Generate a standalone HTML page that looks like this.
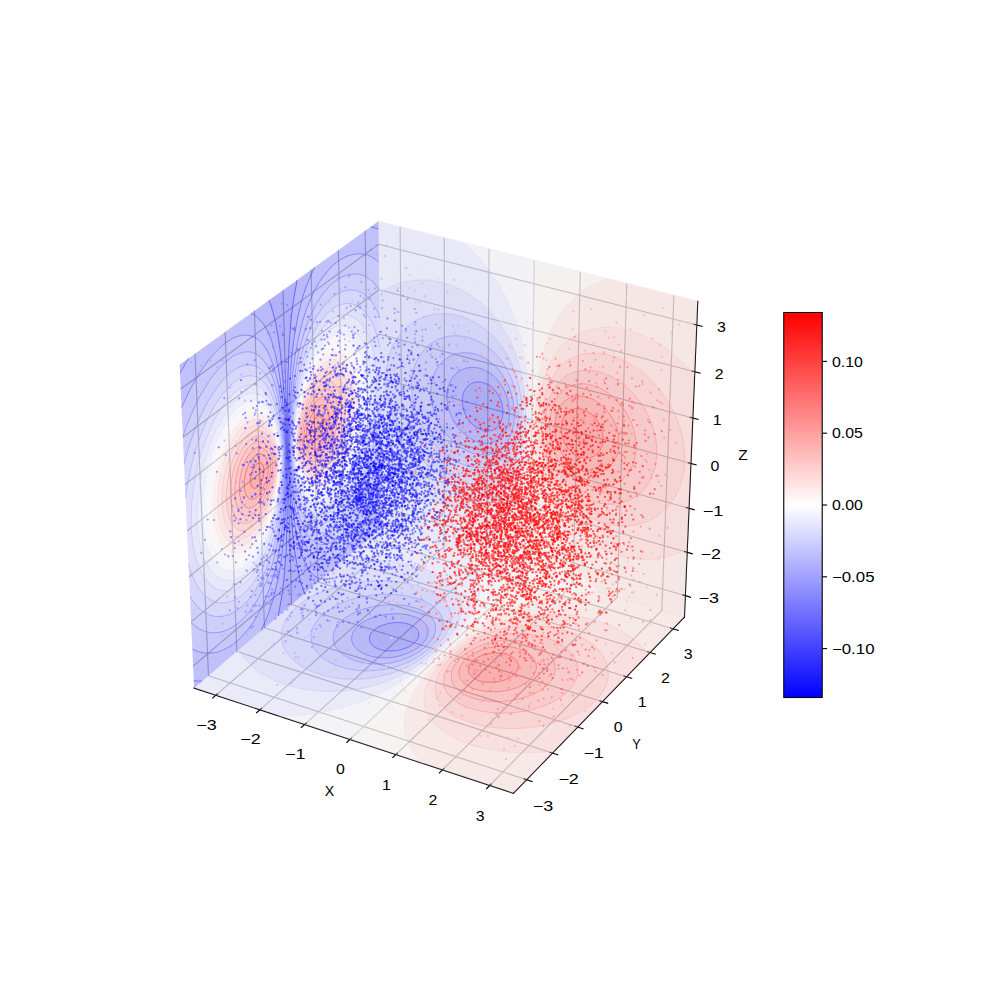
<!DOCTYPE html><html><head><meta charset="utf-8"><style>html,body{margin:0;padding:0;background:#fff}</style></head><body><svg width="1000" height="1000" viewBox="0 0 720 720" style="display:block"><defs><style type="text/css">*{stroke-linejoin:round;stroke-linecap:butt}</style></defs><g><g><path d="M0 720L720 720L720 0L0 0Z" style="fill:#ffffff"/></g><g><path d="M90 586.8L536.4 586.8L536.4 140.4L90 140.4Z" style="fill:#ffffff"/></g><g><g><path d="M139.7 495.4L274.8 379.8L272.4 159.4L129.4 262.6" style="fill:#f2f2f2;opacity:0.5;stroke:#f2f2f2;stroke-linejoin:miter"/></g></g><g><g><path d="M274.8 379.8L492.8 444.3L502.4 216.9L272.4 159.4" style="fill:#e6e6e6;opacity:0.5;stroke:#e6e6e6;stroke-linejoin:miter"/></g></g><g><g><path d="M139.7 495.4L369.7 571.2L492.8 444.3L274.8 379.8" style="fill:#ececec;opacity:0.5;stroke:#ececec;stroke-linejoin:miter"/></g></g><g><g><path d="M155.4 500.6L289.7 384.2L288.1 163.3" style="fill:none;stroke:#b0b0b0;stroke-width:0.8"/><path d="M187.2 511.1L319.9 393.2L319.9 171.3" style="fill:none;stroke:#b0b0b0;stroke-width:0.8"/><path d="M219.3 521.7L350.4 402.2L352.1 179.3" style="fill:none;stroke:#b0b0b0;stroke-width:0.8"/><path d="M251.9 532.4L381.3 411.3L384.7 187.5" style="fill:none;stroke:#b0b0b0;stroke-width:0.8"/><path d="M285 543.3L412.7 420.6L417.8 195.7" style="fill:none;stroke:#b0b0b0;stroke-width:0.8"/><path d="M318.5 554.4L444.4 430L451.3 204.1" style="fill:none;stroke:#b0b0b0;stroke-width:0.8"/><path d="M352.5 565.6L476.5 439.5L485.2 212.6" style="fill:none;stroke:#b0b0b0;stroke-width:0.8"/></g></g><g><g><path d="M140.4 254.7L150.1 486.6L379.2 561.4" style="fill:none;stroke:#b0b0b0;stroke-width:0.8"/><path d="M162.1 239L170.5 469.1L397.8 542.2" style="fill:none;stroke:#b0b0b0;stroke-width:0.8"/><path d="M183.2 223.8L190.4 452L416 523.5" style="fill:none;stroke:#b0b0b0;stroke-width:0.8"/><path d="M203.8 208.9L209.9 435.3L433.8 505.2" style="fill:none;stroke:#b0b0b0;stroke-width:0.8"/><path d="M224 194.3L228.9 419L451.1 487.3" style="fill:none;stroke:#b0b0b0;stroke-width:0.8"/><path d="M243.7 180.1L247.6 403.1L468.1 469.8" style="fill:none;stroke:#b0b0b0;stroke-width:0.8"/><path d="M262.9 166.2L265.8 387.5L484.6 452.7" style="fill:none;stroke:#b0b0b0;stroke-width:0.8"/></g></g><g><g><path d="M493.4 428.9L274.6 364.8L139 479.6" style="fill:none;stroke:#b0b0b0;stroke-width:0.8"/><path d="M494.7 397.6L274.3 334.5L137.6 447.7" style="fill:none;stroke:#b0b0b0;stroke-width:0.8"/><path d="M496.1 365.9L273.9 303.7L136.1 415.3" style="fill:none;stroke:#b0b0b0;stroke-width:0.8"/><path d="M497.5 333.7L273.6 272.4L134.7 382.3" style="fill:none;stroke:#b0b0b0;stroke-width:0.8"/><path d="M498.8 301L273.3 240.7L133.2 348.8" style="fill:none;stroke:#b0b0b0;stroke-width:0.8"/><path d="M500.3 267.7L272.9 208.6L131.7 314.8" style="fill:none;stroke:#b0b0b0;stroke-width:0.8"/><path d="M501.7 234L272.6 175.9L130.1 280.1" style="fill:none;stroke:#b0b0b0;stroke-width:0.8"/></g></g><g><g><path d="M139.7 495.4L369.7 571.2" style="fill:none;stroke:#000000;stroke-width:0.8;stroke-linecap:square"/></g><g><g><path d="M156.6 499.6L153.1 502.6" style="fill:none;stroke:#000000;stroke-width:0.8;stroke-linecap:square"/></g><g><text style="font-size:10px;font-family:'Liberation Sans',sans-serif;text-anchor:middle" x="148.7" y="525.4" textLength="14.74" lengthAdjust="spacingAndGlyphs">−3</text></g></g><g><g><path d="M188.3 510L184.8 513.1" style="fill:none;stroke:#000000;stroke-width:0.8;stroke-linecap:square"/></g><g><text style="font-size:10px;font-family:'Liberation Sans',sans-serif;text-anchor:middle" x="180.4" y="536" textLength="14.74" lengthAdjust="spacingAndGlyphs">−2</text></g></g><g><g><path d="M220.5 520.6L217 523.7" style="fill:none;stroke:#000000;stroke-width:0.8;stroke-linecap:square"/></g><g><text style="font-size:10px;font-family:'Liberation Sans',sans-serif;text-anchor:middle" x="212.6" y="546.7" textLength="14.74" lengthAdjust="spacingAndGlyphs">−1</text></g></g><g><g><path d="M253.1 531.4L249.7 534.5" style="fill:none;stroke:#000000;stroke-width:0.8;stroke-linecap:square"/></g><g><text style="font-size:10px;font-family:'Liberation Sans',sans-serif;text-anchor:middle" x="245.2" y="557.6" textLength="6.36" lengthAdjust="spacingAndGlyphs">0</text></g></g><g><g><path d="M286.1 542.2L282.8 545.4" style="fill:none;stroke:#000000;stroke-width:0.8;stroke-linecap:square"/></g><g><text style="font-size:10px;font-family:'Liberation Sans',sans-serif;text-anchor:middle" x="278.2" y="568.6" textLength="6.36" lengthAdjust="spacingAndGlyphs">1</text></g></g><g><g><path d="M319.6 553.3L316.3 556.5" style="fill:none;stroke:#000000;stroke-width:0.8;stroke-linecap:square"/></g><g><text style="font-size:10px;font-family:'Liberation Sans',sans-serif;text-anchor:middle" x="311.8" y="579.8" textLength="6.36" lengthAdjust="spacingAndGlyphs">2</text></g></g><g><g><path d="M353.6 564.5L350.4 567.8" style="fill:none;stroke:#000000;stroke-width:0.8;stroke-linecap:square"/></g><g><text style="font-size:10px;font-family:'Liberation Sans',sans-serif;text-anchor:middle" x="345.8" y="591.1" textLength="6.36" lengthAdjust="spacingAndGlyphs">3</text></g></g><g><text style="font-size:10px;font-family:'Liberation Sans',sans-serif;text-anchor:middle" x="237.2" y="573.4" textLength="6.85" lengthAdjust="spacingAndGlyphs">X</text></g></g><g><g><path d="M492.8 444.3L369.7 571.2" style="fill:none;stroke:#000000;stroke-width:0.8;stroke-linecap:square"/></g><g><g><path d="M377.3 560.8L383.1 562.7" style="fill:none;stroke:#000000;stroke-width:0.8;stroke-linecap:square"/></g><g><text style="font-size:10px;font-family:'Liberation Sans',sans-serif;text-anchor:middle" x="390.9" y="584.1" textLength="14.74" lengthAdjust="spacingAndGlyphs">−3</text></g></g><g><g><path d="M395.9 541.6L401.6 543.5" style="fill:none;stroke:#000000;stroke-width:0.8;stroke-linecap:square"/></g><g><text style="font-size:10px;font-family:'Liberation Sans',sans-serif;text-anchor:middle" x="409.4" y="564.7" textLength="14.74" lengthAdjust="spacingAndGlyphs">−2</text></g></g><g><g><path d="M414.1 522.9L419.8 524.7" style="fill:none;stroke:#000000;stroke-width:0.8;stroke-linecap:square"/></g><g><text style="font-size:10px;font-family:'Liberation Sans',sans-serif;text-anchor:middle" x="427.4" y="545.8" textLength="14.74" lengthAdjust="spacingAndGlyphs">−1</text></g></g><g><g><path d="M431.9 504.6L437.5 506.3" style="fill:none;stroke:#000000;stroke-width:0.8;stroke-linecap:square"/></g><g><text style="font-size:10px;font-family:'Liberation Sans',sans-serif;text-anchor:middle" x="445.1" y="527.3" textLength="6.36" lengthAdjust="spacingAndGlyphs">0</text></g></g><g><g><path d="M449.3 486.7L454.8 488.4" style="fill:none;stroke:#000000;stroke-width:0.8;stroke-linecap:square"/></g><g><text style="font-size:10px;font-family:'Liberation Sans',sans-serif;text-anchor:middle" x="462.3" y="509.3" textLength="6.36" lengthAdjust="spacingAndGlyphs">1</text></g></g><g><g><path d="M466.2 469.2L471.8 470.9" style="fill:none;stroke:#000000;stroke-width:0.8;stroke-linecap:square"/></g><g><text style="font-size:10px;font-family:'Liberation Sans',sans-serif;text-anchor:middle" x="479.1" y="491.6" textLength="6.36" lengthAdjust="spacingAndGlyphs">2</text></g></g><g><g><path d="M482.8 452.2L488.3 453.8" style="fill:none;stroke:#000000;stroke-width:0.8;stroke-linecap:square"/></g><g><text style="font-size:10px;font-family:'Liberation Sans',sans-serif;text-anchor:middle" x="495.5" y="474.4" textLength="6.36" lengthAdjust="spacingAndGlyphs">3</text></g></g><g><text style="font-size:10px;font-family:'Liberation Sans',sans-serif;text-anchor:middle" x="458.3" y="539.5" textLength="6.11" lengthAdjust="spacingAndGlyphs">Y</text></g></g><g><g><path d="M492.8 444.3L502.4 216.9" style="fill:none;stroke:#000000;stroke-width:0.8;stroke-linecap:square"/></g><g><g><path d="M491.6 428.3L497.1 430" style="fill:none;stroke:#000000;stroke-width:0.8;stroke-linecap:square"/></g><g><text style="font-size:10px;font-family:'Liberation Sans',sans-serif;text-anchor:middle" x="510.3" y="434.1" textLength="14.74" lengthAdjust="spacingAndGlyphs">−3</text></g></g><g><g><path d="M492.9 397.1L498.4 398.7" style="fill:none;stroke:#000000;stroke-width:0.8;stroke-linecap:square"/></g><g><text style="font-size:10px;font-family:'Liberation Sans',sans-serif;text-anchor:middle" x="511.8" y="402.8" textLength="14.74" lengthAdjust="spacingAndGlyphs">−2</text></g></g><g><g><path d="M494.2 365.4L499.8 367" style="fill:none;stroke:#000000;stroke-width:0.8;stroke-linecap:square"/></g><g><text style="font-size:10px;font-family:'Liberation Sans',sans-serif;text-anchor:middle" x="513.3" y="371.2" textLength="14.74" lengthAdjust="spacingAndGlyphs">−1</text></g></g><g><g><path d="M495.6 333.2L501.2 334.7" style="fill:none;stroke:#000000;stroke-width:0.8;stroke-linecap:square"/></g><g><text style="font-size:10px;font-family:'Liberation Sans',sans-serif;text-anchor:middle" x="514.8" y="339" textLength="6.36" lengthAdjust="spacingAndGlyphs">0</text></g></g><g><g><path d="M497 300.5L502.6 302" style="fill:none;stroke:#000000;stroke-width:0.8;stroke-linecap:square"/></g><g><text style="font-size:10px;font-family:'Liberation Sans',sans-serif;text-anchor:middle" x="516.3" y="306.3" textLength="6.36" lengthAdjust="spacingAndGlyphs">1</text></g></g><g><g><path d="M498.3 267.2L504.1 268.7" style="fill:none;stroke:#000000;stroke-width:0.8;stroke-linecap:square"/></g><g><text style="font-size:10px;font-family:'Liberation Sans',sans-serif;text-anchor:middle" x="517.8" y="273.1" textLength="6.36" lengthAdjust="spacingAndGlyphs">2</text></g></g><g><g><path d="M499.8 233.5L505.5 235" style="fill:none;stroke:#000000;stroke-width:0.8;stroke-linecap:square"/></g><g><text style="font-size:10px;font-family:'Liberation Sans',sans-serif;text-anchor:middle" x="519.4" y="239.4" textLength="6.36" lengthAdjust="spacingAndGlyphs">3</text></g></g><g><text style="font-size:10px;font-family:'Liberation Sans',sans-serif;text-anchor:middle" x="535" y="331.4" textLength="6.85" lengthAdjust="spacingAndGlyphs">Z</text></g></g><g><g><path style="fill:none;stroke:#0000ff;stroke-opacity:0.5;stroke-width:0.6"/><path d="M343.3 307.9L341.1 306.3L338.9 304.2L336.8 301.4L335.2 298.8L334.2 296.3L333.2 292.6L332.8 290.3L332.8 287L333.4 283.8L334.2 281.7L335.3 279.8L336.9 278L339 276.4L341.3 275.4L343.5 275L345.7 275L349 275.8L352.4 277.4L355.7 280.2L357.9 283L359.9 286.5L361.3 290.2L362.1 295L362.1 298.3L361.7 300.5L361.2 302.6L359.9 305.2L358.8 306.8L357.7 307.9L355.5 309.4L353.2 310.2L349.9 310.3L346.6 309.6L343.3 307.9Z" style="fill:none;stroke:#1e1eff;stroke-opacity:0.5;stroke-width:0.6"/><path d="M341 317L337.3 314.9L333.4 311.7L330.4 308.5L327.9 305.2L325.7 301.5L323.7 296.7L322.4 291.9L321.8 287.3L321.9 282.9L322.6 278.6L324.2 274.5L325.9 271.6L328.3 268.9L330.2 267.4L331.8 266.5L335.2 265.1L339.1 264.5L341.3 264.5L344.7 265L346.9 265.7L349.1 266.6L351.3 267.8L353.6 269.3L355.8 271.2L358 273.4L361.3 278L363.4 281.8L364.4 284.3L365.6 288L366.1 290.4L366.8 296.3L366.6 301.8L365.4 307.1L364.4 309.7L363.2 311.8L361.7 313.9L359.8 315.7L357.6 317.3L355.4 318.3L353.2 318.9L350.9 319.2L348.7 319.2L346.5 318.9L344.3 318.3L341 317Z" style="fill:none;stroke:#4040ff;stroke-opacity:0.5;stroke-width:0.6"/><path d="M335.5 324.3L332.2 322.5L330.1 321L325.7 317.3L321.4 312.6L317.5 307.2L314.7 302L312.3 295.8L310.8 289.8L310.3 286.4L310.1 283L310.2 279.7L310.6 276.4L311.9 271.2L313.1 268.2L314.1 266.2L316.7 262.4L318.3 260.6L320.3 258.9L322.5 257.3L324.7 256.1L326.9 255.2L329.4 254.5L332 254.1L334.7 253.9L338 254.1L341.4 254.7L344.7 255.8L348.1 257.3L351.4 259.3L353.6 261L357 263.9L359.2 266.4L361.4 269.3L363.6 272.7L365.8 277L367.2 280.5L368.4 284.3L369.5 289.1L370.1 293.8L370.3 297.2L370.2 301.7L369.9 305L369 309.2L368.1 312.3L366.8 315.3L365.2 318.2L363.1 321L360.9 323.2L358.7 324.8L355.3 326.4L353.1 327.1L349.8 327.6L346.5 327.5L343.2 327.1L339.9 326.2L335.5 324.3Z" style="fill:none;stroke:#6060ff;stroke-opacity:0.5;stroke-width:0.6"/><path d="M328.9 332.5L325.7 330.7L322.4 328.5L319.7 326.4L314.5 321.7L309.4 315.7L305 309.2L302.9 305.3L301.2 301.5L298.5 294.1L297 287.1L296.3 280.3L296.4 273.7L296.9 270.5L297.5 267.3L298.4 264.2L299.5 261.1L301 258.2L304.1 253.4L306 251.2L309.4 248L313.7 245.3L316 244.1L320.3 242.7L322.5 242.2L326.9 241.7L330.3 241.8L333.6 242.2L337 242.9L342.5 244.8L347 247.1L351.5 250.1L355.9 254L358.4 256.5L360.8 259.5L362.8 262.3L364.8 265.6L366.7 269L369.3 275.4L371.5 282.8L372.4 287.6L373.2 295.7L373.3 300.3L372.6 308L371.4 314.3L370.4 317.4L368.3 322.4L366 326.2L364.2 328.6L360.8 331.8L358.6 333.3L356.3 334.6L354.1 335.4L351.9 336.1L347.5 336.8L343.1 336.8L337.7 335.8L334.4 334.9L328.9 332.5" style="fill:none;stroke:#8080ff;stroke-opacity:0.5;stroke-width:0.6"/><path d="M330 346.8L324.6 344.9L320.3 343L315.9 340.6L311.6 337.7L307.3 334.4L304.1 331.5L299.9 327.4L296.2 323.1L293.1 318.9L289.6 313.6L286.7 308.4L284.3 303.4L282.3 298.5L280.8 293.7L279.5 288.9L278.4 283.1L277.8 277.5L277.7 271.9L278 266.4L278.6 262.2L279.5 258L281.1 252.8L282.8 248.8L285 244.9L287.6 241.1L290.6 237.6L293.6 234.8L296.9 232.3L300.4 230.2L304.1 228.5L308.1 227.2L312.5 226.3L317 225.8L322.5 226L328.1 226.8L333.7 228.4L339.2 230.7L344.8 233.8L349.3 237L353.8 240.9L358.3 245.7L361.6 250L364.9 255.2L367.6 260.1L369.8 265.3L372 271.6L373.7 278.2L374.9 284.9L375.7 291.9L375.9 299.9L375.6 307L374.7 314.1L373.2 321.1L371.3 326.6L369 331.5L366.3 335.9L362.9 339.8L359.6 342.7L355.2 345.3L350.7 347.1L346.3 348L340.9 348.4L335.4 348L330 346.8Z" style="fill:none;stroke:#a0a0ff;stroke-opacity:0.5;stroke-width:0.6"/><path d="M273 211.2L276.2 209L281.6 206.1L284.9 204.8L288.2 203.7L291.5 202.8L298.1 201.7L301.5 201.5L308 201.6L311.4 202L318.1 203.3L324.8 205.4L328.1 206.7L334.9 210.1L338.2 212.1L344.9 217L348.3 219.9L351.7 223.1L355.2 226.9L359.7 232.7L364.2 239.7L366.4 243.7L368.4 247.8L370.5 252.9L373.1 260.5L374.5 265.4L376.5 275.1L377.3 281L377.9 286.8L378.4 298.3L378 309.4L377.5 314.9L376 324.6L373.9 332.9L372.5 336.9L370 342.8L368.4 345.7L365 350.6L362.8 353.2L360.5 355.5L358.3 357.3L353.9 360.3L349.5 362.4L346.2 363.6L343 364.4L339.7 365L336.4 365.3L330 365.2L326.7 364.8L320.2 363.5L317 362.6L310.6 360.2L303.1 356.6L298.8 354L292.4 349.6L285.3 343.7L281.7 340.3L277.8 336.2L274.3 332" style="fill:none;stroke:#c0c0ff;stroke-opacity:0.5;stroke-width:0.6"/><path d="M333.4 174.6L339.5 180L343.7 184.3L349.6 191.1L353.5 196.2L356.5 200.4L359.8 205.7L363 211.5L366.9 219.5L369.1 224.7L371 229.9L374.2 240.3L375.7 246.1L378 258.3L379.6 271.3L380.1 278.3L380.7 294.4L380.4 311.2L379.9 319.5L378.5 333L377.4 339.4L375.1 349.8L372.2 358.9L370.4 363.4L368.4 367.6L364.6 374.1L362.5 377L359.8 380.3L355.8 384.5L350.9 388.5L348.2 390.3L345 392.2L341.7 393.8L338 395.3L332.7 397" style="fill:none;stroke:#e0e0ff;stroke-opacity:0.5;stroke-width:0.6"/><path d="M384.7 187.5L381.3 411.3" style="fill:none;stroke:#fffefe;stroke-opacity:0.5;stroke-width:0.6"/><path d="M437.1 200.6L430.7 202.9L427.1 204.6L423.3 206.7L419.9 208.9L416.3 211.5L412.7 214.7L409.8 217.6L407.3 220.5L402.9 226.4L400.8 229.7L398.4 234L394.8 242.1L393 247.2L390.2 256.9L389 262.4L387.1 274.5L386.4 281.2L385.4 296.8L385.3 312.6L385.5 321L386.5 335.3L387.4 342.5L388.5 349.2L391 360.9L392.7 366.9L394.7 373L398.1 381.6L400.4 386.6L403 391.8L407.6 399.5L410.9 404.3L417.4 412.6L421 416.6L427.3 422.8L430.9 426" style="fill:none;stroke:#ffdede;stroke-opacity:0.5;stroke-width:0.6"/><path d="M500.1 270.4L493.2 262.7L489.7 259.3L482.7 253.3L475.7 248.3L468.7 244.2L465 242.4L458.1 239.5L454.6 238.4L451 237.4L444 236.1L436.9 235.7L433.3 235.8L429.8 236.1L426.3 236.8L422.7 237.7L419.2 238.9L416.1 240.4L411.9 242.8L409.5 244.5L405.1 248.4L402.7 251.1L400.3 254.1L398.6 256.8L396.8 260L394.9 263.9L392.5 270.2L391.3 274.5L389.4 283.1L388.6 288.6L387.7 299.7L387.7 311L388.5 322.4L389.2 328.2L391.1 337.7L392.3 342.5L393.8 347.4L397.3 356.1L399.4 360.4L403.9 367.9L406.8 372L410.4 376.5L413.7 380.1L417 383.3L423.6 388.7L427 391L433.7 395L437 396.6L443.8 399.3L447.2 400.4L454 401.9L460.9 402.8L464.3 402.9L467.9 402.9L474.7 402.2L478.5 401.5L485.3 399.6L488.9 398.1L494.9 395.1" style="fill:none;stroke:#ffbebe;stroke-opacity:0.5;stroke-width:0.6"/><path d="M435.3 376.9L441 378.2L446.7 378.8L452.4 378.8L458.2 377.9L464.1 376.3L468.9 374.1L473.9 371.1L478 367.7L481.4 364.1L484.9 359.4L487.7 354.5L490.2 348.4L491.7 343L492.7 336.4L493.1 330.8L492.8 323.7L491.8 316.5L490.3 310.3L488.2 303.9L485.4 297.3L481.8 290.5L478.2 284.8L473.6 278.9L468.8 273.7L464.2 269.4L458.5 265L452.7 261.3L446.8 258.4L441 256.3L435.2 254.9L429.3 254.2L423.5 254.4L418.8 255.2L415.3 256.3L411.8 257.8L408.3 259.9L404.8 262.7L402.4 265.1L399.6 268.6L397.2 272.6L395.3 276.5L393.7 280.8L392.2 286.1L391.2 291.6L390.5 297.1L390.1 302.6L390.1 309.4L390.5 315.1L391.1 320.7L392.2 326.4L393.5 331.7L395.1 336.6L396.4 340.2L398.6 345L400.8 349L404.1 354.1L407.4 358.3L410.7 361.9L414 365.1L418.5 368.6L422.9 371.5L426.3 373.3L430.8 375.3L435.3 376.9Z" style="fill:none;stroke:#ff9e9e;stroke-opacity:0.5;stroke-width:0.6"/><path d="M421 358.5L425.5 360.6L430 362L434.5 362.8L439.1 363.1L443.7 362.8L448.4 361.8L452.2 360.5L456.4 358.3L459.8 355.8L462.6 353.2L465.7 349.5L468.1 345.7L469.9 341.6L471.6 336.4L472.5 332L472.9 326.4L472.7 320.6L472.1 315.8L470.7 309.6L469 304.6L466.8 299.3L464.5 295.1L461.2 289.9L457.8 285.5L454.4 281.8L449.8 277.6L446.3 275L441.7 272.1L437.1 269.8L432.5 268.1L427.8 267L423.2 266.6L419.7 266.7L416.2 267.2L412.7 268.2L410.4 269.2L408.1 270.5L405.7 272.2L403.4 274.3L401 277L399 280L397.5 282.7L396.3 285.4L395.1 288.9L394.2 292.4L393.4 296.7L392.7 304.5L392.8 309L393.1 313.6L393.5 317.1L394.4 321.8L396.6 329.4L398 332.9L399.9 336.9L402.1 340.7L404.3 344L408.7 349.3L410.9 351.4L414.2 354.3L417.6 356.6L421 358.5Z" style="fill:none;stroke:#ff7e7e;stroke-opacity:0.5;stroke-width:0.6"/><path d="M418.9 347.9L422.3 349.3L425.7 350.3L429.1 350.8L432.6 351L436 350.7L439.5 349.9L442.6 348.7L445.3 347.3L447.7 345.6L450.4 343L452.7 340.2L454.4 337.3L455.8 334.3L457.1 330.1L457.9 325.7L458.1 322.3L457.9 317.7L457.4 314.1L456.6 310.4L455.4 306.7L453.8 302.8L451.8 298.8L449.3 294.7L447 291.7L444.3 288.7L441.3 285.8L437.9 283L434.5 280.8L431 279.1L426.4 277.4L423 276.6L419.5 276.3L414.9 276.7L412.5 277.3L410.2 278.2L407.9 279.4L405.5 281.1L403.2 283.3L402 284.8L400.9 286.5L399.3 289.2L397.4 294.4L396.6 297.6L396 300.8L395.7 306.4L396.1 313.3L397.2 319.2L399.1 325.4L400.8 329.2L402.3 331.9L405.6 336.8L407.8 339.5L410 341.7L414.5 345.3L418.9 347.9Z" style="fill:none;stroke:#ff5e5e;stroke-opacity:0.5;stroke-width:0.6"/><path d="M416.9 338.2L419.2 339.2L421.4 339.8L424.8 340.4L427.1 340.5L429.4 340.3L431.7 339.8L434.1 339L436.4 337.7L438.4 336.3L440.2 334.5L441.7 332.7L443.4 329.7L444.3 327.7L445.2 324.5L445.6 322.3L445.8 319L445.6 315.5L445.3 313.1L444.4 309.4L443.6 306.9L442.5 304.3L440.9 301.2L439.4 298.9L437.3 296L435.3 293.8L432.5 291.3L429.6 289.1L427.3 287.8L425 286.7L421.6 285.6L419.3 285.2L417 285.1L413.5 285.4L410 286.5L407.7 287.9L406.5 288.8L404.2 291.2L402.1 294.5L400.6 298L399.5 302.9L399.2 307.4L399.5 312L400.4 316.7L402.1 321.7L403.9 325.6L406.8 329.9L410.2 333.6L413.5 336.2L416.9 338.2Z" style="fill:none;stroke:#ff3e3e;stroke-opacity:0.5;stroke-width:0.6"/><path d="M413.7 327.4L417.1 329.1L420.5 329.9L424 329.8L425.7 329.4L427.4 328.7L429.8 327L432 324.3L433.4 321.3L434.1 318.1L434.2 315.8L434.1 313.5L433.4 309.9L431.9 306L429.3 301.9L426.5 298.8L423.6 296.6L420.2 295L416.8 294.2L414.5 294.2L412.2 294.7L409.8 295.8L408.1 297.3L406.5 299.2L405.5 301.1L404.7 303.2L404.1 306.4L404 308.7L404.3 312.2L404.9 314.8L406.1 318.3L407.6 321L409.2 323.3L411.5 325.7L413.7 327.4Z" style="fill:none;stroke:#ff1e1e;stroke-opacity:0.5;stroke-width:0.6"/><path style="fill:none;stroke:#ff0000;stroke-opacity:0.5;stroke-width:0.6"/></g><g><path d="M343.3 307.9L346.6 309.6L348.8 310.2L352.1 310.3L354.3 309.9L356.6 308.8L358.8 306.8L360.3 304.6L361.5 301.5L362.1 298.3L362.1 295L361.6 291.4L360.5 287.8L359 284.7L356.8 281.5L354.6 279.2L352.4 277.4L350.2 276.2L346.8 275.2L343.5 275L341.3 275.4L339 276.4L336.8 278L334.7 280.8L333.5 283.7L332.8 287L332.8 290.3L333.4 293.8L334.2 296.3L335.6 299.5L337.8 302.8L340 305.3L342.6 307.5Z" style="fill:#0e0eff;fill-opacity:0.3"/><path d="M341 317L345.4 318.6L347.6 319.1L349.8 319.2L352.1 319.1L354.3 318.7L357.6 317.3L359.8 315.7L361 314.7L363.2 311.8L364.4 309.7L365.4 307.1L366.4 302.9L366.8 297.4L366.5 292.8L365.9 289.2L365.2 286.8L363.4 281.8L362 279.1L360.2 276.3L356.9 272.2L353.6 269.3L351.3 267.8L349.1 266.6L346.9 265.7L344.7 265L342.4 264.6L340.2 264.4L338 264.6L335.8 265L333.5 265.7L331.8 266.5L330.2 267.4L328.3 268.9L326.6 270.7L325.3 272.6L323.3 276.5L322.2 280.7L321.7 285.1L321.9 288.4L322.2 290.7L322.9 294.3L323.7 296.7L325.9 301.7L329 306.8L332.3 310.6L334.5 312.7L336.7 314.4L341 317ZM342.6 307.5L340 305.3L337.8 302.8L335.6 299.5L334.2 296.3L333.4 293.8L332.8 290.3L332.8 287L333.5 283.7L334.7 280.8L336.8 278L339 276.4L341.3 275.4L343.5 275L346.8 275.2L350.2 276.2L352.4 277.4L354.6 279.2L356.8 281.5L359 284.7L360.5 287.8L361.6 291.4L362.1 295L362.1 298.3L361.5 301.5L360.3 304.6L358.8 306.8L356.6 308.8L354.3 309.9L352.1 310.3L348.8 310.2L346.6 309.6L343.3 307.9Z" style="fill:#3030ff;fill-opacity:0.3"/><path d="M335.5 324.3L338.8 325.8L342.1 326.8L345.4 327.4L347.6 327.6L350.9 327.4L353.1 327.1L355.3 326.4L357.5 325.4L359.8 324L362 322.2L363.9 320.1L365.4 318L366.5 316L367.7 313.3L368.8 310.3L369.5 307.1L370 303.9L370.3 300.6L370.3 296.1L370 292.6L369.3 287.9L368.4 284.3L367.2 280.5L365.8 277L364.4 274.1L362.5 270.9L360.3 267.8L358.1 265.1L353.6 261L351.4 259.3L348.1 257.3L345.8 256.3L342.5 255L339.1 254.3L335.8 253.9L332.5 254L330.2 254.3L327.3 255.1L324.7 256.1L322.5 257.3L320.3 258.9L318.1 260.8L315.9 263.4L314.1 266.2L312.6 269.2L311.5 272.2L310.8 275.4L310.3 278.6L310.1 281.9L310.2 285.2L310.6 288.7L311.3 292.2L312.3 295.8L313.6 299.5L315.3 303.2L317 306.4L319.3 309.9L321.4 312.6L323.9 315.6L326.8 318.3L329.2 320.3L332.2 322.5L335.5 324.3ZM341 317L336.7 314.4L334.5 312.7L332.3 310.6L329 306.8L325.9 301.7L323.7 296.7L322.9 294.3L322.2 290.7L321.9 288.4L321.7 285.1L322.2 280.7L323.3 276.5L325.3 272.6L326.6 270.7L328.3 268.9L330.2 267.4L331.8 266.5L333.5 265.7L335.8 265L338 264.6L340.2 264.4L342.4 264.6L344.7 265L346.9 265.7L349.1 266.6L351.3 267.8L353.6 269.3L356.9 272.2L360.2 276.3L362 279.1L363.4 281.8L365.2 286.8L365.9 289.2L366.5 292.8L366.8 297.4L366.4 302.9L365.4 307.1L364.4 309.7L363.2 311.8L361 314.7L359.8 315.7L357.6 317.3L354.3 318.7L352.1 319.1L349.8 319.2L347.6 319.1L345.4 318.6L341 317Z" style="fill:#5050ff;fill-opacity:0.3"/><path d="M328.9 332.5L332.2 334L336.6 335.5L340.9 336.5L344.2 336.8L347.5 336.8L350.8 336.3L354.1 335.4L357.5 334L360.8 331.8L363 329.8L365.3 327.2L367.2 324.3L368.8 321.4L370.4 317.4L371.4 314.3L372.3 310.1L372.9 305.8L373.3 300.3L373.2 295.7L372.9 291.1L372.2 286.4L371.2 281.6L369.8 276.7L368.1 272.3L365.9 267.6L363.7 263.7L361.5 260.4L358.2 256.3L354.8 252.9L351.5 250.1L348.1 247.8L344.8 245.9L341.4 244.4L337 242.9L332.5 242L329.2 241.7L324.7 241.9L321.4 242.4L318.1 243.4L314.4 244.9L311.5 246.6L308.4 248.9L305.6 251.6L303.4 254.3L301.5 257.2L299.5 261.1L298.1 265.2L297.1 269.4L296.4 273.7L296.2 278.1L296.4 282.6L297 287.1L297.9 291.8L299.3 296.6L301.2 301.5L302.9 305.3L305 309.2L307.6 313.2L310.7 317.3L313.8 320.9L317 324.1L320.3 326.9L324.6 330L328.1 332.1ZM335.5 324.3L332.2 322.5L329.2 320.3L326.8 318.3L323.9 315.6L321.4 312.6L319.3 309.9L317 306.4L315.3 303.2L313.6 299.5L312.3 295.8L311.3 292.2L310.6 288.7L310.2 285.2L310.1 281.9L310.3 278.6L310.8 275.4L311.5 272.2L312.6 269.2L314.1 266.2L315.9 263.4L318.1 260.8L320.3 258.9L322.5 257.3L324.7 256.1L327.3 255.1L330.2 254.3L332.5 254L335.8 253.9L339.1 254.3L342.5 255L345.8 256.3L348.1 257.3L351.4 259.3L353.6 261L358.1 265.1L360.3 267.8L362.5 270.9L364.4 274.1L365.8 277L367.2 280.5L368.4 284.3L369.3 287.9L370 292.6L370.3 296.1L370.3 300.6L370 303.9L369.5 307.1L368.8 310.3L367.7 313.3L366.5 316L365.4 318L363.9 320.1L362 322.2L359.8 324L357.5 325.4L355.3 326.4L353.1 327.1L350.9 327.4L347.6 327.6L345.4 327.4L342.1 326.8L338.8 325.8L335.5 324.3Z" style="fill:#7070ff;fill-opacity:0.3"/><path d="M330 346.8L335.4 348L339.8 348.4L344.2 348.3L348.5 347.6L352.9 346.3L356.3 344.8L359.6 342.7L362.9 339.8L366.3 335.9L368.6 332.4L370.8 327.8L372.4 323.6L373.9 318.4L375 312L375.6 306.5L375.9 299.9L375.7 293L375.1 286.1L374.1 280.1L372.7 274.1L371.2 269.1L369.3 264L367.2 259.3L363.8 253.3L360.5 248.5L357.1 244.4L353.8 240.9L349.3 237L344.8 233.8L340.4 231.3L335.9 229.2L331.4 227.7L325.8 226.4L321.4 225.9L315.9 225.9L311.4 226.4L307 227.5L302.5 229.2L298.2 231.5L293.9 234.6L289.9 238.3L286.9 242L284.4 245.9L281.9 250.8L280.1 255.9L278.8 261.1L278 266.4L277.7 271.9L277.8 277.5L278.4 283.1L279.5 288.9L281.1 294.8L283.3 300.9L286.1 307.1L288.8 312.3L292.1 317.6L296.2 323.1L299.9 327.4L304.5 331.9L309.5 336.1L313.8 339.2L319.2 342.4L323.5 344.5L328.9 346.5ZM328.1 332.1L324.6 330L320.3 326.9L317 324.1L313.8 320.9L310.7 317.3L307.6 313.2L305 309.2L302.9 305.3L301.2 301.5L299.3 296.6L297.9 291.8L297 287.1L296.4 282.6L296.2 278.1L296.4 273.7L297.1 269.4L298.1 265.2L299.5 261.1L301.5 257.2L303.4 254.3L305.6 251.6L308.4 248.9L311.5 246.6L314.4 244.9L318.1 243.4L321.4 242.4L324.7 241.9L329.2 241.7L332.5 242L337 242.9L341.4 244.4L344.8 245.9L348.1 247.8L351.5 250.1L354.8 252.9L358.2 256.3L361.5 260.4L363.7 263.7L365.9 267.6L368.1 272.3L369.8 276.7L371.2 281.6L372.2 286.4L372.9 291.1L373.2 295.7L373.3 300.3L372.9 305.8L372.3 310.1L371.4 314.3L370.4 317.4L368.8 321.4L367.2 324.3L365.3 327.2L363 329.8L360.8 331.8L357.5 334L354.1 335.4L350.8 336.3L347.5 336.8L344.2 336.8L340.9 336.5L336.6 335.5L332.2 334L328.9 332.5Z" style="fill:#9090ff;fill-opacity:0.3"/><path d="M314.9 361.9L321.3 363.8L327.8 365L334.3 365.3L339.7 365L345.2 363.9L350.6 361.9L355 359.6L359.5 356.4L362.8 353.2L366.6 348.5L369.5 343.6L372.2 337.9L374.2 331.9L376 324.6L377.2 317.1L378.1 308.3L378.4 299.4L378.1 290.3L377.3 281L376 272.5L374.2 264.2L371.9 256.7L369.5 250.3L366.2 243.3L362.9 237.4L358.4 230.9L353.9 225.5L348.3 219.9L342.7 215.2L337.1 211.4L331.5 208.3L324.8 205.4L318.1 203.3L314.7 202.5L310.3 201.8L303.6 201.4L297 201.8L290.4 203.1L284.2 205L278.4 207.7L273 211.2L274.3 332L278.5 336.9L283.6 342.1L288.1 346.2L293.3 350.3L298.8 354L304.2 357.2L309.5 359.8L314.2 361.7ZM328.9 346.5L323.5 344.5L319.2 342.4L313.8 339.2L309.5 336.1L304.5 331.9L299.9 327.4L296.2 323.1L292.1 317.6L288.8 312.3L286.1 307.1L283.3 300.9L281.1 294.8L279.5 288.9L278.4 283.1L277.8 277.5L277.7 271.9L278 266.4L278.8 261.1L280.1 255.9L281.9 250.8L284.4 245.9L286.9 242L289.9 238.3L293.9 234.6L298.2 231.5L302.5 229.2L307 227.5L311.4 226.4L315.9 225.9L321.4 225.9L325.8 226.4L331.4 227.7L335.9 229.2L340.4 231.3L344.8 233.8L349.3 237L353.8 240.9L357.1 244.4L360.5 248.5L363.8 253.3L367.2 259.3L369.3 264L371.2 269.1L372.7 274.1L374.1 280.1L375.1 286.1L375.7 293L375.9 299.9L375.6 306.5L375 312L373.9 318.4L372.4 323.6L370.8 327.8L368.6 332.4L366.3 335.9L362.9 339.8L359.6 342.7L356.3 344.8L352.9 346.3L348.5 347.6L344.2 348.3L339.8 348.4L335.4 348L330 346.8Z" style="fill:#b0b0ff;fill-opacity:0.3"/><path d="M275.8 380.1L332.7 397L335.2 396.3L338.5 395.2L342.8 393.3L346.1 391.6L349.3 389.6L354.8 385.4L358.1 382.2L360.3 379.7L364.8 373.8L367 370.1L368.9 366.6L372.2 358.9L374.8 350.8L376.2 345.5L377.4 339.7L379.1 327.7L380.3 313.4L380.7 298.9L380.4 284.1L379.5 270.1L377.8 257.1L375.3 244.6L372.2 233.7L368.7 223.8L364.2 213.9L359.8 205.7L354.1 197.1L350.8 192.5L347.4 188.4L340.6 181.2L333.4 174.6L272.4 159.4L273 211.2L277.9 208L282.7 205.6L288.2 203.7L293.7 202.3L299.2 201.6L304.7 201.5L310.3 201.8L315.8 202.8L321.4 204.2L327 206.2L332.6 208.8L337.1 211.4L342.7 215.2L347.2 218.9L351.7 223.1L356.2 228.1L359.5 232.4L362.9 237.4L366.2 243.3L368.9 249L371 254.1L373.1 260.5L375 267.4L376.3 273.9L377.3 281L378.1 289.1L378.3 296L378.3 303.9L377.8 311.6L376.9 319.2L375.8 325.6L374.2 331.9L371.8 338.8L370.4 341.9L368.4 345.6L366.2 349.1L363.9 352L361.7 354.4L359.5 356.4L357.2 358.1L353.9 360.3L350.6 361.9L347.3 363.2L344.1 364.2L340.8 364.8L334.3 365.3L331 365.3L326.7 364.8L323.5 364.3L319.2 363.3L314.9 361.9L310.6 360.2L303.1 356.6L295.6 351.9L288.1 346.2L283.9 342.4L280.7 339.2L274.3 332L274.8 379.8Z" style="fill:#d0d0ff;fill-opacity:0.3"/><path d="M333.1 397.1L381.3 411.3L384.7 187.5L333.4 174.6L338.3 179L344 184.6L349.6 191.1L354.1 197.1L358.6 203.9L363.1 211.7L366.5 218.6L369.8 226.6L372.6 234.9L374.8 242.4L376.7 251L378.2 259.5L379.2 267.8L380.1 277.2L380.6 287.6L380.7 297.8L380.5 309L379.9 319L379 328.7L377.8 337.3L376.2 345.5L374.2 352.8L371.9 359.8L369.3 365.8L365.9 372L362.5 377L358.1 382.2L353.7 386.3L349.3 389.6L343.9 392.8L338.5 395.2L332.7 397Z" style="fill:#f0f0ff;fill-opacity:0.3"/><path d="M381.9 411.5L430.9 426L425.1 420.7L419.6 415.1L414.1 408.6L409.8 402.7L405.5 396L401.1 388.2L397.9 381.3L394.7 373.1L392.3 365.7L390.1 357.4L388.4 349L387.1 339.9L386.1 330.7L385.5 320.5L385.2 310.3L385.4 299.1L385.8 289L386.6 278.9L387.7 270.1L389.3 261.3L391.2 253.2L393.3 246.1L396 239.2L398.7 233.5L402 227.7L405.6 222.6L410.3 217L415.1 212.5L419.9 208.9L425.9 205.2L431.9 202.4L437.1 200.6L384.7 187.5L381.3 411.3Z" style="fill:#fff0f0;fill-opacity:0.3"/><path d="M429.5 424.8L430.9 426L492.8 444.3L494.9 395.1L490.1 397.6L484.4 399.9L479.4 401.3L473.6 402.4L467.8 402.9L462 402.9L456.3 402.3L449.4 401L443.8 399.3L438.1 397.1L432.5 394.4L427 391L421.4 387L417 383.3L412.6 378.9L408.2 373.8L404.9 369.4L401.6 364.3L398.4 358.3L395.7 352.3L393.4 346.1L391.7 340.1L390.3 334.1L389 327.1L388.1 319L387.7 311L387.6 303.1L388 295.2L388.8 287.5L389.8 280.9L391.3 274.5L393.2 268.2L394.5 265L396.3 260.8L398 257.8L400.3 254.1L402.7 251.1L405.1 248.4L407.4 246.2L411 243.4L413.3 241.9L416.8 240L420.4 238.5L423.9 237.3L427.4 236.5L431 236L434.5 235.7L438.1 235.7L441.6 235.9L446.3 236.5L449.8 237.1L454.6 238.4L459.3 240L462.8 241.4L467.5 243.6L471 245.5L475.7 248.3L479.2 250.7L486.3 256.2L493.3 262.8L500.1 270.4L502.4 216.9L437.1 200.6L433.1 202L429.5 203.5L425.9 205.2L422.3 207.3L416.3 211.5L412.7 214.7L410.3 217L405.6 222.6L403.2 225.9L400.8 229.7L397.2 236.5L393.6 245.4L392 250.4L390.5 255.8L388.2 266.8L386.5 280L385.5 294.6L385.2 310.3L385.8 326.2L387.1 339.9L389.1 352.7L391.5 363L394.7 373.1L396.9 378.7L399 383.7L403.3 392.2L408.7 401.1L412 405.8L415.2 410L421.8 417.4L429 424.4Z" style="fill:#ffcece;fill-opacity:0.3"/><path d="M442.7 398.9L449.4 401L456.3 402.3L463.2 402.9L470.1 402.8L477.1 401.8L482.9 400.3L488.9 398.1L494.9 395.1L500.1 270.4L495.5 265.1L490.9 260.4L486.2 256.2L481.6 252.4L476.7 248.9L471 245.5L465.2 242.4L459.3 240L452.2 237.7L446.3 236.5L440.4 235.8L433.3 235.8L427.4 236.5L421.6 238.1L415.7 240.6L411 243.4L406.2 247.3L402.7 251.1L399.1 255.9L395.6 262.4L393.2 268.2L391 275.5L389.5 282.5L388.4 290.8L387.7 299.7L387.6 308.7L388 317.8L389 327.1L390.5 335.3L392.7 343.7L395.1 350.9L398.4 358.3L402.7 366.1L407.1 372.4L411.5 377.7L417 383.3L422.5 387.9L429.2 392.5L435.9 396.1L442.5 398.9ZM434.9 376.8L429.7 374.9L424 372.2L419.6 369.4L415.1 366L410.7 361.9L407.4 358.3L404.1 354.1L400.8 349L397.6 342.9L395.5 337.8L393.8 332.9L392.3 326.9L391.1 320.7L390.4 314L390.1 308.3L390.2 301.5L390.7 294.8L391.5 289.4L392.9 283.4L394.4 278.7L396.5 273.9L398.9 269.7L401.2 266.5L404.8 262.7L408.3 259.9L411.8 257.8L416.5 255.9L421.2 254.7L425.8 254.2L430.5 254.3L435.2 254.9L441 256.3L446.8 258.4L451.5 260.7L457 264L461.9 267.5L466.5 271.5L471.1 276.1L475.7 281.5L479.2 286.3L482.6 291.9L485.4 297.3L487.7 302.6L489.9 309L491.5 315.3L492.5 321.4L493 327.3L493 333L492.5 338.7L491.4 344.1L489.8 349.4L487.7 354.5L484.9 359.4L482.2 363.2L478.9 366.8L475 370.3L470.2 373.4L465.9 375.5L460.6 377.4L456 378.3L451.3 378.8L445.5 378.8L441 378.2L435.3 376.9Z" style="fill:#ffaeae;fill-opacity:0.3"/><path d="M435.3 376.9L441 378.2L445.5 378.8L451.3 378.8L456 378.3L460.6 377.4L465.9 375.5L470.2 373.4L475 370.3L478.9 366.8L482.2 363.2L484.9 359.4L487.7 354.5L489.8 349.4L491.4 344.1L492.5 338.7L493 333L493 327.3L492.5 321.4L491.5 315.3L489.9 309L487.7 302.6L485.4 297.3L482.6 291.9L479.2 286.3L475.7 281.5L471.1 276.1L466.5 271.5L461.9 267.5L457 264L451.5 260.7L446.8 258.4L441 256.3L435.2 254.9L430.5 254.3L425.8 254.2L421.2 254.7L416.5 255.9L411.8 257.8L408.3 259.9L404.8 262.7L401.2 266.5L398.9 269.7L396.5 273.9L394.4 278.7L392.9 283.4L391.5 289.4L390.7 294.8L390.2 301.5L390.1 308.3L390.4 314L391.1 320.7L392.3 326.9L393.8 332.9L395.5 337.8L397.6 342.9L400.8 349L404.1 354.1L407.4 358.3L410.7 361.9L415.1 366L419.6 369.4L424 372.2L429.7 374.9L434.9 376.8ZM420.3 358.2L416.5 355.9L413.1 353.4L409.8 350.4L406.5 346.8L403.9 343.5L401.3 339.4L399.2 335.5L397.5 331.7L395.7 326.7L394.5 322.2L393.5 317.1L393 312.4L392.7 307.9L392.8 302.2L393.4 296.7L394.2 292.4L395.3 288.1L396.9 284L398.7 280.5L401 277.1L403.4 274.3L405.7 272.2L408.1 270.5L411.6 268.7L415.1 267.5L418.6 266.8L422 266.6L425.5 266.7L429 267.3L432.5 268.1L437.1 269.8L440.6 271.4L445.2 274.2L448.6 276.7L452.1 279.6L455.5 283L458.8 286.7L462 291L464.6 295.2L466.7 299.3L468.5 303.3L470.3 308.4L471.4 312.1L472.3 317L472.8 321.8L472.9 326.4L472.6 330.9L471.9 335.3L470.7 339.5L469.1 343.7L466.9 347.6L465 350.5L462.6 353.2L459.8 355.8L456.4 358.3L453 360.1L448.7 361.7L444.9 362.6L441.4 363L436.8 363L433.4 362.7L428.9 361.7L424.3 360.1L421 358.5Z" style="fill:#ff9090;fill-opacity:0.3"/><path d="M421 358.5L424.3 360.1L428.9 361.7L433.4 362.7L436.8 363L441.4 363L444.9 362.6L448.7 361.7L453 360.1L456.4 358.3L459.8 355.8L462.6 353.2L465 350.5L466.9 347.6L469.1 343.7L470.7 339.5L471.9 335.3L472.6 330.9L472.9 326.4L472.8 321.8L472.3 317L471.4 312.1L470.3 308.4L468.5 303.3L466.7 299.3L464.6 295.2L462 291L458.8 286.7L455.5 283L452.1 279.6L448.6 276.7L445.2 274.2L440.6 271.4L437.1 269.8L432.5 268.1L429 267.3L425.5 266.7L422 266.6L418.6 266.8L415.1 267.5L411.6 268.7L408.1 270.5L405.7 272.2L403.4 274.3L401 277.1L398.7 280.5L396.9 284L395.3 288.1L394.2 292.4L393.4 296.7L392.8 302.2L392.7 307.9L393 312.4L393.5 317.1L394.5 322.2L395.7 326.7L397.5 331.7L399.2 335.5L401.3 339.4L403.9 343.5L406.5 346.8L409.8 350.4L413.1 353.4L416.5 355.9L420.3 358.2ZM418.3 347.5L415.6 346L413.3 344.5L410 341.7L407.8 339.5L405.6 336.8L403.3 333.7L401.5 330.5L400.1 327.6L398.7 324.1L397.5 320.5L396.7 316.8L396 312.1L395.7 308.7L395.7 304.2L396 300.8L396.6 297.6L397.4 294.4L398.4 291.3L399.7 288.5L400.9 286.5L402.4 284.3L404.4 282.1L406.7 280.2L409 278.7L411.4 277.7L413.7 277L416 276.5L419.5 276.3L421.8 276.5L425.3 277.1L428.7 278.1L432.2 279.6L435.6 281.5L437.9 283L440.9 285.4L443.6 287.9L445.9 290.4L448.1 293.1L450.4 296.4L452.6 300.2L454.4 304.1L455.8 307.9L456.9 311.7L457.6 315.3L458 318.9L458.1 322.3L457.9 325.7L457.4 329L456.5 332.2L455.4 335.3L453.9 338.3L452 341.2L450.1 343.4L447.7 345.6L445.3 347.3L443 348.5L440.7 349.5L437.2 350.5L434.2 350.9L431.4 351L428 350.7L424.6 350L421.2 348.9L418.9 347.9Z" style="fill:#ff6e6e;fill-opacity:0.3"/><path d="M418.9 347.9L421.2 348.9L424.6 350L428 350.7L431.4 351L434.2 350.9L437.2 350.5L440.7 349.5L443 348.5L445.3 347.3L447.7 345.6L450.1 343.4L452 341.2L453.9 338.3L455.4 335.3L456.5 332.2L457.4 329L457.9 325.7L458.1 322.3L458 318.9L457.6 315.3L456.9 311.7L455.8 307.9L454.4 304.1L452.6 300.2L450.4 296.4L448.1 293.1L445.9 290.4L443.6 287.9L440.9 285.4L437.9 283L435.6 281.5L432.2 279.6L428.7 278.1L425.3 277.1L421.8 276.5L419.5 276.3L416 276.5L413.7 277L411.4 277.7L409 278.7L406.7 280.2L404.4 282.1L402.4 284.3L400.9 286.5L399.7 288.5L398.4 291.3L397.4 294.4L396.6 297.6L396 300.8L395.7 304.2L395.7 308.7L396 312.1L396.7 316.8L397.5 320.5L398.7 324.1L400.1 327.6L401.5 330.5L403.3 333.7L405.6 336.8L407.8 339.5L410 341.7L413.3 344.5L415.6 346L418.3 347.5ZM416.9 338.2L414.6 337L412.4 335.4L409 332.5L405.6 328.3L403.9 325.6L402.4 322.6L401.4 319.9L400.4 316.7L399.5 312L399.2 306.2L399.4 304L399.9 300.8L400.6 298L401.6 295.5L402.6 293.5L403.9 291.6L406.5 288.8L407.7 287.9L410 286.5L413.5 285.4L415.8 285.1L418.1 285.1L420.4 285.4L422.7 285.9L425 286.7L427.3 287.8L429.6 289.1L431.9 290.8L435.9 294.5L439.4 298.9L442 303.3L444 308.2L444.8 310.7L445.5 314.3L445.8 319L445.6 322.3L445.2 324.5L443.9 328.7L442.9 330.7L441.7 332.7L440.2 334.5L438.4 336.3L436.4 337.7L434.7 338.7L432.9 339.4L430.6 340.1L428.3 340.4L426 340.5L423.7 340.3L421.4 339.8L419.2 339.2L416.9 338.2Z" style="fill:#ff4e4e;fill-opacity:0.3"/><path d="M416.9 338.2L419.2 339.2L421.4 339.8L423.7 340.3L426 340.5L428.3 340.4L430.6 340.1L432.9 339.4L434.7 338.7L436.4 337.7L438.4 336.3L440.2 334.5L441.7 332.7L442.9 330.7L443.9 328.7L445.2 324.5L445.6 322.3L445.8 319L445.5 314.3L444.8 310.7L444 308.2L442 303.3L439.4 298.9L435.9 294.5L431.9 290.8L429.6 289.1L427.3 287.8L425 286.7L422.7 285.9L420.4 285.4L418.1 285.1L415.8 285.1L413.5 285.4L410 286.5L407.7 287.9L406.5 288.8L403.9 291.6L402.6 293.5L401.6 295.5L400.6 298L399.9 300.8L399.4 304L399.2 306.2L399.5 312L400.4 316.7L401.4 319.9L402.4 322.6L403.9 325.6L405.6 328.3L409 332.5L412.4 335.4L414.6 337L416.9 338.2ZM413.2 327L410.4 324.6L408.1 321.9L406.1 318.3L405.2 315.8L404.3 312.2L404 308.7L404.2 305.3L405.1 301.9L406.5 299.2L408.7 296.7L411 295.2L413.3 294.4L415.6 294.2L419.1 294.6L422.5 296L424.8 297.4L427 299.3L429.3 301.9L431.5 305.3L433 308.6L433.7 311.1L434.2 314.7L434.1 318.1L433.4 321.4L432 324.3L429.8 327L427.4 328.7L425.1 329.6L422.8 330L419.4 329.8L416 328.7L413.7 327.4Z" style="fill:#ff2e2e;fill-opacity:0.3"/><path d="M413.7 327.4L416 328.7L419.4 329.8L422.8 330L425.1 329.6L427.4 328.7L429.8 327L432 324.3L433.4 321.4L434.1 318.1L434.2 314.7L433.7 311.1L433 308.6L431.5 305.3L429.3 301.9L427 299.3L424.8 297.4L422.5 296L419.1 294.6L415.6 294.2L413.3 294.4L411 295.2L408.7 296.7L406.5 299.2L405.1 301.9L404.2 305.3L404 308.7L404.3 312.2L405.2 315.8L406.1 318.3L408.1 321.9L410.4 324.6L413.2 327Z" style="fill:#ff0e0e;fill-opacity:0.3"/></g><g><path style="fill:none;stroke:#0000ff;stroke-opacity:0.5;stroke-width:0.6"/><path d="M269.9 466L267.9 464.3L266.4 462.3L266.1 461.3L265.9 459.7L266.4 457.4L267.6 455.3L270.1 452.9L272.7 451.3L275.9 449.9L279.9 448.8L283.5 448.3L287.9 448.2L291.9 448.7L295.2 449.7L298.1 451.1L300.3 453.1L301.3 454.9L301.6 457.1L301.3 458.6L300.7 460.1L299.3 462L298.1 463.2L295.7 464.9L293.7 466.1L290.9 467.2L287.7 468.1L284.9 468.6L280.2 468.8L277.5 468.6L275 468.1L272.8 467.4L269.9 466Z" style="fill:none;stroke:#1e1eff;stroke-opacity:0.5;stroke-width:0.6"/><path d="M261.8 470.6L258.2 468.4L256.6 467.1L255 465.2L254.2 463.9L253.4 461.9L253.1 459.7L253.3 458.1L253.7 456.4L254.6 454.5L255.4 453.2L257.1 451.3L259 449.5L261.4 447.8L266.3 445.4L272.4 443.3L278.9 442.2L285.4 441.8L291.6 442.3L294 442.8L297.4 443.7L300.5 444.9L302.4 445.9L304.1 447L305.5 448.4L306.8 449.9L307.7 451.8L308.2 454.1L308 456.7L307.2 459.2L305.7 461.6L303.4 464.1L300.6 466.5L297.1 468.6L293.5 470.4L288.7 472L284.7 473L281.1 473.5L276.4 473.7L272.2 473.4L268.3 472.8L264.9 471.8L261.8 470.6Z" style="fill:none;stroke:#4040ff;stroke-opacity:0.5;stroke-width:0.6"/><path d="M250.8 473.7L248 472.1L245.6 470.3L243.4 468.2L241.7 465.9L240.7 463.9L240 461.2L239.8 458.7L240.1 456.4L240.8 454.2L242.2 451.4L243.7 449.5L246.1 447L248.2 445.3L251.4 443.1L255.1 441.1L258.3 439.7L261.9 438.5L266.4 437.2L270.4 436.4L275.4 435.7L280.2 435.4L284.6 435.4L288.7 435.7L292.4 436.1L296.1 436.9L300.5 438.2L303.5 439.4L306.3 440.9L308.8 442.7L310.2 444.1L312.1 446.4L313 448.3L313.6 450.5L313.7 451.7L313.5 454.7L312.9 456.6L312 458.7L309.8 462.1L306.3 465.8L302.6 468.7L298.3 471.4L292.3 474.2L287.6 475.8L281.5 477.3L276.2 478L271.5 478.2L265.8 477.9L260.6 477.1L256 475.8L250.8 473.7Z" style="fill:none;stroke:#6060ff;stroke-opacity:0.5;stroke-width:0.6"/><path d="M237.9 477.2L235.1 475.6L232.6 473.9L230.6 472.2L227.4 468.7L226.1 466.7L225.1 464.7L224.5 462.9L223.9 459.1L224 456.2L224.5 453.9L225.3 451.8L226.4 449.7L229.2 445.7L231.1 443.6L235 440.4L237.4 438.8L242.8 435.7L246.7 433.9L252.7 431.7L256.7 430.6L261 429.6L265.9 428.8L270.7 428.2L279.9 427.8L284.1 428L291.9 428.9L295.5 429.5L302.1 431.4L305.2 432.6L308.1 434L310.7 435.6L313.9 438.1L315.3 439.5L317.5 442.8L318.4 444.9L318.9 446.9L319.1 449L319 450.6L318.4 453.6L317.6 455.7L316.6 457.8L315.2 460L313.4 462.4L311.1 464.9L308.5 467.3L305.7 469.7L302.5 471.9L297.1 475.1L290.7 478.1L286.5 479.6L282.2 480.8L278.2 481.7L271 482.7L266.2 483L261.7 483L257.4 482.7L249.8 481.4L242.9 479.4L237.9 477.2" style="fill:none;stroke:#8080ff;stroke-opacity:0.5;stroke-width:0.6"/><path d="M230.1 485.5L223.7 483.1L218.9 480.6L214.5 477.8L210.6 474.6L207.3 470.9L205.1 467.4L203.5 463.6L202.6 459.2L202.7 455.2L203.5 451.4L205.3 447.1L207.8 443.1L211.1 439.3L215 435.7L219.5 432.4L224.7 429.3L230.7 426.5L237.4 423.9L245.1 421.6L252.4 420L259.5 418.9L267.5 418.2L275 418.1L281.9 418.4L288.3 419.1L295.6 420.4L302.2 422.2L308.3 424.5L312.9 426.9L317.1 429.8L320.6 433.2L322.9 436.5L324.2 439.4L324.7 441.6L325 444.1L324.8 446.9L324.4 449.1L323.5 452L322.2 454.7L320.6 457.4L318.8 460L316.1 463.2L313.1 466.3L309.8 469.3L303 474.5L298.6 477.3L294.8 479.4L287.7 482.7L280.4 485.3L272 487.3L263 488.7L255 489.1L246.3 488.7L238.4 487.6L234.8 486.8L230.1 485.5Z" style="fill:none;stroke:#a0a0ff;stroke-opacity:0.5;stroke-width:0.6"/><path d="M246.1 404.4L252.6 403.7L258.7 403.4L270.2 403.3L280.8 404.1L290.6 405.6L299.7 407.7L303.9 409L308 410.5L312 412.3L318.2 415.6L323 419.1L325.2 421.1L327.2 423.3L329 425.7L330.1 427.6L331.7 431.2L332.3 433.6L332.6 436L332.6 438.4L331.9 443.2L331.1 445.6L329.9 448.4L328.5 451.2L325.1 456.4L319.8 462.8L312.9 469.5L305 476L296.7 481.6L289.2 485.9L285 487.9L277 491.2L267.6 494.1L257.8 496.2L252.4 497L246.7 497.6L237 497.9L227.6 497.4L222.2 496.7L217 495.9L212.1 494.8L207.5 493.5L203 492.1L198.8 490.4L194.8 488.6L191 486.6L187.3 484.3L182.5 480.8L180.1 478.6L177.7 476.2L175.9 473.9L174.3 471.7L172.1 467.7" style="fill:none;stroke:#c0c0ff;stroke-opacity:0.5;stroke-width:0.6"/><path d="M332.7 397L337.1 401.2L339 403.4L340.8 406L342.2 408.3L343.5 411L344.6 413.9L345.7 418.6L345.9 423.5L345.6 426.4L344.4 431.9L342 437.9L340.1 441.4L335.9 447.9L333 451.7L325.9 459.9L321.7 464.2L311.3 473.9L300.4 482.8L290.6 489.7L285.3 493L274.9 498.7L269.3 501.4L260 505.3L249.5 508.8L243.7 510.4L237.5 511.8L230.8 513.1L220.9 514.5L214 515.1L207.5 515.4L200.7 515.5" style="fill:none;stroke:#e0e0ff;stroke-opacity:0.5;stroke-width:0.6"/><path d="M381.3 411.3L251.9 532.4" style="fill:none;stroke:#fffefe;stroke-opacity:0.5;stroke-width:0.6"/><path d="M430.9 426L420 426.3L413.4 426.8L407 427.5L400 428.7L393.7 430L388.1 431.3L382.3 433L371.3 437L366.1 439.2L356.5 444.1L347.1 449.8L342.3 453L332.3 460.7L327.2 465.1L316.8 474.8L308.4 483.7L305.1 487.6L299.7 495.1L297.5 498.6L294.3 505L293.1 508.2L292.1 511.5L291.4 514.6L290.8 520L290.8 523.1L291.6 528.6L293.1 533.5L295.3 538.1L297 541L301 546.2L304.3 549.7" style="fill:none;stroke:#ffdede;stroke-opacity:0.5;stroke-width:0.6"/><path d="M466.7 471.2L464.8 468.5L460.5 463.8L455 459.1L448.5 454.8L444.6 452.7L440.6 450.8L436.4 449.1L427.6 446.1L418 443.9L412.9 443.1L407.6 442.5L402.1 442.2L396.3 442.1L390.2 442.3L385.2 442.7L379.9 443.4L374.9 444.3L366.5 446.3L361.5 447.9L356.9 449.6L352.5 451.5L347.7 453.9L339.7 458.5L335.6 461.3L328.2 467L324.2 470.6L320.4 474.3L314.8 480.7L310.5 486.9L307.6 492.5L306.5 495.5L305.4 500.3L305.3 504.8L305.6 507.4L306.9 512L308.9 516L310.3 518.1L313.6 521.9L316 524.1L321.3 528L324.1 529.8L330.3 532.9L334.7 534.7L339.4 536.3L349.2 539L359.9 540.8L371.5 541.9L377.6 542L383.9 542L389 541.7L399.3 540.7" style="fill:none;stroke:#ffbebe;stroke-opacity:0.5;stroke-width:0.6"/><path d="M338.5 520.3L347.1 522.5L356.5 524L365.4 524.6L375.6 524.4L385.6 523.3L394.7 521.5L403.9 518.8L412.1 515.5L419.1 511.8L422.5 509.6L425.6 507.2L430.2 502.8L432.4 500.2L434.3 497.5L435.8 494.7L436.9 491.8L437.5 489.5L438 486.4L438 483.2L437.6 480.7L436.9 478.1L435.9 475.3L433.7 471.5L430.9 468L427.1 464.3L422.6 461L417.1 457.9L412 455.7L405.3 453.4L399.4 452L393 451L386.2 450.4L378.8 450.4L372.4 450.9L365.3 452L359.4 453.3L352.7 455.5L347.3 457.7L341.1 460.9L334.6 465L329.4 469L324.1 473.8L319.7 479L316.6 483.7L314.6 488.1L313.5 492.7L313.3 495.2L313.3 497.1L314.1 500.7L314.9 502.9L315.9 504.8L318.5 508.3L322.3 512L326.8 515.1L331.9 517.7L338.5 520.3Z" style="fill:none;stroke:#ff9e9e;stroke-opacity:0.5;stroke-width:0.6"/><path d="M331.9 507.2L337.2 509.5L344.3 511.6L352.2 512.9L359.4 513.5L367.7 513.3L375.6 512.4L383.6 510.8L390.5 508.7L397.3 505.8L402.9 502.6L407.6 499.1L409.5 497.2L411.7 494.6L413.1 492.6L414.3 490.5L415.2 488.3L415.8 486.1L416.1 483.7L416.1 481.3L415.7 478.8L415.2 477L414 474.2L412 471.2L409.5 468.4L406.3 465.7L402.7 463.3L398.8 461.3L394.5 459.6L390 458.2L385.1 457.2L379.9 456.4L374.3 456.1L369.8 456.2L365 456.6L359.6 457.4L353.7 458.8L349.1 460.3L343.8 462.5L339.4 464.8L335.1 467.5L330.7 471L326.8 474.7L324.1 477.9L321.9 481.3L320.4 484.6L319.5 488.4L319.4 491.4L319.8 493.9L321 497.1L322.7 499.8L325.6 502.9L328.2 504.9L331.9 507.2Z" style="fill:none;stroke:#ff7e7e;stroke-opacity:0.5;stroke-width:0.6"/><path d="M335.6 500.7L339.9 502.5L345.9 504L351.2 504.8L357 505.2L362.8 505L368.6 504.3L375 503L380.3 501.3L384.8 499.4L389.5 496.7L393.4 493.8L396.3 490.6L398.5 487.2L399.3 485L399.7 483.5L399.8 480.3L399.1 476.9L397.8 474.1L396.3 472L394.4 470L392 468L389.2 466.2L386.3 464.8L382 463.1L378.5 462.2L374.7 461.5L370.7 461L366.4 460.8L361.8 461L358.4 461.4L354.2 462.2L350.6 463.1L346.3 464.6L343.1 466L339.2 468L335.9 470.2L332.9 472.5L330.4 475L328.3 477.6L326.6 480.3L325.4 483.2L324.9 486.2L325 488.9L325.6 491.2L326.6 493.2L327.8 494.9L330.1 497.2L332.7 499.1L335.6 500.7Z" style="fill:none;stroke:#ff5e5e;stroke-opacity:0.5;stroke-width:0.6"/><path d="M338.6 494.8L341.8 496.1L345.4 497.1L349.3 497.8L354.3 498.1L359.1 498L363.4 497.4L367.7 496.5L371.7 495.3L375 493.8L378.8 491.7L381.7 489.4L384 486.8L385.5 484L386.1 481.7L386.2 479.3L385.6 476.7L384.7 475L383.5 473.3L382 471.8L379.9 470.1L375.6 467.9L372.3 466.7L369.9 466.1L366.1 465.5L363.3 465.3L357.1 465.5L351.7 466.4L347.8 467.4L345.4 468.3L340.5 470.8L338 472.5L335.8 474.2L334 476.1L332.5 478.1L331.5 479.9L330.7 482.1L330.4 483.7L330.5 485.7L331 487.5L332 489.5L333.3 491.1L334.9 492.6L338.6 494.8Z" style="fill:none;stroke:#ff3e3e;stroke-opacity:0.5;stroke-width:0.6"/><path d="M340.9 488.2L342.8 489.3L345 490.1L347.4 490.8L350.9 491.2L356.1 491.2L359.6 490.7L362.5 489.9L364.9 489L367.9 487.5L369.5 486.3L371.4 484.5L372.7 482.4L373.1 481L373.3 479.4L372.9 477.6L371.9 475.7L369.7 473.6L366.9 471.9L363.6 470.8L359.7 470.2L355.3 470.1L351.8 470.6L348.1 471.5L344.7 472.9L341.3 475.1L339.4 476.9L338.4 478.3L337.6 479.7L337.1 482L337.5 484.3L338.5 486.1L340.9 488.2Z" style="fill:none;stroke:#ff1e1e;stroke-opacity:0.5;stroke-width:0.6"/><path style="fill:none;stroke:#ff0000;stroke-opacity:0.5;stroke-width:0.6"/></g><g><path d="M269.9 466L272.8 467.4L275 468.1L278.8 468.7L281.7 468.8L284.9 468.6L288.7 467.9L290.9 467.2L293.9 466L296.6 464.4L298.7 462.6L300.3 460.7L301.3 458.6L301.6 456.3L301.2 454.6L299.9 452.6L298.1 451.1L296.3 450.1L293 449L289.3 448.4L286.5 448.2L283.4 448.3L279.9 448.8L275.9 449.9L272.7 451.3L270.1 452.9L268.1 454.7L266.7 456.7L266.1 458.1L265.9 460.1L266.4 462.3L267.6 464L269.3 465.6Z" style="fill:#0e0eff;fill-opacity:0.3"/><path d="M261.8 470.6L266 472.2L270.8 473.2L276.4 473.7L281.1 473.5L286.6 472.6L290.9 471.3L296.2 469.1L299.8 467L302.8 464.7L305.7 461.6L306.9 459.6L307.6 458.2L308.2 455.2L308.2 453.6L307.7 451.8L306.2 449.1L304.1 447L300.5 444.9L296.3 443.3L291.6 442.3L286.2 441.8L280.1 442L274.8 442.8L269.8 444.1L265.2 445.8L260.6 448.4L257.1 451.3L255 453.8L253.6 456.6L253.3 458.1L253.1 459.7L253.3 461.4L253.8 463L255.3 465.6L256.6 467.1L258.2 468.4L261.7 470.6ZM269.3 465.6L267.6 464L266.4 462.3L265.9 460.1L266.1 458.1L266.7 456.7L268.1 454.7L270.1 452.9L272.7 451.3L275.9 449.9L279.9 448.8L283.4 448.3L286.5 448.2L289.3 448.4L293 449L296.3 450.1L298.1 451.1L299.9 452.6L301.2 454.6L301.6 456.3L301.3 458.6L300.3 460.7L298.7 462.6L296.6 464.4L293.9 466L290.9 467.2L288.7 467.9L284.9 468.6L281.7 468.8L278.8 468.7L275 468.1L272.8 467.4L269.9 466Z" style="fill:#3030ff;fill-opacity:0.3"/><path d="M250.8 473.7L253.8 475L257.1 476.2L263.1 477.5L270 478.1L276.2 478L283.4 476.9L289.8 475.1L295.3 472.9L300.9 469.8L305.6 466.4L308.1 464L309.8 462.1L311.2 460.1L312.3 458.1L313.2 455.9L313.6 453.7L313.7 451.7L313.4 449.7L313 448.3L312.1 446.4L310.9 444.8L308.8 442.7L307.2 441.5L304.5 439.9L299.4 437.8L296.1 436.9L292.5 436.2L288.7 435.7L284.9 435.4L277.7 435.5L270.4 436.4L263.1 438.1L259.4 439.3L256.1 440.6L250.5 443.6L248.2 445.3L245.4 447.6L243.7 449.5L242.2 451.4L241.1 453.5L240.3 455.7L239.8 458L239.8 459.5L240.1 461.9L240.7 463.9L241.7 465.8L242.8 467.4L244.4 469.2L246.4 470.9L250.7 473.7ZM261.7 470.6L258.2 468.4L256.6 467.1L255.3 465.6L253.8 463L253.3 461.4L253.1 459.7L253.3 458.1L253.6 456.6L255 453.8L257.1 451.3L260.6 448.4L265.2 445.8L269.8 444.1L274.8 442.8L280.1 442L286.2 441.8L291.6 442.3L296.3 443.3L300.5 444.9L304.1 447L306.2 449.1L307.7 451.8L308.2 453.6L308.2 455.2L307.6 458.2L306.9 459.6L305.7 461.6L302.8 464.7L299.8 467L296.2 469.1L290.9 471.3L286.6 472.6L281.1 473.5L276.4 473.7L270.8 473.2L266 472.2L261.8 470.6Z" style="fill:#5050ff;fill-opacity:0.3"/><path d="M237.9 477.2L240.8 478.6L245.1 480.2L252.2 481.9L256.1 482.5L260.2 482.9L264.6 483L269.3 482.9L274.5 482.3L278.2 481.7L282.2 480.8L286.5 479.6L294 476.6L300.8 473L304.1 470.8L307.1 468.5L309.8 466.1L312.8 463L315.2 460L316.9 457.1L318.1 454.6L318.8 452.1L319.1 449.5L318.9 446.9L318.4 444.7L317 441.9L315.3 439.5L313.1 437.4L310.7 435.6L308.1 434L305.2 432.6L301.1 431.1L296.6 429.8L293.1 429.1L288.1 428.3L284.1 428L278.4 427.8L273.9 428L269.1 428.4L264.2 429L255.3 431L251.5 432.1L246.9 433.8L242.8 435.7L239.1 437.7L235.8 439.8L232.8 442.1L230.3 444.5L228.1 447L226.4 449.7L225 452.5L224.1 455.4L223.9 457.8L223.9 460.3L224.5 462.9L225.5 465.7L227 468.2L228.8 470.5L231 472.6L234.2 475L237.2 476.8ZM250.7 473.7L246.4 470.9L244.4 469.2L242.8 467.4L241.7 465.8L240.7 463.9L240.1 461.9L239.8 459.5L239.8 458L240.3 455.7L241.1 453.5L242.2 451.4L243.7 449.5L245.4 447.6L248.2 445.3L250.5 443.6L256.1 440.6L259.4 439.3L263.1 438.1L270.4 436.4L277.7 435.5L284.9 435.4L288.7 435.7L292.5 436.2L296.1 436.9L299.4 437.8L304.5 439.9L307.2 441.5L308.8 442.7L310.9 444.8L312.1 446.4L313 448.3L313.4 449.7L313.7 451.7L313.6 453.7L313.2 455.9L312.3 458.1L311.2 460.1L309.8 462.1L308.1 464L305.6 466.4L300.9 469.8L295.3 472.9L289.8 475.1L283.4 476.9L276.2 478L270 478.1L263.1 477.5L257.1 476.2L253.8 475L250.8 473.7Z" style="fill:#7070ff;fill-opacity:0.3"/><path d="M230.1 485.5L234.8 486.8L239.7 487.8L244.9 488.5L250.5 489L256.5 489L261.3 488.8L266.5 488.3L272 487.3L278.2 485.9L282.7 484.5L287.7 482.7L292.8 480.4L297.1 478.1L302.1 475.1L306.1 472.3L310.5 468.7L314.4 465.1L317.2 462L320.1 458.2L322.2 454.7L323.7 451.3L324.6 448.4L325 445.3L324.7 441.6L323.8 438.4L322.4 435.6L320.6 433.2L317.8 430.4L314.7 428L311.2 425.9L307.4 424.1L302.2 422.2L296.7 420.6L290.8 419.4L284.5 418.6L279.2 418.2L273.5 418.1L266.7 418.3L260.8 418.8L254.3 419.7L247.9 420.9L242.4 422.3L237.4 423.9L231.7 426L226.6 428.4L222 430.9L217.9 433.5L213.6 436.9L210.5 439.9L207.8 443.1L205.7 446.4L204 449.9L203 453.6L202.6 456.8L202.7 460.1L203.5 463.6L204.7 466.7L206.8 470.1L209.3 473.2L212.1 476L215.4 478.4L219.8 481.2L223.7 483.1L229 485.1ZM237.2 476.8L234.2 475L231 472.6L228.8 470.5L227 468.2L225.5 465.7L224.5 462.9L223.9 460.3L223.9 457.8L224.1 455.4L225 452.5L226.4 449.7L228.1 447L230.3 444.5L232.8 442.1L235.8 439.8L239.1 437.7L242.8 435.7L246.9 433.8L251.5 432.1L255.3 431L264.2 429L269.1 428.4L273.9 428L278.4 427.8L284.1 428L288.1 428.3L293.1 429.1L296.6 429.8L301.1 431.1L305.2 432.6L308.1 434L310.7 435.6L313.1 437.4L315.3 439.5L317 441.9L318.4 444.7L318.9 446.9L319.1 449.5L318.8 452.1L318.1 454.6L316.9 457.1L315.2 460L312.8 463L309.8 466.1L307.1 468.5L304.1 470.8L300.8 473L294 476.6L286.5 479.6L282.2 480.8L278.2 481.7L274.5 482.3L269.3 482.9L264.6 483L260.2 482.9L256.1 482.5L252.2 481.9L245.1 480.2L240.8 478.6L237.9 477.2Z" style="fill:#9090ff;fill-opacity:0.3"/><path d="M201.9 491.7L208.6 493.8L214.5 495.3L220.8 496.5L227.6 497.4L234.7 497.8L242.4 497.8L248.9 497.4L256 496.5L263.6 495.1L270 493.4L277 491.2L282.3 489.1L288.3 486.3L294.9 482.7L300.5 479.2L306.5 474.8L312.3 470.1L317.4 465.3L322 460.3L326 455.1L328.9 450.5L331.1 445.6L332.2 441.4L332.6 437L332.2 433.3L330.9 429.2L329 425.6L325.9 421.8L322.3 418.5L317.3 415.1L312.8 412.7L307 410.1L300.7 408L292.9 406.1L285.8 404.8L278.2 403.8L270.2 403.3L262.2 403.3L254.1 403.6L246.1 404.4L172.1 467.7L174 471.2L176.7 475L179.6 478.1L183.3 481.4L187.4 484.4L191.9 487.1L196.7 489.5L201.3 491.4ZM229 485.1L223.7 483.1L219.8 481.2L215.4 478.4L212.1 476L209.3 473.2L206.8 470.1L204.7 466.7L203.5 463.6L202.7 460.1L202.6 456.8L203 453.6L204 449.9L205.7 446.4L207.8 443.1L210.5 439.9L213.6 436.9L217.9 433.5L222 430.9L226.6 428.4L231.7 426L237.4 423.9L242.4 422.3L247.9 420.9L254.3 419.7L260.8 418.8L266.7 418.3L273.5 418.1L279.2 418.2L284.5 418.6L290.8 419.4L296.7 420.6L302.2 422.2L307.4 424.1L311.2 425.9L314.7 428L317.8 430.4L320.6 433.2L322.4 435.6L323.8 438.4L324.7 441.6L325 445.3L324.6 448.4L323.7 451.3L322.2 454.7L320.1 458.2L317.2 462L314.4 465.1L310.5 468.7L306.1 472.3L302.1 475.1L297.1 478.1L292.8 480.4L287.7 482.7L282.7 484.5L278.2 485.9L272 487.3L266.5 488.3L261.3 488.8L256.5 489L250.5 489L244.9 488.5L239.7 487.8L234.8 486.8L230.1 485.5Z" style="fill:#b0b0ff;fill-opacity:0.3"/><path d="M140.8 495.8L200.7 515.5L210.7 515.3L220.9 514.5L230 513.3L239.8 511.3L248.4 509.1L257.8 506.1L267.1 502.4L275.7 498.4L285.3 493L294 487.4L303.4 480.4L312.6 472.7L321.7 464.2L329.8 455.5L335.9 447.9L338.5 444L340.5 440.7L343.4 434.7L344.5 431.5L345.3 428.3L345.8 424.9L345.9 422.1L345.4 417.2L344.9 415L343.9 411.9L342.7 409.1L341.2 406.6L337.7 401.9L335.1 399.1L332.7 397L274.8 379.8L246.1 404.4L252.6 403.7L259.9 403.3L266 403.2L272.9 403.5L279.5 404L285.8 404.8L291.8 405.8L298.6 407.4L303.9 409L309 410.9L313.8 413.1L318.2 415.6L322.3 418.5L325.2 421.1L327.8 424L330 427.3L331.3 430.2L332.2 433.3L332.6 437L332.4 440.6L331.6 444.2L330.3 447.7L328.5 451.2L326 455.1L323.1 459L319.2 463.4L314.9 467.7L310.2 471.9L305 476L300.2 479.4L294.9 482.7L289.2 485.9L281.7 489.3L273.1 492.5L264.6 494.8L256 496.5L247.2 497.5L237.7 497.9L228.9 497.5L220.8 496.5L212.1 494.8L204.1 492.4L196.7 489.5L190.1 486.1L184.1 482L181.5 479.9L178.9 477.4L175 472.8L173.5 470.4L172.1 467.7L139.7 495.4Z" style="fill:#d0d0ff;fill-opacity:0.3"/><path d="M201.1 515.7L251.9 532.4L381.3 411.3L332.7 397L336.4 400.5L339.5 404.1L342.2 408.3L343.9 411.9L345.2 416.1L345.9 420.8L345.8 424.9L345 429.7L343.6 434L341.6 438.7L338.9 443.5L335.4 448.5L331.4 453.6L326.5 459.2L320.4 465.4L314 471.5L307.8 476.9L301.1 482.2L294.8 486.8L288 491.3L282.2 494.9L274.9 498.7L268.7 501.7L261.2 504.8L253 507.7L246.2 509.7L239.8 511.3L231.9 512.9L224.5 514.1L215.7 515L207.5 515.4L200.7 515.5Z" style="fill:#f0f0ff;fill-opacity:0.3"/><path d="M252.5 532.6L304.3 549.7L301 546.2L297.6 541.9L294.7 537.1L292.9 532.9L291.5 528.2L290.9 524.3L290.8 520L291.4 514.6L292.6 509.4L294.3 505L297 499.6L299.7 495.1L303.6 489.6L307.9 484.3L313.1 478.5L318.6 472.9L325.1 466.8L332 461L338.5 455.8L344.7 451.4L351.1 447.2L357.4 443.6L364.1 440.2L370.4 437.4L377.8 434.5L384.5 432.4L392.6 430.2L400 428.7L407 427.5L415.2 426.6L423 426.2L430.9 426L381.3 411.3L251.9 532.4Z" style="fill:#fff0f0;fill-opacity:0.3"/><path d="M303.3 548.6L304.3 549.7L369.7 571.2L399.3 540.7L392.3 541.5L385.6 541.9L379.1 542L371.5 541.9L364.2 541.3L357.2 540.4L350.5 539.2L344.2 537.7L338.2 535.9L332.5 533.8L327.2 531.4L322.2 528.6L317.7 525.5L314.4 522.6L311.4 519.5L308.9 516L306.9 512L305.8 508.6L305.3 504.8L305.3 501.8L305.7 498.5L306.8 494.7L308.2 491.1L310.5 486.9L313.3 482.7L316.9 478.1L321 473.7L325.5 469.4L330.4 465.3L335.6 461.3L340.5 458L346.1 454.7L353.7 451L361.5 447.9L369 445.6L378.5 443.6L387 442.5L394.8 442.1L403.5 442.2L412.9 443.1L421.7 444.7L429.8 446.8L438.5 449.9L445.6 453.2L452.2 457.1L458.1 461.6L462.8 466.1L466.7 471.2L492.8 444.3L430.9 426L430.4 426L420 426.3L410.4 427.1L401.8 428.3L392.6 430.2L383 432.8L374.7 435.7L366.1 439.2L357.4 443.6L347.9 449.2L339.3 455.2L330.6 462.1L321.2 470.5L312.5 479.2L305.7 486.9L300.2 494.4L296 501.5L293.4 507.3L291.6 513.3L291 516.8L290.8 520L291.1 525.6L291.5 528.2L292.5 531.7L294.7 537.1L296.4 540L298.2 542.8L300.3 545.4L303 548.3Z" style="fill:#ffcece;fill-opacity:0.3"/><path d="M334.7 534.7L341.8 537.1L349.2 539L357.2 540.4L365.6 541.5L374.5 542L382.3 542L390.6 541.6L399.3 540.7L466.7 471.2L464.1 467.7L461.2 464.5L458.1 461.6L454.8 458.9L451.1 456.4L446.6 453.7L441.6 451.2L436.4 449.1L429.8 446.8L422.9 444.9L415.5 443.5L409 442.7L400.7 442.1L393.3 442.1L385.4 442.7L378.5 443.6L371 445.1L364.8 446.8L357.8 449.3L352.5 451.5L346.1 454.7L339.7 458.5L334.1 462.4L328.2 467L322.3 472.4L317.5 477.5L313.3 482.7L310.1 487.5L307.6 492.4L306.1 496.7L305.6 499.5L305.3 501.8L305.4 506.1L305.8 508.6L306.5 510.9L308.3 515L310.8 518.7L314.4 522.6L318.5 526.1L323.2 529.2L328.2 531.9L334.6 534.7ZM338.2 520.1L332.9 518.2L328.8 516.2L325 513.9L321.5 511.3L318.5 508.3L316.5 505.8L314.9 502.9L313.8 499.6L313.3 495.7L313.5 492.7L314.3 489L315.5 485.9L317.4 482.4L320.2 478.3L323 475.1L326.7 471.4L330.8 467.8L335.4 464.4L339.6 461.7L344.5 459L350.2 456.5L355.1 454.7L359.4 453.3L365.3 452L370.7 451.1L375.7 450.6L381.8 450.3L387.6 450.5L393 451L398.1 451.8L403 452.8L408.7 454.5L414.1 456.5L418.1 458.4L422.6 461L426.4 463.7L430.2 467.2L432.9 470.4L434.9 473.5L436.6 477.2L437.6 480.7L438 484.8L437.8 488L436.9 491.8L435.4 495.4L433.4 498.9L430.8 502.2L427.7 505.4L424.1 508.4L419.9 511.3L415.2 514L409.9 516.5L405.1 518.4L398.8 520.4L392.6 522L387.4 523L381.5 523.8L374.7 524.4L368.3 524.6L362.2 524.4L356.5 524L349.7 523L344.6 522L338.5 520.3Z" style="fill:#ffaeae;fill-opacity:0.3"/><path d="M338.5 520.3L344.6 522L349.7 523L356.5 524L362.2 524.4L368.3 524.6L374.7 524.4L381.5 523.8L387.4 523L392.6 522L398.8 520.4L405.1 518.4L409.9 516.5L415.2 514L419.9 511.3L424.1 508.4L427.7 505.4L430.8 502.2L433.4 498.9L435.4 495.4L436.9 491.8L437.8 488L438 484.8L437.6 480.7L436.6 477.2L434.9 473.5L432.9 470.4L430.2 467.2L426.4 463.7L422.6 461L418.1 458.4L414.1 456.5L408.7 454.5L403 452.8L398.1 451.8L393 451L387.6 450.5L381.8 450.3L375.7 450.6L370.7 451.1L365.3 452L359.4 453.3L355.1 454.7L350.2 456.5L344.5 459L339.6 461.7L335.4 464.4L330.8 467.8L326.7 471.4L323 475.1L320.2 478.3L317.4 482.4L315.5 485.9L314.3 489L313.5 492.7L313.3 495.7L313.8 499.6L314.9 502.9L316.5 505.8L318.5 508.3L321.5 511.3L325 513.9L328.8 516.2L332.9 518.2L338.2 520.1ZM331.3 506.8L328.2 504.9L325.6 502.9L323.4 500.7L322.1 499L320.5 496.1L319.8 493.9L319.4 491.4L319.5 488.4L320.3 484.9L321.5 482.2L323.2 479.2L325.2 476.6L327.4 474L330.7 471L334.3 468.1L337.6 465.9L341.2 463.8L345.3 461.9L349.1 460.3L353.6 458.8L361.5 457.1L365 456.6L369.8 456.2L374.3 456.1L378.6 456.3L386.4 457.4L390 458.2L394.5 459.6L398.8 461.3L401.7 462.8L405.4 465.1L407.9 467L410.2 469.2L412.3 471.6L414 474.2L415.2 477L415.9 479.6L416.1 482.1L416 484.5L415.4 487.6L414.3 490.5L412.7 493.3L410.7 495.9L408.2 498.4L405.4 500.9L402.1 503.1L399.3 504.8L395.2 506.8L390.5 508.7L386.6 510L382.2 511.2L377.4 512.2L372.3 512.9L367.2 513.3L362.4 513.5L357.9 513.4L353.6 513.1L348.2 512.4L344.3 511.6L339.5 510.3L335 508.6L331.9 507.2Z" style="fill:#ff9090;fill-opacity:0.3"/><path d="M331.9 507.2L335 508.6L339.5 510.3L344.3 511.6L348.2 512.4L353.6 513.1L357.9 513.4L362.4 513.5L367.2 513.3L372.3 512.9L377.4 512.2L382.2 511.2L386.6 510L390.5 508.7L395.2 506.8L399.3 504.8L402.1 503.1L405.4 500.9L408.2 498.4L410.7 495.9L412.7 493.3L414.3 490.5L415.4 487.6L416 484.5L416.1 482.1L415.9 479.6L415.2 477L414 474.2L412.3 471.6L410.2 469.2L407.9 467L405.4 465.1L401.7 462.8L398.8 461.3L394.5 459.6L390 458.2L386.4 457.4L378.6 456.3L374.3 456.1L369.8 456.2L365 456.6L361.5 457.1L353.6 458.8L349.1 460.3L345.3 461.9L341.2 463.8L337.6 465.9L334.3 468.1L330.7 471L327.4 474L325.2 476.6L323.2 479.2L321.5 482.2L320.3 484.9L319.5 488.4L319.4 491.4L319.8 493.9L320.5 496.1L322.1 499L323.4 500.7L325.6 502.9L328.2 504.9L331.3 506.8ZM335 500.4L330.9 497.8L328.5 495.7L327.2 494.1L326.1 492.2L325.3 490.1L324.9 488L324.9 486.2L325.2 484L325.9 481.7L327 479.6L328.8 476.9L330.4 475L332.9 472.5L337.5 469.1L343.2 465.9L346.3 464.6L350 463.3L356.6 461.7L363.4 460.9L370.7 461L377.3 461.9L383.1 463.5L388.3 465.7L392.8 468.6L395.2 470.7L396.6 472.3L397.8 474.1L398.8 476L399.5 478.3L399.8 480.3L399.8 482.7L399.3 485L398.5 487.2L397.3 489.3L395.8 491.3L394 493.2L391.9 495L389.5 496.7L386.8 498.4L383.8 499.9L377.8 502.2L370.3 504L362.8 505L355.5 505.1L348.5 504.5L344.6 503.8L341 502.8L335.6 500.7Z" style="fill:#ff6e6e;fill-opacity:0.3"/><path d="M335.6 500.7L341 502.8L344.6 503.8L348.5 504.5L355.5 505.1L362.8 505L370.3 504L377.8 502.2L383.8 499.9L386.8 498.4L389.5 496.7L391.9 495L394 493.2L395.8 491.3L397.3 489.3L398.5 487.2L399.3 485L399.8 482.7L399.8 480.3L399.5 478.3L398.8 476L397.8 474.1L396.6 472.3L395.2 470.7L392.8 468.6L388.3 465.7L383.1 463.5L377.3 461.9L370.7 461L363.4 460.9L356.6 461.7L350 463.3L346.3 464.6L343.2 465.9L337.5 469.1L332.9 472.5L330.4 475L328.8 476.9L327 479.6L325.9 481.7L325.2 484L324.9 486.2L324.9 488L325.3 490.1L326.1 492.2L327.2 494.1L328.5 495.7L330.9 497.8L335 500.4ZM338.6 494.8L334.9 492.6L332.6 490.3L331 487.5L330.5 485.7L330.4 484L330.6 482.4L331.1 480.9L331.7 479.4L333 477.4L335.2 474.8L338.8 471.9L343.3 469.3L347.8 467.4L353.6 466L358.8 465.3L363.3 465.3L368.7 465.9L373.4 467.1L377.6 468.8L381.2 471.1L383.9 473.8L384.7 475L385.6 476.7L386.1 478.5L386.2 480.2L386.1 481.7L385.8 483.3L384.4 486.1L383.5 487.4L381.7 489.4L378.8 491.7L375 493.8L370.4 495.7L364.6 497.2L359.1 498L353.5 498.1L347.9 497.6L343 496.5L338.6 494.8Z" style="fill:#ff4e4e;fill-opacity:0.3"/><path d="M338.6 494.8L343 496.5L347.9 497.6L353.5 498.1L359.1 498L364.6 497.2L370.4 495.7L375 493.8L378.8 491.7L381.7 489.4L383.5 487.4L384.4 486.1L385.8 483.3L386.1 481.7L386.2 480.2L386.1 478.5L385.6 476.7L384.7 475L383.9 473.8L381.2 471.1L377.6 468.8L373.4 467.1L368.7 465.9L363.3 465.3L358.8 465.3L353.6 466L347.8 467.4L343.3 469.3L338.8 471.9L335.2 474.8L333 477.4L331.7 479.4L331.1 480.9L330.6 482.4L330.4 484L330.5 485.7L331 487.5L332.6 490.3L334.9 492.6L338.6 494.8ZM340.5 488L338.5 486.1L337.5 484.3L337.1 482L337.4 480.4L338.4 478.3L339.9 476.3L342.1 474.5L344.9 472.8L348.1 471.5L351.8 470.6L355.3 470.1L358.3 470.1L361.1 470.3L364.7 471.1L367.9 472.4L369.7 473.6L371.3 475L372.5 476.7L373.2 478.9L373.1 481L372.3 483.1L370.8 485.1L368.7 486.9L366 488.5L362.5 489.9L359.7 490.6L356.1 491.2L352.9 491.3L350 491.2L346.2 490.5L342.8 489.3L340.9 488.2Z" style="fill:#ff2e2e;fill-opacity:0.3"/><path d="M340.9 488.2L342.8 489.3L346.2 490.5L350 491.2L352.9 491.3L356.1 491.2L359.7 490.6L362.5 489.9L366 488.5L368.7 486.9L370.8 485.1L372.3 483.1L373.1 481L373.2 478.9L372.5 476.7L371.3 475L369.7 473.6L367.9 472.4L364.7 471.1L361.1 470.3L358.3 470.1L355.3 470.1L351.8 470.6L348.1 471.5L344.9 472.8L342.1 474.5L339.9 476.3L338.4 478.3L337.4 480.4L337.1 482L337.5 484.3L338.5 486.1L340.5 488Z" style="fill:#ff0e0e;fill-opacity:0.3"/></g><g><path style="fill:none;stroke:#0000ff;stroke-opacity:0.6;stroke-width:0.6"/><path d="M200.3 443.5L202.7 430.4L203.7 422.8L204.7 414.2L206 396.3L206.7 371.9L206.8 357L206.5 323.8L204.7 286.5L203.7 273L202.7 261.8L201.6 251.8L200.5 244.1L198.2 231.3L195.5 221.1L193.7 216.2M213.9 201.7L211.4 215.6L210.3 223.7L209.3 232.8L208 251.8L207.2 276.2L207.1 291.7L207.4 326.5L209.3 364.1L210.2 377L211.1 387.5L212.2 396.7L214.5 410.4L215.7 416L216.9 420.5L219.3 427.3" style="fill:none;stroke:#1818ff;stroke-opacity:0.6;stroke-width:0.6"/><path d="M187.9 454.1L191.6 446.1L193.8 440.2L197.4 428.6L200.5 415.5L202.6 402.5L204.4 386.3L205.6 366L205.9 353.6L206.1 326.4L205 306.3L203.1 284.1L200.9 267.9L198.4 255.4L195.7 245.9L194.1 241.6L192.4 238L191 235.4L189.3 232.9L186 229.2L183.3 227L180.6 225.7M269.7 384.2L272.2 379.5L274.7 374.6M139.5 490L141.8 490.3L145.6 490.4M272.5 165.1L270.5 164.3L267 163.3M135.7 258.1L129.6 268.7M226.5 192.5L222.8 200.6L220.7 205.8L218.7 211.6L217 217.5L214.5 227.8L212 241.7L210.9 249.6L209.9 258.7L208.6 277.5L207.9 301.7L207.9 326.2L209.4 351.4L210.4 362.1L211.4 371.4L212.6 379.5L213.8 386.3L215.1 392.1L216.3 396.6L217.8 401L219.1 404.3L220.7 407.4L222 409.6L223.5 411.6L226.5 414.6L228.9 416.2L231.3 417" style="fill:none;stroke:#3232ff;stroke-opacity:0.6;stroke-width:0.6"/><path d="M138.5 467.3L142.4 469L144.7 469.7L149.2 470.3L151.8 470.2L156 469.6L158.2 468.9L160.4 468.1L164.7 465.9L167.6 464L170.5 461.8L173.3 459.2L178.2 453.8L181 450.1L183.7 446L187.9 438.4L189.8 434.5L193.8 424.5L195.7 418.7L197.5 412.4L200.1 401.2L202.2 388.1L204 371.9L204.7 362.2L205.5 339.1L205.7 327.9L205.5 323.4L203.8 302.2L202.8 292.7L200.5 277.8L199.1 271.7L197.8 266.3L196.3 261.8L193.7 255.3L192.2 252.4L190.7 249.9L189.1 247.8L186.1 244.7L184.5 243.6L181.5 242.1L180 241.7L176.9 241.3L174.7 241.4L172.4 241.8L170.1 242.5L167.9 243.5L163.4 246.2L158.9 249.8L155.9 252.7L152.9 256L149.9 259.6L144 268.1L138 278.3L135.1 284L130.7 293.6M272.7 188.6L270.7 187L266.7 184.6L264.6 183.8L260.6 182.9L258.6 182.7L254.4 183.1L250.4 184.2L248.4 185.1L244.3 187.4L242.2 188.9L238.1 192.6L236.1 194.9L232 200.1L229.8 203.3L227.9 206.7L225.4 211.4L221.6 220.2L219.8 225.2L217.8 231.5L214.9 243.1L212.4 256.9L211.3 264.9L210.3 273.9L209.1 291.4L208.6 302.3L208.2 323.6L209.2 339L211.2 358L212.2 365.1L214.5 376.8L215.8 381.8L217.1 385.9L219.5 391.7L220.9 394.2L222.3 396.4L223.8 398.1L225.2 399.5L227.9 401.4L229.5 402.1L232 402.7L234 402.7L236 402.5L238 402L240 401.2L244 398.9L248.5 395.2L251.1 392.7L253.7 389.8L258.8 383L263.8 375L268.9 365.6L274.5 353.1" style="fill:none;stroke:#4c4cff;stroke-opacity:0.6;stroke-width:0.6"/><path d="M137.6 448.2L141.2 451.3L143.2 452.6L145.3 453.7L149.4 455.1L151.6 455.5L154.1 455.6L158.4 455.2L160.8 454.6L163.2 453.7L167.2 451.7L171.5 448.7L173.6 446.8L177.8 442.5L179.9 439.9L182.6 436.2L186.1 430.5L190.1 422.5L192.1 417.7L194.1 412.3L196.1 406.2L197.8 399.7L200.2 388.6L202.4 374.3L204 356.9L205 336.5L205.1 324.9L203.7 308.5L201.5 292.5L199.2 281.2L196.5 272.1L194.9 268.1L193.3 264.9L191.8 262.2L190.2 260L188.4 258L187 256.6L184.1 254.7L182.3 254L179.6 253.4L178.1 253.3L175.1 253.6L172.8 254.2L170.6 255.1L168.3 256.2L166.1 257.7L161.6 261.3L157.1 265.9L154.2 269.5L151.2 273.5L148.3 278L145.3 282.9L142.3 288.5L139.5 294.4L136.6 300.9L134.2 307.1L131.7 314.3M272.9 208.1L269.6 204L267.9 202.4L264.2 199.8L262.2 198.7L260.1 198L258.1 197.5L255.9 197.3L252 197.5L250 198L245.9 199.6L243.8 200.7L239.7 203.7L237.7 205.6L233.6 210.2L231.5 212.9L227.4 219.5L223.4 227.7L221.4 232.6L219.4 238.3L216.2 249.2L213.8 260.6L211.6 275.3L210 291.8L209.3 301.7L208.7 322L209.3 332L211.2 350L212.4 357.5L213.6 364L216.1 373.3L218.7 380.1L220 382.8L221.4 385.1L222.8 387L224.5 388.7L225.8 389.8L228.4 391.3L230 391.8L232.5 392.1L235.8 391.7L237.8 391L241.8 388.9L245.7 385.9L248.3 383.4L250.9 380.6L253.5 377.3L258.6 369.8L263.7 360.8L268.9 349.4L271.5 342.9L274.3 334.9" style="fill:none;stroke:#6666ff;stroke-opacity:0.6;stroke-width:0.6"/><path d="M136.8 429.3L138.4 432L141.7 436.3L145.4 439.7L147.3 441L150.4 442.5L152.7 443.3L154.9 443.8L157.2 443.9L159.4 443.8L161.8 443.4L166.1 442L168.2 440.9L172.5 438L176.8 434.1L178.9 431.8L183.1 426.3L187.2 419.5L189.2 415.5L191.3 410.7L193.3 405.7L196.7 394.9L199.4 383.6L201.6 370.3L203.4 354L204.6 334.6L204.6 325.2L203.2 311.2L201.1 297.5L199.8 291.4L198.6 286.4L195.9 278.5L194.4 275L192.8 272.1L191.3 269.8L188.2 266.3L186.7 265.1L183.7 263.5L180.4 262.7L177.6 262.8L175.4 263.2L173.2 263.9L170.9 265L166.5 268L162 272.1L159.8 274.5L155.4 280.2L153.2 283.4L150.3 288.2L147.3 293.5L142.8 303.1L140.6 308.5L136.4 320.4L134.5 326.8L132.5 334.1M273.1 226.9L271.6 223.7L268.8 219L267.1 216.6L263.7 213.2L260.3 210.8L258.3 209.9L256.2 209.2L254.2 208.9L252.2 208.8L250.1 209L248.1 209.4L246 210.1L241.9 212.2L239.9 213.6L235.8 217.3L233.8 219.6L229.7 225.2L227.6 228.5L225.2 233L221.6 241.4L219.6 247L217.8 252.8L215.2 263.1L212.9 275.4L211.8 283.4L210.8 292.3L209.5 310.9L209.2 323.9L210.4 336.9L212.5 351.2L214.6 360.9L217.2 369L219.8 374.7L221.2 377L224 380.4L226.8 382.4L228.5 383.1L230.9 383.6L233.6 383.5L235.6 383.1L237.6 382.3L239.6 381.2L243.6 378.4L247.5 374.5L250.1 371.5L252.7 368L255.4 364L260.3 355.1L262.9 349.9L265.4 344L269.8 332.2L271.6 326.2L274.1 317" style="fill:none;stroke:#8080ff;stroke-opacity:0.6;stroke-width:0.6"/><path d="M135.7 405.7L137.9 412.8L139.3 416.4L140.9 419.8L143.8 424.5L145.5 426.6L149.1 430.1L151.1 431.5L154.6 433.2L156.8 433.8L160.6 434.1L162.8 433.9L165 433.4L167.2 432.6L171.5 430.4L173.7 428.8L177.9 425L180 422.6L182.1 420L186.3 413.6L190.3 405.6L192.4 400.8L194.3 395.4L197.3 385.3L199.7 374.2L201.9 359.8L203.5 343.5L204.1 333.8L204.2 327.9L203.5 319.1L202.5 311.7L201.3 304.4L200.1 298.8L197.6 289.5L196.1 285.6L194.6 282.1L193 279.3L191.5 277L189.9 275.1L188.4 273.7L185.4 271.7L182.4 270.7L179.4 270.5L176.4 271L174.2 271.8L172 272.9L169.7 274.4L167.5 276.1L165.3 278.1L160.9 283.1L158.2 286.7L154.3 292.6L150 300.7L147.6 305.7L143.4 316.3L141.1 322.9L139.3 329.3L136.4 341.3L135 348.5L133.6 358.6M273.4 250.1L271.3 241.4L269 234.9L267.4 231.5L264.5 226.8L262.8 224.7L261.1 223.1L259.3 221.5L257.7 220.5L255.7 219.5L252.3 218.6L250.3 218.5L248.2 218.6L246.2 219.1L244.1 219.8L242.1 220.7L240 222L236 225.4L233.9 227.5L229.8 232.8L227.8 236L223.7 243.9L221.7 248.7L219.7 254.1L216.8 264.3L214.3 275.6L212 290.3L210.4 306.8L209.8 316.5L209.7 322.4L210.4 331.1L211.3 338.4L212.5 345.5L213.7 351.4L214.9 356.1L217.4 363.5L218.9 366.7L220.3 369.2L221.8 371.3L223.3 373L226 375.2L227.4 375.8L230.1 376.5L232.8 376.5L235.5 375.8L237.5 374.9L241.5 372.3L245.4 368.6L247.5 366.1L251.9 360.2L254.5 355.9L257 351.4L259.5 346.1L262.1 340.3L264.2 334.8L268.1 322.8L271.2 310.4L272.4 303.9L273.9 294.6" style="fill:none;stroke:#9898ff;stroke-opacity:0.6;stroke-width:0.6"/><path d="M170.5 423.5L174.1 421.3L177 418.9L179.8 416.1L182.6 412.6L185.4 408.6L187.4 405L190.1 399.6L192.1 394.9L194.1 389.5L196.1 383.2L198 375.7L199.3 369.9L200.5 363L201.6 355.4L203.1 340.4L203.7 329.5L203.6 326.1L203 320.7L202 313.3L200.8 307.2L199.5 301.4L197.9 295.9L196.3 291.6L194.7 288.1L193.2 285.4L190.9 282.2L188.6 280L186.4 278.5L184.1 277.6L181.9 277.2L178.9 277.3L175.2 278.5L171.5 280.7L167.8 283.7L164.1 287.6L160.5 292.4L156.8 298.1L154 303.3L151.1 309.5L148.3 316.4L146 323L143.6 330.9L141.7 338.5L140 347.1L138.8 355.4L138.1 362L137.7 369.6L137.6 376.9L138 383.9L138.7 390.6L139.8 396.9L141.3 402.9L143.2 408.4L145.2 412.7L147.6 416.7L150.6 420.2L153.4 422.6L156.4 424.3L159.9 425.3L163.2 425.6L166.9 424.9L170.5 423.5ZM236 369.2L238.7 367.6L241.3 365.5L244 362.9L247.2 359L249.8 355.3L252.4 351.1L255 346.4L257.5 341L260 334.9L261.9 329.6L263.8 323.8L265.7 317.1L267.3 310.3L268.5 303.7L270.3 291.3L271 279.5L271 272.8L270.8 267.4L270.2 261.1L269.4 256.1L268.4 251.2L267.1 246.6L265.5 242.1L263.9 238.8L262 235.6L259.8 232.7L257.9 230.7L255.2 228.8L252.5 227.5L249.7 226.9L247 226.9L243.6 227.7L240.2 229.3L236.8 231.8L233.4 235.1L230.6 238.5L227.9 242.5L225.2 247.4L222.5 253.2L220.5 258.3L218.6 264.3L216.6 271.5L214.7 280L213.4 287.1L212.2 295.5L211.3 303.7L210.3 318.5L210.3 323.1L210.6 327.5L211.7 335.8L213 342.8L214.6 349.6L216.5 355.8L218 359.4L220.2 363.5L222.3 366.3L223.7 367.7L225.1 368.8L227.9 370.1L230.6 370.5L233.4 370.1L236 369.2Z" style="fill:none;stroke:#b2b2ff;stroke-opacity:0.6;stroke-width:0.6"/><path d="M173.9 415L176.8 412.9L179.6 410.2L182.4 406.9L184.5 404L187.3 399.6L189.3 395.7L191.3 391.3L193.3 386.2L196.6 375.7L199.2 364.3L200.4 357.9L201.6 349.5L202.9 335.9L203.1 327.6L202.1 319L201.2 313.9L199.9 307.9L198.8 303.7L197.2 298.9L195.7 295.1L194.1 292L192.6 289.6L191.1 287.7L189.5 286.1L187.3 284.5L185 283.5L182.8 283.1L179.8 283.2L176.9 284.1L173.9 285.6L170.2 288.5L166.6 292.2L163.7 295.9L160.2 301.1L157.2 306.6L154.3 312.6L151.5 319.5L149 326.7L147.2 333L145.4 340.5L144.1 347.6L143.1 354.5L142.4 362.3L142.1 368.6L142.1 375.8L142.6 382.6L143.3 388.1L144.6 394.3L145.9 399.1L147.7 403.6L149.8 407.8L152.4 411.6L155 414.2L157.6 416L160.7 417.4L163.7 417.9L167.4 417.7L171 416.5L173.9 415ZM237.3 362.6L239.2 361.2L241.9 358.8L244.5 355.8L247.1 352.3L249.7 348.2L251.6 344.8L254.1 339.7L256.1 335.3L259.8 325.2L263 313.7L265.3 301.9L266.7 290.8L267.2 280.3L267.1 274.8L266.8 269.4L265.6 260.2L264.5 255.4L263.4 251.7L262.1 248.1L260.5 244.8L258.7 241.8L256.9 239.5L254.9 237.6L252.6 235.9L250.5 235L247.8 234.4L245.1 234.4L241.7 235.3L238.3 237.1L235.5 239.2L232.1 242.7L229.4 246.2L226.7 250.5L224 255.7L221.3 262L219.3 267.6L217.4 274.2L216.1 279.4L214.5 287.2L213.1 295.3L212.1 303.1L211.2 311.9L210.8 318L210.8 322.7L211.2 327L212 333.3L213.3 340L214.9 346.1L216.4 350.8L218.6 355.9L220.1 358.4L222.2 361.2L224.3 363.1L227.1 364.6L229.2 365L231.9 364.9L234.6 364.1L237.3 362.6Z" style="fill:none;stroke:#ccccff;stroke-opacity:0.6;stroke-width:0.6"/><path d="M175.2 408.2L178 406.1L180.1 404.1L182.9 400.8L185 397.9L187.1 394.6L189.1 390.8L191.2 386.5L193.2 381.5L196.5 371.1L199 360.1L201 347.8L202.3 335.2L202.5 330.4L202.4 327L201.5 319.6L200.6 315L199.2 309.6L198.2 305.9L196.6 301.6L195 298.3L193.5 295.6L192 293.5L190.5 291.8L188.9 290.5L186.7 289.2L185.2 288.6L183 288.3L180 288.6L177 289.7L174.1 291.5L171.2 293.9L168.3 297L165.3 300.7L162.5 305.1L159.6 310.3L157.1 315.7L154.7 321.6L152.6 327.7L150.8 333.9L149.3 339.9L147.9 347.1L147 353.9L146.4 360.4L146.1 366.6L146.2 372.6L146.6 379.4L147.4 384.8L148.5 389.9L149.9 394.7L151.3 398.3L153.3 402L155.7 405.4L158 407.8L160.7 409.6L163.4 410.6L166.4 411L169.3 410.7L172.3 409.8L175.2 408.2ZM235.8 358.2L237.8 356.8L240.5 354.4L243.1 351.5L245.1 348.9L247.4 345.3L249.6 341.4L253.4 333.3L256.8 324.3L259.7 313.8L261.8 303.6L263.2 292.4L263.7 283.1L263.4 273.2L262.8 268L262.1 264L261.2 260.2L260.1 256.5L258.8 253L257.5 250.4L255.6 247.4L254.1 245.5L252 243.7L250.1 242.4L247.9 241.5L245.9 241.2L243.1 241.3L240.4 242L237 243.9L234.3 246.1L231.6 248.9L228.8 252.5L226.1 256.8L224.1 260.7L222.1 265.2L220.1 270.5L218.1 276.7L216.4 283.4L214.9 290.1L213.7 297.1L211.9 311.4L211.4 321.1L211.6 325.5L212.4 330.7L213.6 336.6L215 342.3L216.6 346.8L218.5 351.3L220 353.8L222.1 356.5L224.2 358.4L226.3 359.5L228.4 360.1L231.1 360.1L233.1 359.5L235.8 358.2Z" style="fill:none;stroke:#e6e6ff;stroke-opacity:0.6;stroke-width:0.6"/><path d="M174.2 403.2L176.4 402L179.3 399.7L181.4 397.6L183.5 395.2L185.6 392.3L187.6 388.9L189.7 385L191.7 380.5L195 371.3L197.6 361.7L198.9 355.8L200.1 348.8L201.5 337L201.8 329.8L201.3 323.2L200.6 319.1L199.4 314.2L198.3 310.4L196.7 306L195.2 302.7L193.6 300L192.1 297.9L190.6 296.3L189.1 295.1L187.6 294.2L186.1 293.6L183.9 293.2L181.6 293.3L178.7 294.2L176.5 295.3L173.6 297.5L170.6 300.4L167.7 303.9L164.9 308.3L162.7 312L160.6 316.3L158.5 321.3L156.4 326.9L154.8 332L153.2 338.1L152 343.9L151.1 349.5L150.3 356.1L149.9 361.2L149.8 367.3L150.1 373.1L150.5 377.6L151.4 382.9L152.3 386.8L153.5 390.6L155.2 394.6L156.9 397.4L159.1 400.3L161.2 402.1L163.6 403.6L166.1 404.4L169.1 404.6L171.4 404.3L174.2 403.2ZM233.7 354.5L235.7 353.3L237.7 351.8L239.7 349.9L242.3 346.8L246.3 340.9L250.1 333.4L253.5 324.7L256.2 315.9L258.4 306.4L259.8 296.3L260.4 286.8L260.3 277.9L259.3 269.6L258.5 265.7L257.4 262L256.1 258.5L254.9 256L253.5 253.7L252.2 251.9L250.5 250.2L248.7 248.9L246.7 248L244.6 247.5L241.9 247.5L239.2 248.3L236.4 249.7L233.7 251.8L231 254.7L228.9 257.3L226.2 261.5L224.2 265.3L222.2 269.7L220.2 274.9L218.2 281.1L216.9 285.9L214.4 297.8L212.6 310.8L212 319.4L212.1 322.8L212.6 327.1L213.5 332.1L214.7 337.1L216.2 341.9L217.8 345.8L219.5 349L221.3 351.5L222.7 353L224.8 354.5L226.9 355.4L229 355.7L231 355.5L233.7 354.5Z" style="fill:none;stroke:#fffefe;stroke-opacity:0.6;stroke-width:0.6"/><path d="M176.2 396.9L178.4 395.5L180.5 393.7L182.6 391.5L184.7 388.9L186.8 385.8L188.9 382.2L192.3 374.8L194.9 367.3L197.5 357.7L199.6 346.6L200.9 336.3L201.1 329.2L200.6 323.8L199.2 317.4L196.8 310.2L194.5 305.4L193 303.1L191.5 301.3L190 299.9L188.5 298.9L187 298.2L184.7 297.7L182.5 297.7L180.3 298.3L178.1 299.3L175.2 301.4L172.7 303.8L170.1 306.8L168 309.9L165.4 314.2L163 319L161 323.6L159.2 328.7L157.7 333.4L155.2 343.8L154.3 349.3L153.7 354.6L153.4 359.7L153.3 364.6L153.5 370.4L154 374.8L154.7 379L155.7 383L156.9 386.7L158.5 390.2L160 392.5L162.1 395.1L164.4 397L166.3 397.9L168.9 398.6L171.1 398.6L173.3 398.2L176.2 396.9ZM233.6 350L235.6 348.7L237.6 347L239.6 344.9L241.6 342.4L243.5 339.5L245.5 336.2L248.5 329.9L251.6 321.9L254.1 313.2L255.8 305.1L256.9 296.3L257.4 288.1L257.2 280.4L256.3 273.1L254.7 266.4L252.5 261.3L251.1 258.9L249.5 257L248 255.5L246.1 254.3L244.5 253.6L242.7 253.3L240.2 253.4L237.9 254.1L235.2 255.7L233.1 257.3L230.4 260.1L228.4 262.7L226.3 265.9L224.3 269.6L222.3 273.9L220.3 279.1L218.3 285.2L217.1 289.9L215.8 295.5L214.5 302.1L213.1 312.8L212.7 317.7L212.7 321.2L213 324.4L213.6 328.5L214.6 332.8L216.1 337.8L217.6 341.5L219 344.4L220.5 346.6L221.9 348.3L223.3 349.5L225.4 350.8L227.5 351.4L229.6 351.4L231.6 350.9L233.6 350Z" style="fill:none;stroke:#ffe6e6;stroke-opacity:0.6;stroke-width:0.6"/><path d="M177.5 391.3L179.7 389.8L181.8 387.9L185.3 383.7L188.7 378.2L192.1 370.9L194.8 363.5L197.4 353.8L199.1 344.7L200.1 336.9L200.4 330.9L199.9 325.4L198.7 319.4L196.8 313.8L194.6 309.3L193.1 307L191.6 305.2L190.1 303.9L188.6 302.9L187.1 302.3L185.6 302L183.4 302L181.2 302.5L179 303.5L176.8 305L174.2 307.5L171.7 310.3L169.6 313.4L167.5 317L163.9 324.5L162.4 328.6L160.8 333.4L159.6 338L158.3 343.8L157 353.3L156.6 362L156.8 366.6L157.2 371.1L157.9 375.3L158.8 379.2L160.1 382.8L161.4 385.5L162.9 387.8L164.7 389.9L166.4 391.3L168.7 392.5L170.9 393L173.1 392.9L175.3 392.3L177.5 391.3ZM232.9 346.1L236.2 343.6L239.5 340L242.8 335.1L246.2 328.5L249.2 320.5L251.4 313.1L253.1 305L254.1 297.5L254.4 290.4L254.2 282.7L253.4 276.5L252 270.8L250.3 266.4L249 264.2L247.6 262.4L246.2 261L244.8 260.1L243.2 259.3L241.4 258.9L239.4 258.9L237.3 259.5L234.6 260.9L232.5 262.4L230.5 264.5L228.4 267L226.4 270L224.4 273.6L221.1 281.2L219.1 286.9L217.8 291.4L215.2 302.7L213.9 312.2L213.5 319.4L213.6 322.8L214.2 326.9L216 333.8L217.5 337.7L219 340.6L220.4 342.8L221.8 344.5L223.2 345.7L225.3 346.9L226.7 347.3L228.8 347.4L230.8 347L232.9 346.1Z" style="fill:none;stroke:#ffcccc;stroke-opacity:0.6;stroke-width:0.6"/><path d="M178.1 386.2L179.5 385.3L181.6 383.6L185.2 379.7L188.6 374.3L191.3 368.8L194 361.8L196.3 353.9L198.1 345.5L199.3 337.6L199.6 331.6L199.2 327.2L198 321.1L196.3 316.3L194 311.9L191.7 309L190.2 307.7L188.7 306.8L187.2 306.2L185.7 306L184.3 306L182.1 306.5L179.9 307.5L177.7 309.1L175.5 311.1L173.4 313.7L169.8 319.1L167.7 323.3L166.3 326.5L163.5 334.3L161.5 342.5L160.8 346.7L160.1 352L159.8 359.5L160.2 367.5L160.9 371.7L161.6 374.7L162.5 377.5L163.7 380.3L165.1 382.5L166.8 384.6L168.4 386L170 386.8L172.1 387.4L173.7 387.5L175.9 387.1L178.1 386.2ZM231.4 342.7L232.8 342L234.8 340.5L238.1 336.9L241.4 332L244 326.9L246.6 320.5L248.5 314.3L250 307.4L251.2 299.8L251.6 292.7L251.5 286L250.7 279.8L249.5 275L247.7 270.7L245.7 267.6L244.3 266.2L242.9 265.2L241.5 264.6L240.1 264.3L238.1 264.3L236 264.8L234 265.9L231.9 267.4L229.9 269.5L227.9 272L224.5 277.5L221.1 285L218.5 292.8L216.2 302.2L214.7 311.5L214.3 318.8L214.7 324.2L215.3 327.2L216.3 331L217.4 333.8L218.9 336.9L220.3 339.1L221.7 340.8L223.2 342L224.6 342.9L225.9 343.4L228 343.6L229.4 343.4L231.4 342.7Z" style="fill:none;stroke:#ffb2b2;stroke-opacity:0.6;stroke-width:0.6"/><path d="M177.9 381.5L180.8 379.9L182.9 378.1L184.3 376.6L187.8 371.7L190.6 366.6L193.2 360L195.2 353.8L197.1 345.8L198.3 338.4L198.6 333.5L198.4 329L197.7 324.8L196.3 320.1L194.1 315.7L191.8 312.8L189.6 311L188.1 310.3L186.6 309.9L185.1 309.9L183.7 310.1L182.2 310.6L180 311.9L177.8 313.6L176.4 315.1L174.3 317.8L172.8 319.9L170 325.1L167.2 332.1L165 339.8L163.5 348.2L162.9 355.8L163.1 362.8L164.1 369.2L164.9 372.1L165.8 374.5L166.7 376.5L168.2 378.6L169.6 380.1L171.1 381.2L172.8 381.9L174.2 382.1L175.8 382.1L177.9 381.5ZM230.7 339.1L233.4 337.4L235.4 335.5L236.7 333.9L239.3 330.1L241.9 325.2L244 320.1L245.9 314.1L247.2 308.5L248.3 302.1L248.8 296L248.8 290.4L248.3 285.1L247.2 279.9L245.7 275.7L243.7 272.6L241.6 270.7L240.2 269.9L238.8 269.5L237.4 269.5L235.4 269.8L233.4 270.8L231.3 272.3L229.3 274.3L227.9 276L224.6 281.3L222.6 285.4L221.2 288.7L219 295.4L216.8 304L215.5 312L215.2 318.1L215.6 323.5L216.3 326.4L217.1 329.2L219 333.4L220.2 335.5L221.7 337.2L223.1 338.4L224.5 339.2L225.9 339.7L227.2 339.9L228.6 339.7L230.7 339.1Z" style="fill:none;stroke:#ff9898;stroke-opacity:0.6;stroke-width:0.6"/><path d="M178.5 376.5L179.9 375.9L181.4 375L184.2 372.6L187 369L189.8 364.3L192.5 358.2L194.5 352.3L195.8 347.4L197.1 340.5L197.6 335.5L197.5 330.9L196.9 326.7L195.8 323L194.2 319.7L191.9 316.6L189.7 314.8L188.2 314.1L186.7 313.8L185.3 313.8L183.8 314.2L182.3 314.8L180.2 316.2L177.3 319.1L174.4 323.1L171.6 328.5L169.5 333.9L167.8 340L166.5 347L166 353.4L166.1 359.3L166.8 364.6L168.1 369.5L168.9 371.2L170.2 373.3L171.6 374.9L172.5 375.6L174 376.4L175.5 376.8L177 376.8L178.5 376.5ZM229.2 335.7L231.9 334.2L234.6 331.8L237.3 328.2L239.2 324.8L241.3 320L243.1 314.9L244.5 309.6L245.6 303.1L246 298.3L246 292.6L245.5 287.3L244.6 283.4L243.2 279.8L241.2 276.9L240.4 276.1L239 275.2L236.9 274.7L235.5 274.7L234.2 275.1L232.8 275.7L230.7 277.1L228.7 279.1L227.3 280.8L224.7 285.1L222 290.7L219.7 297.1L217.8 304.5L216.6 311.2L216.2 317.3L216.5 321.6L217.4 325.6L219.1 329.9L221.1 332.9L222.3 334.2L223.7 335.2L225.1 335.8L226.5 336.1L227.9 336L229.2 335.7Z" style="fill:none;stroke:#ff7e7e;stroke-opacity:0.6;stroke-width:0.6"/><path d="M182.6 369.6L184.8 367.7L186.9 365.1L189 361.8L191 357.6L193 352.4L194.3 348.1L195.6 342.5L196.3 337.7L196.4 334.1L196.2 330.7L195.6 327.7L194.3 324.1L192.8 321.5L191.3 319.8L189.1 318.3L186.9 317.8L185.4 317.9L183.9 318.3L182.5 319.1L181 320.1L178.2 323.1L175.3 327.5L173.1 332.3L171.2 338L169.9 343.7L169.2 349.7L169 354.5L169.5 360.1L170.8 365L172.5 368.3L173.7 369.7L174.6 370.4L176.1 371.2L177.4 371.4L179.8 371.2L181.2 370.5L182.6 369.6ZM231.2 330.5L233.2 328.7L235.3 326.1L237.2 322.9L239.1 318.7L240.4 315.1L241.6 310.8L242.4 306.8L243.1 301.7L243.2 298.2L243.1 293.7L242.5 289.6L241.8 286.8L240.7 284.2L239.2 281.9L237.7 280.7L235.6 279.9L234.3 280L232.9 280.3L231.5 281L230.2 282L227.4 284.8L224.7 289L222.1 294.6L220.1 300.2L218.5 306.2L217.5 312.8L217.4 317.5L217.9 321.7L219 325.4L220.8 328.7L222.9 331L224.3 331.8L225.7 332.2L227.1 332.3L228.5 332L229.8 331.4L231.2 330.5Z" style="fill:none;stroke:#ff6666;stroke-opacity:0.6;stroke-width:0.6"/><path d="M183.2 364.5L184.7 363.2L186.7 360.9L188.8 357.7L190.2 355L191.6 351.8L193.1 347.2L194.2 342.8L194.8 338.9L195 335.2L194.9 333L194.5 330.8L193.7 328L192.9 326.3L191.3 324L189.8 322.8L187.7 322L185.5 322.1L184.1 322.7L182.6 323.6L180.5 325.7L178.3 328.6L176.2 332.5L174.5 337.2L173.3 341.7L172.5 347.1L172.3 352L172.6 356.4L173.6 360.4L174.9 362.9L176.6 364.9L177.6 365.4L178.6 365.8L179.6 365.8L181.1 365.6L183.2 364.5ZM229.7 327.1L231.7 325.4L233.1 323.8L235.1 320.8L236.4 318.1L237.7 314.8L238.9 310.7L240 304.1L240.3 300.5L240.2 297.2L239.8 294L239.1 291.1L238 288.6L237 287.1L235.5 285.9L233.7 285.4L231.6 285.8L229.6 287.1L228.2 288.3L226.9 289.9L224.8 293.1L222.8 297.1L221.1 301.8L219.6 307.7L219 311.6L218.8 315.2L219.1 319.5L219.9 322.4L221.4 325.2L222.8 326.9L224.9 328.1L227 328.2L228.4 327.8L229.7 327.1Z" style="fill:none;stroke:#ff4c4c;stroke-opacity:0.6;stroke-width:0.6"/><path d="M182.3 359.4L183.8 358.8L185.9 357L187.3 355.2L188.7 353L191 347.7L192 344.6L192.7 341.4L193.1 337.9L193.1 335.5L192.8 333.4L192.3 331.4L191.5 329.7L190.4 328.2L189.3 327.3L187.9 326.8L186.2 326.8L184.2 327.7L182.8 328.8L181.1 330.8L179.3 333.9L178 336.8L177 339.9L176.4 342.8L176 345.9L175.8 349.2L176.1 352.5L176.8 355.5L177.8 357.6L179.4 359.1L180.9 359.6L182.3 359.4ZM227.6 323.4L228.9 322.7L230.3 321.6L231.6 320L233 318L234.3 315.3L235.3 312.4L236.6 306.8L236.9 304.3L237 300.9L236.4 296.7L235.8 294.9L235 293.3L233.8 292.1L232.4 291.5L231 291.6L229 292.6L227 294.7L225.6 296.6L224 299.6L222.6 302.9L221.6 306.2L220.9 310.1L220.6 313.8L220.7 316L221.2 318.7L222 320.6L223.1 322.2L224.6 323.3L226.2 323.6L227.6 323.4Z" style="fill:none;stroke:#ff3232;stroke-opacity:0.6;stroke-width:0.6"/><path d="M183.5 351.6L185 351.1L185.7 350.5L187.1 348.8L188.6 346.1L189.8 342.2L190.2 339L189.7 335.8L188.8 334.1L188.1 333.5L187.3 333.2L185.9 333.4L184.4 334.4L183.7 335.1L182.7 336.7L181.8 338.6L180.8 341.7L180.3 345.6L180.7 348.8L181.3 350.1L182 351.1L182.8 351.5L183.5 351.6ZM226.8 317.3L228.1 316.8L228.8 316.2L230.1 314.5L231.4 312.1L232.3 309.1L232.7 305.3L232.4 302.2L231.7 300.4L231.1 299.8L230.2 299.3L229.1 299.5L228.5 299.8L227.8 300.3L226.4 301.9L225 304.6L224.4 306.2L223.7 309.1L223.4 312.7L223.9 315.1L224.6 316.4L225.3 317L226.1 317.3L226.8 317.3Z" style="fill:none;stroke:#ff1818;stroke-opacity:0.6;stroke-width:0.6"/><path style="fill:none;stroke:#ff0000;stroke-opacity:0.6;stroke-width:0.6"/></g><g><path d="M200.7 443.2L219.3 427.3L216.9 420.5L215.1 413.3L213.2 403.7L211.7 392.6L210.4 379.1L209.3 364.1L208.2 345.5L207.4 324.2L207.1 301.1L207.1 282.2L207.4 265.4L208 250.6L209 236.7L210.3 223.7L211.8 212.9L213.9 201.7L193.7 216.2L196.4 224.1L198.4 232.4L200.2 242L201.9 254L203.2 267.4L204.4 283.1L205.5 302.3L206.5 324.9L206.8 346.7L206.8 366.2L206.5 382.3L205.9 397.5L205 410.6L203.7 422.8L202.3 433L200.3 443.5Z" style="fill:#0c0cff;fill-opacity:0.3"/><path d="M140.4 494.8L145.6 490.4L142.5 490.3L139.5 490L139.7 495.4ZM188.3 453.9L200.3 443.5L201.9 435.6L203.1 428L204.2 418.9L205.1 409.4L205.8 398.7L206.3 386.9L206.8 359.3L206.5 324.9L204.9 289.9L203.9 275.2L202.8 262.9L201.6 251.8L200.2 242L198.6 233.4L196.9 226.1L195.5 221.1L193.7 216.2L180.6 225.7L183.3 227L186.3 229.4L188.6 232L191 235.4L192.8 238.9L194.9 243.7L196.5 248.3L198.1 254.1L199.6 260.5L200.8 266.8L203 283.1L204.7 301.8L206.1 325.3L206 349.6L205.4 370.7L204.1 388.8L202.4 404L200 418L196.8 430.9L194.9 437.2L192.9 442.7L190.3 449.2L187.9 454.1ZM219.7 427L231.3 417L228.2 415.8L225.5 413.8L222.7 410.6L220.5 407.2L218.4 402.5L216.6 397.5L214.9 391.1L213.3 383.5L211.7 373.5L210.4 362.1L209.2 348.2L208.2 331.7L207.8 325L207.8 318.1L208.1 289.7L208.8 273.9L209.9 258.7L211.6 244.3L213.5 232.7L216.1 221L218.7 211.6L222.1 202.2L224.1 197.4L226.5 192.5L213.9 201.7L211.8 212.9L210.3 223.7L209 236.7L208 250.6L207.4 265.4L207.1 282.2L207.1 301.1L207.4 324.2L208.2 345.5L209.3 364.1L210.4 379.1L211.7 392.6L213.2 403.7L215.1 413.3L216.9 420.5L219.3 427.3ZM269.7 384.1L274.8 379.8L274.7 374.6L269.7 384.2ZM130.4 267.3L135.7 258.1L129.4 262.6L129.6 268.7ZM271.8 164.8L272.5 165.1L272.4 159.4L267 163.3L271.5 164.7Z" style="fill:#2626ff;fill-opacity:0.3"/><path d="M144.8 490.4L145.6 490.4L187.9 454.1L190.3 449.2L192.9 442.7L194.9 437.2L196.8 430.9L200 418L201.4 410.2L202.6 402.5L204.1 388.8L205.3 371.9L205.9 353.6L206.1 332.2L206 324.1L205 306.3L203.8 291.8L202.5 278.7L200.8 266.8L199 257.6L196.8 249.3L194.1 241.7L192.5 238.2L191 235.4L187.9 231.1L186.3 229.4L184 227.5L180.6 225.7L135.7 258.1L129.6 268.7L130.7 293.6L133.7 287.1L137.3 279.7L140.3 274.2L144 268.1L147.7 262.6L151.4 257.8L155.1 253.5L158.9 249.8L162.6 246.7L166.4 244.3L170.1 242.5L173.2 241.6L176.9 241.3L180 241.7L183 242.8L185.3 244.2L187.6 246.1L189.1 247.8L191.4 251.1L193 253.8L194.6 257.1L196 260.8L198.4 268.6L200.6 278.9L202.5 290.5L204.1 304.6L205.4 321.2L205.7 330.2L205.2 351.7L204.3 367L203.1 380.6L201.5 393.3L199.5 403.7L197 414.3L193.8 424.7L191.8 429.9L189.1 436L186.4 441.3L183 447.1L179.6 452L176.1 456.3L172.6 459.9L169 462.9L164.7 465.9L161.1 467.8L157.4 469.2L153.7 470L150 470.3L146.2 470L142.4 469L138.5 467.3L139.5 490L144.2 490.4ZM231 416.9L231.3 417L269.7 384.2L274.7 374.6L274.5 353.1L271.4 360.3L267.6 368.1L264.5 373.9L260.7 380.2L256.9 385.7L253 390.5L249.2 394.6L245.9 397.5L242 400.2L238.7 401.7L235.4 402.6L232 402.7L229.3 402L226.5 400.6L223.8 398.1L221.6 395.4L219.5 391.6L217.1 385.9L215 379L213.5 372.1L211.9 363.1L210.7 353.8L209.6 343.3L208.6 330.2L208.2 323.6L208.3 317.7L208.6 303.5L209.1 291.4L210.3 273.9L211.3 264.9L212.4 256.9L214.3 245.9L216.5 236.3L219.1 227.2L221.8 219.7L225.2 211.9L228.6 205.5L232 200.1L236.1 194.9L240.2 190.7L245 187L247 185.8L249.7 184.5L252.5 183.5L254.5 183L257.2 182.7L259.3 182.7L262 183.1L264 183.6L266 184.3L268.6 185.6L270.7 187L272.7 188.6L272.5 165.1L269.1 163.8L267 163.3L226.5 192.5L224.1 197.4L222.1 202.2L220.1 207.6L218.1 213.8L214.8 226.4L212.2 240.3L210.4 253.7L209.2 267.6L208.4 283.6L207.9 302.9L207.9 326.2L209 346L210.5 363.1L212 375.5L213.6 385.4L215.4 393.2L217.6 400.6L219.1 404.2L220.5 407.2L223.4 411.5L224.8 413.1L226.9 414.9L228.2 415.8L230.3 416.7Z" style="fill:#4040ff;fill-opacity:0.3"/><path d="M165.5 465.5L170.5 461.8L174.7 457.8L179.6 452L183.7 446L187.1 440.1L190.5 433.1L193.8 424.7L196.4 416.5L198.6 408.1L200.6 398.5L202 389.8L203.3 379.3L204.2 368.7L205 356.2L205.4 343.1L205.7 329.1L205.4 321.2L204.2 305.7L202.9 293.6L201.4 283.1L199.8 274.7L198.1 267.6L196.2 261.2L193.8 255.4L191.4 251.1L188.4 246.9L185.3 244.2L183.8 243.2L181.5 242.1L180 241.7L177.7 241.3L173.9 241.5L170.1 242.5L165.6 244.7L161.9 247.3L158.1 250.5L154.4 254.3L149.9 259.6L146.2 264.7L142.5 270.5L138.8 276.9L135.1 284L130.7 293.6L131.7 314.3L134.2 307.1L136.6 300.9L139.5 294.3L142.4 288.3L145.3 282.9L148.3 278L151.2 273.5L154.9 268.5L157.9 265L161.6 261.3L165.3 258.2L168.3 256.2L171.3 254.7L174.3 253.7L177.3 253.3L180.3 253.5L183.4 254.4L185.6 255.6L187.9 257.5L190.2 260L192.5 263.5L194.1 266.4L195.7 270L197.2 274.3L198.6 279.2L199.9 284.2L202.3 297.5L204.2 313.9L205 323.7L205.2 328.3L204.7 344.9L203.7 361.8L202.3 375.2L200.2 388.6L197.4 401.5L194.1 412.3L192.1 417.7L190.1 422.5L186.1 430.5L183.4 435.1L180.6 439L177.8 442.5L175 445.5L172.2 448.1L168.6 450.8L165 452.9L162.1 454.1L158.4 455.2L155.4 455.6L152.4 455.6L149.4 455.1L146.3 454.1L143.2 452.6L140.5 450.7L137.6 448.2L138.5 467.3L141.6 468.8L144.7 469.7L148.5 470.3L151.5 470.3L154.5 469.9L158.2 468.9L161.8 467.4L165.5 465.5ZM242.6 399.8L245.9 397.5L249.2 394.6L253 390.5L256.2 386.6L260 381.2L263.2 376.1L266.4 370.5L269.5 364.3L274.5 353.1L274.3 334.9L269.6 347.7L266.8 354.2L264.3 359.5L261.8 364.4L258.6 369.8L256 373.8L252.8 378.2L249.6 382L247 384.7L243.8 387.5L241.1 389.4L238.5 390.8L235.8 391.7L233.1 392.1L230.4 391.9L228.4 391.3L226.3 390.2L224.2 388.5L222.1 386.1L220 382.8L218.5 379.9L217 376.2L215.5 371.6L214.3 366.8L213 361.1L210.9 347.9L209.1 329.8L208.7 324.3L208.7 319.7L209.3 301.7L210.5 285.6L212.1 271.4L214.2 258.7L216.7 247.3L220 236.3L222 230.9L224 226.2L228.1 218.2L230.8 213.9L233.6 210.2L236.3 207L239 204.3L241.8 202.1L245.2 199.9L248.6 198.4L251.3 197.6L254.7 197.2L257.4 197.4L260.1 198L262.8 199L265.5 200.6L268.2 202.7L270.5 205L272.9 208.1L272.7 188.6L272 188.1L269.4 186.1L266 184.3L263.3 183.4L259.9 182.8L256.5 182.8L253.1 183.3L249.7 184.5L246.3 186.1L242.2 188.9L238.1 192.6L234 197.3L230.6 202.1L227.2 207.9L223.8 214.8L221.1 221.4L218.4 229.3L216.2 237.3L214.3 245.9L212.6 255.1L211.3 264.9L210.2 275.2L209.3 286.4L208.7 298.4L208.3 313L208.2 323.6L208.5 329.1L209.7 344.3L211.2 358L212.6 367.8L214.2 375.8L216 382.4L218 388.3L220.2 393L223.1 397.3L225.8 400L228.6 401.7L230 402.2L232 402.7L235.4 402.6L238.7 401.7L242.4 399.9Z" style="fill:#5858ff;fill-opacity:0.3"/><path d="M166.4 452.1L170.7 449.2L175 445.5L179.2 440.8L182.7 436.1L186.1 430.5L189.5 423.9L192.1 417.7L194.8 410.4L197.4 401.5L199.2 393.5L200.9 384.6L202.2 375.6L203.4 364.8L204.2 354.5L204.8 342.5L205.2 330.6L205.1 324.9L204.1 312.8L202.9 302L201.4 292L199.7 283.5L198.1 277.1L196.2 271.5L194.1 266.4L191.8 262.2L189.5 259.1L186.4 256.2L183.4 254.4L180.3 253.5L178.8 253.3L176.6 253.3L172.8 254.2L169.1 255.8L165.3 258.2L161.6 261.3L157.9 265L154.2 269.5L150.5 274.6L146.8 280.4L143.2 286.9L139.5 294.3L135.6 303.5L131.7 314.3L132.5 334.1L134.5 326.8L136.4 320.4L138.8 313.3L141.3 306.7L143.7 301L146.6 294.9L149.6 289.4L153.2 283.4L156.1 279.2L159.1 275.4L162.7 271.3L165.7 268.6L169.4 265.9L172.4 264.3L175.4 263.2L178.4 262.7L181.4 262.9L183.7 263.5L185.9 264.6L188.2 266.3L190.5 268.8L192 270.9L194 274.3L195.9 278.5L197.5 282.9L199.1 288.5L201.6 300.4L202.9 309L204 317.6L204.6 325.2L204.7 329.8L204 346.6L202.6 362.3L200.9 375.4L198.4 388.2L195.2 400.2L191.9 409.4L187.8 418.2L185.8 422L183.1 426.3L180.3 430.1L177.5 433.4L174.7 436.2L171.1 439L168.2 440.9L164.6 442.6L161.7 443.4L158.7 443.9L155.7 443.8L152.3 443.2L149.4 442.1L146.5 440.5L144 438.5L141.4 435.9L139.1 433.1L136.8 429.3L137.6 448.2L140.5 450.7L143.2 452.6L146.3 454.1L149.4 455.1L153.2 455.6L156.2 455.5L159.9 454.8L162.8 453.9L166.4 452.1ZM240.5 389.7L243.8 387.5L247 384.7L250.3 381.3L253.5 377.3L256.7 372.8L259.9 367.7L263 362L266.2 355.6L270.6 345.3L274.3 334.9L274.1 317L270.4 330.2L266 342.5L263.5 348.5L261 353.9L258.4 358.7L255.2 364.2L252.7 368L249.4 372.3L246.8 375.2L243.6 378.4L240.3 380.8L237.6 382.3L235 383.2L232.3 383.6L229.6 383.4L227.5 382.7L225.4 381.5L223.3 379.7L221.2 377L219.8 374.7L218.3 371.8L216.5 367.3L215.1 362.8L213.8 357.6L212.5 351.2L211.3 344.2L210.3 335.8L209.4 327.3L209.2 322.8L209.2 318.1L210 302.3L211.3 287.7L213.1 274.2L215.6 261.1L216.9 255.9L218.9 249L222.2 239.7L224.2 235L226.3 231L228.3 227.3L231 223.2L233.8 219.6L236.5 216.6L239.2 214.2L242.6 211.8L245.4 210.4L248.8 209.2L251.5 208.8L254.2 208.9L256.9 209.4L259.6 210.5L262.3 212.1L264.7 214L267.1 216.6L269.3 219.7L271.2 222.9L273.1 226.9L272.9 208.1L270.9 205.5L268.9 203.4L266.2 201.1L263.5 199.4L260.8 198.2L257.4 197.4L254.7 197.2L251.3 197.6L248.6 198.4L245.2 199.9L241.1 202.6L237.7 205.6L233.6 210.2L230.2 214.9L226.8 220.7L224 226.2L221.4 232.6L218.7 240.4L216.7 247.3L214.8 255.6L213.3 263.3L211.9 272.7L210.8 281.7L210 291.5L209.3 302.9L208.8 315L208.7 323.2L208.9 327.7L210 339.5L211.4 351L212.7 359.1L214.1 365.9L215.8 372.4L217.8 378.1L220 382.8L222.1 386.1L224.2 388.5L227 390.6L229.7 391.7L231.8 392.1L233.1 392.1L236.5 391.5L239.9 390.1Z" style="fill:#7272ff;fill-opacity:0.3"/><path d="M171.1 439L174.7 436.2L178.2 432.6L181.7 428.3L185.1 423.1L188.5 416.9L191.2 411L193.9 404.1L195.8 398L197.8 390.9L199.4 383.6L200.9 375.4L202.1 367.2L203.1 357.7L203.9 347.8L204.5 335.8L204.7 327.5L204.3 320.9L203.1 310.1L201.7 300.6L200.3 293.4L198.6 286.4L196.7 280.6L194.9 276.1L192.8 272.1L190.5 268.8L188.2 266.3L185.2 264.2L182.2 263L179.1 262.7L175.4 263.2L172.4 264.3L168.7 266.4L166.5 268L163.5 270.6L161.3 272.9L158.3 276.3L153.2 283.4L148.1 292.1L143.6 301.3L139.2 312L135.4 323.6L132.5 334.1L133.6 358.6L135.5 345.7L137 338.4L138.4 332.4L142.2 319.6L144.3 313.9L146.8 307.5L149.4 301.9L152.1 296.5L155 291.4L158 287L160.9 283.1L163.8 279.6L166.8 276.8L169.7 274.4L172 272.9L174.2 271.8L177.9 270.7L180.1 270.5L181.6 270.5L183.1 270.8L185.4 271.7L188.4 273.7L190 275.2L191.5 277L193 279.3L194.6 282.1L196.9 287.6L199 294.4L200.7 301.4L202.2 309.6L203.5 319.1L204 324.5L204.2 329.1L203.5 343.5L202.5 354.7L201.3 364.8L200 372.8L198.2 381.5L196.3 389L193.7 397.3L191 404.1L188.3 409.9L184.9 415.9L181.4 420.9L177.9 425L174.4 428.3L170.8 430.8L166.5 432.9L162.8 433.9L159.1 434.1L155.3 433.4L151.4 431.7L148.1 429.2L144.9 425.9L142.3 422.2L139.7 417.2L137.5 411.8L135.7 405.7L136.8 429.3L139.7 433.8L143.3 437.9L146.5 440.5L149.6 442.2L152.7 443.3L156.4 443.9L160.2 443.7L163.9 442.8L167.5 441.3L171 439.1ZM241.6 379.9L243.6 378.4L246.2 375.9L250.7 370.7L255.2 364.2L259.7 356.4L264.1 347L267.9 337.6L271.1 328L274.1 317L273.9 294.6L271.7 307.8L268.8 320L265.3 331.7L261 342.9L256.4 352.6L253.8 357.1L251.2 361.1L248.7 364.7L245.4 368.6L242.8 371.1L240.2 373.3L238.2 374.5L236.2 375.5L232.8 376.5L230.8 376.6L229.4 376.4L227.4 375.8L226 375.1L223.2 372.9L221.8 371.3L220.3 369.2L218.2 365.2L215.9 359.4L214.2 353.3L212.5 345.5L211.2 337.4L210 327.9L209.7 323.5L209.7 318.9L210.7 303L211.7 292.9L212.9 283.7L214.5 274.1L216 267.2L218 259.8L220.4 252.2L223.1 245.4L225.8 239.7L229.1 233.8L232.5 229.1L236 225.4L239.4 222.5L242.8 220.4L244.8 219.5L246.9 218.9L250.3 218.5L253.6 218.9L257.1 220.2L260.1 222.1L263.2 225.2L265.9 228.9L268.2 233.2L270.3 238.4L272 243.9L273.4 250.1L273.1 226.9L271.6 223.7L269.8 220.5L268.3 218.2L266.4 215.8L263.2 212.8L260.3 210.8L257.6 209.6L254.2 208.9L250.8 208.9L247.4 209.6L244 211L240.6 213.1L237.2 216L233.8 219.6L230.3 224.1L227.6 228.5L224.9 233.6L222.2 239.7L220.2 245L218.2 251.2L216.3 258.4L214.6 265.9L213.1 274.2L211.9 282.7L210.8 292.3L210.1 301.1L209.5 312.1L209.2 321.7L209.4 327.3L210.5 337.6L211.6 346.2L213 353.9L214.6 360.8L216.1 366L217.8 370.7L219.8 374.7L221.9 378L224 380.4L226.1 382L228.9 383.2L231.6 383.6L235 383.2L238.3 382L241.1 380.3Z" style="fill:#8c8cff;fill-opacity:0.3"/><path d="M168.6 432L172.2 429.9L175.8 427L179.3 423.4L182.8 419L186.3 413.6L189 408.5L191.7 402.5L193.7 397.3L195.6 391.3L197.6 384.2L199.2 376.9L200.7 368.7L201.9 360.5L203 350L203.8 339.9L204.2 331.4L204.1 325.7L203.6 319.9L202.4 310.7L201 302.7L199.3 295.4L197.7 289.9L196.1 285.6L194.2 281.4L192.2 278.1L190 275.2L187.7 273.1L184.7 271.3L182.4 270.7L179.4 270.5L176.4 271L173.4 272.1L170.5 273.9L167.5 276.1L164.6 278.9L160.9 283.1L157.2 288L154.3 292.6L151.4 297.8L148.5 303.8L145.7 310.2L143.4 316.3L141.1 322.9L139.3 329.3L137.3 336.9L135.8 344.2L134.6 351.3L133.6 358.6L135.7 405.7L137.9 412.8L140.1 418.1L142.8 423L145.9 427.1L149.1 430.1L152.8 432.4L154.6 433.2L156.7 433.8L160.6 434.1L164.3 433.6L168.5 432.1ZM170.4 423.6L166.9 424.9L163.9 425.5L160.2 425.4L157.2 424.6L154.1 423.1L151.2 420.8L148.6 417.9L146.1 414.4L144 410.2L142.2 405.7L140.7 400.9L139.4 394.8L138.5 389.5L137.9 382.8L137.6 375.8L137.7 369.6L138.1 362L138.8 355.4L140 347.1L141.4 340L143.2 332.5L144.9 326.2L147.1 319.6L149.7 312.8L152.5 306.4L155.1 301.3L158.3 295.7L161.2 291.4L164.1 287.6L167.8 283.7L171.5 280.7L174.4 278.9L177.4 277.7L179.6 277.2L182.6 277.2L184.9 277.8L187.1 278.9L189.4 280.6L191.7 283.2L194 286.7L195.5 289.8L197.4 294.5L198.9 299.2L200.4 305.1L201.8 312.3L202.9 319.6L203.6 326.1L203.6 330.7L203.4 337.2L202.6 346.6L201.7 354.7L200.5 363.3L199 371.4L197.4 378.4L195.4 385.4L193.5 391.4L191.5 396.6L188.8 402.4L186.1 407.4L183.3 411.7L180.5 415.3L177 418.9L174.1 421.3L170.5 423.5ZM236.8 375.2L239.5 373.7L242.8 371.1L245.4 368.6L248.7 364.7L251.7 360.5L254.5 356L257 351.4L259.5 346.1L262.1 340.3L264.2 334.8L266.5 328.1L268.5 321.4L270.2 314.5L271.7 307.8L273.9 294.6L273.4 250.1L271.5 242L269.3 235.7L266.9 230.7L263.9 226.1L261.1 223.1L257.8 220.5L254.4 219.1L251 218.5L248.9 218.5L246.9 218.9L243.5 220.1L240 222L236.6 224.7L233.2 228.3L230.5 231.8L227.8 236L225.1 241L222.4 247L220.4 252.2L218.4 258.3L216.5 265.4L214.8 272.8L213.5 279.7L212.3 287.7L211.3 296.7L210.4 306.8L209.9 315.3L209.7 321.2L209.8 325.8L210.8 334.3L212 342.8L213.3 349.5L214.7 355.2L216.3 360.6L218.2 365.2L219.6 368L221.8 371.3L223.9 373.6L226 375.1L228 376.1L230.8 376.6L233.5 376.4L236.4 375.4ZM235.8 369.3L233.4 370.1L230.6 370.5L227.9 370.1L225.8 369.2L223.7 367.7L221.6 365.5L220.2 363.5L218.4 360.1L216.5 355.8L215 351.2L213.6 345.8L212.6 340.9L211.2 332.7L210.5 326.4L210.2 322L210.3 317.3L210.9 308.7L211.6 300.5L212.8 291.1L213.9 284.1L215.3 277L217 270L218.6 264.3L220.5 258.3L222.5 253.2L225.2 247.4L227.9 242.5L230.6 238.5L233.4 235.1L236.1 232.4L238.8 230.2L242.2 228.3L245 227.3L248.4 226.9L251.7 227.3L254.5 228.4L257.2 230.2L259.8 232.7L262 235.6L263.9 238.8L265.8 243L267.4 247.5L268.6 252.2L269.7 258.1L270.4 263.2L270.9 269.6L271 276.2L270.9 283L270.4 290.1L269.7 296.1L268.5 303.7L267.3 310.3L265.7 317.1L263.7 324.2L261.7 330.2L259.4 336.5L256.9 342.4L254.3 347.6L251.8 352.2L248.5 357.2L245.3 361.5L242 364.9L238.7 367.6L236 369.2Z" style="fill:#a6a6ff;fill-opacity:0.3"/><path d="M170.5 423.5L174.1 421.3L177 418.9L180.5 415.3L183.3 411.7L186.1 407.4L188.8 402.4L191.5 396.6L193.5 391.4L195.4 385.4L197.4 378.4L199 371.4L200.5 363.3L201.7 354.7L202.6 346.6L203.4 337.2L203.6 330.7L203.6 326.1L202.9 319.6L201.8 312.3L200.4 305.1L198.9 299.2L197.4 294.5L195.5 289.8L194 286.7L191.7 283.2L189.4 280.6L187.1 278.9L184.9 277.8L182.6 277.2L179.6 277.2L177.4 277.7L174.4 278.9L171.5 280.7L167.8 283.7L164.1 287.6L161.2 291.4L158.3 295.7L155.1 301.3L152.5 306.4L149.7 312.8L147.1 319.6L144.9 326.2L143.2 332.5L141.4 340L140 347.1L138.8 355.4L138.1 362L137.7 369.6L137.6 375.8L137.9 382.8L138.5 389.5L139.4 394.8L140.7 400.9L142.2 405.7L144 410.2L146.1 414.4L148.6 417.9L151.2 420.8L154.1 423.1L157.2 424.6L160.2 425.4L163.9 425.5L166.9 424.9L170.4 423.6ZM173.6 415.2L170.3 416.8L167.4 417.7L164.4 418L161.4 417.6L158.4 416.5L156.1 415L153.7 412.9L151.3 410.1L149.4 407L147.3 402.8L145.6 398.2L144.3 393.3L143.3 388.1L142.6 382.6L142.2 377L142.1 371L142.2 364.9L142.7 358.5L143.4 351.8L144.6 344.8L146 337.7L147.6 331.5L149.5 325.1L151.5 319.5L154.1 313.1L156.4 308L159.3 302.6L162.2 298L165.1 294L168 290.6L171 287.8L173.9 285.6L176.9 284.1L179.1 283.4L182 283L184.3 283.3L186.5 284.1L188.8 285.5L191.1 287.7L193.4 290.8L194.9 293.5L196.7 297.4L198 301.2L199.7 306.9L201 312.9L202.1 319L202.9 325.4L203.1 329.9L202.9 335.9L202.1 344.4L200.2 358.9L199 365.6L197.2 373.3L194 384.3L192 389.6L190 394.3L187.9 398.3L185.2 403L182.4 406.9L179.6 410.2L176.8 412.9L173.9 415ZM236 369.2L238.7 367.6L242 364.9L245.3 361.5L248.5 357.2L251.8 352.2L254.3 347.6L256.9 342.4L259.4 336.5L261.7 330.2L263.7 324.2L265.7 317.1L267.3 310.3L268.5 303.7L269.7 296.1L270.4 290.1L270.9 283L271 276.2L270.9 269.6L270.4 263.2L269.7 258.1L268.6 252.2L267.4 247.5L265.8 243L263.9 238.8L262 235.6L259.8 232.7L257.2 230.2L254.5 228.4L251.7 227.3L248.4 226.9L245 227.3L242.2 228.3L238.8 230.2L236.1 232.4L233.4 235.1L230.6 238.5L227.9 242.5L225.2 247.4L222.5 253.2L220.5 258.3L218.6 264.3L217 270L215.3 277L213.9 284.1L212.8 291.1L211.6 300.5L210.9 308.7L210.3 317.3L210.2 322L210.5 326.4L211.2 332.7L212.6 340.9L213.6 345.8L215 351.2L216.5 355.8L218.4 360.1L220.2 363.5L221.6 365.5L223.7 367.7L225.8 369.2L227.9 370.1L230.6 370.5L233.4 370.1L235.8 369.3ZM236.6 363L233.9 364.4L231.9 364.9L229.2 365L227.1 364.6L225 363.6L222.9 361.9L220.8 359.4L219.4 357.2L217.7 353.9L216 349.6L214.6 345L213.3 340L212.2 334.3L211.3 328.1L210.9 323.8L210.8 319.2L211.8 305.9L212.9 296.6L214 289.9L215.4 282.3L216.7 276.7L218 271.9L220 265.6L222 260.3L224 255.7L226 251.7L228.7 247.2L230.8 244.4L233.5 241.2L236.2 238.6L238.9 236.7L241.7 235.3L244.4 234.5L247.1 234.4L249.9 234.8L252.5 235.9L254.9 237.6L256.9 239.5L259.1 242.4L260.9 245.6L262.5 249L264 253.5L265.2 258.2L266.1 263.2L266.7 268.3L267.1 273.7L267.2 280.3L267 287.2L266.5 293.2L265.7 299.3L264.7 305.7L263.3 312.4L261.9 317.9L260.3 323.7L258 330.4L255.7 336.3L253.6 341L251 346L248.4 350.3L245.8 354.1L243.2 357.3L239.9 360.6L237.3 362.6Z" style="fill:#c0c0ff;fill-opacity:0.3"/><path d="M173.9 415L176.8 412.9L179.6 410.2L182.4 406.9L185.2 403L187.9 398.3L190 394.3L192 389.6L194 384.3L197.2 373.3L199 365.6L200.2 358.9L202.1 344.4L202.9 335.9L203.1 329.9L202.9 325.4L202.1 319L201 312.9L199.7 306.9L198 301.2L196.7 297.4L194.9 293.5L193.4 290.8L191.1 287.7L188.8 285.5L186.5 284.1L184.3 283.3L182 283L179.1 283.4L176.9 284.1L173.9 285.6L171 287.8L168 290.6L165.1 294L162.2 298L159.3 302.6L156.4 308L154.1 313.1L151.5 319.5L149.5 325.1L147.6 331.5L146 337.7L144.6 344.8L143.4 351.8L142.7 358.5L142.2 364.9L142.1 371L142.2 377L142.6 382.6L143.3 388.1L144.3 393.3L145.6 398.2L147.3 402.8L149.4 407L151.3 410.1L153.7 412.9L156.1 415L158.4 416.5L161.4 417.6L164.4 418L167.4 417.7L170.3 416.8L173.6 415.2ZM174.5 408.6L171.5 410.1L168.6 410.9L166 411L163.4 410.6L160.7 409.6L158.3 408L156.3 406.1L154.1 403.3L152.1 400L150.6 396.6L149.3 392.9L148 387.9L147.2 383.8L146.5 378.3L146.2 372.6L146.1 367.9L146.3 361.7L146.7 356.5L147.5 349.8L148.4 344.2L149.6 338.4L151.2 332.4L153.1 326L154.9 321L157.1 315.7L159.6 310.3L162.1 305.8L164.6 301.7L167.2 298.3L169.7 295.3L172.6 292.6L175.6 290.5L178.5 289.1L180.7 288.5L183 288.3L185.2 288.6L187.4 289.5L189.7 291.1L192 293.5L193.5 295.6L195 298.3L196.8 302.1L198.2 305.9L199.8 311.5L200.9 316.5L201.8 321.6L202.3 325.9L202.5 330.4L202.2 336.5L201.6 342.7L199.6 356.8L197.1 368.6L195.8 373.4L193.8 379.6L191.8 384.9L189.8 389.5L187.8 393.4L185.7 396.9L183.6 399.9L180.8 403.3L178 406.1L175.2 408.2ZM237.3 362.6L239.9 360.6L243.2 357.3L245.8 354.1L248.4 350.3L251 346L253.6 341L255.7 336.3L258 330.4L260.3 323.7L261.9 317.9L263.3 312.4L264.7 305.7L265.7 299.3L266.5 293.2L267 287.2L267.2 280.3L267.1 273.7L266.7 268.3L266.1 263.2L265.2 258.2L264 253.5L262.5 249L260.9 245.6L259.1 242.4L256.9 239.5L254.9 237.6L252.5 235.9L249.9 234.8L247.1 234.4L244.4 234.5L241.7 235.3L238.9 236.7L236.2 238.6L233.5 241.2L230.8 244.4L228.7 247.2L226 251.7L224 255.7L222 260.3L220 265.6L218 271.9L216.7 276.7L215.4 282.3L214 289.9L212.9 296.6L211.8 305.9L210.8 319.2L210.9 323.8L211.3 328.1L212.2 334.3L213.3 340L214.6 345L216 349.6L217.7 353.9L219.4 357.2L220.8 359.4L222.9 361.9L225 363.6L227.1 364.6L229.2 365L231.9 364.9L233.9 364.4L236.6 363ZM235.5 358.4L233.1 359.5L231.1 360.1L229.1 360.2L227 359.8L224.9 358.9L222.8 357.3L221.4 355.7L219.7 353.4L217.8 349.8L216.6 346.8L215.3 343.2L214 338.6L212.7 332.7L211.9 327.6L211.5 323.3L211.4 318.7L211.8 312.6L212.4 306.3L214.3 293.4L216.8 281.5L218.1 276.7L220.1 270.5L222.1 265.2L224.1 260.7L226.1 256.8L228.2 253.5L230.2 250.6L232.9 247.4L235.6 244.9L238.4 243L241.1 241.8L243.1 241.3L245.9 241.2L248.1 241.6L250.7 242.7L252.7 244.2L254.8 246.3L256.6 248.9L258.4 252.1L259.8 255.6L261 259.2L262.1 264L262.8 268L263.4 273.2L263.7 278.6L263.7 284.2L263.4 290L262.9 296L261.1 307.5L258.5 318.5L255.1 329L253.2 333.9L250.9 338.9L248.7 343.1L246.4 347L243.7 350.7L241.1 353.8L238.5 356.3L235.8 358.2Z" style="fill:#d8d8ff;fill-opacity:0.3"/><path d="M175.2 408.2L178 406.1L180.8 403.3L183.6 399.9L185.7 396.9L187.8 393.4L189.8 389.5L191.8 384.9L193.8 379.6L195.8 373.4L197.1 368.6L199.6 356.8L201.6 342.7L202.2 336.5L202.5 330.4L202.3 325.9L201.8 321.6L200.9 316.5L199.8 311.5L198.2 305.9L196.8 302.1L195 298.3L193.5 295.6L192 293.5L189.7 291.1L187.4 289.5L185.2 288.6L183 288.3L180.7 288.5L178.5 289.1L175.6 290.5L172.6 292.6L169.7 295.3L167.2 298.3L164.6 301.7L162.1 305.8L159.6 310.3L157.1 315.7L154.9 321L153.1 326L151.2 332.4L149.6 338.4L148.4 344.2L147.5 349.8L146.7 356.5L146.3 361.7L146.1 367.9L146.2 372.6L146.5 378.3L147.2 383.8L148 387.9L149.3 392.9L150.6 396.6L152.1 400L154.1 403.3L156.3 406.1L158.3 408L160.7 409.6L163.4 410.6L166 411L168.6 410.9L171.5 410.1L174.5 408.6ZM173.9 403.4L171.3 404.3L169.1 404.6L166.1 404.4L163.9 403.7L161.6 402.4L159.8 400.9L157.7 398.5L155.9 395.8L154.2 392.4L152.9 388.8L151.8 384.9L151 380.8L150.4 376.5L150 372L149.8 366.1L149.9 361.2L150.9 350.8L151.7 345.3L152.9 339.6L154.4 333.6L155.8 328.9L157.5 323.9L159.6 318.7L162 313.4L164.1 309.5L166.3 306L168.5 303L170.6 300.4L173.6 297.5L176.5 295.3L178.7 294.2L180.9 293.4L183.1 293.1L185.3 293.4L187.6 294.2L189.8 295.6L191.3 297.1L192.9 298.9L194.4 301.3L195.9 304.3L197.5 308.1L199.9 316.1L200.8 320.1L201.6 325.3L201.8 328.6L201.8 333.3L200.7 344.6L199.5 352.5L198.4 358L195.7 369.1L192.4 378.9L190.4 383.6L188.3 387.7L186.3 391.2L184.2 394.2L182.1 396.9L179.3 399.7L176.4 402L174.2 403.2ZM235.8 358.2L238.5 356.3L241.1 353.8L243.7 350.7L246.4 347L248.7 343.1L250.9 338.9L253.2 333.9L255.1 329L258.5 318.5L261.1 307.5L262.9 296L263.4 290L263.7 284.2L263.7 278.6L263.4 273.2L262.8 268L262.1 264L261 259.2L259.8 255.6L258.4 252.1L256.6 248.9L254.8 246.3L252.7 244.2L250.7 242.7L248.1 241.6L245.9 241.2L243.1 241.3L241.1 241.8L238.4 243L235.6 244.9L232.9 247.4L230.2 250.6L228.2 253.5L226.1 256.8L224.1 260.7L222.1 265.2L220.1 270.5L218.1 276.7L216.8 281.5L214.3 293.4L212.4 306.3L211.8 312.6L211.4 318.7L211.5 323.3L211.9 327.6L212.7 332.7L214 338.6L215.3 343.2L216.6 346.8L217.8 349.8L219.7 353.4L221.4 355.7L222.8 357.3L224.9 358.9L227 359.8L229.1 360.2L231.1 360.1L233.1 359.5L235.5 358.4ZM233.1 354.8L231 355.5L229 355.7L226.9 355.4L225.5 354.9L223.4 353.6L222 352.3L220.6 350.6L219.1 348.4L217.7 345.5L216.2 341.9L213.9 334L213.1 330.1L212.3 325L212 320.6L212.1 317L213.2 305.7L214.4 297.8L215.5 292.3L218.2 281.1L221.5 271.4L223.5 266.7L225.6 262.7L227.6 259.3L229.6 256.4L231.7 253.9L233.7 251.8L235.7 250.2L238.5 248.6L241.2 247.6L243.3 247.4L245.3 247.6L247.4 248.2L249.4 249.4L251.5 251.1L253.5 253.6L254.9 256L256.5 259.3L257.7 262.9L258.7 266.7L259.5 270.7L260.3 279L260.5 284.5L260.3 289.1L259.9 295L259.4 300L257.5 310.4L255 320.2L253.3 325.4L251.4 330.4L247.5 338.6L245.2 342.6L243 345.9L240.4 349.2L238.4 351.2L235.7 353.3L233.7 354.5Z" style="fill:#f2f2ff;fill-opacity:0.3"/><path d="M174.2 403.2L176.4 402L179.3 399.7L182.1 396.9L184.2 394.2L186.3 391.2L188.3 387.7L190.4 383.6L192.4 378.9L195.7 369.1L198.4 358L199.5 352.5L200.7 344.6L201.8 333.3L201.8 328.6L201.6 325.3L200.8 320.1L199.9 316.1L197.5 308.1L195.9 304.3L194.4 301.3L192.9 298.9L191.3 297.1L189.8 295.6L187.6 294.2L185.3 293.4L183.1 293.1L180.9 293.4L178.7 294.2L176.5 295.3L173.6 297.5L170.6 300.4L168.5 303L166.3 306L164.1 309.5L162 313.4L159.6 318.7L157.5 323.9L155.8 328.9L154.4 333.6L152.9 339.6L151.7 345.3L150.9 350.8L149.9 361.2L149.8 366.1L150 372L150.4 376.5L151 380.8L151.8 384.9L152.9 388.8L154.2 392.4L155.9 395.8L157.7 398.5L159.8 400.9L161.6 402.4L163.9 403.7L166.1 404.4L169.1 404.6L171.3 404.3L173.9 403.4ZM175.9 397.1L173.3 398.2L171.1 398.6L168.9 398.6L166.7 398.1L164.5 397.1L162.8 395.8L161.1 394L159.5 391.8L158.1 389.3L156.6 385.8L155.7 383L154.7 379L154 374.8L153.5 370.4L153.3 365.8L153.3 360.9L153.6 355.9L154.2 350.7L155.8 340.9L158.1 331.9L159.7 327L161.6 322.2L165.1 314.7L167.2 311L169.4 307.8L171.6 305L173.7 302.7L176.6 300.3L178.8 299L181 298.1L183.3 297.7L185.5 297.8L187 298.2L189.2 299.3L190.7 300.5L192.2 302.1L193.8 304.2L195.3 306.8L196.8 310.2L199.2 317.4L200.2 321.7L200.9 325.9L201.1 329.2L201.1 332.7L200.2 342.7L198.1 354.8L195.6 365.1L192.9 373.1L189.6 380.8L187.5 384.6L185.4 387.9L183.3 390.7L181.2 393L179.1 395L176.2 396.9ZM233.7 354.5L235.7 353.3L238.4 351.2L240.4 349.2L243 345.9L245.2 342.6L247.5 338.6L251.4 330.4L253.3 325.4L255 320.2L257.5 310.4L259.4 300L259.9 295L260.3 289.1L260.5 284.5L260.3 279L259.5 270.7L258.7 266.7L257.7 262.9L256.5 259.3L254.9 256L253.5 253.6L251.5 251.1L249.4 249.4L247.4 248.2L245.3 247.6L243.3 247.4L241.2 247.6L238.5 248.6L235.7 250.2L233.7 251.8L231.7 253.9L229.6 256.4L227.6 259.3L225.6 262.7L223.5 266.7L221.5 271.4L218.2 281.1L215.5 292.3L214.4 297.8L213.2 305.7L212.1 317L212 320.6L212.3 325L213.1 330.1L213.9 334L216.2 341.9L217.7 345.5L219.1 348.4L220.6 350.6L222 352.3L223.4 353.6L225.5 354.9L226.9 355.4L229 355.7L231 355.5L233.1 354.8ZM233.2 350.2L231.6 350.9L229.6 351.4L227.5 351.4L225.4 350.8L223.3 349.5L221.9 348.3L220.5 346.6L219.2 344.7L217.6 341.5L216.5 338.9L215.3 335.5L214.3 331.5L213.4 327.5L212.9 324L212.7 320L212.8 317L213.2 311.5L213.8 306.4L215.8 295.5L218.3 285.2L221.6 275.5L225 268.3L227 264.8L229 261.8L231.1 259.3L233.1 257.3L235.2 255.7L237.2 254.5L239.3 253.7L241.3 253.3L243.4 253.4L245.4 254L247.3 255L248.9 256.3L250.6 258.2L252.1 260.5L253.3 262.9L254.7 266.4L256.3 273.1L256.9 277.2L257.2 281.4L257.3 290.4L256.5 300L255 309.1L252.5 318.9L249.4 327.9L245.9 335.4L244.2 338.4L241.8 342.1L239.6 344.9L237.6 347L235.6 348.7L233.6 350Z" style="fill:#fff2f2;fill-opacity:0.3"/><path d="M176.2 396.9L179.1 395L181.2 393L183.3 390.7L185.4 387.9L187.5 384.6L189.6 380.8L192.9 373.1L195.6 365.1L198.1 354.8L200.2 342.7L201.1 332.7L201.1 329.2L200.9 325.9L200.2 321.7L199.2 317.4L196.8 310.2L195.3 306.8L193.8 304.2L192.2 302.1L190.7 300.5L189.2 299.3L187 298.2L185.5 297.8L183.3 297.7L181 298.1L178.8 299L176.6 300.3L173.7 302.7L171.6 305L169.4 307.8L167.2 311L165.1 314.7L161.6 322.2L159.7 327L158.1 331.9L155.8 340.9L154.2 350.7L153.6 355.9L153.3 360.9L153.3 365.8L153.5 370.4L154 374.8L154.7 379L155.7 383L156.6 385.8L158.1 389.3L159.5 391.8L161.1 394L162.8 395.8L164.5 397.1L166.7 398.1L168.9 398.6L171.1 398.6L173.3 398.2L175.9 397.1ZM177.1 391.5L175.3 392.3L173.1 392.9L170.9 393L168.7 392.5L166.9 391.6L165.3 390.5L164 389.3L162.3 387.1L160.9 384.7L159.8 382L158.8 379.2L157.9 375.3L156.8 367.8L156.6 359.6L157.3 350.6L158.6 342.4L160.8 333.4L163.6 325.2L167.1 317.7L168.9 314.6L171 311.3L174.6 307L176.8 305L179 303.5L181.2 302.5L182.7 302.1L184.9 301.9L186.4 302.1L188.6 302.9L190.1 303.9L191.6 305.2L193.1 307L194.6 309.3L196.2 312.4L198.5 319L199.9 325.4L200.3 328.7L200.4 332.1L199.8 339.7L198 350.9L195.4 361.3L192.8 369.2L189.4 376.9L186 382.7L183.9 385.6L181.8 387.9L179.7 389.8L177.5 391.3ZM233.6 350L235.6 348.7L237.6 347L239.6 344.9L241.8 342.1L244.2 338.4L245.9 335.4L249.4 327.9L252.5 318.9L255 309.1L256.5 300L257.3 290.4L257.2 281.4L256.9 277.2L256.3 273.1L254.7 266.4L253.3 262.9L252.1 260.5L250.6 258.2L248.9 256.3L247.3 255L245.4 254L243.4 253.4L241.3 253.3L239.3 253.7L237.2 254.5L235.2 255.7L233.1 257.3L231.1 259.3L229 261.8L227 264.8L225 268.3L221.6 275.5L218.3 285.2L215.8 295.5L213.8 306.4L213.2 311.5L212.8 317L212.7 320L212.9 324L213.4 327.5L214.3 331.5L215.3 335.5L216.5 338.9L217.6 341.5L219.2 344.7L220.5 346.6L221.9 348.3L223.3 349.5L225.4 350.8L227.5 351.4L229.6 351.4L231.6 350.9L233.2 350.2ZM232.6 346.3L230.8 347L228.8 347.4L226.7 347.3L225.3 346.9L223.9 346.2L222.5 345.1L221.1 343.7L219.7 341.8L218.2 339.2L216.7 335.9L214.9 329.8L214 325.9L213.6 322.8L213.5 317.1L214.3 308.3L216.3 297.5L218.5 288.7L221.7 279.5L225.1 272.4L228.4 267L231.8 263.1L233.9 261.3L235.9 260.1L238 259.2L240 258.9L242 259L243.5 259.4L245 260.2L246.5 261.3L247.8 262.6L249.4 264.8L250.7 267.3L251.7 269.9L252.6 272.6L253.4 276.5L254.3 283.8L254.4 291.6L253.8 299.9L252.3 309L250.2 317.4L247.6 325.1L244.4 332.1L240.8 338.2L238.9 340.8L236.9 343L234.9 344.8L232.9 346.1Z" style="fill:#ffd8d8;fill-opacity:0.3"/><path d="M177.5 391.3L179.7 389.8L181.8 387.9L183.9 385.6L186 382.7L189.4 376.9L192.8 369.2L195.4 361.3L198 350.9L199.8 339.7L200.4 332.1L200.3 328.7L199.9 325.4L198.5 319L196.2 312.4L194.6 309.3L193.1 307L191.6 305.2L190.1 303.9L188.6 302.9L186.4 302.1L184.9 301.9L182.7 302.1L181.2 302.5L179 303.5L176.8 305L174.6 307L171 311.3L168.9 314.6L167.1 317.7L163.6 325.2L160.8 333.4L158.6 342.4L157.3 350.6L156.6 359.6L156.8 367.8L157.9 375.3L158.8 379.2L159.8 382L160.9 384.7L162.3 387.1L164 389.3L165.3 390.5L166.9 391.6L168.7 392.5L170.9 393L173.1 392.9L175.3 392.3L177.1 391.5ZM177.6 386.4L175.9 387.1L174.4 387.4L172.2 387.4L170.7 387.1L169 386.4L167.5 385.3L166.1 383.9L164.6 381.7L162.5 377.5L160.9 371.7L160 365.3L159.8 357L160.4 349.4L161.8 341.1L163.8 333.6L166.3 326.5L169.1 320.4L172.6 314.6L176.2 310.4L178.4 308.5L180.6 307.1L182.8 306.3L184.3 306L185.7 306L187.2 306.2L188.7 306.8L190.2 307.7L191.7 309L193.2 310.8L194.7 313.2L196 315.6L198 321.1L199.2 327.2L199.5 330.4L199.5 333.9L198.8 341.5L197.3 349.9L194.7 359.8L192 367.2L188.6 374.3L185.2 379.7L181.6 383.6L179.5 385.3L178.1 386.2ZM232.9 346.1L234.9 344.8L236.9 343L238.9 340.8L240.8 338.2L244.4 332.1L247.6 325.1L250.2 317.4L252.3 309L253.8 299.9L254.4 291.6L254.3 283.8L253.4 276.5L252.6 272.6L251.7 269.9L250.7 267.3L249.4 264.8L247.8 262.6L246.5 261.3L245 260.2L243.5 259.4L242 259L240 258.9L238 259.2L235.9 260.1L233.9 261.3L231.8 263.1L228.4 267L225.1 272.4L221.7 279.5L218.5 288.7L216.3 297.5L214.3 308.3L213.5 317.1L213.6 322.8L214 325.9L214.9 329.8L216.7 335.9L218.2 339.2L219.7 341.8L221.1 343.7L222.5 345.1L223.9 346.2L225.3 346.9L226.7 347.3L228.8 347.4L230.8 347L232.6 346.3ZM231.4 342.7L229.4 343.4L228 343.6L226.6 343.5L225.3 343.2L223.9 342.5L222.5 341.5L221 340L219.6 338.1L217.3 333.6L216.1 330L215.3 327.2L214.7 324.2L214.4 321L214.4 315.2L215.3 307L217.2 297.7L219.8 288.6L222.5 281.7L225.8 275.1L229.2 270.2L230.6 268.7L232.6 266.9L234.7 265.5L236 264.8L238.1 264.3L239.5 264.2L241 264.4L242.9 265.2L244.3 266.2L245.7 267.7L247 269.5L248.1 271.5L249.8 276L251 281.8L251.6 288.2L251.5 296.2L250.7 303.6L249.2 311.5L247.2 318.7L244.6 325.5L241.4 332L238.1 336.9L234.8 340.5L232.8 342L231.4 342.7Z" style="fill:#ffbebe;fill-opacity:0.3"/><path d="M178.1 386.2L179.5 385.3L181.6 383.6L185.2 379.7L188.6 374.3L192 367.2L194.7 359.8L197.3 349.9L198.8 341.5L199.5 333.9L199.5 330.4L199.2 327.2L198 321.1L196 315.6L194.7 313.2L193.2 310.8L191.7 309L190.2 307.7L188.7 306.8L187.2 306.2L185.7 306L184.3 306L182.8 306.3L180.6 307.1L178.4 308.5L176.2 310.4L172.6 314.6L169.1 320.4L166.3 326.5L163.8 333.6L161.8 341.1L160.4 349.4L159.8 357L160 365.3L160.9 371.7L162.5 377.5L164.6 381.7L166.1 383.9L167.5 385.3L169 386.4L170.7 387.1L172.2 387.4L174.4 387.4L175.9 387.1L177.6 386.4ZM177.9 381.5L175.8 382.1L174.3 382.1L172.8 381.9L171.3 381.3L169.7 380.2L168.3 378.8L166.3 375.6L164.6 371.1L163.3 365L162.9 358.2L163.1 352.1L163.9 345.5L165.3 338.3L167.2 332L170 325.1L172.8 319.9L174.3 317.8L176.4 315.1L177.8 313.6L180 311.9L182.9 310.4L184.4 310L185.9 309.9L187.3 310.1L188.8 310.6L190.3 311.5L191.8 312.8L194.1 315.7L195.5 318.4L196.4 320.5L198 325.8L198.6 331.2L198.5 335.9L197.8 342.4L195.9 351.4L193.9 358.1L191.2 365.1L188.5 370.6L185 375.7L183.6 377.4L181.5 379.4L179.4 380.8L177.9 381.5ZM231.4 342.7L232.8 342L234.8 340.5L238.1 336.9L241.4 332L244.6 325.5L247.2 318.7L249.2 311.5L250.7 303.6L251.5 296.2L251.6 288.2L251 281.8L249.8 276L248.1 271.5L247 269.5L245.7 267.7L244.3 266.2L242.9 265.2L241 264.4L239.5 264.2L238.1 264.3L236 264.8L234.7 265.5L232.6 266.9L230.6 268.7L229.2 270.2L225.8 275.1L222.5 281.7L219.8 288.6L217.2 297.7L215.3 307L214.4 315.2L214.4 321L214.7 324.2L215.3 327.2L216.1 330L217.3 333.6L219.6 338.1L221 340L222.5 341.5L223.9 342.5L225.3 343.2L226.6 343.5L228 343.6L229.4 343.4L231.4 342.7ZM230 339.3L228.6 339.7L227.2 339.9L225.9 339.7L224.5 339.2L223.1 338.4L221.7 337.2L219.5 334.4L217.3 329.7L215.8 324.5L215.2 319.2L215.3 314.5L216.1 308L218 299L219.9 292.4L222.6 285.4L225.2 280.1L228.6 275.1L231.3 272.3L233.4 270.8L234.8 270.1L236.1 269.6L237.5 269.5L238.9 269.5L240.2 269.9L241.6 270.7L243 271.8L244.3 273.4L245.3 274.9L247 279.2L248.1 284.1L248.8 290.4L248.7 297.2L247.9 304.6L246.7 311.3L245.1 317.1L242.6 323.7L240 329L236.7 333.9L234 336.8L232 338.3L230.7 339.1Z" style="fill:#ffa6a6;fill-opacity:0.3"/><path d="M177.9 381.5L179.4 380.8L181.5 379.4L183.6 377.4L185 375.7L188.5 370.6L191.2 365.1L193.9 358.1L195.9 351.4L197.8 342.4L198.5 335.9L198.6 331.2L198 325.8L196.4 320.5L195.5 318.4L194.1 315.7L191.8 312.8L190.3 311.5L188.8 310.6L187.3 310.1L185.9 309.9L184.4 310L182.9 310.4L180 311.9L177.8 313.6L176.4 315.1L174.3 317.8L172.8 319.9L170 325.1L167.2 332L165.3 338.3L163.9 345.5L163.1 352.1L162.9 358.2L163.3 365L164.6 371.1L166.3 375.6L168.3 378.8L169.7 380.2L171.3 381.3L172.8 381.9L174.3 382.1L175.8 382.1L177.9 381.5ZM178.3 376.5L176.5 376.8L175.2 376.7L174 376.4L172.5 375.6L170.4 373.6L168.5 370.3L167.2 366.6L166.3 361.5L165.9 355.8L166.2 349.6L166.9 344.3L168.2 338.3L170.1 332.2L172.3 326.9L175.1 321.9L178 318.3L180.9 315.7L182.3 314.8L183.8 314.2L185.3 313.8L186.7 313.8L188.2 314.1L189.7 314.8L191.9 316.6L194.1 319.5L195.8 323L197.1 327.7L197.6 332L197.5 336.7L196.6 343.2L195.1 349.9L193.1 356.3L190.4 362.9L187.7 367.9L184.9 371.8L183.5 373.3L181.4 375L179.9 375.9L178.5 376.5ZM230.7 339.1L232 338.3L234 336.8L236.7 333.9L240 329L242.6 323.7L245.1 317.1L246.7 311.3L247.9 304.6L248.7 297.2L248.8 290.4L248.1 284.1L247 279.2L245.3 274.9L244.3 273.4L243 271.8L241.6 270.7L240.2 269.9L238.9 269.5L237.5 269.5L236.1 269.6L234.8 270.1L233.4 270.8L231.3 272.3L228.6 275.1L225.2 280.1L222.6 285.4L219.9 292.4L218 299L216.1 308L215.3 314.5L215.2 319.2L215.8 324.5L217.3 329.7L219.5 334.4L221.7 337.2L223.1 338.4L224.5 339.2L225.9 339.7L227.2 339.9L228.6 339.7L230 339.3ZM228.7 335.9L226.5 336.1L225.1 335.8L223.7 335.2L221.6 333.5L219.4 330.5L217.7 326.5L216.5 321.6L216.2 317.3L216.4 312.5L217.4 306L218.8 300.2L220.7 294.2L223.3 287.7L226 282.8L228.7 279.1L230.1 277.7L232.1 276.1L233.5 275.3L234.8 274.8L236.2 274.6L237.6 274.8L239.8 275.7L241.8 277.6L243.6 280.8L244.8 284.4L245.7 289.4L246.1 294.8L245.8 300.6L245 307L243.8 312.4L242 318.4L239.9 323.4L237.3 328.2L234.6 331.8L231.9 334.2L229.2 335.7Z" style="fill:#ff8c8c;fill-opacity:0.3"/><path d="M178.5 376.5L179.9 375.9L181.4 375L183.5 373.3L184.9 371.8L187.7 367.9L190.4 362.9L193.1 356.3L195.1 349.9L196.6 343.2L197.5 336.7L197.6 332L197.1 327.7L195.8 323L194.1 319.5L191.9 316.6L189.7 314.8L188.2 314.1L186.7 313.8L185.3 313.8L183.8 314.2L182.3 314.8L180.9 315.7L178 318.3L175.1 321.9L172.3 326.9L170.1 332.2L168.2 338.3L166.9 344.3L166.2 349.6L165.9 355.8L166.3 361.5L167.2 366.6L168.5 370.3L170.4 373.6L172.5 375.6L174 376.4L175.2 376.7L176.5 376.8L178.3 376.5ZM182.1 370L179.8 371.2L177.4 371.4L175.3 370.8L173.8 369.8L173 369L172 367.5L171.2 365.9L169.9 362.1L169.3 357.9L169 353.4L169.3 348.4L170 343L171 338.7L172.6 333.7L174.6 328.9L176.7 325.1L178.9 322.3L181.7 319.5L183.2 318.6L184.7 318.1L186.9 317.8L189.1 318.3L191.3 319.8L192.8 321.5L193.6 322.7L195 325.8L196 329.7L196.4 334.1L196.1 339L195.2 344.3L193.7 350.2L192.1 355L189.6 360.5L187.6 364.1L185.5 366.9L182.6 369.6ZM229.2 335.7L231.9 334.2L234.6 331.8L237.3 328.2L239.9 323.4L242 318.4L243.8 312.4L245 307L245.8 300.6L246.1 294.8L245.7 289.4L244.8 284.4L243.6 280.8L241.8 277.6L239.8 275.7L237.6 274.8L236.2 274.6L234.8 274.8L233.5 275.3L232.1 276.1L230.1 277.7L228.7 279.1L226 282.8L223.3 287.7L220.7 294.2L218.8 300.2L217.4 306L216.4 312.5L216.2 317.3L216.5 321.6L217.7 326.5L219.4 330.5L221.6 333.5L223.7 335.2L225.1 335.8L226.5 336.1L228.7 335.9ZM230.6 330.9L229.1 331.7L227.8 332.2L225.7 332.2L223.6 331.5L221.5 329.7L220 327.6L218.6 324.2L217.7 320.7L217.4 316.3L217.6 311.5L218.5 306.2L220 300.4L221.7 295.6L224.1 290.2L226.1 286.7L228.1 284L230.8 281.5L232.2 280.6L233.6 280.1L235.6 279.9L236.9 280.3L237.8 280.7L239.8 282.6L241.2 285.2L242.3 288.6L243 292.7L243.2 297L243.1 301.7L242.4 306.8L241.2 312.2L239.8 317L237.8 321.6L235.8 325.2L233.9 327.9L231.2 330.5Z" style="fill:#ff7272;fill-opacity:0.3"/><path d="M182.6 369.6L185.5 366.9L187.6 364.1L189.6 360.5L192.1 355L193.7 350.2L195.2 344.3L196.1 339L196.4 334.1L196 329.7L195 325.8L193.6 322.7L192.8 321.5L191.3 319.8L189.1 318.3L186.9 317.8L184.7 318.1L183.2 318.6L181.7 319.5L178.9 322.3L176.7 325.1L174.6 328.9L172.6 333.7L171 338.7L170 343L169.3 348.4L169 353.4L169.3 357.9L169.9 362.1L171.2 365.9L172 367.5L173 369L173.8 369.8L175.3 370.8L177.4 371.4L179.8 371.2L182.1 370ZM182.9 364.6L181.1 365.6L178.9 365.8L177.6 365.4L176.7 364.9L175.4 363.7L174 361.3L173.1 358.5L172.5 355.4L172.3 350.8L172.6 345.8L173.3 341.7L174.2 338.1L175.6 334.1L177.4 330.1L179 327.5L181.2 324.9L183.3 323.1L185.5 322.1L187.7 322L189.9 322.9L191.4 324.1L193 326.3L194 328.9L194.7 331.9L195 335.2L194.8 338.9L194.2 342.8L192.9 348L191.5 352L189.5 356.4L187.4 359.9L185.3 362.6L183.2 364.5ZM231.2 330.5L233.9 327.9L235.8 325.2L237.8 321.6L239.8 317L241.2 312.2L242.4 306.8L243.1 301.7L243.2 297L243 292.7L242.3 288.6L241.2 285.2L239.8 282.6L237.8 280.7L236.9 280.3L235.6 279.9L233.6 280.1L232.2 280.6L230.8 281.5L228.1 284L226.1 286.7L224.1 290.2L221.7 295.6L220 300.4L218.5 306.2L217.6 311.5L217.4 316.3L217.7 320.7L218.6 324.2L220 327.6L221.5 329.7L223.6 331.5L225.7 332.2L227.8 332.2L229.1 331.7L230.6 330.9ZM229.7 327.1L227.7 328.1L225.6 328.2L223.5 327.4L222.1 326.2L220.7 324L219.4 320.5L218.9 317.5L218.8 314.1L219.1 310.3L220.2 304.9L221.5 300.6L222.8 297.1L224.8 293.1L226.9 289.9L228.9 287.6L230.9 286.1L233 285.4L234.6 285.5L236.3 286.5L237.9 288.2L238.8 290.2L239.6 293L240.1 296.1L240.3 300.5L240 304.1L239.5 308L238.5 312.1L237 316.5L235.3 320.4L233.7 322.9L231.7 325.4L229.7 327.1Z" style="fill:#ff5858;fill-opacity:0.3"/><path d="M183.2 364.5L185.3 362.6L187.4 359.9L189.5 356.4L191.5 352L192.9 348L194.2 342.8L194.8 338.9L195 335.2L194.7 331.9L194 328.9L193 326.3L191.4 324.1L189.9 322.9L187.7 322L185.5 322.1L183.3 323.1L181.2 324.9L179 327.5L177.4 330.1L175.6 334.1L174.2 338.1L173.3 341.7L172.6 345.8L172.3 350.8L172.5 355.4L173.1 358.5L174 361.3L175.4 363.7L176.7 364.9L177.6 365.4L178.9 365.8L181.1 365.6L182.9 364.6ZM182.1 359.5L180.9 359.6L180.1 359.4L178.8 358.6L177.6 357.2L176.8 355.5L176.2 353.2L175.9 350.3L175.9 346.8L176.2 344.2L176.7 341.4L177.5 338.4L178.6 335.4L180 332.6L181.4 330.5L182.8 328.8L184.2 327.7L186.4 326.8L187.9 326.8L189.3 327.3L190.8 328.7L192 330.6L192.6 332.4L193 334.5L193.1 336.7L192.8 340.4L192.3 343.1L191.4 346.6L190.1 350.2L188.7 353L187.3 355.2L185.9 357L183.8 358.8L182.3 359.4ZM229.7 327.1L231.7 325.4L233.7 322.9L235.3 320.4L237 316.5L238.5 312.1L239.5 308L240 304.1L240.3 300.5L240.1 296.1L239.6 293L238.8 290.2L237.9 288.2L236.3 286.5L234.6 285.5L233 285.4L230.9 286.1L228.9 287.6L226.9 289.9L224.8 293.1L222.8 297.1L221.5 300.6L220.2 304.9L219.1 310.3L218.8 314.1L218.9 317.5L219.4 320.5L220.7 324L222.1 326.2L223.5 327.4L225.6 328.2L227.7 328.1L229.7 327.1ZM227.1 323.5L225.5 323.6L224.1 323L223.1 322.2L222 320.6L221.2 318.7L220.7 316L220.6 313.8L220.9 310.1L221.4 307.4L222.3 304L223.6 300.5L224.9 297.7L226.3 295.6L227.6 293.9L229.7 292.2L231 291.6L232.4 291.5L233.8 292.1L235 293.3L235.8 294.9L236.4 296.7L236.9 299.8L237 303.1L236.8 305.6L236.4 308.1L235.6 311.6L234.3 315.3L233.2 317.5L231.6 320L230.3 321.6L228.9 322.7L227.6 323.4Z" style="fill:#ff3e3e;fill-opacity:0.3"/><path d="M182.3 359.4L183.8 358.8L185.9 357L187.3 355.2L188.7 353L190.1 350.2L191.4 346.6L192.3 343.1L192.8 340.4L193.1 336.7L193 334.5L192.6 332.4L192 330.6L190.8 328.7L189.3 327.3L187.9 326.8L186.4 326.8L184.2 327.7L182.8 328.8L181.4 330.5L180 332.6L178.6 335.4L177.5 338.4L176.7 341.4L176.2 344.2L175.9 346.8L175.9 350.3L176.2 353.2L176.8 355.5L177.6 357.2L178.8 358.6L180.1 359.4L180.9 359.6L182.1 359.5ZM183.2 351.6L182.2 351.2L181.5 350.5L180.7 348.8L180.3 345.6L180.8 341.7L181.8 338.6L182.7 336.7L183.7 335.1L185.2 333.8L185.9 333.4L187.1 333.2L188.1 333.5L188.8 334.1L189.7 335.8L190.2 339L189.8 342.2L188.6 346.1L187.1 348.8L185.7 350.5L185 351.1L183.5 351.6ZM227.6 323.4L228.9 322.7L230.3 321.6L231.6 320L233.2 317.5L234.3 315.3L235.6 311.6L236.4 308.1L236.8 305.6L237 303.1L236.9 299.8L236.4 296.7L235.8 294.9L235 293.3L233.8 292.1L232.4 291.5L231 291.6L229.7 292.2L227.6 293.9L226.3 295.6L224.9 297.7L223.6 300.5L222.3 304L221.4 307.4L220.9 310.1L220.6 313.8L220.7 316L221.2 318.7L222 320.6L223.1 322.2L224.1 323L225.5 323.6L227.1 323.5ZM226.3 317.3L225.4 317L224.7 316.4L223.8 314.7L223.4 311.6L223.8 308.4L225 304.6L226.4 301.9L227.8 300.3L228.5 299.8L229.8 299.3L230.5 299.4L231.2 299.9L231.9 300.8L232.4 302.2L232.7 304.2L232.5 307.8L231.5 311.9L230.1 314.5L228.8 316.2L228.1 316.8L226.8 317.3Z" style="fill:#ff2626;fill-opacity:0.3"/><path d="M183.5 351.6L185 351.1L185.7 350.5L187.1 348.8L188.6 346.1L189.8 342.2L190.2 339L189.7 335.8L188.8 334.1L188.1 333.5L187.1 333.2L185.9 333.4L185.2 333.8L183.7 335.1L182.7 336.7L181.8 338.6L180.8 341.7L180.3 345.6L180.7 348.8L181.5 350.5L182.2 351.2L183.2 351.6ZM226.8 317.3L228.1 316.8L228.8 316.2L230.1 314.5L231.5 311.9L232.5 307.8L232.7 304.2L232.4 302.2L231.9 300.8L231.2 299.9L230.5 299.4L229.8 299.3L228.5 299.8L227.8 300.3L226.4 301.9L225 304.6L223.8 308.4L223.4 311.6L223.8 314.7L224.7 316.4L225.4 317L226.3 317.3Z" style="fill:#ff0c0c;fill-opacity:0.3"/></g></g>
  <g><path d="M310.4 399h0M323.2 356.8h0M280.9 380.5h0M358.4 359.4h0M340.8 399.9h0M332.9 411.2h0M319.5 410.4h0M328.8 409.3h0" style="fill:none;stroke:#d4d4ff;stroke-opacity:0.335;stroke-width:1.66;stroke-linecap:round"/><path d="M270.3 359.4h0M333.2 355.5h0M264.6 383h0M266.1 380.7h0M266.1 349h0M289.6 375.3h0M287.1 403.4h0M292.8 329.7h0M285.9 393.4h0M253.7 382.4h0M265.4 370.8h0M260 384h0M269.8 362.6h0M326 378.3h0M305.7 369.3h0M289.8 398.7h0M310.8 397.6h0M260.1 394.2h0M310.9 366.5h0" style="fill:none;stroke:#aaaaff;stroke-opacity:0.335;stroke-width:1.66;stroke-linecap:round"/><path d="M298.6 338.2h0M270.7 328.8h0M282.4 367.5h0M264.3 346.5h0M292.5 319.6h0M236.9 403.1h0M269.7 390.2h0M278.1 353.3h0M257.5 357.7h0M303.2 321.8h0M262.3 353.9h0M297 353h0M273 392h0M274.9 336h0M260.6 367.5h0M303.4 342.8h0M300.4 336.5h0M252.9 371.7h0M272 329.4h0M272.5 384h0M281.6 331.2h0M244.4 379.7h0" style="fill:none;stroke:#8080ff;stroke-opacity:0.335;stroke-width:1.66;stroke-linecap:round"/><path d="M356.2 410.5h0M356.1 320.2h0M340 377.1h0" style="fill:none;stroke:#d4d4ff;stroke-opacity:0.405;stroke-width:1.66;stroke-linecap:round"/><path d="M286.7 245.9h0M209.9 417.1h0M229.4 407.3h0M320.5 301.9h0M302 264.1h0M197.8 441.8h0M321.8 396.2h0M318.1 303.5h0M306.7 407.6h0M304.2 398.5h0M274.4 421.5h0M335.7 388.9h0M282.7 286.6h0M332.7 307.9h0M268.8 296.9h0M307.9 404.5h0M326.9 386.7h0M336.4 334h0M349.1 320.9h0M341.5 322.1h0M286.6 207.5h0M341.2 317.8h0M303.1 429.6h0" style="fill:none;stroke:#aaaaff;stroke-opacity:0.405;stroke-width:1.66;stroke-linecap:round"/><path d="M300 335.5h0M260.1 419.7h0M260.9 294h0M248.3 391.2h0M280.5 265.9h0M331.4 345.6h0M293.7 314.9h0M307.5 303.9h0M297.6 360.3h0M295.1 270.4h0M252.5 279.3h0M268.1 356h0M247.3 396.3h0M303.9 431.5h0M321.6 286.9h0M247.4 278.7h0M280.8 416.5h0M324.4 309.3h0M296.5 320.6h0M301.8 374.2h0M323.2 328.1h0M275.9 390.3h0M263.6 422.1h0M299.6 325.1h0M280 368.3h0M320.6 309.8h0M302.8 331.9h0M239.3 346.5h0M327.1 303.8h0M245 389.6h0M274.3 316.4h0M331 327.4h0M323.5 341.1h0M267.3 257.6h0M322 282.9h0M272.8 400.6h0M305.3 336.5h0M305.8 304.5h0M291.9 381.3h0M231.2 433h0M311.5 373.9h0M315.3 389.3h0M248.6 398.1h0M254.3 412.5h0M308.8 381.2h0M240.3 413h0M305.5 393.9h0M299.1 233.9h0M318.1 383.3h0M262.3 402.6h0M299.2 339h0M240.9 421.9h0M286.5 372.2h0M223.6 417.8h0M223.8 421h0M276.1 257.3h0M303.9 410.8h0M307.8 335.5h0M309.5 251.2h0M245.6 399.7h0M224.4 422.4h0M308.5 396h0M241.4 416.6h0M308.1 316.2h0" style="fill:none;stroke:#8080ff;stroke-opacity:0.405;stroke-width:1.66;stroke-linecap:round"/><path d="M278.5 308.6h0M234.6 383.7h0M237.1 329.3h0M315.2 347.6h0M282 409.5h0M279.5 315.2h0M253.2 400h0M260.9 377.6h0M279.2 353.6h0M225.8 371.9h0M236.1 345.3h0M313.6 326.8h0M254.1 307.4h0M291.2 413.5h0M245.1 318.5h0M248 336.3h0M300.9 398.1h0M324.6 319.5h0M281.1 364.5h0M232.6 405.6h0M277.5 409.6h0M272.5 367.3h0M311 329.4h0M316.2 301.7h0M235.9 336.7h0M325.4 347.1h0M279.6 318.4h0M253.1 366.5h0M327.3 348.7h0M282.2 313h0M245 403.6h0M246.9 329.6h0M272.8 369.9h0M245.7 400.4h0M261.5 333.3h0M271.1 323.5h0M217.9 377h0M233.2 385.5h0M306.5 341.6h0M274.6 375.6h0M278.9 407.8h0M309.4 327.9h0M268.9 297.4h0M287 357.4h0M292.1 386.3h0M278.7 278.2h0M250.7 379.1h0M274.8 383.5h0M282.5 378.5h0M298.6 292.4h0M260.2 286.6h0M284.8 371.9h0M294.3 315.8h0M268.8 403.9h0M253.7 412.9h0M279.4 327.2h0M291.8 345.5h0M287.7 351h0M275.4 313.2h0M264.8 371.3h0M255.3 267.7h0M294.8 321.9h0M229.7 406h0M272.5 260h0M265.5 288.3h0M270.2 313.2h0M258.3 306h0M281 382.3h0M285.5 338h0M283.2 304.9h0M305.6 358h0M277.8 391.1h0M226 417.6h0M290.5 375.7h0M251.4 379.5h0M296.7 320.2h0M304.4 368.8h0M231 376.3h0M276.6 289.2h0M277.9 282h0M254.3 368h0M289.4 336.8h0M259.4 311.6h0M255.1 265.8h0M284 394.5h0M299.3 340.3h0M260.8 345h0M254 338.9h0M282.8 379h0M273.1 301.8h0M219.5 407.5h0M280.3 298.9h0M299.4 270.8h0M223.2 395.5h0M240.9 360.9h0M264 334h0M293.9 305.2h0M296.1 289.2h0M226 398.1h0" style="fill:none;stroke:#5555ff;stroke-opacity:0.405;stroke-width:1.66;stroke-linecap:round"/><path d="M280.7 399.3h0M298.1 391.2h0M237 381.3h0M259.7 339.7h0M301.6 324.8h0M248.2 397.2h0M272.7 374.4h0M263.7 376.7h0M245.6 360.8h0M310.3 310.4h0M252.7 353.8h0M303.7 319.7h0M254.6 361.1h0M281.1 385.6h0M286 411.7h0M259.1 375.9h0M290.2 353.3h0M237 337.6h0M288.6 351.3h0M285.9 323.1h0M296.7 347.9h0M295.9 404.3h0M293.3 397.5h0M261.3 313.3h0M272.9 308.3h0M242.1 362.4h0M263.1 345.9h0M245.7 349.7h0M238.8 307h0M269.1 306.6h0M283.4 362.8h0M252 308.5h0M267.1 286.3h0M273.1 305.5h0M255.8 343.9h0M247.8 320h0M242.1 340.4h0M280.2 333.1h0M270.3 333.4h0M263.1 301.2h0M281.4 342.3h0M273.6 375.8h0M243.5 332.5h0M235.4 364.8h0M252.8 338h0M267.3 328.3h0M264.1 350h0M269.8 302.1h0M269.6 367.8h0M263.1 299.2h0M269.6 336.8h0M290.3 301.3h0M283.5 364.5h0M243.5 370.5h0M275 334.4h0M283.8 343h0M259.1 305.5h0M266.3 311.3h0M257.1 329.4h0M231.5 335.4h0M291.7 358.5h0M251.3 298h0M248 342.3h0" style="fill:none;stroke:#2a2aff;stroke-opacity:0.405;stroke-width:1.66;stroke-linecap:round"/><path d="M306.6 377.8h0M291.7 373.6h0M294 382.4h0M273.2 353.6h0M272 375.7h0M280.7 335h0M294.3 375.3h0M274.8 335.1h0M298.7 328.7h0M290.5 370.1h0M260.1 355.7h0M261.3 333.3h0M305.8 376.8h0M282.1 325.3h0M282.4 376.4h0M297.1 320h0M241.8 344.6h0M271.9 350.5h0M275.5 367h0M271.9 318.7h0M245.7 319.7h0M248 321.7h0M241 326.9h0M230.2 342.9h0M254.3 338.4h0" style="fill:none;stroke:#0000ff;stroke-opacity:0.405;stroke-width:1.66;stroke-linecap:round"/><path d="M424.5 434.2h0" style="fill:none;stroke:#ffaaaa;stroke-opacity:0.405;stroke-width:1.66;stroke-linecap:round"/><path d="M297.1 210.4h0M355.7 312.3h0M360.6 230.9h0M269.3 178.3h0" style="fill:none;stroke:#d4d4ff;stroke-opacity:0.475;stroke-width:1.66;stroke-linecap:round"/><path d="M299.4 217.7h0M222.3 457.6h0M337.1 269.7h0M331 267.8h0M253.6 216.9h0M206.5 446h0M219.9 458.8h0M305.6 436.2h0M186.4 444.5h0M299.7 456h0M337.6 238.4h0M251.6 245.9h0M326.9 405.6h0M315.5 223.1h0M334.7 369.9h0M302 217.7h0M295.1 207.3h0M329.9 234.4h0M339.4 338.4h0M328.7 248.4h0M326.6 201.5h0M298.9 209.4h0M340.4 272.2h0M334.8 244.3h0M304 204.1h0M263.6 199.4h0M295.1 197.9h0M306 213.3h0M277.2 184.3h0M278.3 176.8h0M305.3 228.1h0" style="fill:none;stroke:#aaaaff;stroke-opacity:0.475;stroke-width:1.66;stroke-linecap:round"/><path d="M230.2 450h0M314.1 422.8h0M331.8 380.8h0M342.2 289.8h0M248.4 244.3h0M320.7 417.1h0M328.4 284.8h0M326.4 289.1h0M316.1 249.7h0M310.1 255.4h0M346.7 319.2h0M209.1 398.8h0M247.7 229.2h0M298.2 258.8h0M329.3 264.6h0M251.2 236h0M285.2 254.1h0M317.6 417.5h0M319.8 409.2h0M324.1 368.9h0M304.1 242.4h0M206.8 435.6h0M207.4 446.1h0M240 224.3h0M326.1 351.3h0M330.6 266.7h0M262.1 215h0M275 222h0M275.7 216.4h0M263.3 220.6h0M262.9 228.3h0M191.5 434h0M304 237.6h0M293.9 413.5h0M253.9 434.3h0M332.7 340.4h0M221.5 440.1h0M224.5 466h0M289.3 423.6h0M314.9 248.1h0M337.7 303.6h0M265.3 208.7h0M216.9 441.6h0M318.4 262.1h0M314 233.7h0M290 212.9h0M243 434.4h0M265.9 234.1h0M328.6 299.5h0M282.1 438.5h0M323.3 248.4h0M335.7 295.2h0M275.2 221.7h0M312.8 275.9h0M269.6 424h0M317.1 256.7h0M301.2 406.5h0M298.8 240.6h0M318.3 370.3h0M217.7 440.8h0M298.6 243.8h0M209.5 457.6h0" style="fill:none;stroke:#8080ff;stroke-opacity:0.475;stroke-width:1.66;stroke-linecap:round"/><path d="M252.6 277.2h0M243.2 261.2h0M217.8 395.6h0M284.8 279.6h0M326 285.4h0M233.7 414.1h0M247.6 260.8h0M294.5 434.8h0M321.1 294.5h0M227.9 442.2h0M264.8 439.3h0M243.6 270.6h0M297.7 280.2h0M240 437.5h0M264.2 265.7h0M286.8 249h0M330.4 355.4h0M291 273.3h0M256.2 252.4h0M251.2 448.3h0M198.8 408.1h0M243.9 262.9h0M298.5 427.8h0M296.7 416.6h0M311.1 257.3h0M211.5 401.3h0M329.9 381.2h0M299.8 432.8h0M290.6 264h0M258.3 437.6h0M334.6 365.3h0M296.8 249.7h0M287.5 255.4h0M218.4 413.4h0M283.5 250.5h0M306.5 266.1h0M309.5 353.9h0M291.5 272.4h0M308.5 276.2h0M311.1 381.9h0M306.5 270h0M310.5 342h0M298.9 246.2h0M314.7 316.3h0M286.9 246.9h0M218.6 423.9h0M237.1 419.2h0M280 406.3h0M270.6 424.3h0M297.5 269h0M312.8 324.1h0M255.6 240.1h0M258.8 427.5h0M279.5 256.9h0M302.4 273.7h0M308.1 360h0M251.4 436.8h0M303.8 373.8h0M321.9 305.2h0M192.3 413h0M254.6 241.8h0M318 337.2h0M307.1 270.4h0M239.6 429.6h0M197 426.8h0M275.6 243.5h0M279.4 248.5h0M247.6 240.9h0M216 428h0M277.9 241.1h0M210.9 411.7h0M320 346.2h0M248.9 248.4h0M322 292.8h0M228 424.6h0M244.7 237.8h0M322.3 282.4h0M281.3 408.6h0M323.7 289.4h0M236.1 246.5h0M200.1 412h0M200.6 401.5h0M276.3 412.8h0M300.4 378.7h0M231.4 414.1h0M226.7 435.2h0M269.3 263.3h0M304.3 300.4h0M191.3 429.6h0M281.8 418.7h0M203.7 409.4h0" style="fill:none;stroke:#5555ff;stroke-opacity:0.475;stroke-width:1.66;stroke-linecap:round"/><path d="M229.2 418.2h0M337.4 329h0M315 377.5h0M215.8 354.8h0M322.6 280.5h0M256 416.4h0M228 423.8h0M317 389.4h0M318.1 295.5h0M330.4 297.3h0M213.7 391.8h0M217.4 419.9h0M247.6 270.5h0M264.3 433.8h0M268.7 266.5h0M275.3 427h0M281.7 262.9h0M303.6 402.9h0M300.1 270.9h0M232.9 425.1h0M223.9 414.3h0M246.2 417.8h0M247.7 303.4h0M231.1 340.7h0M223.9 415h0M234.9 419.4h0M229.9 280.5h0M258.9 422.4h0M330.9 302.5h0M277.2 430.3h0M312.1 402.5h0M218.7 369.2h0M247.8 414.5h0M320.6 273.5h0M296.3 266.8h0M234.9 411.1h0M323 372.9h0M288.5 282.5h0M230.9 374.9h0M273 290.3h0M292.6 285.5h0M295 355h0M237.3 416.7h0M244.3 278.6h0M237.2 401.2h0M216.9 398h0M240.6 388h0M316.4 328.4h0M265.8 402.3h0M234.5 287.2h0M298.4 328h0M233.7 391.2h0M258.4 397.3h0M248.9 395.8h0M264.2 255.7h0M247.7 405.3h0M210.9 403.2h0M301.4 297.1h0M263.6 384h0M193.8 392h0M241 268.1h0M233.2 391.1h0M299.5 278.3h0M290.1 331.1h0M301.2 368.5h0M239.6 410.7h0M203.1 393.4h0M276.3 268.6h0M245.4 285.5h0M232.7 400.1h0M273.9 285.7h0M229.9 395.6h0M245.9 285.7h0M278.7 391h0M281.7 295.5h0M233.4 411.1h0M286.2 264.9h0M210.2 377.3h0M261.6 262.2h0M264.7 413h0M311.2 355.8h0M253.2 283.7h0M288.8 362.3h0M273.2 276.7h0M260.6 271.3h0M291.5 373.9h0M284.1 272.9h0M251 284.5h0M305 279.6h0M225.3 359.8h0M213.2 417.9h0M254.6 397.4h0M305.2 370.8h0M309 306.6h0M233.2 277.8h0M262.2 261.3h0M249.7 391.5h0M259.5 266.3h0M258.7 293.3h0M313.9 344h0M309.2 307.4h0M284.3 293.8h0M274.4 292.8h0M312.6 326.8h0M309.2 297.2h0M214.2 394.9h0M289.4 364.2h0M251.1 274.7h0M269.8 400.8h0M286.8 394.5h0M239.4 416.5h0M250.7 280h0M200.9 396.3h0M289.5 378.7h0M249.8 263.1h0M300.6 323.8h0M284.5 293.5h0M261.7 276h0M224.7 379.2h0M233.5 417h0M223.9 372.2h0M249.9 407.8h0M235.3 416.9h0" style="fill:none;stroke:#2a2aff;stroke-opacity:0.475;stroke-width:1.66;stroke-linecap:round"/><path d="M277 359h0M280.3 408.3h0M314.6 372h0M283.8 385.4h0M258.8 347.5h0M308.5 379.5h0M322.7 364.3h0M276.1 346.2h0M251.4 295.2h0M227.9 377.6h0M240.2 329.7h0M318.3 318.2h0M240.1 409.5h0M286.9 317.5h0M282.2 336.4h0M258.1 279.9h0M290 392.2h0M308.3 360.1h0M313.7 373.6h0M297.4 339.9h0M283.8 310.8h0M274.3 424.3h0M265.5 338.9h0M287.3 293.4h0M313.8 345.5h0M308.4 310.3h0M315.6 396.5h0M260.3 410.5h0M242.5 407.2h0M302.4 309.5h0M307.9 343h0M305.9 362.5h0M297.5 323.7h0M257.7 360.6h0M244.8 335.4h0M285.3 360.2h0M314 298.1h0M317.2 367.3h0M330.5 305.6h0M255.7 328.2h0M268.3 400.9h0M277.5 344.7h0M291.7 382h0M264.1 291.7h0M291.2 287.2h0M251.7 379.5h0M300.6 380.1h0M318.9 357.1h0M289.8 381.1h0M278.2 361.8h0M300.8 275.8h0M311.7 318.1h0M283.3 424.5h0M278.4 358.4h0M240.3 335.8h0M255.1 367.4h0M258.1 309.7h0M266.9 375.2h0M230.4 384.4h0M287.9 334h0M307.7 348.2h0M282.9 349.7h0M274.7 384.5h0M296.9 350.5h0M307.3 371.6h0M286.2 295.3h0M278.6 304.6h0M256.3 301.3h0M288.3 346h0M282.5 413.3h0M270.6 343.1h0M293 343.6h0M267.4 374.1h0M271.3 369.2h0M242.6 376.2h0M248.1 405.2h0M321.5 339.3h0M275.6 300.5h0M294.3 371.7h0M277.3 372.2h0M323.8 354.8h0M319.3 339.6h0M212.8 350h0M279.5 278.1h0M314.7 369.1h0M273.9 318.6h0M271.4 418.2h0M278.4 321h0M225.5 349h0M320.6 362.5h0M303.9 384h0M264.3 348.1h0M285.9 358.2h0M277 361.9h0M296.4 333.6h0M283.7 341.4h0M249.9 317.7h0M294.1 337.2h0M324.5 330.7h0M286.7 351h0M307.6 357.1h0M295.8 390h0M245.8 361.2h0M261.6 405.9h0M278.6 330h0M313.4 316.2h0M280.7 391.4h0M260.1 358.7h0M272 317.8h0M249.6 288.5h0M276.2 351.8h0M291 370.2h0M241.3 336.9h0M281.1 351.8h0M310.4 336.2h0M246.5 395.4h0M287.9 393.7h0M243 326h0M264.7 341.4h0M296.3 324.5h0M276.9 335.8h0M257.2 298.1h0M257.1 381.2h0M267.3 331.2h0M272.9 365.8h0M243.7 357.6h0M235.8 323.1h0M281.7 320.8h0M256.4 304.4h0M314.8 283.5h0M275.9 310.1h0M280.8 362.5h0M267 331.1h0M251.4 362.6h0M333.9 325.4h0M304.9 324.9h0M254.2 361.9h0M305.7 337.5h0M290.3 340.3h0M291.8 355.5h0M250.5 389h0M262.3 375.3h0M274.1 368.8h0M278.3 354h0M254.3 323.5h0M282.5 288.6h0M324.3 355.5h0M306.1 325.6h0M299.3 298.5h0M270.2 273.2h0M218.6 325.9h0M249.8 287.7h0M299.3 365.8h0M285.8 343.8h0M288.8 336.2h0M260.7 331.3h0M250.6 364.5h0M227.2 347.6h0M259.1 390.2h0M246.9 373.6h0M323.5 353.8h0M273 344.9h0M295.5 349.4h0M268.5 362.6h0M239.6 374.2h0M318.7 335.5h0M251.8 314h0M306.6 395.1h0M278.5 408.4h0M297.7 308.5h0M287.2 349.3h0M285.9 308.7h0M272.8 360.5h0M289.9 403.5h0M306.6 357h0M300.9 286h0M298.5 334.4h0M274.9 326.5h0M285.3 334.6h0M271.6 354.7h0M298.7 372.8h0M321.6 321.9h0M255.1 341.6h0M322 335h0M245.8 373.3h0M250.8 367.4h0M296.4 343.8h0M289.6 305.1h0M271.7 312.7h0M278.9 266.7h0M297.6 372.4h0M275 366.1h0M276.5 304h0M296.4 370.9h0M253.1 384.5h0M238.6 345.3h0M281.2 369.5h0M316.8 330.9h0M269.1 399h0M275.6 307.2h0M294.8 316.7h0M299.7 378.6h0M236.9 382.3h0M264 400h0M261.1 406.1h0M280.1 416.5h0M287.3 307.8h0M218.4 366.6h0M271.7 295.9h0M263.7 309.9h0M299 382.7h0M302.1 375.7h0M296.4 313.9h0M242.5 387.4h0M268.5 313.4h0M320.2 329.9h0M302.1 360.6h0M215.9 401.4h0M295.6 274h0M218.5 328.2h0M306.1 401.4h0M275.5 295h0M256.3 331.5h0M237 357.4h0M315.6 295.9h0M272.5 376.1h0M231.5 342.7h0M243.1 331.6h0M264.3 309.7h0M233.6 397.4h0M302.8 325.6h0M276 353.6h0M262.8 372.8h0M308.6 300.9h0M307.9 348.4h0M287.4 396.6h0M270.3 366.8h0M239.4 322h0M249 378h0M303.3 372h0M291.9 347h0M290.6 343.7h0M249.6 332.6h0M305.3 281.1h0M259.4 355.8h0M226.5 339.7h0M318.2 384h0M279.9 344.7h0M262.9 343.6h0M289 377.2h0M260 398.3h0M253.2 341.8h0M282.3 394.9h0M312.1 331.1h0M252 332.1h0M299.3 287.4h0M305.7 392.8h0M249 365h0M263.5 330.1h0M272.6 336.6h0M250.5 310.3h0M286.1 360.8h0M287.6 365.4h0M319.5 311h0M230.5 317.6h0M246.2 347.8h0M296.5 360h0M256.7 359.9h0M209.9 365.1h0M259 368.8h0M255.9 395.2h0M259.2 405.6h0M297.9 300.6h0M299.7 410h0M292.9 348.6h0M287.2 370.2h0M256.2 351h0M286.5 355.5h0M245.7 355.3h0M231.9 366.7h0M318.9 374.7h0M291 361.6h0M265.8 393.1h0M292.6 294.8h0M287.7 400.2h0M225.4 356.6h0M274.4 315.5h0M297 375.2h0M272.4 392.5h0M262.8 352.6h0M223.6 396.2h0M221.4 344h0M212 321.3h0M309.8 398.1h0M252.8 387.6h0M287.5 350.3h0M271.5 351.8h0M301.7 302.5h0M264 334.9h0M267.7 385.5h0M322.3 347.4h0M261.5 305.7h0M250.8 376.6h0M294.3 338.9h0M304.3 329.6h0M258 309.1h0M273.4 384.8h0M292.4 375.1h0M280.4 368.4h0M208.6 344.4h0M316.5 371.1h0M283.5 382.1h0M270.6 348.8h0M272.1 344.3h0M292.6 375.2h0M247.7 326h0M280.2 312.6h0M306.4 316.3h0M218.8 317.7h0M236.5 329.2h0M247.7 403.4h0M290.5 361.9h0M282.6 371.8h0M306.7 347.3h0M277.8 421.4h0M264.1 343.5h0M235.5 339.7h0M275 340.6h0M247.5 394.1h0M281.7 306.2h0M284.7 414.2h0M289.5 415.6h0M270.9 379.6h0M280.8 382.1h0M295.4 314.5h0M308.8 312.4h0M287.7 393h0M271.7 358.2h0M268.8 364.5h0M282.1 355.2h0M256.3 352.3h0M269.4 347.4h0M294.7 337.3h0M269.9 373.2h0M294.3 335.4h0M298 315.2h0M276.4 335.8h0M267.7 326.9h0M223.6 310.8h0M264.9 347.6h0M271.6 315.4h0M279.3 301.7h0M262.5 291.5h0M244.2 388.5h0M310.7 325.5h0M282.8 382.9h0M281.8 362.6h0M262.6 327.6h0M276.3 410.8h0M262.1 368.7h0M295.3 307.7h0M295.8 315.5h0M270.9 338.4h0M256.4 335.3h0M264 376.8h0M280.5 291.1h0M269.2 306h0M289.2 402h0M270.9 333.8h0M278 308.3h0M301.3 345.9h0M280.9 323.2h0M328.8 321.8h0M278.3 401.7h0M266 321.2h0M315.9 354.1h0M255.6 332.6h0M258.4 349.3h0M278.1 371.3h0M276.4 294.9h0M237.9 353.8h0M298.6 372.8h0M323.6 331.8h0M253.6 336.2h0M286.6 400.1h0M327 342.2h0M275.5 380.7h0M282.5 385.8h0M273.9 390.5h0M302.1 358.6h0M314.6 326.7h0M259.3 351.1h0M245.6 419h0M300 357.8h0M224 364.6h0M280.7 299.4h0M267.2 305h0M260.8 336.6h0M290 340.7h0M269.8 306.6h0M300 358.8h0M259.5 335.4h0M236.4 389.9h0M291.7 374.7h0M214.4 336.6h0M305 404.5h0M304.2 359.9h0M298.1 380.5h0M236.9 385.4h0M297.1 278.9h0M273.8 351.7h0M309.8 317.6h0M225.9 295.4h0M285.8 368.9h0M274.8 342.2h0M279.2 346h0M241.3 379.4h0M307.4 360.5h0M261.4 285.7h0M279.4 320.6h0M235.3 389.1h0M261.1 351.9h0M275.2 387.8h0M322.4 329.5h0M291.5 388.1h0M289.2 346.1h0M222.4 352.3h0M272.5 345.9h0M248.5 317h0M300.4 355.6h0M263.5 376.2h0M281.2 344.7h0M268.6 340.8h0M286.1 378.2h0M255.3 384.3h0M263.9 377.7h0M250.7 293h0M306.6 393.9h0M255.3 347.9h0M276.9 404.1h0M262.1 323.2h0M291.6 388h0M297.8 299.8h0M280.4 368.9h0M270.9 428.7h0M297.2 370.4h0M231.9 325.9h0M300.7 324h0M280.1 409.7h0M292.5 335.7h0M255.9 357.9h0M272.1 356.4h0M279.2 385.4h0M288.7 336.5h0M297.3 351.5h0M317 344.9h0M277.2 301.6h0M271.2 319.8h0M266.4 303.9h0M274.1 343.6h0M250.3 389.1h0M313.2 295.3h0M266.2 380.9h0M292.9 329h0M219.6 322h0M235.8 351h0M249.5 401.1h0M246 378.4h0M240.1 305.8h0M228.8 355.5h0M243.5 357.7h0M267.7 376.3h0M296.1 308.7h0M265.9 289.3h0M216.3 349.9h0M269.6 336h0M251.5 310.3h0M278 344.4h0M284.6 382.5h0M229.6 309h0M234.7 387.8h0M240.3 368.9h0M300 325.7h0M238.2 371.4h0M273.4 333.2h0M264.5 365h0M272.5 356.4h0M276.8 363.3h0M297.1 331.5h0M239 343.6h0M284.9 326.9h0M276.7 337.3h0M290.4 378.9h0M297.5 356.7h0M246.6 355.4h0M289.1 334.4h0M276.4 282.3h0M286.2 349.2h0M298.7 335.2h0M261.4 321.1h0M262.4 272.1h0M286 314.3h0M211.5 367.1h0M241.4 315.8h0M251.4 304.6h0M271 324.9h0M264.9 349.2h0M280 321h0M283.1 320h0M306.5 312.2h0M241.8 323h0M239.7 308.4h0M236.8 395h0M265.8 340.8h0M274.4 326.6h0M246.6 339.6h0M239.7 340.8h0M273.2 335.3h0M292.3 351.4h0M260.1 349.4h0M258.4 338.8h0M224.7 320.3h0M261.4 365.2h0M244.7 321.1h0M273.4 330.9h0M288.2 331.5h0M245.6 341.4h0M286.2 355h0M254.9 395.8h0M219.8 371.3h0M263 330.5h0M259 358.4h0M284.9 338.7h0M276.5 315.2h0M254.5 276h0M256.9 363.2h0M230.2 347.7h0M239.8 312.2h0M277.1 337.4h0M227.9 391.2h0M249.3 342.5h0M291.2 334.6h0M260.2 362.5h0M244.3 341.5h0M254.3 345h0M213.8 338.6h0M267.6 340.4h0M245.9 387.4h0M253.2 379.9h0M263.8 335.7h0M257.7 377.4h0M303.9 323.5h0M251.2 323h0M264.5 370.3h0M253.1 350.1h0M214.4 354.2h0M228.2 374.6h0M266.6 305.4h0M238.1 319.4h0M289.5 363.7h0M227.7 310.5h0M279.8 335.7h0M245.2 377.9h0M247.7 309.6h0M301.7 330.1h0M224.8 349.8h0M265.2 328.2h0M276.2 351.3h0M265.9 324.5h0M254 283h0M283.1 327.5h0M281.7 331.5h0M216.3 353.5h0M240.5 346.5h0M263.5 372.8h0M287.3 330.5h0M233.6 350.4h0M279.1 296.8h0M238.2 339.1h0M230.1 322.9h0M302.5 343.6h0M219.8 303h0M293 340.8h0M228 329.1h0M267.1 329.5h0M256.8 341.8h0M216.2 329.5h0M274.7 370.9h0M265.8 320.7h0M253 293.9h0M254.8 309.4h0M252.2 312.9h0M235.8 288.1h0M246.9 354.2h0M282.9 325.1h0M282.9 353.9h0M263.4 328.3h0M257.3 294.7h0M227.7 376.5h0M248.4 318.6h0M264.7 353.8h0M230.5 307.5h0M219.3 382.9h0M268.5 275.3h0M223.5 303.1h0M211.6 366.2h0M271.1 362.8h0M278.8 326.8h0M211.4 374h0M269.8 311.4h0M264.4 311.3h0M233.2 374h0M231.1 332h0M297.9 302.6h0M274 319.8h0M304.1 312.8h0M251.9 363.4h0M282.9 303.9h0M245.9 370.9h0M230.7 331.7h0M284.8 378.6h0M241.7 355.3h0M265.7 342.6h0M250.4 361.3h0M246.3 332.3h0M254.9 353.5h0M269.8 288.4h0M261.6 382.7h0M224.5 385.7h0M289.6 371.1h0M274.2 385.8h0M262.4 365.7h0M227.6 342.5h0M264.4 328.6h0M278.4 316.4h0M257.6 361.7h0M243.8 367.3h0M271.2 341.5h0M273.3 373h0M253.3 317.2h0M261.6 361.7h0M268.2 326.3h0M266.8 338.6h0M251.8 372.7h0M229.8 322h0M223.3 348.3h0M233.4 302h0M270.9 306.4h0M224.4 319.2h0M272.3 355.2h0M226.2 394.6h0M274.7 378.8h0M233.8 311.7h0M281.6 309.9h0M237.3 365.4h0M257.1 337.5h0M257.6 377.1h0M243.4 300.9h0M272.6 353.3h0M238.1 356.2h0M240.1 334.6h0M281.2 363.7h0M262.1 330.8h0M252.8 309.6h0M256.2 374.9h0M274.9 362.9h0M249.9 335.5h0M241.4 393.7h0M229.3 313.9h0M282 310.3h0M257.5 306.5h0M271.7 364h0M272.4 355.6h0M231 354.2h0M230.2 365.8h0M226.8 346.1h0M266.5 316.4h0M242.3 298.8h0M229.3 397.7h0M263.1 320.2h0M263.9 349.7h0M206.4 351.4h0M281.5 340.2h0M290.6 321.4h0M274.9 291.4h0M303.6 338.8h0M239 329.6h0M244.9 322h0M231.7 348.8h0M307 341.9h0M267.5 355.5h0M231.5 362.8h0M223.8 279.5h0M281.1 306.2h0" style="fill:none;stroke:#0000ff;stroke-opacity:0.475;stroke-width:1.66;stroke-linecap:round"/><path d="M452.1 447.7h0M449.4 443.6h0M408.4 303.1h0M353.4 426.3h0M484.3 403.3h0M369.7 403h0M455.8 426.2h0M350 412.7h0M398.5 304.9h0M354.7 418.7h0M374.2 426.6h0M370.1 434.5h0M346 437.8h0" style="fill:none;stroke:#ffd4d4;stroke-opacity:0.475;stroke-width:1.66;stroke-linecap:round"/><path d="M447.7 372.7h0M468.8 398.4h0M367.3 397h0M395.5 462.9h0M465.8 423h0M413.3 471.4h0M395.6 442.5h0M393.8 426h0M401.2 467.1h0M422.1 391h0M419.1 376.5h0M451.1 433.4h0M449.6 424.4h0M435 376.5h0M438 369h0M387 332.7h0M452.7 343h0M451.9 404.3h0M456.3 426.5h0M380.4 440.4h0M424.1 362h0M442.6 406.4h0M421.8 428.4h0M420.1 333.9h0M468.9 450.4h0M454 393.9h0M424.4 428h0M397.7 443.8h0M396.9 327.7h0M474.8 401h0M371.9 457.5h0M473.9 403h0M426.7 353.8h0M409.7 305.5h0M397.3 415.1h0M387.3 401.7h0M447.5 369.9h0M387.1 381.2h0M455.3 408h0M415.5 406.6h0M458.2 411.4h0M366.8 417.2h0" style="fill:none;stroke:#ffaaaa;stroke-opacity:0.475;stroke-width:1.66;stroke-linecap:round"/><path d="M360.1 392.6h0M389.6 367.5h0M389 460.8h0M395 333.2h0M383.6 458.9h0M403.8 384.3h0M398.3 399.7h0M418.9 393.6h0M395.9 332.5h0M423.9 399h0M402.6 418.4h0M403.2 355.3h0M462.9 447.8h0M389.3 411.1h0M430.7 353.4h0M418.1 365.4h0M456.1 417.3h0M437 348.2h0M455.1 426.7h0M419 383.7h0M431.6 410.5h0M434.1 381.2h0M474.6 385.7h0M437.4 423.6h0M441.2 420.8h0M434.1 354.5h0M468.2 446.4h0M388.5 363.9h0M461.2 402h0M449.6 392.4h0M436 351.3h0M393.4 388.6h0M450.2 439.4h0M414.5 358.8h0M437.6 366.9h0M454.4 414.4h0M439.1 423.8h0M420.9 377h0M422 439h0" style="fill:none;stroke:#ff8080;stroke-opacity:0.475;stroke-width:1.66;stroke-linecap:round"/><path d="M382.6 364.6h0M388.4 398.6h0M371.8 352.9h0M406 360.4h0M399.4 409.6h0M373.7 410.3h0M386.7 414.6h0M398 373.5h0M430.3 386.4h0M411 407.2h0" style="fill:none;stroke:#ff5555;stroke-opacity:0.475;stroke-width:1.66;stroke-linecap:round"/><path d="M370.5 393.5h0M401 374.8h0M397.3 373h0M373.3 381.1h0M378.3 391.4h0M397.6 379.6h0M411 384.7h0M383 376.3h0" style="fill:none;stroke:#ff2a2a;stroke-opacity:0.475;stroke-width:1.66;stroke-linecap:round"/><path d="M385.6 382.5h0" style="fill:none;stroke:#ff0000;stroke-opacity:0.475;stroke-width:1.66;stroke-linecap:round"/><path d="M300.3 193.9h0M332.6 351.9h0M315.5 201h0M291.7 192.7h0M337.6 230.3h0M344 203.9h0M334 233.1h0" style="fill:none;stroke:#d4d4ff;stroke-opacity:0.545;stroke-width:1.66;stroke-linecap:round"/><path d="M250.2 467.9h0M204.1 470.5h0M322 210h0M342.7 282.2h0M326.2 234.9h0M266.5 211.5h0M170.1 420.6h0M245 208.2h0M274.7 200.8h0M177.6 433.9h0M237.4 217.5h0M274.9 212h0M263.1 473.9h0M321.7 414h0M337.1 254.6h0M282.5 457.3h0M212.6 470h0M312.9 222.8h0M325.9 372.3h0M296.7 422.8h0M319.5 395.2h0M278.6 445.9h0M300.8 414h0M316.4 389.9h0M286.2 434h0M212.6 473.3h0M289.5 427.3h0M273.2 462.7h0M271.8 184.1h0M155.3 452.4h0M211.5 489.4h0M262.8 462.2h0M292.6 192.9h0" style="fill:none;stroke:#aaaaff;stroke-opacity:0.545;stroke-width:1.66;stroke-linecap:round"/><path d="M316.6 236h0M334.1 259.6h0M230.9 451.1h0M282.9 445.7h0M180.2 394.2h0M336.5 260.6h0M306.5 237.3h0M315.9 404.9h0M301.6 433.3h0M182.6 405.2h0M194.4 435h0M223.8 250.5h0M337.1 275.1h0M195.1 431.6h0M227.7 452.8h0M187.5 405h0M198.3 445.5h0M213.8 452.1h0M176.9 440.4h0M286.2 209.3h0M186.8 436.1h0M314.9 247.3h0M326.5 265.6h0M180.6 451.8h0M251.3 198.8h0M307.6 252.9h0M242.9 451.1h0M325.9 277.3h0M203.1 441.2h0M258 217.9h0M259.3 221.1h0M237.2 447.1h0M310.6 248.9h0M171.1 437.9h0M297.4 408.7h0M266.2 442.2h0M257.7 440.7h0M240.8 211.7h0M208.9 443.7h0M319.7 357.8h0M178.2 436h0M248.7 206.8h0M269.4 222.3h0M260.3 202.9h0M172 433.3h0M249.6 221.7h0M284.5 222.6h0M230.8 219.3h0M217.9 444.8h0M293.4 215.4h0M243.4 447.8h0M318.8 361.8h0M298.6 222.4h0M205.6 461.7h0M270.2 207.7h0M293.7 418.6h0M314.9 262.8h0M257.6 220.1h0M251.5 198.7h0M284.1 225.5h0M299.6 225.1h0M292.3 238.3h0" style="fill:none;stroke:#8080ff;stroke-opacity:0.545;stroke-width:1.66;stroke-linecap:round"/><path d="M187.3 406.3h0M270.6 444h0M197.9 413.7h0M325 265h0M282.9 444.7h0M227.6 249.3h0M299.4 427.5h0M242.7 242h0M269.9 444.2h0M285.3 238.9h0M254.1 241h0M318.5 254.9h0M235.6 446.7h0M229.1 253.8h0M328.6 368.5h0M189.8 416.6h0M216.5 438.5h0M190 401.3h0M304.1 245.2h0M277.7 443.9h0M292.3 236.8h0M260.3 451.7h0M219.2 435.9h0M205.3 274.4h0M311.9 390.4h0M201.5 427.8h0M227.6 440.6h0M244.3 245.5h0M335.8 289.4h0M247 447.8h0M188.2 402.6h0M278.9 229.3h0M223.4 264.7h0M194.1 395.9h0M257.4 447.9h0M273.5 442.7h0M333.8 294.4h0M299.8 238.5h0M207 422.3h0M259 421.7h0M184.9 411.9h0M319.3 278.7h0M177.6 410.9h0M181.3 425.6h0M319.4 274.9h0M255.2 235.5h0M310.9 382.1h0M311.2 290.9h0M169.7 404.9h0M302.9 266.9h0M235.4 241.1h0M229.9 436h0M318.1 353.9h0M319.8 312.9h0M256.1 223.4h0M195.5 428.4h0M224.6 247.6h0M233.2 241.3h0M233.2 441.6h0M194.9 420h0M218.2 443.3h0M297.6 259.1h0M257.1 425.4h0M193.5 429.4h0M230.4 231.7h0M279.6 417.7h0M301.2 255.6h0M195.4 427h0M167.6 400.4h0M173.2 419.2h0M296.5 390.5h0M309.9 271.9h0M279.7 408.8h0M269.7 246.1h0M208.4 427.8h0M243.6 227.5h0M293.3 387.7h0M253.7 419.4h0M243 431.4h0M197.7 414.9h0M274.8 422.8h0M246.5 432.9h0M188.2 420.3h0M321.4 353.6h0" style="fill:none;stroke:#5555ff;stroke-opacity:0.545;stroke-width:1.66;stroke-linecap:round"/><path d="M224.9 258.2h0M228.5 427.4h0M236.2 439.8h0M210.2 418.7h0M211.6 281.2h0M328 279h0M257.8 442.4h0M262.8 247.2h0M231 266.7h0M281.1 244.4h0M314.8 260.8h0M225.9 263.7h0M333.4 304.4h0M196.2 380.7h0M201.9 399.6h0M187.9 355.7h0M199.9 388h0M316 271.6h0M259.2 441.2h0M256.7 438.9h0M248.4 251.5h0M337.4 335.5h0M246.6 440h0M228.5 436.2h0M196.8 396.3h0M224.1 269.9h0M331.8 297.7h0M270.4 249.1h0M324.6 277.5h0M244.4 440.5h0M219.4 427.3h0M326.4 281.6h0M291.1 431.2h0M330.7 304.5h0M223 426.3h0M206.7 417.5h0M235.3 267.5h0M195.3 393h0M269.9 400.2h0M317.2 316.1h0M295 279.6h0M310.4 298.7h0M182.1 400.7h0M254.5 248.6h0M309.8 342.5h0M296.6 378.4h0M198.9 410.4h0M179.8 368.5h0M278.7 398.8h0M198.1 385.8h0M221 266.6h0M186.9 406h0M269.3 406.1h0M272.8 266.7h0M269.7 414.8h0M256.7 258.2h0M308.8 308.9h0M204.1 279.8h0M281.3 398.2h0M256.7 419.1h0M230.7 258.9h0M199.6 415.7h0M226.9 419.8h0M257 260.1h0M216.4 257.8h0M192.3 403.4h0M242 255.8h0M196 409.8h0M206.3 260.5h0M296.1 271.9h0M232.3 265.8h0M222.8 408.6h0M295.9 390.4h0M260.4 414.6h0M302.2 281.6h0M201.3 387.7h0M193.3 409.9h0M197.2 382.7h0M226.1 409.9h0M283.3 257.8h0M292.8 385.1h0M259.4 264.2h0M264.9 250.3h0M279.8 400.6h0M294.4 277.2h0M261.8 406.8h0M272.2 404.5h0M208.7 399.3h0M189.5 384.2h0M279.8 257.5h0M257.2 262.2h0M262.8 254h0M255.1 415.6h0M247.6 420.5h0M263.6 253.3h0M253.5 263.4h0M241 418.7h0M259 417.4h0M248.8 256.9h0M255.7 419.8h0M302.7 383h0M303.2 372.7h0M263.1 260.7h0M311.5 312.4h0M286.5 271.3h0M304.7 299.9h0" style="fill:none;stroke:#2a2aff;stroke-opacity:0.545;stroke-width:1.66;stroke-linecap:round"/><path d="M284.5 308.3h0M304.8 324.2h0M220.5 332.8h0M280.1 374.6h0M210.5 303.2h0M258.6 291.2h0M297.9 360.5h0M266.3 394.3h0M240.1 278.7h0M307.6 270.6h0M287 341.6h0M211.4 327.8h0M267.8 363.1h0M283.4 408.5h0M300.5 369.6h0M287.8 284.2h0M277.8 390.1h0M238.2 355.8h0M247.7 375.3h0M254.4 359.9h0M327.8 343.3h0M263.7 408.8h0M265.5 378.1h0M296.9 413.2h0M270.1 347.1h0M253.7 394.1h0M303.2 340.5h0M257.4 372.2h0M274.8 418.3h0M216.4 316.7h0M252.2 369.3h0M230.5 355.8h0M253.7 283.1h0M279.9 330.1h0M254.5 377.2h0M267.7 384.5h0M290.4 357.7h0M209 331.9h0M249.3 365.3h0M272.1 398.6h0M301.5 388.1h0M256.1 384.8h0M295.9 303.7h0M275.3 344h0M274.6 379.9h0M284.2 392.6h0M270.5 361.2h0M263.1 347.4h0M258.9 355.3h0M316.2 352.5h0M261.9 317.3h0M302.9 292.7h0M278.4 353.8h0M226.4 310.8h0M288.7 344.8h0M272.3 393.4h0M287.5 327.2h0M301.9 331.1h0M243.7 353.7h0M294.1 318.4h0M271.2 340.9h0M301 387h0M283.9 292.9h0M281.9 343.9h0M241.9 357.3h0M265.9 355.8h0M244.4 342.8h0M204.1 367.4h0M247.8 366.9h0M244.9 413.5h0M300 392.5h0M224.9 392.4h0M233.8 373.4h0M243.6 347.7h0M265.6 367.4h0M320.2 350.6h0M245.6 302.5h0M245 347.3h0M251.2 372.9h0M240.8 326h0M301 279.3h0M246.3 287.1h0M244.6 269.4h0M256.3 312h0M226 400.3h0M326.3 313h0M286.7 338.8h0M258.4 296h0M268.7 367.7h0M242.9 382.8h0M278.4 321.5h0M212.9 372.8h0M232.9 325.4h0M241.6 431.1h0M260.7 332.2h0M241.6 269.6h0M258.7 365.8h0M283.8 357.1h0M260.3 316.1h0M300.4 370.3h0M239.1 292.7h0M323.3 347h0M292.3 390.8h0M313.7 357.2h0M296.2 355.6h0M313 315.5h0M260.9 375.6h0M233.1 322.1h0M292.9 332.2h0M272.6 336h0M256.1 359.1h0M269.9 369.1h0M282.7 377.1h0M271.7 398.2h0M280.9 391h0M289.6 384.3h0M271.5 396.5h0M274.7 292.2h0M290.7 325.5h0M290.5 282h0M245.3 388.6h0M291.3 351.8h0M319.2 279.6h0M300.6 322.2h0M267.8 327h0M270.4 394.5h0M275.3 393.2h0M316.5 324.8h0M212.2 344.8h0M271.6 385.8h0M273.1 302.9h0M235.1 274h0M259.4 398.4h0M245.9 326.6h0M308.2 369.9h0M309.4 388.4h0M234 281.2h0M296.9 320.3h0M316.9 335.8h0M253.8 346.2h0M241.4 303.1h0M230.9 324h0M241.7 285.5h0M256.1 361.4h0M254.1 352.9h0M257.8 299.3h0M298.1 368.8h0M290.6 299.3h0M274.5 353.1h0M215.6 304h0M262.6 388.7h0M260.8 393.9h0M274.6 335.7h0M235.1 334.2h0M272.4 269.6h0M243.6 367.2h0M241.4 378.3h0M289.6 299.5h0M232.5 308.4h0M271.2 357.5h0M255.1 301.2h0M286 382.2h0M203.8 305h0M259.7 363.6h0M259.4 318.9h0M285.4 328.9h0M299.5 364.1h0M239.3 316.4h0M245.8 332.9h0M290.9 356.8h0M226 339.8h0M301.7 277.4h0M297.4 303.6h0M296.1 255.1h0M256.1 348h0M232.9 340.6h0M302.6 366.4h0M238.9 352.6h0M293.8 344.7h0M299.8 301.3h0M289.2 263.5h0M310.5 304.6h0M291.6 364.4h0M317.6 343.3h0M224.7 344.1h0M290.2 298.7h0M306.2 320.3h0M295 311.5h0M277.4 408h0M246.9 323.5h0M297.2 348.9h0M309.9 297h0M226 304.3h0M275.3 300.2h0M279.8 310.6h0M260.4 359h0M264.7 346.3h0M288.1 324.2h0M269.9 374.6h0M307.3 392.8h0M269.5 378.2h0M251.3 273.4h0M259.5 314.1h0M308.1 338.1h0M274.4 328.9h0M292.8 326.6h0M271.2 352.8h0M272.6 306.8h0M274.3 293.1h0M259.7 320.2h0M310.8 320.4h0M253.7 379.2h0M252.8 339.4h0M256.1 349.3h0M228.6 347.4h0M299.7 360.4h0M234 334.2h0M259.5 419.6h0M269.1 361.6h0M226.9 312h0M311.9 289.1h0M261.1 309.5h0M304.2 319.8h0M235.8 273.3h0M312.6 368h0M245.5 358.7h0M302.9 368.5h0M240.4 384.8h0M286.2 360.6h0M267.9 313.7h0M259.9 292.2h0M253.4 275.5h0M291.9 358.8h0M219.2 347.9h0M269.9 285.1h0M269.1 333.4h0M263.2 410.6h0M295.1 329h0M270.8 337.6h0M312.8 351.8h0M247.6 329.2h0M294.9 387.2h0M253.3 352.4h0M294.3 391.5h0M284.2 325.6h0M270 409.8h0M233.9 365.5h0M275.9 329.2h0M287.8 336.8h0M285.1 347.8h0M293.7 314.5h0M310.7 337.8h0M291.3 371.4h0M230.5 328.5h0M243.7 332.4h0M226.5 379.4h0M298.3 307.3h0M285.6 330.8h0M256.7 314.2h0M238.1 284.6h0M255 335.3h0M311.1 372.2h0M257.3 383.5h0M265.8 356.9h0M298.2 345.2h0M284.1 339.6h0M299.5 349.9h0M279.8 348.9h0M295.8 376.2h0M263.3 358.3h0M276.6 332.7h0M277.1 410.7h0M302.3 305.3h0M273.7 287.4h0M242.5 349.2h0M229 399.7h0M296.9 381.8h0M288.5 313h0M304.7 344.4h0M238.2 373.5h0M286.8 375.3h0M287.4 362.1h0M284.6 341.4h0M246.2 353.5h0M247.6 312.9h0M285.2 320.3h0M216.7 326.1h0M234.4 292.2h0M292.6 274.4h0M290.8 319.8h0M274.2 284.8h0M286.9 358.5h0M302.8 294.7h0M293.1 387.1h0M252.7 290h0M307.6 392.7h0M234.2 422.8h0M291.1 309.6h0M250.8 383.9h0M316.3 326.7h0M304.3 318.8h0M239.9 271.5h0M301.8 326.4h0M275.9 299.5h0M232.8 312.4h0M274.5 301.8h0M302.6 349.7h0M214 373h0M278.6 396h0M287.5 308.8h0M274.3 357.6h0M257.1 314.7h0M303.4 341.2h0M310.7 276h0M253.9 383.2h0M275.5 346h0M298.5 345.3h0M287.7 347.9h0M280.2 363.6h0M281.6 371.1h0M276.9 337.5h0M308.4 312.1h0M316.7 369.1h0M266.6 357.6h0M310.8 319.1h0M315.1 314.9h0M257.3 382.8h0M280.5 350.5h0M299.1 366.7h0M237.8 377.5h0M224.6 303.9h0M275 311.9h0M257.8 337h0M288.7 350.9h0M249.9 313.9h0M280 341.4h0M251.6 420.6h0M299.7 415h0M272.9 415.2h0M255.3 393h0M280.7 305.8h0M244 311.1h0M270.3 317.1h0M278.3 283.9h0M300.4 356.4h0M216.8 399.7h0M282.9 319h0M230.3 298.3h0M260.1 348.1h0M308.2 308.5h0M253 308.3h0M266 375h0M259.3 347.8h0M257.4 313.5h0M284.8 337.9h0M296.7 336.4h0M254.9 271.3h0M248.2 381.1h0M268.2 340.8h0M250 371.5h0M289.5 356.6h0M261.3 368.4h0M261.1 282.5h0M302.1 328.4h0M292.8 299.3h0M284.4 408.4h0M243.9 399.7h0M269 340.6h0M237.1 308h0M289.3 369.8h0M273.1 314.8h0M259 393h0M275.1 346.9h0M234.7 381.3h0M277.6 362.2h0M267.2 325.7h0M328.7 298.3h0M309.3 367.5h0M305.7 365.5h0M271 266.4h0M296 352.1h0M253.1 374.6h0M287.6 378.9h0M270.3 304.4h0M266.5 306.8h0M282.3 308.7h0M278.1 401h0M286.1 326.4h0M281.8 364.5h0M267.6 397h0M295.8 329.4h0M298.3 367h0M274.5 336.2h0M319.5 387.8h0M287.8 345h0M261.4 365.1h0M278.9 346.6h0M310.8 342.5h0M258.9 319.1h0M270.5 376.5h0M309.5 320.2h0M243.4 363.8h0M265.7 340.4h0M328.1 313.6h0M266.8 285.1h0M261.5 352.7h0M248.7 331.7h0M254.8 402.5h0M291.1 358.5h0M267.1 370h0M295 353.3h0M261.1 354h0M284.4 350.9h0M324.9 321.2h0M280.1 331.9h0M256.2 316.9h0M284.9 374.4h0M280.5 338.6h0M241.3 267h0M297.1 298.6h0M320.8 347.9h0M248 353.7h0M207.9 301.8h0M278.3 311.1h0M272.6 294.4h0M212.3 317.6h0M308 354.5h0M266 409h0M275.5 335.7h0M274.1 342.1h0M290.1 374.4h0M262.5 280.2h0M302.7 318.2h0M283.7 399.6h0M289.6 345.8h0M291.7 344.2h0M249.1 385.9h0M248.1 310.3h0M280.4 327.8h0M285.8 327.2h0M294.1 404.6h0M230 358.5h0M258.4 328.7h0M302.8 396.1h0M234.3 387.1h0M232.6 360.3h0M257.2 316.9h0M257.6 366h0M236.7 356.1h0M259.2 357.5h0M286.4 402.2h0M226.9 325h0M292.8 354h0M224.8 309.7h0M241.3 357.6h0M258.9 394.1h0M316.5 355.6h0M317.6 318.9h0M297.9 294.6h0M280.6 301.3h0M264.1 294.8h0M280.1 377h0M291.7 387.4h0M301.1 303h0M315.4 303.7h0M283.1 284.1h0M236.2 351.9h0M310.7 335.1h0M303.6 351.3h0M328.5 332.6h0M293.7 374h0M234.7 313.9h0M284.3 321.5h0M222.5 309.7h0M306.5 301h0M249.6 324.7h0M262.1 330h0M275.3 350h0M294.1 334.7h0M326.8 292h0M314.7 332h0M233.9 371.4h0M265.1 420.9h0M234.2 295.1h0M289.4 410.3h0M276.3 391.9h0M262.5 336.2h0M259.3 285h0M271.5 357.6h0M231.8 283.9h0M201.1 325.9h0M253.2 377.7h0M284 360.1h0M282.2 332.2h0M261.9 381.1h0M224.6 292.3h0M220.1 396.3h0M241.2 318.3h0M254.3 344.7h0M296.4 319.8h0M201.2 351.5h0M217.8 345h0M240 289.4h0M306 325.4h0M275.3 371.6h0M261.6 357.7h0M264.8 270.8h0M286.5 374.7h0M279.1 386.6h0M267.5 327.4h0M305.1 330.9h0M291 360.9h0M298.3 312.9h0M275.9 370h0M240.8 375.9h0M244 289.7h0M244 349.4h0M300.7 297.9h0M241.8 302.7h0M273.8 319.8h0M240.7 339.4h0M261.1 403.2h0M298.5 294.7h0M257.4 390.1h0M265.1 286.7h0M245.5 361.5h0M259.7 386h0M276.7 327.5h0M274.6 324.8h0M314.7 306.3h0M260.5 401.8h0M262.8 366.6h0M247.2 427.7h0M261.5 315.3h0M238.6 338.6h0M303.4 341.3h0M311.3 349.3h0M262 298h0M306.5 360.8h0M284.1 401.5h0M285.2 361.4h0M282.9 344.3h0M258.1 279.7h0M262.6 343.1h0M252.1 420.8h0M256.4 361.2h0M209.8 393.4h0M328.2 331.3h0M287.6 331.4h0M284.3 310.4h0M272.8 322.9h0M299 389.1h0M239.7 373.7h0M256.5 296.8h0M303.7 380.5h0M261.3 303.3h0M256.9 385.4h0M238 290.2h0M230 296h0M275.1 268.6h0M322 307.8h0M229 340h0M309.2 375.7h0M292.3 377h0M311.3 342.3h0M282.3 367.7h0M238.5 293.4h0M308 297.3h0M295.1 287.8h0M257.3 370.9h0M219.9 378.5h0M287.9 310.7h0M266.2 291.1h0M256.6 391.7h0M262.7 351.6h0M262.8 393.8h0M277.6 363.3h0M265.8 385.5h0M289.2 358.9h0M299 357.8h0M274.4 348.5h0M232 377.5h0M246.7 371.2h0M286.4 360.8h0M246.1 313.8h0M314.2 301.7h0M281.2 323.9h0M297.7 365.9h0M286.3 343.2h0M314.2 368.9h0M274 322.9h0M291.1 324h0M297.4 333.9h0M279.4 340.2h0M272.3 259.1h0M277.4 362.1h0M241.2 357.2h0M230.7 397.6h0M251.3 373h0M278.9 382.9h0M256.3 314.8h0M310.7 327.9h0M210.5 304.1h0M268.9 342.6h0M261.7 384.4h0M208.4 329h0M274 377.4h0M207 382.5h0M250.1 342.2h0M262.2 334.4h0M303.3 292.4h0M256.7 359.8h0M288.6 320.1h0M285 302.8h0M298.5 345.7h0M283.2 305.2h0M239.4 391.8h0M296.8 398.8h0M212.1 338.7h0M311.4 355.8h0M280 320h0M304.9 324.6h0M290.7 353.5h0M252.3 321.8h0M257 400.6h0M285.9 365.1h0M283.7 263.3h0M285.7 297.8h0M304.8 344.3h0M244 346.9h0M242.5 322.9h0M273.4 421.2h0M208.8 396.1h0M281.3 387.4h0M299.4 305h0M298.1 343h0M271.2 349.3h0M257.8 363.2h0M269.5 274.8h0M300.4 296.8h0M273.8 316.7h0M240.5 381.7h0M267.1 326.1h0M290.8 371.3h0M279.2 284.4h0M274.2 338.6h0M300.1 398.3h0M279.6 312.9h0M244 305.6h0M294.4 344.7h0M228.4 401.7h0M264.1 431h0M291.1 352.1h0M278.2 393.7h0M284.2 334.2h0M294.4 388.9h0M234.2 366.1h0M305.6 309.8h0M303.4 356.2h0M264.7 359.6h0M283.8 381.2h0M300 348h0M237.5 301.9h0M256 425.5h0M260.7 270.3h0M234.1 347.3h0M317.9 309.8h0M224.2 284h0M283 275.5h0M280.7 392.5h0M278.8 344.1h0M264 336.9h0M245.8 313.7h0M307.1 387.3h0M226.3 362.6h0M224.5 295.3h0M292.5 301.9h0M306.2 353.4h0M313.6 293.3h0M237.5 278.8h0M196.1 323.5h0M267.7 393.9h0M260.7 317.9h0M271.4 264.9h0M320.7 371.6h0M211.7 359.2h0M308.3 340.4h0M296.3 317.9h0M289.8 345.7h0M298.7 343.4h0M254.9 290.1h0M203 374.2h0M292.2 301h0M222 390.7h0M257 296.3h0M309.2 340.7h0M258.2 429.8h0M270 409.6h0M296.2 407.1h0M265.5 353.4h0M285.5 366.6h0M285.9 379.6h0M234.7 341.8h0M289.7 320.9h0M259.5 386.5h0M284 303.3h0M271.7 330.9h0M280.2 345h0M285.5 341.1h0M308.4 341.5h0M305.5 328.1h0M313.1 306h0M262.8 355.8h0M241.7 335h0M223.4 352.8h0M246.4 292h0M246.8 348.5h0M265.3 310.4h0M281.3 369.2h0M245.5 355.2h0M297.3 371.3h0M315.9 354.6h0M271.6 360.6h0M263 310.5h0M208.1 324.4h0M278.8 386.7h0M263.5 342.7h0M296.2 339.2h0M307.6 323h0M295.4 336.4h0M326.1 308.3h0M208.5 305.9h0M270.1 325.8h0M320 281.5h0M288.1 401.3h0M262.5 290.9h0M258.1 323.5h0M211.8 393.4h0M276.9 315.3h0M253.8 357.1h0M276.4 260.7h0M249 322.6h0M255.8 397.7h0M270.8 320.6h0M289.2 351.1h0M253 382.6h0M293.5 412.3h0M260.4 297.8h0M296.2 399.8h0M248.4 320.5h0M307.3 364.1h0M281.5 379h0M258 385.2h0M237 405.5h0M254.1 344.8h0M214.1 388h0M265.2 403.7h0M213.2 361.2h0M316.7 312.4h0M283 349.8h0M315.9 332.8h0M270.1 376.4h0M295.4 388h0M268.9 332.4h0M249.8 377.9h0M231.2 378.4h0M260.8 363.3h0M220.6 372.6h0M258.3 326h0M303.9 330.1h0M282.7 337.2h0M251.4 356h0M275 383.4h0M276 357.8h0M211.2 378.9h0M251 296.5h0M259.7 342.5h0M246.4 360.3h0M216.7 352.7h0M321.2 340.3h0M244 322.4h0M310 362.1h0M265.2 340.1h0M214.9 386.7h0M278.7 342.8h0M294.6 305.8h0M221.2 308.6h0M290.2 341.4h0M228.3 283.8h0M282.4 354.5h0M281.2 401.5h0M215.1 411.6h0M243.4 329.2h0M264 352.8h0M227.2 346.9h0M229.5 328.6h0M274 299.7h0M288.7 384.2h0M301.2 332.4h0M247.6 363.7h0M279.8 345.8h0M240.6 307.3h0M260.1 381.9h0M306.3 357.3h0M281.2 347.8h0M266.7 390.7h0M223.5 371.5h0M294.8 356.1h0M265.7 354.9h0M243.3 294.9h0M252.3 323.6h0M252 331.5h0M309 283.2h0M261.9 313h0M251.2 302.9h0M264.4 381.5h0M299.5 313.9h0M227.8 285.8h0M288.7 378.4h0M289.3 364.5h0M302.8 362.2h0M247.7 389h0M278.5 309.5h0M302.2 333.2h0M300.7 325h0M297.2 384.1h0M255.3 409.4h0M275.6 339.8h0M280.3 365.8h0M283.9 269.7h0M252.2 283.7h0M303 332.3h0M309.1 320h0M259.5 377.1h0M263 385.3h0M280.2 336.6h0M256.9 366.3h0M306.6 319.4h0M208.1 295.1h0M257.5 297.8h0M299.2 335h0M218.7 357.8h0M252.7 350.9h0M274.8 333.7h0M322.7 346.6h0M260.3 352.1h0M263.5 323h0M293.1 347.1h0M251.8 362.1h0M238.5 293.3h0M299 394.1h0M265.2 355.2h0M226.8 395h0M256 341.5h0M256.4 285.2h0M260.2 394.6h0M286.6 363.8h0M271.8 372h0M277.8 329.2h0M289.6 328.6h0M256 303.8h0M204.1 384.9h0M245.5 301.8h0M285.8 317.5h0M250 353.6h0M327.9 350.4h0M276.2 355.3h0M281.9 382.3h0M302.6 321.7h0M246.1 385.2h0M279.9 284.7h0M289.8 309.7h0M296.5 307.1h0M275.1 408.5h0M304.6 304.1h0M277.7 373.9h0M295.6 316.3h0M300 317.6h0M267.1 359.6h0M327.5 325.8h0M265.1 299.8h0M273.3 377.7h0M280.7 342.4h0M308.1 353.8h0M265.6 345.5h0M249.1 280.5h0M261.4 397.2h0M212.9 286.2h0M274.3 301.7h0M273.9 335.6h0M247.5 353.1h0M295.8 340h0M215.2 336.3h0M278 330.7h0M273.7 315.6h0M282.2 304.1h0M267.7 326h0M260.3 401.2h0M288.9 328.1h0M275.8 324.6h0M220.6 322.1h0M268.3 385.4h0M268.8 281.7h0M283.5 360.2h0M268 344.4h0M289.6 292h0M291.4 352.7h0M280.8 341.5h0M251.5 293.1h0M321.2 340.8h0M270.7 305.9h0M270.1 352.4h0M281.5 427.1h0M313.2 370.8h0M295.5 325.1h0M284.1 328.2h0M276.5 308.7h0M276.3 335.5h0M303.6 312.6h0M281.8 346.5h0M252.1 314.6h0M288.3 354.4h0M285.8 313.6h0M286.5 276.5h0M228.9 353.7h0M235.5 323.1h0M294 373h0M318.2 332.4h0M246.4 345.3h0M278.8 306.9h0M299 374h0M294.1 308.8h0M287.1 339.3h0M308.1 360.2h0M296.1 327h0M285.6 312.7h0M312.4 360.9h0M285.3 410.1h0M237.2 314.6h0M288.8 359.4h0M237.9 370.9h0M281.3 369.6h0M246 345.5h0M210.5 350.8h0M233.2 315.1h0M215.7 323.4h0M253.5 282.5h0M257.8 344.6h0M306.2 375.1h0M284.3 293.5h0M278.7 353h0M321.4 347.9h0M258.5 377.6h0M279.9 301.2h0M280 315.8h0M283.2 340.9h0M251.4 305.7h0M255.2 354.9h0M257.5 389.5h0M297 355.6h0M278.2 326.5h0M249.7 371h0M283.5 310.6h0M307.1 279.8h0M247.8 373.5h0M278.6 392.9h0M263.7 366.8h0M203 389.1h0M250.3 387.4h0M261.3 387.4h0M274.8 347h0M288.5 343.3h0M302.8 343.1h0M276.3 314.1h0M262.2 287.5h0M255.4 385.9h0M286.4 309.6h0M259.6 340.9h0M268.1 361.4h0M225.2 384.9h0M247.2 313.5h0M274.8 356.6h0M250.1 317.3h0M204.4 362.3h0M297.7 355.6h0M270.1 336.2h0M269.9 365.1h0M243.1 333.6h0M268.9 356.1h0M293.8 319.2h0M298.1 375.9h0M279.1 376.3h0M217.5 352.7h0M276.4 355.7h0M244.2 305.3h0M303.4 348.5h0M238.8 330.8h0M237.4 403.2h0M287.5 371.4h0M310.6 322.8h0M246.5 329.3h0M271.8 361.7h0M241.5 405h0M295.6 336.8h0M262.1 408.5h0M291.1 343h0M269.9 339.5h0M258.5 363.3h0M202.4 366.4h0M275.2 319.6h0M326.7 331.1h0M296.8 393.9h0M258.6 295.7h0M268 403.1h0M268.1 325.9h0M241.6 348h0M305.5 365h0M223.5 316.8h0M327.6 317.8h0M295.7 360.8h0M288.7 377.4h0M290.1 407.6h0M242.3 269.7h0M248.6 295.5h0M281.3 289.6h0M259.8 329.8h0M268.5 356.9h0M218.2 339.6h0M321.5 293.9h0M223.1 375.9h0M300.2 279.4h0M257.5 406.8h0M235 374.4h0M267.4 393.7h0M264.7 325.5h0M223 327.3h0M266 323.3h0M268.7 382.2h0M254.2 337.4h0M284.1 331.6h0M289.5 261.4h0M289.8 334.3h0M242.1 321h0M234.1 275.5h0M293.9 380.6h0M279 363.7h0M248.3 374.4h0M266.5 365.4h0M274.3 396.8h0M287.4 346.9h0M311.9 338.9h0M265.7 319.1h0M235.3 354.1h0M242.8 314.6h0M317.3 340.3h0M277.6 344h0M227.4 387.7h0M269 335.7h0M298.1 312.1h0M291.9 331.9h0M314.5 338.1h0M295.5 384.7h0M275.2 331.4h0M237.3 355.5h0M248.6 325.8h0M302.8 308.8h0M296.5 343.5h0M260.9 412.4h0M267.7 352.7h0M204.8 401h0M266.9 340.1h0M279 344.3h0M232.4 303.1h0M284.1 313.9h0M208.9 346.7h0M277 359.7h0M267.2 317.5h0M264.9 336h0M287.5 332.8h0M285.5 394.8h0M285.9 353.9h0M294.6 366h0M322 294.9h0M327.3 335.1h0M309.3 351.7h0M232.1 405.4h0M247.5 376h0M229.5 383.5h0M257.4 300.4h0M273.9 298.9h0M281.7 297.6h0M258.9 387.6h0M290.6 292.7h0M272.5 342.8h0M305.3 355.3h0M273 332.7h0M293.9 317.7h0M277.8 320.5h0M239.5 323.7h0M287.2 377.3h0M283.9 286.2h0M284.7 361.7h0M271.1 357.4h0M276.6 301.2h0M292.3 308.6h0M282.7 317.5h0M296.2 254.1h0M268.4 324.3h0M262.9 389.6h0M253.8 404.7h0M300.1 312.3h0M284.6 348.3h0M248 279.6h0M214.3 377.3h0M283.4 352h0M258.3 340.6h0M295.9 343.1h0M233.4 316.7h0M257.9 366.3h0M304.3 393.7h0M279.9 313.6h0M266.1 279h0M251.6 345.6h0M303.1 310.6h0M251.8 415.1h0M240.3 380h0M266.8 333.9h0M254 355h0M265.7 315.3h0M248.1 380.9h0M286.7 324.8h0M215.3 304.9h0M247.4 415.1h0M230.1 387.6h0M227.8 359.5h0M260.3 423.5h0M292.9 317h0M298.6 272.6h0M226.1 401.6h0M255.8 335.5h0M253.9 346.7h0M301.4 368.8h0M262.8 300.6h0M268.7 366.1h0M295 320.6h0M236.3 344.5h0M295 274.3h0M217.8 323.1h0M248 394.8h0M267.6 281.8h0M268.6 366.4h0M279.1 325h0M276.1 367.8h0M263.1 383.8h0M235.2 341h0M312 360.1h0M286 374.3h0M310.2 363.4h0M249.2 373.6h0M249.9 400.5h0M262.7 299.8h0M289.2 399.8h0M290.2 322.5h0M273.5 362.4h0M295.3 334.1h0M237.3 274.1h0M258.6 355h0M278.1 324.8h0M267.1 355.9h0M227.5 397.3h0M274.5 254.2h0M248.9 326.4h0M287.7 329.7h0M226.7 358.8h0M288.6 401.8h0M316.8 280h0M300.8 303.8h0M275.7 345.1h0M306.6 341.4h0M304.8 336.4h0M248.7 328.6h0M302 323.2h0M318.9 357.4h0M319.6 316.9h0M244.6 379.7h0M230.9 341.6h0M222.5 352.9h0M296.5 351.2h0M307.8 340.3h0M278.4 335.7h0M237.6 401.5h0M293.6 314.5h0M245.4 339.7h0M310.4 355.2h0M310.5 285.8h0M299.6 357.7h0M287.7 344.8h0M299.1 367.3h0M254.9 401.1h0M295.3 293.3h0M259.1 309.4h0M265.2 335.6h0M290 347.2h0M277.9 398.9h0M264.8 416.9h0M293.3 281.3h0M271.8 374.4h0M287.2 335.1h0M272.5 340.1h0M279.7 388.1h0M265.1 363.5h0M292.7 339.7h0M270.3 387.3h0M300.2 343.9h0M263.8 319.9h0M265.3 362.9h0M260.5 362.9h0M247.1 387h0M306.3 349h0M299.1 361.9h0M269.2 313.4h0M245.6 364.7h0M288.3 297.9h0M248.7 325.4h0M317.1 359.7h0M314.9 347.6h0M255.4 336.1h0M290.7 278.4h0M291.2 354.3h0M304.5 340.1h0M318.4 368.1h0M234.6 328h0M293.1 327.8h0M214.8 303.9h0M270.2 374.3h0M224 337h0M250 349.5h0M231.1 298.7h0M274.9 304.4h0M296.6 327.6h0M295.5 333.2h0M269.7 381.8h0M312.7 308.6h0M267.1 368.5h0M319.1 361.8h0M267.8 397h0M291.1 323.9h0M272 360.7h0M285.2 425.7h0M278.3 331.2h0M321.6 331.1h0M279.8 348.3h0M286.4 314.5h0M278.1 322.6h0M301.6 363.1h0M256.9 301.7h0M227.4 337.4h0M248.8 421.1h0M228 381.3h0M211.8 390.2h0M235 308.4h0M242.9 294.1h0M265.5 257.4h0M241.6 361.7h0M293.5 319.8h0M315.2 368.7h0M289.5 352.4h0M254.7 394.8h0M276 362.5h0M290.3 310.1h0M285.4 337.9h0M269.3 316.2h0M276.9 320.9h0M214.8 337.9h0M293.6 360.2h0M314.7 378.3h0M250.1 319.5h0M291.4 347.9h0M302.1 355.5h0M295.6 341.2h0M254.5 293.6h0M259.6 349.7h0M221.7 379.5h0M299.9 301.8h0M322.4 345.6h0M275.7 299.1h0M253.3 418.5h0M249.7 275.8h0M253.5 361.2h0M291.3 417.6h0M250.1 302.7h0M285.8 399.6h0M261 412.6h0M300.8 277.7h0M263.7 394.1h0M207.6 330.2h0M260.5 365h0M224.7 370.7h0M234.3 336.2h0M206.8 311.3h0M262.7 314.3h0M257.6 355.9h0M292 381h0M272.8 338.6h0M250 380.8h0M299.8 325.9h0M298.7 319.2h0M306 300h0M297.2 374.1h0M260.4 315.8h0M260.6 384.8h0M296.3 340.6h0M301 374h0M279.8 318.1h0M268.7 342.3h0M269.3 332.3h0M244.1 331.2h0M258.9 274.2h0M300.3 324.3h0M213.3 307h0M224.7 372.7h0M224.5 376.7h0M306.9 315.8h0M264.2 368.5h0M251.9 343.4h0M328.1 355.6h0M312 360.7h0M287.8 397.6h0M270.6 303.4h0M298.6 302.6h0M289.1 337.3h0M250.5 358.1h0M256.9 317.3h0M270.4 339h0M273.4 326.7h0M260.9 294.2h0M265.9 268.2h0M266.3 350.2h0M229.1 370.3h0M212.4 329.8h0M328.5 319.7h0M254.3 364h0M310.4 326.5h0M244 286h0M271.1 336.3h0M245.3 266.4h0M230.1 376.9h0M264.5 300.9h0M200.9 381.3h0M219.3 353.4h0M260.8 325.7h0M240.3 348.9h0M270.9 274.3h0M271.2 289.8h0M211.3 369.1h0M299.4 334.2h0M258.6 291.5h0M256.3 361h0M266.4 329.8h0M215.6 314.7h0M230.1 319.3h0M241.4 355.5h0M210.9 304.8h0M264.6 310h0M241 374h0M208 296.3h0M224.4 283.8h0M258.3 268.2h0M258.7 330.5h0M244.8 361.4h0M281.1 322.8h0M301.9 337.9h0M287.6 282.9h0M274.9 323.5h0M219.9 327.2h0M274.2 288.3h0M238.9 300.3h0M235.3 373.7h0M212.9 308.7h0M214.4 290.4h0M213.5 331.5h0M250.4 349.2h0M273.9 320.7h0M279.9 359h0M223.8 329.8h0M277.4 310.1h0M256.5 304.1h0M227 375.8h0M271.9 314.1h0M209.4 365.6h0M275.2 370.1h0M238.4 321.2h0M231 310.6h0M284.9 278.1h0M206.1 329.6h0M211.3 324.9h0M244.1 402.5h0M297.2 369.2h0M268.1 367.5h0M283.8 326.4h0M248.1 357.3h0M205.1 360h0M249.6 384h0M256.9 334.3h0M217.9 294.3h0M268.6 327.5h0M299.1 289.8h0M239.9 340h0M281.6 380.3h0M195.5 343.1h0M289.2 321.5h0M208.4 364.5h0M240.1 318.3h0M293.1 295.9h0M279.6 313.3h0M286 309.7h0M206.5 310.4h0M282.3 345h0M293.8 302.2h0M212.2 312.2h0M217.9 347.3h0M203.8 376.4h0M228.4 298.8h0M203.9 359.4h0M290.7 371.6h0M236 312.3h0M207.2 355.7h0M244.5 368.2h0M280.8 331h0M229.2 362.3h0M202.6 386.9h0M223.2 399.7h0M236.5 405.6h0M263.8 370.7h0M282.2 326.4h0M266.5 376.5h0M263.3 313h0M217.6 396.1h0M230.7 343h0M290.3 385h0M291.8 323h0M234.3 286.4h0M216.7 312.7h0M236.2 345.2h0M231.5 375.7h0M220 346.8h0M229.2 324.3h0M249.7 307.7h0M245.2 341.7h0M272.7 348.5h0M249.2 376.9h0M207.9 357.7h0M218.8 324.4h0M271.1 300.1h0M277 341.9h0M277.2 289.5h0M251.3 386h0M231.5 390.3h0M270.6 367.4h0M284.5 320.6h0M252.2 299.9h0M252.4 310.7h0M271.4 391.5h0M293.6 324.8h0M220.9 300.5h0M288.9 346.1h0M282 382.7h0M197 326.7h0M218.1 391.8h0M270.8 369.5h0M219.8 402h0M240.1 372.2h0M267 355.3h0M295 304.5h0M301 349.1h0M243.3 326.6h0M294.7 334.3h0M226.2 278h0M277.1 286.9h0M266.1 377.5h0M234.4 268.5h0M210.7 312.7h0M262.1 315.7h0M233.5 270.9h0M261.2 332.7h0M240.8 343.1h0M242.8 327.5h0M212.9 354.5h0M273.2 335.8h0M298.7 330.5h0M233 363.9h0M232.4 299.5h0M215.9 290.2h0M287.8 318.4h0M262.3 320h0M241 304.4h0M260 378h0M240 326.8h0M221.8 332h0M293.1 318.9h0M270.4 346.6h0M241.7 298.3h0M208.7 325.8h0M251.4 295.3h0M238.4 308.2h0M241.2 357.2h0M239.7 311.4h0M283.9 388.2h0M286.3 321.9h0M269 354.3h0M288.2 350.8h0M249.2 321.1h0M254.4 332.2h0M291.9 309.2h0M261.2 298.4h0M205.8 356.4h0M207.9 302.4h0M285.2 363.2h0M229.7 340.5h0M226.2 282.3h0M252.1 365.8h0M251.3 365.2h0M271.8 307.9h0M259.5 280.5h0M238 382.9h0M224.6 276.4h0M191.3 370.1h0M290.1 357.4h0M294.9 317.1h0M306.7 316.6h0M293.5 363.7h0M218.1 291.4h0M256.7 375h0M202.9 286h0M236.6 379.7h0M221.9 345h0M260 350.4h0M287.1 324.2h0M227.2 326.6h0M204.9 380h0M221.9 360.4h0M252.5 372.4h0M247.1 372.2h0M215.7 386.4h0M239.5 365h0M214.4 282.9h0M304.8 300.8h0M200.4 338.9h0M230.7 368.5h0M268.3 374.1h0M277.9 344.8h0M250.3 275.3h0M233.6 361.6h0M259.8 350.9h0M247.1 314.7h0M252.8 357h0M219.9 365.8h0M228.8 332.3h0M237.2 366.4h0M227.2 292.3h0M253.9 316.2h0M261.1 280.6h0M276.7 345.7h0M252.3 268h0M248.5 350h0M199.8 313.9h0M264.1 331.1h0M250.1 378.5h0M235.2 391.8h0M260.8 349.4h0M287.1 335.9h0M236 397.2h0M270.8 300.3h0M206.5 302.1h0M250.4 305.7h0M257.6 359.3h0M308.3 341.3h0M275.1 357.8h0M243.5 386.4h0M267.1 348.4h0M202.5 333.7h0M293.1 348.7h0M220.8 382.1h0M257.7 379.5h0M221.2 322.3h0M235.3 341.6h0M224.8 398.2h0M229.8 346.1h0M210.8 322.1h0M275.9 384.9h0M232.3 316.4h0M272.1 319.4h0M263.8 340.9h0M283.5 328.8h0M208.3 320.2h0M270.8 349.9h0M275 344.8h0M305.4 350.7h0M231.4 362h0M277.6 271.8h0M286.5 337.6h0M224.4 338h0M255.2 338.3h0M235.8 331.5h0M285.4 328.3h0M240.5 370.6h0M265.2 349.2h0M264.4 363.9h0M226.9 327.7h0M229.6 295.4h0M242.8 316.3h0M257.9 314.7h0M216.5 395.3h0M250.7 358h0M268.9 352.3h0M297.8 295h0M260.1 279.8h0M278.4 281.8h0M229.5 296.7h0M236 365.2h0M274.3 321.2h0M281.5 369.7h0M280.3 290.7h0M263.3 356.4h0M209.3 392.6h0M281 325.2h0M306.1 316.3h0M258 275.3h0M256.2 357h0M241.4 297.7h0M226.2 363h0M224.4 398.5h0M270.7 329.7h0M298.3 306.9h0M241.2 296.2h0M253.3 392.6h0M281.6 274.8h0M292.3 378.8h0M281.6 309.5h0M222.7 388.7h0M247.8 391.5h0M246.5 335.6h0M263.3 295.2h0M231.5 401.3h0M247.1 269.9h0M292.3 380.7h0M261.4 375h0M283 306.2h0M249.8 323.8h0M268.2 274h0M285.6 341.6h0M284.2 381.9h0M208.1 329.5h0M274.1 348h0M291.2 285.5h0M248.3 359.5h0M260 397.9h0M283.3 378.8h0M276.8 289.8h0M255.8 385.9h0M242.6 295.1h0M270.7 279.6h0M281.4 393h0M273.5 274.2h0M292.6 312.8h0M289 284.5h0M216.3 363.1h0M295 300.4h0M284.2 313.7h0M270 273h0M203.2 321.4h0M274.4 271.1h0M241.4 348h0M228.1 349.8h0M244.8 290h0M224.6 347.2h0M298.3 290.2h0M227.7 274.5h0M256.6 389.1h0M219.3 375.3h0M262.8 310.8h0M253.3 309.2h0M253.9 395.5h0M206 337.7h0M262.9 328.8h0M271.8 375.2h0M236.7 318.8h0M247.9 401.1h0M256.9 361.7h0M216.2 364.7h0M229.2 354.2h0M234.4 348.5h0M266.1 361.8h0M238.6 337.4h0M279.8 325.6h0M252.9 386.9h0M234.6 329.7h0M265.5 352.1h0M258.3 353.1h0M253.1 292.8h0M268.1 364.6h0M242.2 340.4h0M254.7 386.6h0M205.4 378.1h0M265.9 304.8h0M285.8 347.7h0M229.3 297.9h0M225.9 295.4h0M205.1 365.8h0M241.4 305.6h0M298.4 326.7h0M272.7 336.8h0M204.9 359.4h0M217.6 390.7h0M282.9 378.3h0M278.8 322.1h0M186.7 361.8h0M257.9 345.7h0M261.9 369.5h0M257.9 367.5h0M214.7 375.3h0M248.2 297.8h0M256.3 314.6h0M241.4 329.9h0M300.7 332.3h0M233.7 308.4h0" style="fill:none;stroke:#0000ff;stroke-opacity:0.545;stroke-width:1.66;stroke-linecap:round"/><path d="M320.9 416.6h0M334.1 475.7h0" style="fill:none;stroke:#ffd4d4;stroke-opacity:0.545;stroke-width:1.66;stroke-linecap:round"/><path d="M436 464h0M452.9 430.1h0M454.3 445.4h0M454.5 298.2h0M468.5 341.5h0M460 356.2h0M450.1 463.7h0M338.9 377.8h0M426.9 267.2h0M421.3 266.6h0M362 357.4h0M362.1 337.6h0M357.6 333.9h0M345.8 393.4h0M464.5 463.9h0M373.3 310.5h0M433.3 287.7h0M401.5 279h0M431.8 264.4h0M368.2 342.7h0" style="fill:none;stroke:#ffaaaa;stroke-opacity:0.545;stroke-width:1.66;stroke-linecap:round"/><path d="M461.4 379.2h0M345.2 328.2h0M443.9 369.3h0M348.8 476.4h0M433.2 418.8h0M414.3 325.8h0M452.2 401.8h0M390.1 467.5h0M374 308.9h0M467.4 338.3h0M463.4 413.2h0M426.5 426.5h0M382.2 479.8h0M420.2 297.3h0M336 470.9h0M442.6 391.4h0M440.4 410.1h0M359.2 307.5h0M437.4 449.2h0M356.5 476.7h0M425.2 305.2h0M468.3 355.8h0M437 453.8h0M393 307h0M420 302.7h0M436.5 448.8h0M395.9 277.1h0M394.3 474.9h0M401.8 459h0M330.9 371.2h0M440.9 470.4h0M421.2 477.9h0M400.9 300.7h0M457.7 321.3h0M418.3 319.4h0M392.8 492.8h0M391.2 325.7h0M374.9 471.6h0M445.8 300.6h0M390.8 463.5h0M442.5 476.9h0M436.5 315.5h0M455.5 473.9h0M356.3 459.5h0M475 289.5h0M361 449.4h0M478.7 341.7h0M366.3 387.2h0M377.8 428.9h0M428 474h0M366.3 463.9h0M419 464.3h0M391.1 292.3h0M455 312.4h0M391.3 456h0M394.6 478h0M460.7 419h0M402.2 455.5h0M486.6 318.8h0M414.5 449.1h0M388.5 470.5h0M472.8 428.1h0M389.5 476.4h0M425.5 314.4h0M399.6 464h0M370.9 460h0M349.4 437.4h0M381.7 343.5h0M416.8 453.2h0M441.1 429.3h0M418.5 276.3h0M475.9 349.8h0M394.2 312.7h0M394.1 474.5h0M480.5 379.9h0M468.3 439.2h0M356.4 413.8h0M482.5 309.7h0M478.2 315.1h0M355 428.9h0M354.5 446.2h0M385.2 312.7h0M464.6 331.2h0M417.1 471.3h0M354.3 473.2h0M443.4 288h0M391.9 297.6h0M375.4 408.5h0" style="fill:none;stroke:#ff8080;stroke-opacity:0.545;stroke-width:1.66;stroke-linecap:round"/><path d="M441.4 329.7h0M441.8 388h0M407.5 433h0M344.3 456.4h0M445.6 407.3h0M450.3 409.4h0M353.4 405.6h0M385 307.3h0M452.2 354.4h0M434.7 309.8h0M348.8 399.6h0M348.6 460.3h0M426.5 352.7h0M378.1 475.5h0M432 355.8h0M423 346.3h0M443.7 419.1h0M341.5 459.4h0M436.5 399.2h0M345.9 332.5h0M336.5 452.4h0M431.3 431.1h0M421.7 348.9h0M396.7 321h0M385.6 304.6h0M438.1 360.2h0M383 294.6h0M346.6 338.8h0M412.1 428h0M375.1 441.3h0M417.3 314.1h0M408.9 372.9h0M392.8 344.6h0M369.2 448.8h0M467.8 380.6h0M389.1 410.8h0M409.1 431.6h0M364.8 340.4h0M404.7 438.8h0M450.6 312.7h0M445 339.7h0M393.2 320.5h0M406.2 385.4h0M424.2 455.8h0M429.4 395h0M393.2 393.1h0M380.6 437.1h0M412.5 339.5h0M437.4 410.9h0M377.5 430h0M362.6 409.8h0M400.3 342.5h0M385.5 430.9h0M436.7 402.5h0M394.1 408.9h0M365.4 423h0M460.2 406.1h0M447.5 424h0M356.5 452.5h0M378.7 422.7h0M403.8 384.8h0M364.7 430.2h0M358.2 402.6h0M363.6 428.3h0M452.9 390.4h0M413.4 340.7h0M384.8 331.6h0M456.4 326.3h0M439.2 408.7h0M422.3 366.8h0M372.6 385.2h0M369.1 361.4h0M428.1 447.7h0M425.1 376.1h0M443.7 386h0M426.7 337.9h0M413.2 300.8h0M407 371.4h0M365.4 455.7h0M425.9 316.7h0M443.5 425.7h0M447.5 331.7h0M445.9 450.1h0M425.6 338.5h0M371.3 346.5h0M445.7 359h0M421.7 424.7h0M403.8 389h0M462.6 397.4h0M395.8 348.6h0M450.1 329.4h0M412.6 445.1h0M453.7 421.7h0M421.3 354.3h0M359.2 439.3h0M404.3 469.1h0M457.9 354.8h0M422.9 448.8h0M456.2 382.7h0M391.5 382h0M378.9 394.7h0M449.8 348.3h0M380 328.8h0M397.2 451.3h0M438.7 354.4h0M392.1 467.8h0M409.2 352.9h0" style="fill:none;stroke:#ff5555;stroke-opacity:0.545;stroke-width:1.66;stroke-linecap:round"/><path d="M444.5 402.1h0M386.2 458.3h0M431 327.3h0M431.3 370.5h0M386.9 458.6h0M357 457.5h0M424.9 311.4h0M423.6 359.2h0M395.7 335.5h0M393.4 328.6h0M357.8 457h0M431.4 361.1h0M436.5 405.9h0M417.7 389h0M415.1 344.3h0M423.1 352.8h0M445.4 378.1h0M406.2 449.5h0M432.2 400.1h0M422 428h0M398.8 451.8h0M434 327.7h0M380.6 433.9h0M402.3 428.8h0M354 447.7h0M371.8 318.9h0M423.5 308.4h0M444.6 364.7h0M337.9 394.9h0M399.1 421.5h0M421.4 384.3h0M417 352.2h0M416 420.5h0M378.8 332.7h0M367.2 413.3h0M391.3 444.9h0M461.5 396.9h0M368.2 405h0M407.5 390.2h0M441.7 393.6h0M355.7 395.4h0M440.3 404.9h0M384.6 393.8h0M412.2 363.8h0M400.9 383.5h0M427.7 339.7h0M409.5 364.4h0M440.5 376.1h0M368.4 406.8h0M427.8 387.5h0M395.8 358.6h0M376.3 362.3h0M424.6 415.9h0M444.8 392.4h0M429.7 413.1h0M405.1 361.3h0M434.3 350.4h0M377.8 363h0M435.6 370.7h0M436.8 365.5h0M437.6 386.3h0M427 343.8h0M440.3 426.9h0M424.1 421.6h0M388.8 384.4h0M398.1 433.2h0M374.9 400.5h0M379.3 381.4h0M367.4 388.3h0M451 367.7h0M396.3 440.8h0M397.2 428.7h0M444.1 407.8h0M352.4 407.5h0M406.2 345.3h0M395.1 446.4h0M439.4 405.8h0M427.8 393h0M419 375.9h0M405.5 439.8h0M385.1 361.7h0M418.8 388.2h0M384 371h0M401.2 388.8h0M351.2 380.8h0M411.9 340.1h0M369.3 424.8h0M422.3 377.7h0M423.8 373.2h0M440.2 383.7h0M374.1 400.5h0" style="fill:none;stroke:#ff2a2a;stroke-opacity:0.545;stroke-width:1.66;stroke-linecap:round"/><path d="M424.7 360.7h0M370.1 357.6h0M363.9 365.9h0M375.5 380.7h0M402.4 359.8h0M406.6 356.3h0M411.4 421.1h0M372.4 382.8h0M395.9 431.1h0M422.4 384.7h0M408.7 335.8h0M392.7 422.6h0M374.2 382.4h0M418.9 375.4h0M364.1 375.4h0M362.8 388.2h0M406 339.2h0M380.5 374.9h0M397.1 340.7h0M428.9 342.1h0M390 386.1h0M334.2 394.9h0M390.5 418.3h0M360.5 358h0M372 403.9h0M366.9 329.3h0M359.6 362.6h0M400.4 373.8h0M353.9 435h0M376.7 392.6h0M384.9 356.6h0M387.1 395.7h0M421 381.6h0M382.8 433.1h0M404.7 411.7h0M375.6 435h0M345 348.4h0M385.5 317h0M393 414.6h0M417.2 354.4h0M392.7 306h0M333.2 417h0M382.1 425.5h0M410.8 358.1h0M396.7 371.3h0M415.6 381.4h0M372.3 449.4h0M349.1 374.5h0M435.5 381.2h0M367.4 392.4h0M357.4 408h0M384.4 343.8h0M357.6 332.6h0M372.8 419.8h0M401.3 379.1h0M393.4 357.6h0M372.5 394.7h0M389.4 389h0M407.1 413.4h0M344.2 424.5h0M386.2 376.9h0M414.2 409.1h0M391.3 392.3h0M384.5 350.8h0M375.1 368.5h0M413.1 395.3h0M400.3 322.2h0M365 362h0M405.2 374.7h0M376 365.3h0M397.1 387h0M365.7 367.4h0M394.7 377.6h0M407.3 385.5h0M369.3 345.8h0M369 387.1h0M389.8 403.6h0M343.2 385.2h0M383.1 405.5h0M360 411.8h0M377.5 408.3h0M404.5 333.9h0M389.3 392.3h0M387.4 371h0M370 373.2h0M371.9 415.4h0M391.2 409h0M349.7 386.6h0M397 340.3h0M351 401.5h0M375.2 383.4h0M342.8 433.4h0M375.1 428.9h0M357.7 387.4h0M391.9 410.3h0M378 421.4h0M385.3 352.7h0M387.4 410.4h0M384.1 337.1h0M355.4 439.4h0M370.3 358.7h0M381.4 407.7h0M369.6 351.6h0M395 386.5h0M429.7 340.1h0M389.4 397.9h0M386.1 406.6h0M374.1 386.5h0M413.9 372.2h0M401.8 364.2h0M344.4 371.6h0M354.9 446.8h0M368.1 381.3h0M355.4 402.2h0M374.9 424.7h0M364.6 362.6h0M375.1 326.7h0M386.1 347.6h0M422.7 329.1h0M380.5 401.1h0M378.3 428.4h0M395.4 344.1h0M387 380.1h0M384.2 355.8h0M358.7 346.6h0M391.8 365h0M387.2 405.7h0M357.6 405.8h0M399 430.3h0M399.2 379.9h0M386.9 368.3h0M390.8 358.1h0M350.1 424.7h0M361 359.7h0M358.8 403h0M339.3 394.5h0M421.5 341.5h0M360.2 364.9h0M396.7 410.6h0M382.9 357.2h0M377 344.2h0M419.1 365.5h0M363.1 354h0M378.9 363.2h0M406.7 411.5h0M358 370.3h0M386.7 389.4h0M409.4 356.6h0M374 339.6h0M383.2 361h0M393.1 400.6h0M384.1 358.1h0M368.7 433.8h0M377.4 389.3h0M346.5 434.1h0M374.1 369.3h0M353.9 421.3h0M413.4 407.5h0M353.9 367.2h0M365.5 319.8h0M361 361.3h0M370.6 380h0M362.5 421.3h0M363.2 435.8h0M416.1 327.5h0M402.3 378.3h0M361.1 365.8h0M423.9 343.9h0M405.9 388.4h0M335.4 415.9h0M381.5 452.1h0M368.3 376.9h0M402.5 442.4h0M354.9 444.8h0M360.1 402.5h0M363.5 372.7h0M358.2 378.3h0M425.5 380.9h0M422.1 390.8h0M383 347h0M380.4 423.7h0M406.8 399.7h0M349.2 357.9h0M363.8 405.8h0M352.3 413.6h0M365.9 394h0M392.4 346h0M404.9 384.3h0M386.4 378.4h0M383 403.5h0M355 396.7h0M381.8 307.7h0M413.1 413.2h0M420.5 403.1h0M411.4 406.6h0M381.2 369.2h0M350.5 406.8h0M411.1 367.8h0M365.2 377h0M423.3 341.3h0M385.8 349.2h0M391.9 382h0M409.5 354h0M393.9 427.1h0M374.3 422.1h0M387.1 371.2h0M416.4 365.9h0M415.2 334.9h0M363.1 398.7h0M400.8 398.2h0M392.9 416.6h0M383.3 327.1h0M347.4 379.7h0M347.4 406.2h0M368.4 417.9h0M409.2 394.3h0M358.4 442.5h0M381.6 385.6h0M411.6 371.3h0M348.6 387.8h0M350.2 413.9h0M354.9 372.6h0M372.3 341.6h0M340.9 432.8h0M375.4 401.5h0M412.2 378.5h0M370 400.3h0M381.2 380.4h0M418.8 377.7h0M351.3 430.9h0M345.4 378.7h0M404.4 424.1h0M424.4 369.5h0M420.9 405.7h0M368.8 332.8h0M366.7 351.7h0M404.8 374.3h0M384.2 391.3h0M377.2 407.3h0M350.3 363.2h0M410.2 400.9h0M378.2 422.7h0M392.6 367.4h0M364.5 441.8h0M398 341.8h0M379.6 373.2h0M427.5 389.5h0M400.1 363.4h0M339.1 408.5h0M365 438.7h0M370.8 362.3h0M422 319h0M412.6 370.4h0M426 375.9h0M403.4 363.1h0M393.7 401.9h0M386.6 377h0M412.2 366.7h0M379.6 407.8h0M405.5 369.1h0M388.4 397h0M411 364.8h0M374.1 359.1h0M392.9 361h0M394.2 411.9h0M384.7 379.9h0M380.5 393.9h0M417.5 369.3h0M395 408h0M370.8 398.3h0M377.6 401.9h0M408.7 415.5h0M409.9 383h0M423.1 373.5h0M399 388.9h0M382.9 383.8h0M373.7 361h0M388.8 385h0M405.2 405.1h0M422 363.9h0M400.8 387.5h0M378.5 408.4h0M418.6 397.1h0" style="fill:none;stroke:#ff0000;stroke-opacity:0.545;stroke-width:1.66;stroke-linecap:round"/><path d="M288.6 423.7h0M353.4 241.5h0M263.2 477.7h0M279.4 438.3h0M325.2 290.9h0" style="fill:none;stroke:#d4d4ff;stroke-opacity:0.615;stroke-width:1.66;stroke-linecap:round"/><path d="M327.3 240h0M197.3 463.5h0M163.6 429.4h0M301.1 420.5h0M220 461.4h0M207.6 219.7h0M177.6 456.1h0M280.4 433.2h0M317.5 275.6h0M160.4 448.9h0M210.1 491.7h0M241.8 475.5h0M199.7 493.1h0M226.4 463.7h0M160.1 457.6h0M284.7 413.7h0M298.9 405.8h0M308.9 352.1h0M298.6 232.4h0M323.6 319.2h0M167.2 469.8h0M265.3 418.5h0M318.6 250.5h0M214.5 473.3h0" style="fill:none;stroke:#aaaaff;stroke-opacity:0.615;stroke-width:1.66;stroke-linecap:round"/><path d="M321.8 284.2h0M311.7 345.5h0M242.7 449.9h0M266.1 215.2h0M171.9 389.6h0M187.2 268.8h0M185.9 414.6h0M335.3 311.6h0M225.9 458.7h0M169.1 430h0M202.8 218.5h0M270.3 228.1h0M287 249.8h0M296 252.9h0M286.8 224.7h0M214.1 455.8h0M272.8 228h0M206.8 219.5h0M201.7 235h0M209.9 441h0M261.9 226.7h0M182.1 451.2h0M248.8 437.6h0M206.9 438.9h0M181.1 440.2h0M156.4 405h0M299.1 231.7h0M184 428.5h0M259.5 213h0M168.4 420.7h0M280.7 403.7h0M184.1 436.1h0M184.1 444.1h0M182.3 436h0M250.4 430.4h0M196 424.4h0M207.3 454.6h0M316.3 279.7h0M278.7 416.4h0M233.2 443.2h0" style="fill:none;stroke:#8080ff;stroke-opacity:0.615;stroke-width:1.66;stroke-linecap:round"/><path d="M303.3 398.2h0M202.5 260.5h0M231.5 244.5h0M264.9 439.5h0M181.7 387h0M289.6 234.6h0M173.3 353.5h0M221.9 431h0M187.5 303.1h0M185 292.4h0M300.5 248.6h0M217.8 438.8h0M300.5 408.4h0M258.5 436.1h0M174.2 361.7h0M284.4 230.9h0M293.4 419h0M193.8 405.1h0M227.9 437.2h0M233.9 248.8h0M186.9 381.6h0M243.4 437.4h0M214.4 251.6h0M278.6 236.4h0M257.8 238h0M196 277.4h0M178 332.8h0M181.5 391.8h0M194.2 265.1h0M262.6 410.2h0M305.4 371.8h0M299.3 353h0M263.8 247.8h0M236.3 231.1h0M193.3 419.5h0M302.3 328.7h0M220.2 236.9h0M237.7 259.1h0M182.7 410h0M265 417.8h0M311.2 333.5h0M237.3 238.8h0M210.6 236.7h0M224.7 423.4h0M280.1 243.8h0M291.6 391.4h0M288.5 259h0M280.1 396.1h0M188.2 416h0M231.7 416.6h0M220.6 253.3h0M281.5 271.9h0M174 365.5h0M287 273.3h0M191.9 400h0M221.1 423.3h0M211.6 236.6h0M287.6 264.6h0M224 230.3h0M192.9 414.3h0M293.5 256h0M290.3 330.8h0M221.8 228.1h0M253.7 409h0M176.5 297.3h0M257.2 402h0M253.2 238.6h0M293.4 379.3h0M248.6 421.8h0M300.5 275.5h0M171.7 376.9h0M177.3 402.9h0M286.7 391.2h0M260.6 412.2h0M208.4 434.9h0M169.1 391h0M276.2 260.2h0M241.3 420.6h0M212.5 422.4h0M245 414.8h0M196.9 409.9h0M272.4 268.8h0M299.5 287.5h0M227.2 405.8h0M185.6 410.4h0M199 409.4h0M241.7 232.5h0M304.5 367.1h0M290.5 280h0M187.6 421.9h0M203.7 241.4h0M273.5 407.7h0M221.5 244.8h0M280.7 246.9h0M207.8 425.2h0M169 394.7h0M253 415.9h0M254.6 249.1h0M212.3 237.8h0M164.4 400.5h0M165.8 382.6h0M235.7 242.7h0M268.9 394.7h0M184.4 389.5h0M182.3 293.8h0M196.7 266.1h0M223.3 236.3h0M217.2 410.7h0" style="fill:none;stroke:#5555ff;stroke-opacity:0.615;stroke-width:1.66;stroke-linecap:round"/><path d="M183.8 370.8h0M208.9 272.6h0M187.4 359.7h0M231.4 421.9h0M183.6 344.6h0M258.6 429.8h0M272.8 422.1h0M212.2 278.9h0M212.4 270.8h0M223.6 417.1h0M193 318h0M243.4 248.9h0M186.5 373.3h0M285.5 245.4h0M245.8 428.2h0M291.3 248.1h0M202.7 282h0M198.5 396.3h0M234.1 433.2h0M222.2 430.2h0M273.9 238.9h0M225.5 432.6h0M214.8 408.2h0M205.4 288h0M216.1 267.1h0M208.4 284h0M300.9 255.7h0M194.7 296.9h0M309.9 251.6h0M294.7 261.4h0M230.9 432.4h0M184.2 339.8h0M194.8 291.5h0M219.8 265.9h0M196.2 301.7h0M188.2 361.5h0M217.6 267.1h0M283 385.7h0M237.6 272.7h0M249.7 262.8h0M208.8 403.9h0M251.8 399.8h0M296.2 299.3h0M193.2 299.9h0M233.6 417.9h0M297.8 329.4h0M276.3 369.6h0M209.4 388.5h0M255.1 255.2h0M199.2 291h0M192.7 379.4h0M287.3 274.6h0M209.2 410.7h0M280.3 275.7h0M219 262.7h0M188.7 312.3h0M202.9 406.8h0M279.3 259.1h0M257.8 285.9h0M186.3 289.8h0M180.5 332.2h0M226.6 270.1h0M198.1 405.4h0M186.8 304.6h0M239.4 251.7h0M229.8 406.7h0M181.4 357.6h0M185.3 304.7h0M176.6 308.3h0M207 290.7h0M225.4 265.6h0M204.7 375.5h0M186.9 321.8h0M229 266.7h0M174.5 370.2h0M207.5 377.1h0M185.3 394.4h0M263.5 389h0M258.7 249.3h0M223.2 273h0M193.2 291.1h0M258.9 249.2h0M223.4 272h0M201.6 278.4h0M205.8 289.7h0M183.5 386.9h0M216 407.6h0M201.1 405h0M284.7 274h0M307.7 316.1h0M188.1 345.8h0M278.6 367.8h0M175.5 334.9h0M186.2 329.2h0M285.4 274.2h0M258.3 285.7h0M285 289.5h0M254.8 406h0M197.1 299.3h0M276.7 276.8h0M188.8 289.4h0M169.3 358.9h0M267.5 277.3h0M296.4 320.5h0M206.8 399.9h0M236.4 403.2h0M237.8 268.1h0M179.4 371.2h0M198.2 385.9h0M200.4 404.3h0M228 405.8h0M210.3 400.6h0M194.4 304.1h0M256.5 276.5h0M208.6 392.6h0M191.2 283.1h0M184 367.3h0M195.5 306.1h0M215.1 401.6h0M238.8 410.6h0M186.4 370.9h0M221.6 274.2h0M194.2 303.1h0M221.6 409.5h0M274.2 279.3h0M293 346.2h0M182.1 372.9h0M297.6 300.9h0M234.8 276.9h0M173.1 373.8h0M260.7 270.4h0M220.7 271.7h0M175.7 358.2h0M273 267.9h0M196.8 299.9h0M244.5 253.5h0M187.3 322.5h0M204.9 374.1h0M215.6 418.7h0" style="fill:none;stroke:#2a2aff;stroke-opacity:0.615;stroke-width:1.66;stroke-linecap:round"/><path d="M229.4 370.9h0M274.2 328.7h0M295.2 318.4h0M296.8 342.2h0M271.8 324.2h0M278.8 376.9h0M261.7 260.4h0M220.5 297.7h0M282.7 356.6h0M232 367.5h0M236.4 313.9h0M198 321.8h0M274.7 315.6h0M262.3 388h0M284.9 270.8h0M321.3 346h0M229.9 320.1h0M223.3 310.3h0M259.8 367.5h0M247.5 343.9h0M226.9 336.3h0M291.8 364.2h0M272.9 326.9h0M282.7 346.1h0M272.3 328.2h0M250.4 290.1h0M288.6 352.9h0M244.8 409.2h0M287.5 390.7h0M282.8 361.6h0M234.9 371.3h0M237.2 347.7h0M222.5 318.4h0M267.1 361.6h0M260.6 337.2h0M272.2 422h0M302.1 381.5h0M255.7 298.5h0M273.6 311.6h0M286.1 383.4h0M251.6 306h0M278.6 314.3h0M280.4 330.8h0M305.3 346.7h0M270.8 257.8h0M265.6 386.3h0M258 341.3h0M287.3 307.3h0M291.7 329.7h0M215 347.4h0M241.1 401.8h0M318.8 322.2h0M255.5 335.3h0M264.2 291h0M308.8 306.5h0M234.4 310.3h0M259.3 349.8h0M262.1 334.8h0M278.1 346h0M239.8 286.1h0M197.5 312.7h0M303.8 336.8h0M200.8 352.9h0M281.4 302.8h0M255.9 328.8h0M316.1 313.1h0M271.2 372.6h0M286.2 301.4h0M279.4 293h0M242.2 359.8h0M281.5 317.1h0M276.6 377.6h0M266.5 389.8h0M256 333.9h0M278 373.2h0M309.3 329h0M241.7 333.3h0M292 330.7h0M276.1 320.1h0M289.3 347.8h0M219.3 320.9h0M224.7 346.1h0M261.2 362h0M231.2 386.9h0M257 352h0M263.3 327.1h0M268.6 316.7h0M284.2 383.1h0M250.7 386.1h0M227.3 309h0M296.1 296.5h0M231 387.8h0M242.1 390.7h0M263.8 289.4h0M238.5 379h0M206 378.7h0M270.9 319h0M278.5 421.5h0M219.8 367.6h0M290.7 321.5h0M282.8 350h0M261.6 270.4h0M248.1 304.1h0M248.6 335.1h0M256.8 354.3h0M285.7 330.5h0M234.1 321.1h0M265.6 362h0M258.6 332.4h0M196.7 373.1h0M258.5 338.4h0M268.9 387.9h0M297.6 315.3h0M218.9 381.9h0M262 344.2h0M235.9 289.7h0M265.9 336h0M295.3 349.4h0M261.6 370h0M261.8 316.9h0M286.2 329.4h0M240.5 335.2h0M300.4 312.9h0M287.4 338.3h0M271.4 340.3h0M241.3 304.3h0M278.3 316.3h0M312.6 343.4h0M282.4 327.1h0M212 347h0M265 330.5h0M255 364.9h0M267.8 329.8h0M294.5 352.9h0M245.2 287.3h0M285.5 379.4h0M216.2 290.8h0M244.8 351h0M239.8 349.7h0M282.7 292.8h0M263.2 332.7h0M275.1 394.2h0M243.5 370.4h0M304.7 312.5h0M276.7 351h0M274.1 377.5h0M310.7 287.8h0M299.8 330.7h0M283.2 343.1h0M307.2 313.9h0M279.4 371.2h0M264 313.6h0M280.8 298.3h0M303 296h0M282.5 352.9h0M284.2 349.4h0M275.8 307.1h0M283.6 392.9h0M261.5 308.6h0M277.4 305.6h0M309.1 369.8h0M259.1 332.5h0M219.7 396.2h0M233.7 278.4h0M233.6 402.6h0M250 351.2h0M299.4 356.2h0M312.5 316h0M244.4 331.2h0M221.6 299.7h0M262.4 325.9h0M303.6 289.9h0M277.1 293h0M251.5 330.3h0M296 357.7h0M255.1 341.2h0M273.2 347.3h0M287.3 395h0M310.9 350.3h0M294.9 317.3h0M274.9 410.3h0M281.5 358.8h0M262.2 388.1h0M263.1 370.2h0M287.7 334.9h0M268.3 327.4h0M234.8 340.2h0M269.2 334.4h0M239.1 320.4h0M249.2 283h0M229.5 398h0M302 332.9h0M223.8 369.1h0M283.1 343.9h0M277.5 365.9h0M281.1 298.8h0M297.8 331.3h0M300.7 360.7h0M290.5 294.8h0M247.6 397.2h0M265.1 392.2h0M297.3 335.5h0M279.1 334.7h0M271.9 290.9h0M234.5 374.6h0M310.3 273.6h0M287.7 380.1h0M302.6 336.9h0M277.8 270.1h0M269.9 349.7h0M259.1 301.5h0M284.7 346.2h0M272.2 353.8h0M265 303.2h0M238.4 308.7h0M273 384.8h0M309.9 338.9h0M275 351.9h0M255.3 361.5h0M217.4 397.7h0M246.4 385.2h0M239.1 387.4h0M282.6 340.4h0M273.5 287.4h0M256.2 283h0M245.1 373h0M314 311.5h0M239.6 335.7h0M233.9 343.6h0M284.1 295.9h0M289.3 373.8h0M288.4 378.4h0M260.4 325.5h0M278.2 320.8h0M230 387.8h0M255 334.1h0M301.5 362.7h0M242.4 342.9h0M239.9 301.3h0M275 336.3h0M204.9 381.3h0M213 382.7h0M265.3 298.7h0M232 339.1h0M269.7 368.5h0M319.9 330.7h0M242 334.4h0M250.2 301.4h0M274.8 318h0M264.4 367.7h0M291 337.8h0M289.4 312.6h0M252 347.4h0M293.7 306.6h0M255.3 322h0M254.6 328.1h0M253.6 363.6h0M248.4 312.3h0M230.2 389.1h0M281.4 271.9h0M305.3 320.7h0M255.5 318.3h0M290.7 341.3h0M257.5 250.9h0M273 381.2h0M303.4 342.9h0M308.4 302.5h0M224.4 334.2h0M269.3 271.7h0M265.8 294.8h0M274.2 335h0M274.5 257.1h0M268.8 333.1h0M280 367.3h0M256.5 362.9h0M289.1 347.5h0M261.3 318.8h0M250.2 414h0M312 332.5h0M281.2 309.7h0M249 325.1h0M246.1 269.2h0M295.1 348.7h0M245.2 342h0M291.9 268.5h0M272.9 364.1h0M270.5 376.5h0M244.6 390.6h0M263 281.1h0M271.4 319.6h0M264.8 330.8h0M300.9 327.3h0M273.2 369.6h0M248.4 354.5h0M306 337.3h0M249.2 418.3h0M269.6 406.4h0M281.8 354.9h0M261.2 314.3h0M286.3 314.4h0M292.7 309h0M264.2 274.7h0M299.2 333h0M292.5 325.8h0M236.9 345.7h0M286.7 316.9h0M219.2 366.6h0M191.8 344.3h0M258.9 339.2h0M284.5 341.5h0M213.2 362.3h0M256.1 344.5h0M220 314.3h0M244.7 403.7h0M226.5 408.2h0M287.5 304.2h0M287.7 258.8h0M307.9 340.5h0M259.7 307.4h0M301.6 331.4h0M276.8 302.3h0M239.4 325.2h0M278.6 320.7h0M252.9 310.3h0M208.7 383h0M261.1 375.9h0M223 333.3h0M274.1 410.4h0M248.8 265.5h0M283 319.6h0M252.9 378.2h0M250.9 378.4h0M303 280.5h0M280.7 337.9h0M253.4 378.5h0M278 339.3h0M298.9 397.3h0M288 333.7h0M243.2 373.3h0M301.1 347.9h0M300.1 349h0M259.5 304.8h0M271.9 341.6h0M287.2 318.4h0M253.9 344.4h0M231.4 327.7h0M217.1 280.8h0M272.4 349.1h0M279.5 381.7h0M269.9 338.4h0M231.6 388.3h0M302.3 388.9h0M261.7 346.8h0M240.6 341.6h0M200.5 373.2h0M282.5 314.4h0M238.2 359.7h0M259.1 400.2h0M299.4 310.9h0M277.1 365.3h0M257.1 381.8h0M290.9 382h0M275.7 365.6h0M269.9 352.2h0M308.9 347.7h0M266.4 324.3h0M232 362.9h0M273.2 370.5h0M295.4 345.1h0M278.6 329.1h0M258.5 350.5h0M205.7 295.7h0M313.1 332.8h0M240 365.1h0M315.1 294.6h0M260.3 354.5h0M255.7 379.9h0M290.9 316.7h0M282.1 294.2h0M279.4 351.4h0M285.8 373.9h0M271.2 351h0M293.3 258.4h0M264.4 350.6h0M281.7 336.7h0M286.6 386.9h0M293.2 359.6h0M288.8 415.2h0M256.4 358.9h0M278.7 351.6h0M269 364.8h0M245.7 314.3h0M282.2 278.8h0M308.1 379.7h0M252.1 344.5h0M275 341.5h0M274.6 302.4h0M298.2 352.9h0M270 335.9h0M277.9 343.4h0M317.3 314.4h0M266.5 336.4h0M238.3 352.6h0M247.9 337.5h0M265.4 402.3h0M255.4 299.6h0M226.8 365.4h0M251.8 306.8h0M233.8 400.3h0M296 323.1h0M251.6 296.2h0M260.4 314.6h0M257.3 321.5h0M227.9 344.1h0M285.2 275.5h0M280.7 340.6h0M240.2 371.6h0M224.5 381.4h0M288.5 351.1h0M276.2 343.4h0M294.7 303.5h0M276.4 354.1h0M291.4 325.1h0M280 319h0M249 374.5h0M276 362.4h0M279.8 359.7h0M289.5 382.4h0M298 346h0M275.4 291.8h0M241.6 297.8h0M244.3 379.5h0M245.9 415.2h0M221.9 400.8h0M226.8 272.1h0M277.8 378.2h0M295.7 376h0M258.3 390.3h0M253 385.4h0M296.7 357.8h0M280 360.2h0M234.8 343.6h0M211.4 354.2h0M217.8 337.1h0M285.4 317.6h0M269 339.6h0M271.1 404.5h0M267.2 312.5h0M233.8 334.5h0M276.7 306.2h0M219.3 382.4h0M270.5 312.2h0M286.8 334h0M271.4 344.1h0M284.2 337.5h0M257.5 284h0M306.3 301.4h0M287.5 385.7h0M222.3 390.6h0M222.7 411.6h0M282.5 369.8h0M269.3 334h0M280.9 306.2h0M289.1 339.8h0M278.5 306h0M251.4 377.2h0M244.4 339.7h0M316.8 342.6h0M270.8 337.8h0M202.7 376.6h0M224.7 347.2h0M235.3 320.7h0M279.3 344.6h0M264 293.9h0M253.4 309.7h0M220.8 293.9h0M275.4 375.6h0M251 347.2h0M224.1 344.7h0M255 341.9h0M262.9 424h0M283.7 310h0M264.9 328.1h0M203 349.3h0M266.2 336.1h0M285.5 403.2h0M256.1 382.2h0M311.5 311.4h0M253.3 303.1h0M273.4 264.9h0M257.6 319.7h0M257.8 295.4h0M275.2 356.8h0M301.4 334.9h0M287.5 319.5h0M266.6 362.6h0M250.3 381.6h0M277.8 384.1h0M221.5 371.9h0M200.3 359.4h0M247.1 265.3h0M259.9 360.1h0M235.2 403.8h0M254.8 264.7h0M279.6 340h0M269.6 294.6h0M280.7 347.2h0M266.5 380.8h0M258.3 287.7h0M253.6 334.5h0M268.4 358.5h0M297.1 340.5h0M285.6 316.7h0M236 346.7h0M261.9 357.7h0M269.8 289.9h0M269.9 299.7h0M247.4 280.5h0M258.7 356.5h0M281.1 363.1h0M280.6 356.7h0M240.5 325.2h0M304.9 327.4h0M285.1 364.1h0M215.5 336.9h0M284.1 358.2h0M229.4 335.1h0M273 334.5h0M272.2 419.3h0M298.7 313.2h0M252 339.9h0M215.4 391h0M223.9 381.2h0M314.3 277.3h0M308.4 303.5h0M254.6 361h0M264 334.5h0M240.3 375.7h0M229.5 381.8h0M243.4 354.2h0M246.3 361.7h0M242.3 400.6h0M258.1 352.8h0M207 354.8h0M222.6 306h0M272.3 346.9h0M258.6 360.1h0M289.5 311.5h0M250.1 359h0M307.5 326.1h0M243 379.9h0M263 374.4h0M256.5 340.6h0M200.2 313.8h0M265 340.4h0M213.4 384h0M287.3 272.6h0M293.6 365.5h0M263.4 404.5h0M298.3 320.8h0M253.1 366h0M230.7 408.6h0M297.9 308.1h0M246.3 353.6h0M197.7 370.9h0M217 389.4h0M291.5 313.2h0M247.1 339.7h0M299.9 357h0M257.6 323.7h0M242.1 270.5h0M240.3 391.1h0M287.7 334.9h0M317.5 335.5h0M275 376.6h0M259.6 324.3h0M260.9 310.2h0M244.3 339.1h0M282.6 338.1h0M309.5 291.4h0M292.6 359h0M243.5 339h0M312.4 373.1h0M230.4 345.9h0M293.8 314.9h0M304.9 316.4h0M285.3 418.9h0M264.2 384.2h0M269.5 398.1h0M301.1 311h0M308.8 349.9h0M260.7 356.3h0M266.9 337.6h0M231.1 395.8h0M223.6 364.9h0M286.7 355.8h0M259.7 302.5h0M308.9 326.4h0M230.3 333h0M293.4 337.2h0M254.5 381.4h0M251.9 405.5h0M308.6 332.2h0M308.5 356.1h0M262.5 333.3h0M269 351.7h0M286.6 325.2h0M296.8 319.1h0M241.7 395.3h0M284.1 331.1h0M291.7 308.2h0M280.5 298.1h0M254.4 393.1h0M223.9 393.6h0M272.7 336.4h0M284.6 366.3h0M228.7 357.6h0M279.7 369.3h0M251.6 359.2h0M270.8 383.1h0M289.2 315h0M272.9 276.7h0M292.7 308.9h0M282.1 323.8h0M245.2 352.8h0M295.4 354.7h0M260.6 298.7h0M272.6 298.3h0M237.9 351.9h0M305.3 328.3h0M276.2 368.1h0M258.9 333.3h0M254.9 377.6h0M243.1 401.9h0M300.4 316h0M289.7 342.9h0M280.7 308.6h0M260.1 341.2h0M254.5 369.3h0M276.2 310.9h0M260.4 329.7h0M260.4 354.8h0M294.3 395h0M235.2 394.6h0M260.6 357.9h0M263.8 301.8h0M280.6 303h0M228.7 410.2h0M268.7 315.4h0M287.2 333.9h0M292.2 340.2h0M293.6 325.7h0M269.3 351.3h0M285.9 315.8h0M245.5 301.1h0M267.2 421.2h0M237.7 321.1h0M255.6 343.7h0M309.7 352.1h0M300.9 362.7h0M269.6 334.5h0M301.7 340.5h0M251.2 292.6h0M276.9 314.9h0M292.2 338.8h0M208.3 337.4h0M237.5 325.5h0M258.9 317.7h0M299 335.1h0M271.9 337.9h0M291.3 360.9h0M206.1 343.8h0M286.8 375.4h0M227.1 325.8h0M249.9 326.4h0M252 423.2h0M227.1 316.2h0M261.5 301.2h0M284.9 299h0M211.4 394.9h0M286.4 343.3h0M321.9 324.6h0M265.7 265.9h0M235.2 342.9h0M218.9 330.4h0M213.3 338.4h0M246.9 342.2h0M292.5 366.6h0M270.9 317.5h0M251.6 308.8h0M228.4 331.1h0M283.6 329.1h0M272.8 421.9h0M251.7 341.4h0M290.6 359.8h0M260 270.1h0M202.7 385.9h0M296.2 323.6h0M305.8 320.2h0M257.8 340.3h0M301.3 391.6h0M289.7 379.4h0M242.9 371.5h0M223.9 375.1h0M259.7 344.8h0M286.2 281h0M290.2 320.5h0M300.8 314.7h0M286.3 329.6h0M267.9 394.4h0M274.6 423.8h0M226.2 382.1h0M272.9 328h0M292.8 366.9h0M252.6 281.5h0M235.9 329.6h0M251.8 291.6h0M255.7 386.5h0M296.7 297.4h0M263 320h0M271.4 340.5h0M257.3 379.5h0M216.3 381.2h0M288.1 330.4h0M264.4 278.3h0M267.1 393h0M261.4 411.1h0M303.1 384.7h0M240.4 346.6h0M303.4 328.2h0M235.2 304.8h0M209.3 372h0M277.3 352.9h0M276.5 328.3h0M272.6 299.4h0M301.1 309.9h0M281.3 325.5h0M269.4 309.8h0M238.2 394.9h0M251.9 370h0M245 393.4h0M256.5 328.3h0M248 326.8h0M258.3 359.6h0M308.2 291.5h0M294.3 252.3h0M206 291.8h0M220.2 272.3h0M260.7 354.7h0M253.7 301.3h0M225.4 347.5h0M258.2 322.4h0M276 331.7h0M215.3 336h0M288.1 309.1h0M273.5 331.7h0M249.1 267.3h0M285.5 379.8h0M292.5 332.2h0M269.7 293.9h0M266.8 287.5h0M263.7 402.3h0M269 382.7h0M246.5 336h0M215.7 323.8h0M294.8 286.3h0M225.3 317.9h0M279.6 345.2h0M200.3 388h0M247.3 282.4h0M298.2 267.3h0M267.1 407.6h0M284.7 355.2h0M241.7 369.7h0M230.6 305.1h0M282.4 385.3h0M287.4 349h0M254.7 275.2h0M266.4 349.6h0M262.8 348.1h0M248.7 313.8h0M277 394.5h0M235.8 378.6h0M264 319.6h0M220.8 361.9h0M277.3 324.9h0M314.3 339.3h0M312.6 339.6h0M281.4 287.2h0M278.7 299.2h0M253.8 369.5h0M256.6 359h0M271 324h0M260.8 323.8h0M277.9 401.4h0M286.9 345.6h0M261.2 360.6h0M277.9 360.5h0M303.7 354.1h0M277.6 287.7h0M296.6 334.4h0M254 271.6h0M271.8 329.6h0M234.5 334.9h0M292.3 374.8h0M284.5 298.3h0M286.4 342.9h0M266.3 329.1h0M254 271.8h0M211.4 390.9h0M262.5 290.2h0M266.5 302h0M286 281.2h0M274.2 323h0M259.6 406h0M260.1 355.1h0M266.8 299.7h0M243.4 317.6h0M238.5 343.2h0M295 316.7h0M244.9 348.3h0M246 343.9h0M221.4 339.5h0M232.6 409.3h0M198.1 327h0M278.2 369.3h0M258 334.7h0M246.2 316.9h0M300.7 337.6h0M238.3 371.5h0M294 344.2h0M248 331.9h0M203.4 293.5h0M284.8 352.5h0M231.8 354.5h0M298.9 322.9h0M243.5 355.3h0M207.7 302.4h0M248.2 346.2h0M200.7 330.4h0M237.1 342.6h0M240.6 319.4h0M209.6 356.9h0M233.9 373.7h0M200.7 323.8h0M270.1 268h0M281.1 323.5h0M294.4 373h0M318.9 337.2h0M232.5 335.6h0M281.1 269.9h0M241.9 393.2h0M301.5 341.4h0M257.3 343.6h0M285 389.9h0M257.7 305.9h0M242.3 299.7h0M270.4 308.5h0M279.1 367.8h0M262.6 308.6h0M231.8 408.2h0M232.1 306.7h0M248.2 389.6h0M291.3 364.6h0M257.2 296.9h0M279.3 343.6h0M279.4 310.8h0M259.6 302.1h0M250.6 296.4h0M263.2 288.6h0M276.2 347.3h0M286.6 338.9h0M255.3 322.1h0M302.9 292.9h0M230.7 321.5h0M291.3 312.3h0M290.9 312h0M244.1 361.5h0M236.2 413.9h0M285.3 352.3h0M278.5 356.3h0M213.2 407.2h0M223.7 326.3h0M243.1 335.2h0M282.5 330.3h0M216.9 349.4h0M245.1 381.4h0M252.8 292.9h0M202.1 304h0M219.3 363.1h0M251.7 300.4h0M284.6 294.8h0M254.7 289.7h0M259.8 365.2h0M270.7 358.3h0M282.8 364h0M298.8 357.1h0M286.8 315.9h0M282.8 330.3h0M261.3 348.5h0M317.8 290.7h0M235.4 312.7h0M243.5 381.8h0M217.9 329h0M284.9 291.8h0M301.8 263.3h0M284.3 336.8h0M237.6 309.1h0M279.4 349.8h0M258 423.9h0M297.3 369.9h0M241.7 421.8h0M238.7 393.3h0M262.6 317.9h0M299.9 344.9h0M287.7 319.6h0M261.9 376.6h0M292.5 355.2h0M300.4 311h0M272.8 322.3h0M255.1 358.9h0M301.9 348h0M283.9 355h0M272.1 348.8h0M297.3 348.3h0M306.7 312.6h0M265.7 309.4h0M285.8 269.5h0M291.2 393h0M292.4 324.4h0M316.7 307.6h0M287.7 314.2h0M276 330.2h0M234.3 332.1h0M281.1 368.2h0M240.9 316.9h0M305.8 337.6h0M239.5 344.3h0M215 365.3h0M288.7 335h0M262 330.3h0M251.4 347.4h0M278.5 361.8h0M310.2 305.1h0M254.1 389.5h0M297.5 330.1h0M243.5 367h0M311.8 271.7h0M269.4 378.5h0M265.6 329.5h0M284.4 381.2h0M222.5 353.2h0M296.5 291.7h0M242 344.2h0M298.9 284.7h0M260.9 319h0M273.1 385.2h0M259.9 301.6h0M293.5 381.4h0M246.4 317.8h0M273.5 310.8h0M312.4 297.9h0M259.3 359.2h0M305.5 349.3h0M268.6 317.9h0M202 338.5h0M279.1 299h0M283.3 375.1h0M297.1 368h0M242.3 360.5h0M292.9 307.8h0M303.5 360.7h0M280.7 342.3h0M200.8 301.2h0M227.4 327h0M278.7 353.1h0M246.3 353.7h0M243.2 408.1h0M274.8 318.2h0M264 369.4h0M273.6 306.9h0M237.6 342.1h0M243.1 369.3h0M259.5 392.8h0M277.5 290.9h0M273.1 272h0M250.3 406.3h0M315.5 318.1h0M246 341.9h0M278 311.6h0M263.2 306.7h0M284.5 309.2h0M305.9 321.6h0M302 267h0M229.1 383h0M273.1 346.5h0M316.6 341.8h0M253.3 304.8h0M233.7 351.9h0M259.9 347.3h0M275.5 397.7h0M294 302.5h0M316 329.4h0M257.8 300.4h0M255.2 324.1h0M223.6 267.9h0M272 344.4h0M262.1 286.8h0M239.7 264.6h0M272.3 314.9h0M255.3 350.8h0M268.7 355.2h0M231.8 395.2h0M242.9 340h0M242.2 394.2h0M268.5 313.8h0M244.6 311.5h0M269.2 349.6h0M253.9 301.8h0M231 368.7h0M274.4 408.6h0M305.6 304.5h0M280.3 339h0M284.9 375.8h0M299.2 364.3h0M292.1 338.1h0M268.7 291.4h0M284.9 348h0M291.9 350h0M263 358.2h0M211.4 368h0M248.4 370.5h0M265.2 345.6h0M281.4 368.1h0M270.8 356.1h0M279 392.2h0M274.4 334.4h0M268 359.7h0M270 287.8h0M296.6 324.2h0M268.3 263.1h0M230.5 328.5h0M259.3 297.9h0M305.3 316.9h0M280.6 266.2h0M234.8 315.7h0M270.7 334.2h0M264.5 383.4h0M236.4 331.9h0M284.1 337.5h0M314.3 329h0M272.2 303.9h0M238.9 316.2h0M250 403.8h0M242.6 395.3h0M278.3 380.4h0M238.6 319.9h0M293 352.9h0M237.6 378.3h0M235.7 426.2h0M269.7 337.1h0M289.5 347.2h0M263.3 343.2h0M251.2 354h0M283.9 341.1h0M268.4 335.6h0M246.6 341.1h0M281.2 364.3h0M248.7 381.1h0M311.2 299.3h0M267.3 351.3h0M226.3 381.5h0M274.8 319.2h0M219.1 386.7h0M259.7 399.4h0M251.1 344.5h0M270.8 361.7h0M255.2 281.1h0M245.7 368.1h0M274.3 300.3h0M274.3 405.9h0M268.4 357.4h0M279.1 276.6h0M284.8 361.9h0M270.6 392.9h0M263.6 368h0M214.9 357.2h0M294.6 285.1h0M202.6 347.2h0M259.3 352.6h0M278.4 370.9h0M286.9 381.7h0M240 399.5h0M268.8 323.5h0M249.2 355.1h0M257.7 345.2h0M297.1 356.5h0M249.8 361.9h0M257.9 343.5h0M258.4 346.2h0M264.7 401.3h0M240.4 303.7h0M243.8 426.8h0M256.7 316.3h0M258.7 353.8h0M249.8 344.5h0M264.8 287.2h0M230 349.6h0M300.7 360.9h0M284.4 356.3h0M273.2 318.2h0M281.9 354.3h0M276.8 347.6h0M243.2 399.6h0M292.2 326.5h0M281 324.4h0M231.7 306.8h0M206.4 341.7h0M250.5 328.1h0M247.5 309.1h0M320.3 291.7h0M254.4 293.7h0M285.5 311.7h0M281.7 274h0M296 376.9h0M246.9 306.3h0M286 291.6h0M256.6 308.7h0M262.2 344.6h0M257.4 297.5h0M289.6 354.3h0M270.4 356.7h0M221 396.5h0M270.4 386.9h0M288.2 396.2h0M231.5 405.5h0M293.7 322.7h0M215.2 359.4h0M243.6 366.3h0M263.8 266.6h0M298.2 311.9h0M257.5 360.2h0M288.3 361.9h0M275 312.8h0M272.7 313.7h0M221 421.8h0M268.2 382.9h0M271.8 402.9h0M232.7 308h0M243.4 324.9h0M231.6 372.1h0M233.9 346.3h0M288.9 299.3h0M246.9 322.2h0M245 386.9h0M237.3 322.6h0M244.5 289.2h0M291 283.5h0M324.2 333.9h0M235.1 382.5h0M226 318.1h0M262.7 384h0M281.2 282.3h0M199 335h0M247.7 302.2h0M250.8 379.3h0M282 361.2h0M248.3 367h0M221 390h0M245 363.1h0M284.9 347.9h0M183.9 355.6h0M246.8 341h0M185.4 349.8h0M223.6 378.3h0M280.9 353.5h0M259.3 361.4h0M271.3 363.9h0M211.7 325.8h0M270.5 353.1h0M230.6 394.4h0M279.3 329.4h0M202.1 377h0M266.3 337.3h0M295.5 327.6h0M248.3 367.5h0M229.9 292.9h0M233.3 293.6h0M256.9 321.7h0M243.1 365.1h0M189.4 317.8h0M278.3 371.6h0M282.3 328.3h0M262 396.9h0M255.8 325.4h0M209.5 341.1h0M207.3 380h0M207.4 351.9h0M266 318.2h0M276.7 350.9h0M276.4 285h0M219.6 392h0M261.9 367.7h0M263.3 361.9h0M225.3 353.7h0M243.2 347h0M272.3 372.2h0M252.8 268.9h0M217.1 393.9h0M246.7 329.6h0M271.3 292.9h0M275.7 334.3h0M268.9 297.9h0M224.8 348h0M250.9 391.3h0M192.3 355.3h0M266.4 359.6h0M251.8 359.1h0M269.5 381.8h0M240.1 346.8h0M249.4 356.9h0M276.9 336.2h0M227.9 338.7h0M200 361h0M263.7 324.7h0M282.5 337.7h0M236.1 277.1h0M194.2 330h0M284.7 285.3h0M243.6 363h0M235.2 394.3h0M236.1 388.7h0M216.2 366.7h0M253.9 350.6h0M244.7 345.1h0M270.9 314.6h0M277 311.7h0M232.2 313.5h0M270.2 375.8h0M284 356h0M260.1 379.3h0M238.1 337.2h0M301.6 332.5h0M212.7 282.5h0M240.2 338.4h0M257.4 373.2h0M266.2 344h0M258.9 328h0M249.9 313.9h0M251.5 296.2h0M261.1 382.6h0M195.3 360.5h0M276.8 365h0M236.8 286.2h0M259.3 329.5h0M222.6 347.5h0M238.2 387h0M210.7 309.2h0M266 358.5h0M276.7 356.6h0M253.5 388.5h0M253.9 334.5h0M264.5 337.1h0M211.7 306.2h0M267.9 314.9h0M216.9 344.4h0M297.8 336.2h0M232 313.7h0M214.5 317.1h0M262.7 357.9h0M236.9 355.1h0M240.8 353h0M206 311.1h0M249.4 291.3h0M214.7 345.9h0M287.9 347.2h0M257.5 358h0M241.4 339.9h0M205.7 301.7h0M212 370.7h0M196.2 350.9h0M223.9 313.8h0M254.3 301.8h0M261.8 286.2h0M219 360.2h0M237.9 323h0M258.7 322.9h0M237.9 336.9h0M257.1 364.3h0M242.6 297.4h0M240.2 341.5h0M264.2 325.7h0M240.5 285.4h0M246.9 338.6h0M263.1 315.6h0M249.6 313.9h0M234.2 318.6h0M267.3 355.6h0M266.7 334.3h0M248.2 334.2h0M250.2 326.1h0M219.8 334.8h0M246.6 318.3h0M260.6 345.4h0M248.2 337.8h0M216.4 379.4h0M255.9 385.5h0M215.4 322.4h0M241.7 302.5h0M224.7 357h0M210.1 311.3h0M275.2 371.7h0M244.9 395.6h0M238.2 284.1h0M236.2 355.1h0M207.8 349.2h0M298.2 369.9h0M243.7 369.2h0M225.3 278.9h0M272.5 326h0M299.5 354.5h0M192.3 333.3h0M254.4 337.6h0M279.1 334.2h0M252 294.9h0M294.6 361.5h0M193.5 346.2h0M218.6 335.5h0M246.3 293.9h0M202.2 323.1h0M269.8 340.7h0M184 332.1h0M215.3 377.4h0M270 299.2h0M252.7 290.9h0M239.8 314.4h0M246.1 301.2h0M278.7 352.4h0M253.7 287.2h0M279.9 300.6h0M254.5 314.6h0M243 308.8h0M250 324.3h0M192.1 347.4h0M260.2 358.1h0M250.3 312.1h0M268.1 296.1h0M274 371.4h0M245.8 356.6h0M204.6 309.6h0M250.2 357h0M272.9 308.3h0M268.4 356.9h0M270.3 363.6h0M276.2 378.9h0M244.7 295.1h0M275.1 337.3h0M282.8 334.6h0M236.2 372.1h0M249.6 334.9h0M284.5 377.2h0M230.5 314.2h0M271.3 295h0M262.4 364.3h0M194.9 363.3h0M239.8 365.6h0M254.6 340.2h0M263.4 362.6h0M276.7 330h0M273.3 322.7h0M188 351.2h0M239.2 387.8h0M230.9 388.2h0M258.7 380.1h0M246 362.3h0M230 342.4h0M233 275.4h0M277.2 345.5h0M250.2 339.7h0M191.7 321.6h0M211.6 347h0M242.8 404.9h0M250.8 311.2h0M300.4 305.6h0M249.1 325.5h0M269.6 365.8h0M243.8 291.6h0M193.4 314h0M224.2 307.7h0M257.2 358.9h0M230.7 314.2h0M254.1 340.7h0M263.8 328.2h0M256.2 307h0M253.9 327.7h0M234.3 292.3h0M278.9 378.6h0M243.9 317.1h0M187 337.9h0M252.9 340.3h0M232.7 331.4h0M252.2 333.6h0M258 357.7h0M279 318.4h0M229.6 352.7h0M238.5 365.8h0M261.2 341.6h0M251 326.4h0M226.8 365.1h0M224.7 322.9h0M251.3 285.1h0M200.9 321.9h0" style="fill:none;stroke:#0000ff;stroke-opacity:0.615;stroke-width:1.66;stroke-linecap:round"/><path d="M493.3 296.2h0M327 320h0M451.1 214.1h0M449.3 216.9h0M325.6 333.1h0M311.1 496.9h0M313.8 447.6h0" style="fill:none;stroke:#ffd4d4;stroke-opacity:0.615;stroke-width:1.66;stroke-linecap:round"/><path d="M427.2 247.4h0M404.6 507.8h0M394 247h0M353.9 517.2h0M377.3 509.7h0M302.1 433h0M308.9 452.4h0M421.5 512h0M356 513.9h0M382.1 506.5h0M434.1 254.8h0M375.7 258.2h0M325.4 512.7h0M368.7 249.9h0M312.7 466.7h0M442.1 242.8h0M420.9 252.4h0M336.7 477.9h0M328.6 490.8h0M315 423.3h0M435.9 238.6h0M476.2 266.5h0M477.3 221.8h0M409.8 251h0M374.7 274.2h0M463.7 227.1h0M321.4 433h0M393.5 259.4h0M317 421.8h0M324 483.1h0M323.7 447h0" style="fill:none;stroke:#ffaaaa;stroke-opacity:0.615;stroke-width:1.66;stroke-linecap:round"/><path d="M330.4 314h0M424.2 268h0M439.5 285.1h0M465.8 332.5h0M312.4 458.5h0M434.4 264.1h0M408.1 481.3h0M474.2 346.7h0M429.4 276h0M336.4 490.1h0M346.7 482.9h0M381.5 492.1h0M444.9 276h0M375.9 272.4h0M317 478.6h0M383.6 266.9h0M366.3 486.6h0M353 497.5h0M388.8 257h0M472.5 342.8h0M462 343.9h0M313.8 469.1h0M465.7 326.8h0M449.4 303h0M468.9 344.2h0M391.3 258.2h0M395.6 486.7h0M334.1 474.7h0M391.4 502.8h0M477.9 302.6h0M412.7 489.5h0M415.4 482.2h0M397.3 502.1h0M325.7 444h0M394.3 265.8h0M381.4 271.9h0M462.8 276.5h0M408.7 489.5h0M390.5 491.3h0M381.5 498.9h0M384.8 284.7h0M412.4 500.9h0M386.2 489.9h0M361.9 301.3h0M316.8 445.9h0M476.7 290.5h0M460.3 278h0M428.7 483.4h0M336.2 479.4h0M468.4 282.7h0M406.9 276.1h0M434.7 274.1h0M351.5 464.1h0M346 460.9h0M361.9 315h0M351.5 299.4h0M428.7 259.1h0M433.9 486h0M369.4 311.5h0M335 467.1h0M447.1 252.6h0M354.1 304h0M444.5 268.5h0M338.3 318.1h0M358.5 478.3h0M427.9 480.7h0M400.1 258.3h0M398.7 516h0M473.2 288.2h0M388.4 493h0M417.1 486.3h0" style="fill:none;stroke:#ff8080;stroke-opacity:0.615;stroke-width:1.66;stroke-linecap:round"/><path d="M458.6 357.2h0M329.1 448.3h0M435.9 453.7h0M371.6 271.4h0M432.2 442.7h0M315.3 460.3h0M453.3 420.7h0M413.1 277.9h0M446.2 312.2h0M455.7 396.4h0M357.2 480.5h0M343.6 475.6h0M445.7 425.8h0M450.6 411.8h0M455.9 409.3h0M341.8 476.1h0M322.7 460.6h0M394 481.6h0M387.1 286.6h0M397.3 473.7h0M457 366.5h0M451.4 325.4h0M436.9 441.3h0M445.7 425h0M447.7 311.2h0M433.2 300.6h0M452.5 333.5h0M329.6 474.4h0M337.3 475.1h0M390.5 481.1h0M457.1 335.9h0M436.6 441.1h0M352.6 484.1h0M406.7 298.8h0M453.1 292.2h0M455.3 294h0M400.1 297.3h0M330 441.7h0M412.3 288.3h0M470.3 355.6h0M374.3 469.8h0M418.1 302.5h0M339.2 403.9h0M327.8 360.4h0M435.3 296.7h0M447 291.1h0M416 469.2h0M445.3 296h0M374.3 472.9h0M388.5 302.4h0M362.8 455.2h0M429.6 298.2h0M451.3 311.9h0M370.9 331.3h0M452.5 306.4h0M472 334.1h0M399.2 287.3h0M361.8 309.1h0M383.8 298.7h0M458.8 306.1h0M429.5 461h0M412.8 464.7h0M371.8 300.4h0M361 472.1h0M437.3 302.7h0M455.1 289.3h0M364.6 476.9h0M414.6 461.1h0M430.7 285.8h0M363.1 462.4h0M359.3 467.9h0M423.7 472.4h0M419.9 477.9h0M332.7 421.4h0M464.5 309.8h0M456 302.5h0M407.2 468.5h0M391.9 478.4h0M365.2 332.6h0M356.9 459.9h0M403.4 473h0M464.5 317.3h0M380.7 471.6h0M440.1 306.4h0M388.3 291.6h0M448.2 327.8h0M470.4 293.4h0M365.1 466h0M411 488.6h0M342.1 439.8h0M373.1 457.9h0M396.9 485.4h0M417.6 459.3h0M405.2 481.3h0M473.6 342.4h0M402.2 479h0M378.1 459.1h0M356.2 466.1h0M391.4 475.5h0M384.4 305.8h0M415.1 284.1h0M454.9 293.1h0" style="fill:none;stroke:#ff5555;stroke-opacity:0.615;stroke-width:1.66;stroke-linecap:round"/><path d="M442.2 411.2h0M445.4 415.6h0M411 295.1h0M388.6 471.4h0M452.2 393.3h0M378.3 470.6h0M371.8 283.5h0M330.5 322.1h0M443.5 367h0M361.1 464.1h0M446.1 391.4h0M431 441.3h0M443.5 402.1h0M368.2 470.7h0M443.7 309.8h0M379.6 289.5h0M449.7 408.6h0M393.2 291.4h0M370.5 278.5h0M447.5 397.3h0M355.8 469.4h0M314.3 433.9h0M445.7 417.1h0M308.5 419.5h0M454.2 387.6h0M446.1 326h0M329.2 456.3h0M393.6 448.4h0M441.3 425.9h0M429.4 416.8h0M420.2 304.3h0M471.4 352.2h0M376.8 444.9h0M347.4 424.5h0M392.4 439.4h0M452.4 319.4h0M461.9 370.9h0M353.5 453.6h0M431.1 429.4h0M455.3 393.6h0M455.6 411.1h0M468 355.4h0M356.6 344h0M405.1 456.2h0M415.7 311.3h0M400.8 456.5h0M406.5 448.2h0M448.9 383.6h0M463.1 343.8h0M456.1 402.2h0M363.7 346.7h0M401.1 305.9h0M412 456.3h0M449.8 408.8h0M442.6 428.5h0M443.2 411.7h0M351.8 430h0M389.4 451.6h0M449.5 333.5h0M388.2 430h0M375.7 329h0M368.6 447.9h0M449.4 311.8h0M440.3 433.4h0M460.6 339.7h0M454 357.4h0M413.7 446.3h0M359.4 442.4h0M453.8 364.4h0M377.2 444.3h0M415.1 310.4h0M422.8 319.4h0M366.6 422.4h0M463 372.5h0M422 449.6h0M406.4 296.5h0M417.3 318.5h0M394.2 307.2h0M454.9 370.7h0M355.1 352.1h0M454.5 338.3h0M441.8 313.7h0M374.5 440.1h0M456.6 350.6h0M366.8 313.6h0M456.3 401.4h0M440.6 413.5h0M345.7 436.1h0M392 301.3h0M440.1 431.8h0M385.4 465.4h0M460.5 347.6h0M352.2 335h0M404.4 430.9h0M370.4 315.3h0M390.1 460.7h0M368.8 310.5h0M403.6 311.1h0M380.2 450.8h0M444 424h0M443 321.4h0M360.2 455.1h0M420.4 296.8h0M371.5 444.5h0M434.5 327.4h0M347.5 422.5h0M433.4 441.2h0M366.2 453.3h0M418.8 312.8h0" style="fill:none;stroke:#ff2a2a;stroke-opacity:0.615;stroke-width:1.66;stroke-linecap:round"/><path d="M408.1 354.3h0M373.7 415.5h0M366.3 351.8h0M371.2 358.2h0M361.2 336.4h0M401.6 370.3h0M358.3 326.1h0M375.5 294.3h0M373 416.2h0M376.9 371.3h0M344.6 357.1h0M365.3 393.9h0M345.2 380.1h0M376.7 294.5h0M375.5 376.1h0M337.9 370.6h0M417.2 343.1h0M347.8 434.2h0M374.8 437.3h0M390.9 389.3h0M357.3 360.1h0M395 428.9h0M406.6 341.5h0M337.3 412.3h0M346.8 379.7h0M387.8 311.8h0M384 410h0M358.8 406.8h0M406 401.7h0M348.6 405h0M382 280.7h0M385.3 429.7h0M375.7 382.3h0M373.1 359h0M372.6 344h0M416.7 365.3h0M390 372.2h0M350.1 375h0M360.8 366.5h0M392.4 410.1h0M338.5 386.5h0M384.9 333.8h0M398.7 413.3h0M340.7 451.2h0M346.9 314.8h0M347.1 366.4h0M379.2 374.3h0M364.8 405h0M398.3 377.4h0M366.4 374.6h0M344.1 441.1h0M391.2 406h0M395 458.1h0M407.5 349.5h0M384.7 373.1h0M403 424.1h0M402.8 375.6h0M405 338.8h0M330.1 435.4h0M354.7 298.9h0M401.6 363.5h0M349.9 328.6h0M405.2 362.2h0M365.5 427.8h0M403.2 408.4h0M365.1 416.6h0M369.4 344.4h0M396.7 372.4h0M375.5 347.4h0M417.2 395.3h0M365.3 418.3h0M401.4 354.2h0M379.5 379.3h0M382.7 428.9h0M390.2 345h0M396.1 375.4h0M333.8 400.1h0M441.5 376.4h0M390.4 313.9h0M387.3 382.6h0M385.4 311.3h0M362.7 412.1h0M374.2 350.8h0M360 308.3h0M320.8 399.4h0M442.9 346.1h0M365 370.8h0M320 427.3h0M401.4 398.6h0M350.5 391.4h0M416.2 311.3h0M363 364.1h0M364.8 382.6h0M368.7 429.5h0M366.3 344.8h0M351.1 322.1h0M371.5 383.6h0M338.1 356.5h0M354.1 388.1h0M349.3 349.7h0M392.7 398.9h0M376.8 457.2h0M333.3 412.2h0M332.7 420h0M364.7 428.4h0M409.8 310.8h0M399 440.9h0M382.8 383.6h0M374.6 305.6h0M417 366.7h0M345.6 378.9h0M347.3 357.3h0M356.6 387.8h0M415.2 442.2h0M354.9 406.3h0M385.3 398.9h0M379.9 382.5h0M347.3 377.1h0M396 301.3h0M389.2 401.7h0M346.3 386.4h0M340.1 355.4h0M364.5 391.1h0M344.9 409.8h0M338.8 391.8h0M346.5 395.1h0M357 379h0M371.3 344.9h0M401.8 346.2h0M341.1 432.7h0M378.5 419.6h0M346.1 404.6h0M367.5 360.9h0M340 378.3h0M343.9 363.2h0M366.7 330.8h0M352 441.4h0M357.7 411.3h0M347.3 413.7h0M355.7 364.1h0M407.8 304.9h0M345.4 360.1h0M393.8 429.4h0M339.4 394.8h0M364.7 351.2h0M353.9 344.8h0M359.7 325h0M316 398.8h0M323.4 394.5h0M323.3 359.3h0M416.7 357.3h0M399.6 295.2h0M410.8 320.1h0M361.3 366.2h0M353 383.4h0M379.7 368.9h0M360 381.5h0M429.2 352.4h0M391.9 380.9h0M349.6 310.6h0M335.3 441.8h0M363.9 383.2h0M341.6 328.6h0M411.6 316.7h0M369 408h0M420 336h0M357.2 439.1h0M367.7 330.7h0M406.6 382.6h0M411.2 351.6h0M379.6 411.9h0M355.6 377.4h0M362.8 380.1h0M432.1 335.4h0M409.5 338h0M361.2 346.3h0M363 375.8h0M355.1 345.4h0M373.6 439.8h0M385.8 430.3h0M403.7 366.5h0M353.6 370.3h0M352.1 376.4h0M340.1 353.6h0M360.4 378.4h0M367.4 367.4h0M342.8 403.6h0M395.6 400.6h0M341 428h0M338.9 422.1h0M388.5 445.9h0M390.4 319h0M414.6 363h0M330 393.6h0M354.7 367.6h0M401 331.9h0M371.7 421.1h0M367.3 423.2h0M346.2 359.8h0M415.8 356.7h0M386.3 389.3h0M383.2 398.9h0M369.5 360h0M383.5 464.8h0M356.9 446.5h0M416.3 363.4h0M388.6 373.8h0M381.1 443.9h0M392.4 394.1h0M363.4 378.7h0M373.4 343.9h0M364 394.7h0M335.1 379.8h0M355.5 401.9h0M439.5 382.9h0M322.3 416.6h0M395.6 329.1h0M358.2 398.6h0M394.3 333.7h0M381.7 400.5h0M338.5 342.8h0M425.6 400h0M368.6 371.5h0M383.6 397.3h0M402.3 382.3h0M351 331.6h0M432.8 331.8h0M359.2 391.3h0M368.6 346.2h0M335.8 386.7h0M334.7 416.2h0M392.8 363.8h0M330.5 331.5h0M366.2 394.3h0M406 314.2h0M396 312.4h0M374.8 311.6h0M373 363.4h0M365 396.1h0M337.4 342.7h0M339.2 387.4h0M352.6 409.2h0M381.1 350h0M402.5 383.5h0M359.6 369h0M340.2 441.4h0M359 364.4h0M344.4 358.7h0M360 344.1h0M364.2 408.9h0M390.6 439.1h0M381.8 350h0M340.8 373.7h0M346.6 395.4h0M357.7 369.8h0M404.9 356.2h0M379.3 371.8h0M354.8 360.2h0M399.3 326.4h0M395.1 391.7h0M385 354.6h0M360.7 430.3h0M332 357.9h0M419 348.6h0M416.5 330.4h0M341.5 394.6h0M387 342.3h0M329.7 392.2h0M330.6 412.6h0M373.3 367.5h0M370.6 374.1h0M382.8 464.1h0M428.7 386h0M360.7 350.5h0M364 384.5h0M380.4 358.9h0M367.6 340.5h0M377.4 396.8h0M415.8 337.8h0M377 363.5h0M370.6 357.3h0M354.9 439.1h0M374.4 447.6h0M360.9 340.6h0M372.8 316.1h0M337.7 440.5h0M365.8 390.3h0M408.2 359.5h0M436.1 419.9h0M439.4 374.1h0M399.3 457.5h0M379.8 375.4h0M410.3 309.9h0M389.5 335.7h0M385.4 377.1h0M402.2 386.8h0M419.1 356.7h0M400.4 425.5h0M366 385.9h0M377 324.9h0M376.7 421.7h0M373.5 426.6h0M399.5 424.3h0M361.7 368.2h0M390.7 317.2h0M372.9 378.4h0M353.5 369.6h0M394.8 338.7h0M391.7 365h0M388.8 349.7h0M419.2 359.7h0M370.7 320.3h0M394.8 347h0M385.9 411.9h0M343.9 371.4h0M401.1 360.8h0M349.1 383.2h0M392.9 375.4h0M390.2 349.4h0M360.7 354.8h0M380.5 402.7h0M400.2 309.3h0M399.4 408.8h0M356.5 459.9h0M361 345.1h0M355.9 378h0M356.8 334.3h0M349.6 373.8h0M420.3 327.2h0M356.6 397.4h0M343.5 387.3h0M411.7 305.5h0M364.5 386.5h0M374.7 420.3h0M395.8 363.3h0M345.9 343.5h0M365.8 388.6h0M322.3 363.7h0M387.7 340.8h0M392.4 360.3h0M368.1 332h0M393.7 426.9h0M359.6 346.7h0M351.2 386.7h0M338.4 372.8h0M415.1 417h0M337.2 367.7h0M357.5 344.2h0M372.1 393.4h0M391.8 390.1h0M343.5 381h0M371.9 421.7h0M380.6 401h0M359.9 339.2h0M425.4 376.1h0M380.6 390.8h0M359.2 353.7h0M345 348.4h0M392.1 441.7h0M383 359.4h0M379.9 411.4h0M374.2 352.2h0M336.1 385.4h0M395.8 302.1h0M360.4 412.3h0M407.3 329.9h0M321.1 388.2h0M434.9 345.8h0M343.4 414.6h0M385.9 340.5h0M423.7 381.8h0M357.7 413.5h0M373.3 361.2h0M417.1 416.8h0M409.9 296.8h0M418.5 327.5h0M342.5 372.3h0M342.3 411.7h0M359.8 303.6h0M398.6 408.9h0M345 352.1h0M380.8 384.4h0M319.2 353.4h0M360.9 375.2h0M365.5 387.7h0M376.2 399.7h0M376 362.5h0M373.7 372.1h0M369.4 396.1h0M398 390.8h0M326.8 381.2h0M410 398.1h0M319.2 430.1h0M385.6 296.6h0M374.6 345.7h0M343.7 407.5h0M377.3 348.2h0M371.2 420h0M361.4 350.3h0M441.4 331.3h0M397.8 384.7h0M363.5 327.7h0M370.7 357.3h0M328.2 361h0M409.4 411.3h0M321.4 389.3h0M392 376.6h0M390.5 378.5h0M364 391.3h0M373.6 354h0M334.6 374.9h0M358.6 399.8h0M351.6 418.8h0M336.9 330.9h0M386.5 431.9h0M343.6 381.1h0M363.1 449.4h0M396.3 408.2h0M341.9 410.7h0M347.1 356.7h0M404 367.2h0M412.3 381.6h0M355.8 374.8h0M370.8 350.9h0M368.1 361.1h0M370.5 355.6h0M378 375.3h0M369.3 353.2h0M365.9 378.7h0M363 409.9h0M350 355.4h0M364.2 307.3h0M374.1 300.5h0M338.7 386h0M397.9 335.5h0M419.5 400.4h0M331.6 377.6h0M367.2 365.4h0M384.2 321.7h0M378.8 352.6h0M392.3 394.3h0M412.2 370.1h0M407 442.8h0M344.6 388.3h0M339.8 378.2h0M357.5 337.3h0M366.8 353.5h0M410.2 391.4h0M354.2 366.5h0M398 310.9h0M382.3 360.5h0M391.8 354h0M384.5 430.3h0M342.2 397.4h0M376.6 386.1h0M387.6 396.5h0M388.4 395.2h0M374 421.5h0M382.7 373.1h0M319 391.8h0M370.8 392h0M394.2 378.6h0M372.5 445.7h0M354.9 385.2h0M402.4 380.9h0M381.7 388.3h0M372 355.2h0M410.4 356.9h0M379.1 388.5h0M341.7 392.4h0M398 370.7h0M375 402.3h0M355.4 330.7h0M328.2 374.9h0M380.4 389.7h0M423.3 392.2h0M372.3 366.3h0M439.5 359.4h0M385.7 326.3h0M378 345.4h0M361 361.9h0M360.7 428.7h0M406.3 336.5h0M340.1 349.8h0M429.5 390.7h0M430.8 372.1h0M360.7 386.5h0M413.8 366h0M352 401.3h0M365.2 346.2h0M405 395.6h0M352.1 367.4h0M361.8 310.8h0M355.3 424.5h0M375.3 414.7h0M354.5 448.9h0M382.1 402.1h0M354.7 353.6h0M438.6 348.9h0M414.5 369.3h0M392.8 427.2h0M361.8 369.1h0M337.6 380.6h0M369.1 436.2h0M376.1 454.1h0M371.1 359h0M331.9 410.5h0M393.6 444.6h0M411.9 337.7h0M372.1 352.4h0M350 397.9h0M377.7 386.5h0M419.5 403.4h0M437.1 315.3h0M373.7 442.8h0M363.9 351.9h0M403.2 386.3h0M393.7 447.7h0M367.7 378h0M401.4 387.7h0M423.8 426.6h0M390.8 326.7h0M382.7 383h0M379.3 339.9h0M369.3 345.1h0M337.2 431.7h0M389.2 398.1h0M375.5 405h0M382.3 431.8h0M369 382h0M367.4 336.3h0M364.4 381.6h0M375 394.2h0M425.4 342.6h0M420.9 349.7h0M380.8 441.7h0M380.2 358.4h0M368.8 439.9h0M363.6 391.5h0M343.4 364.1h0M345.7 396.4h0M380.4 327.8h0M366.4 337.8h0M352.9 363.3h0M379.7 451.8h0M381.7 389.6h0M394.1 391.4h0M407.2 405.7h0M367 390.6h0M338.8 392.1h0M362.1 344h0M404 387.1h0M348.8 402.4h0M337.7 381.3h0M360.1 363.8h0M364.3 383.1h0M363.1 410.3h0M368.1 334.5h0M357.7 387.5h0M382.3 361.5h0M380 416.2h0M394.1 324.3h0M359.3 370.2h0M388.5 286.2h0M400.6 349.1h0M374.7 399.7h0M358.1 413.4h0M379.1 290.1h0M402.2 339.8h0M376.2 406.7h0M389.4 437.8h0M344.8 397.1h0M360.8 366.3h0M376.5 412.9h0M401.3 380.1h0M357.6 380.3h0M399.7 323.5h0M374.3 376.2h0M400.9 371.2h0M393.2 360.5h0M331.8 397.8h0M389 366.9h0M394.4 380.9h0M396.8 408.2h0M429 418.5h0M374.4 351h0M369.2 343h0M408.4 311.9h0M368.4 371.6h0M389 339.4h0M338.7 371.6h0M405.7 345.7h0M342.8 402.2h0M382.6 371.8h0M390.2 333.2h0M373.3 312.7h0M375.4 417h0M389.6 307.9h0M387.9 377.6h0M360.2 412.8h0M371.3 448.7h0M431.6 380.4h0M398.2 322.7h0M357.7 386.2h0M401.6 320.4h0M390.4 334.8h0M346.3 386.8h0M335.7 348.4h0M381.9 369.7h0M358.2 428.3h0M402.5 439.8h0M397.2 330.8h0M400.7 402.6h0M355.7 377.2h0M328.5 367h0M352.5 362h0M381.4 373.5h0M385.1 360.3h0M439.5 334.9h0M425.5 378.6h0M377.3 366.6h0M381.5 360.3h0M357.1 363.8h0M375 367.8h0M377.6 382.6h0M341.7 447.9h0M374.4 311.9h0M355.3 432.1h0M404.6 360.8h0M391.9 372.6h0M347.1 356h0M362.8 340.1h0M398.6 337.4h0M380.5 349.5h0M421.5 398.5h0M358.8 350.1h0M357.7 391.7h0M365.7 358.8h0M381.1 359.5h0M353 380.6h0M353.5 439.6h0M376 372.3h0M392.2 393h0M358.1 355.9h0M427 382.5h0M367.3 389.6h0M365.6 368.9h0M387.2 394.8h0M396.4 406.9h0M404.8 370.9h0M379 406.3h0M391.2 379.2h0M367.7 343.3h0M344.5 414.8h0M389.8 452.9h0M350.7 356.2h0M367.5 377.3h0M316.1 387.1h0M371.2 366.6h0M430.5 342.4h0M422.1 375.8h0M371.5 370.9h0M363.4 332.4h0M342.8 382.2h0M354.4 359.5h0M402.8 315.7h0M350.9 366.6h0M367.5 393.5h0M384.3 398.8h0M417.8 367.2h0M399 368.8h0M356.4 339.2h0M429 411.5h0M366.5 442.6h0M379.4 427.6h0M439.7 354.3h0M364.5 372.6h0M354.7 372.9h0M397 396.2h0M348.5 371.7h0M369.2 374.5h0M350.2 354.2h0M417.8 357.7h0M371.8 323.1h0M375 365.3h0M354.5 361.6h0M353.9 348.2h0M339.6 360h0M340.1 352.7h0M369.2 352.7h0M342.7 352.8h0M355.9 435.5h0M350 398h0M412.6 359.7h0M360 374.3h0M409.1 374.6h0M401.3 318.9h0M360.9 400.8h0M384.5 398.2h0M338.2 360.4h0M382.3 401.4h0M354.9 448.5h0M376.7 343.7h0M346 320.6h0M356 350.3h0M364.5 428.9h0M401.7 323.7h0M390.1 374.6h0M325.1 347.2h0M357.3 431.8h0M339.8 368.4h0M350.8 361.8h0M343.5 383.7h0M349.4 354.3h0M403.5 451.9h0M370.3 364.3h0M412.9 345.2h0M349 375.8h0M339.6 401.3h0M371.1 385.5h0M434.1 386.9h0M367.1 363.9h0M361.9 368.7h0M394.4 313.6h0M372.5 405h0M369.1 429.3h0M400.7 402.8h0M378.5 380.5h0M403.9 371.9h0M372.6 388.2h0M354.5 402.1h0M317.4 428.7h0M358.8 412.8h0M405 353.4h0M372.8 419.6h0M388.8 333.4h0M370.6 453.7h0M376.8 336.8h0M416.7 346.1h0M340.4 379h0M433 414.7h0M397.2 343.7h0M408.2 389.1h0M357.3 367.6h0M412.7 402.7h0M378.4 375.8h0M356.4 392.8h0M346.5 366.1h0M327.7 359.4h0M388.6 340h0M348.6 435.6h0M419.6 371.9h0M371 356.2h0M389.9 349h0M360.2 388h0M421.2 406.1h0M396 436h0M387.6 359.5h0M378.2 368.8h0M387 393.1h0M369.2 375.8h0M385.7 448.5h0M348.4 345.3h0M361.4 429.7h0M385.6 395.5h0M364.6 327.9h0M405.6 447.3h0M370.7 352.5h0M342.9 399.1h0M380.2 366h0M381.6 361.2h0M340.8 391.8h0M359.6 339.2h0M377.2 407.9h0M417.1 433h0M359.5 379.8h0M341.1 376.5h0M348.5 394.2h0M377.9 435.9h0M364.7 362.9h0M397.9 377.8h0M348.5 436.1h0M374.9 414.2h0M350.2 379.2h0M377.9 422.2h0M438.2 379.8h0M402.5 363.4h0M441.7 348.8h0M374 352h0M358.9 382.7h0M352.2 335.3h0M376.2 409.4h0M375 380.6h0M407.2 336h0M358.6 432.2h0M405.1 398.5h0M375.3 360.9h0M340.4 377.7h0M402.9 352.7h0M414.2 311.3h0M355.1 436.5h0M384.5 378.3h0M360.2 400.4h0M364.7 384h0M356.6 370.7h0M354.1 400.9h0M402.4 292.5h0M363.2 415.8h0M380.7 338.8h0M341 360.7h0M411.1 411.2h0M394.6 376.1h0M374.8 321.5h0M391.3 419.7h0M364.3 415.5h0M377.1 397.5h0M350.6 365.8h0M354.3 396.7h0M426.1 316.6h0M412.7 410.3h0M329.2 347.2h0M409.7 400.6h0M341.4 375.2h0M397.1 335.7h0M354.8 399.4h0M407.5 303.3h0M372.7 326.1h0M380.7 336.6h0M358.4 334.5h0M361.6 361.9h0M382.1 285.7h0M396.1 423.1h0M331.1 420.7h0M372.5 359h0M353.8 414.5h0M339.4 386.3h0M383.8 358.1h0M386.8 357.4h0M332.1 393h0M437.4 345.3h0M345.1 317.5h0M331.8 416.4h0M383.7 359.4h0M439.6 382.4h0M378.7 358.6h0M391.9 391.1h0M407.9 332.6h0M341.9 435.5h0M402.8 373.9h0M390 355.6h0M371.4 326.4h0M370.4 333.8h0M357.1 351.1h0M424.3 365.6h0M379.1 287.1h0M405.9 324.8h0M360.3 307.1h0M357.3 357.2h0M362.1 345.8h0M410.6 333.6h0M351.7 388.8h0M356 408.6h0M346.9 364.6h0M367.4 362.5h0M397.6 344.5h0M390.8 340.9h0M413.6 371.9h0M348.7 387.3h0M361.6 349h0M359 325h0M433.9 390h0M362 341.6h0M329.8 381h0M425.2 418.3h0M344.7 403.6h0M349.6 341.8h0M357.2 352.9h0M412.4 296.8h0M350.4 378.1h0M388.3 375.6h0M361.3 368h0M359.2 349h0M377.9 332.9h0M348.9 368.1h0M414.8 367.9h0M384.7 373.1h0M378.6 382.5h0M370.9 380.6h0M418.4 323.2h0M407.7 331h0M367.1 393.4h0M336.7 378.2h0M326.8 400h0M398.6 390.1h0M345.5 370.5h0M390.9 314.1h0M414.3 353.7h0M340.3 399.2h0M375.6 341.5h0M382.5 366.6h0M363.9 354.6h0M368.4 347.3h0M360 312.9h0M434.1 412.9h0M371.9 382.2h0M389.8 352h0M375.3 344h0M372.1 311.1h0M373.8 411h0M340.1 431.4h0M345.9 397.6h0M395.1 384.7h0M380.5 310.4h0M375.5 303.9h0M373.5 386.6h0M379.2 430h0M376.6 366.4h0M414.5 309h0M358 321.7h0M394.9 401.3h0M363.4 353.3h0M376.6 363.8h0M375.4 365.3h0M372.3 397h0M397 401.8h0M372.8 305.6h0M359.9 390.1h0M373 336.1h0M377.6 374.1h0M416.5 350h0M351.4 385.8h0M401.2 452h0M380.4 333.6h0M353.1 344.3h0M399.8 389.8h0M347 349.2h0M396.6 408.2h0M389.9 379.6h0M367.1 417.3h0M356.2 361.3h0M377.4 340.8h0M431 398.7h0M365.5 313.7h0M382.6 340.2h0M402.2 305.3h0M425.3 321.4h0M362.6 393.4h0M383.6 358.1h0M385 347.2h0M354.6 358.3h0M412.1 393.9h0M432.2 353.9h0M352.8 392.6h0M390.9 370.6h0M399.8 336.2h0M409.8 333.4h0M385.2 346.6h0M406.2 394.4h0M331.3 396.1h0M406.7 449.1h0M349.2 409.6h0M394.9 329.9h0M419.1 312h0M332.3 379.6h0M403.9 371.7h0M411.2 394.8h0M359.9 376.8h0M338.7 358.9h0M355.7 373.1h0M388.2 392.7h0M358.1 354.5h0M391.7 382.9h0M357.8 383.2h0M387.7 334.2h0M358.3 381.9h0M439.1 394.7h0M372.9 362.7h0M383.3 337.1h0M362.2 363.2h0M395.6 415.5h0M355.2 344.4h0M352.3 389.9h0M350.1 374.8h0M381.4 389.5h0M346.7 346.1h0M349.9 334.7h0M384.3 375.2h0M374.4 406.7h0M353.4 337.5h0M368.3 349.6h0M386.5 332.2h0M388.9 416.3h0M341.3 358.4h0M394.3 412.8h0M369.3 406.4h0M356.1 375h0M433.3 366.3h0M359.5 378.7h0M360.9 371.2h0M392.2 400h0M406.4 383.4h0M372.2 385.5h0M326.4 372.4h0M370.5 360.4h0M380.1 385.6h0M390.6 410.3h0M410.1 326.9h0M395.6 404.6h0M367.9 334.8h0M380 373.2h0M366.3 401.1h0M365.5 351.2h0M370.4 338.8h0M399.6 382.7h0M336.6 395.8h0M373.6 382.6h0M332.3 439h0M355.5 416.7h0M368 349.4h0M391.2 415.1h0M360.4 408h0M421.1 382.5h0M398.9 338.1h0M435.4 377.8h0M382.4 351h0M409.8 351.2h0M363.9 395h0M343.3 407.8h0M378.8 351.1h0M346.5 400.7h0M354.1 371.9h0M349.8 407.6h0M355.4 364.2h0M404.9 393.5h0M373.5 340.6h0M400 333.6h0M428.5 367.2h0M370.6 369.6h0M338.2 357.9h0M370.1 411.2h0M357.7 337.3h0M382.1 428.4h0M362.4 375.3h0M364.9 344.2h0M363.3 425.3h0M399.1 384.2h0M427.4 362.8h0M424.4 357.7h0M389.6 340.1h0M394.5 305.4h0M378.1 354.6h0M376.8 404.1h0M394.9 361.6h0M406.2 385h0M373.9 364.1h0M396.1 352.6h0M336.9 359.3h0M366.1 392.7h0M345.2 365.7h0M359.2 368h0M400.5 349.2h0M360.6 325.7h0M378.2 329.1h0M369.4 401.6h0M375.5 462.5h0M364 394h0M330 357.5h0M371.7 390.1h0M351.9 353.5h0M371.2 388.7h0M364.7 366.1h0M339.1 342.6h0M351.6 387.8h0M384.1 395h0M403 385.1h0M356.1 384.9h0M362.9 349.5h0M360.8 316.2h0M380.6 393.1h0M412.9 302.8h0M341.9 438.1h0M362.6 423h0M374.6 291.7h0M379.2 356h0M355.8 372h0M366.8 364.8h0M343.9 402.5h0M391.5 398.9h0M327.3 380.4h0M379.8 456.9h0M395.1 374.9h0M370.4 314.3h0M383.3 356.6h0M403.4 383.5h0M350.5 367.2h0M422 371.7h0M400.6 415.5h0M378.6 401.1h0M357.6 413h0M376.8 421.2h0M396.4 314.6h0M362.4 353.3h0M384.8 375.7h0M374.4 325.6h0M391.7 356.5h0M377.1 406.4h0M404 331.4h0M368.8 368.4h0M391.3 442.4h0M382.9 330h0M387 383.8h0M333.7 347.3h0M379 326h0M380.8 377.2h0M397.6 416.5h0M340.2 384.5h0M384.6 371h0M360.9 385.4h0M352.4 400.2h0M323.6 386.3h0M381.6 370.7h0M442.6 354.2h0M378 350.6h0M351.4 399.7h0M358.1 435.7h0M378.6 322.4h0M361.5 412.3h0M388.4 418.3h0M376.2 428.3h0M368.8 371.8h0M401.9 349.6h0M373.2 401.8h0M387.7 334.1h0M390.4 379.7h0M386.9 350.2h0M337.4 352.6h0M369.6 406.2h0M337.1 367.4h0M373.6 396h0M337.3 351h0M388 420.1h0M381.8 386.4h0M347.5 347.8h0M430.5 413.6h0M342.3 397.2h0M358.2 372.8h0M357.5 379.5h0M368.6 392.1h0M397.2 394.8h0M338.6 441h0M341 385.9h0M407.9 353.3h0M333 450.7h0M379.9 342.2h0M381.5 353.6h0M360.6 459.5h0M374.9 307.4h0M413.6 427.2h0M366.3 423.1h0M384.4 374h0M366.2 340.5h0M358.9 289.7h0M345.3 341.8h0M388.3 404.5h0M342.5 362.9h0M377.4 371.1h0M398.4 373.8h0M367 416.9h0M369 405.7h0M404.4 394.3h0M380.8 321.6h0M422.8 380.5h0M441.7 387.5h0M346.2 343.9h0M411.4 351.1h0M417.9 370.8h0M415.3 331.4h0M377.6 334.8h0M368.9 425.6h0M390.8 365.4h0M392.9 361.2h0M451.4 395.7h0M378.8 397.8h0M376.2 414.6h0M422.1 386.2h0M372.1 409.1h0M410.2 432.1h0M385.4 354h0M333.4 360.9h0M431 351.9h0M390.1 434.5h0M397.1 324.5h0M391.4 338.4h0M412.3 389.7h0M379.4 356h0M427.8 342.5h0M435.6 357.8h0M417 333h0M436 397.1h0M415.9 391.1h0M423.5 355.7h0M387.3 369.4h0M385.3 360.1h0M371 349h0M439.7 384.3h0M378.7 416.2h0M401.4 370.8h0M358.3 365.9h0M400.9 366h0M442.8 345.4h0M431.6 371.5h0M355.1 386.4h0M367.3 338.1h0M364.6 407.7h0M429.4 395.9h0M415.7 366h0M387.7 437.1h0M352.4 402.3h0M411.7 336.2h0M379.2 413.1h0M403.4 370.9h0M386.6 351h0M375.6 438.2h0M376.3 411.6h0M376.9 365h0M380.8 446.7h0M420.7 325.9h0M351.3 356h0M374.4 380.7h0M379 388.2h0M431.1 398.3h0M338.4 369h0M383.1 390.2h0M350.3 390.3h0M419.7 327.4h0M398 376h0M448.6 382.6h0M395.3 407h0M368.2 387h0M338.6 374.7h0M439.4 410.3h0M416.3 363.9h0M373.4 368.8h0M403.2 413.4h0M356.7 428.4h0M375.9 370.5h0M410.9 339h0M423.7 323.6h0M382.4 363.7h0M401.3 318.2h0M360.4 372h0M354.4 360.3h0M349.2 352.4h0M423.3 386.6h0M385.4 357.6h0M371.1 361.5h0M408.5 342h0M400.9 381.1h0M434.5 349.6h0M402 420.4h0M434 385.7h0M364.8 413.3h0M424.6 385.5h0M406.3 404.7h0M390.3 388.6h0M405.9 407.7h0M378.8 366h0M379.6 337.6h0M397.9 352h0M423.8 413.1h0M424.8 363.9h0M376.5 373.4h0M391.4 370.8h0M398.7 388.4h0M417.8 343.6h0M435.4 417.8h0M351.6 364.5h0M339.1 410.2h0M400.6 364.7h0M389.1 383.8h0M418.5 361.1h0M442.1 393.2h0M448 376h0M369.8 334.2h0M350.9 362.6h0M383.5 386.5h0M402.3 397.4h0M338.9 369.1h0M361 382.5h0M347.1 418h0M361.6 424.3h0M391.1 347.3h0M387 403.3h0M408.3 420.4h0M382.7 346.4h0M393.1 374.6h0M421 348.6h0M376.9 388.7h0M407.3 396.2h0M395.3 340h0M426.5 406.5h0M443.5 394.2h0M401 384.5h0M406 378.2h0M354.2 341.4h0M368.3 425.5h0M411.7 342.6h0M401.1 387.5h0M363.7 357.7h0M384.4 391.7h0M401.2 401.1h0M378.3 373.7h0M385.7 365.9h0M409 394.7h0M419 428.8h0M435.3 405.5h0M345.3 355.2h0M436.8 399h0M381.8 379.5h0M369.9 386.6h0M382 325.1h0M424.7 385.9h0M349.8 374.3h0M422.8 385.2h0M344 382.9h0M363.4 362.5h0M369.8 378.7h0M382.2 401.4h0M423.1 363.9h0M374.7 348.7h0M373.9 353.2h0M430.5 401.3h0M354.6 367.9h0M357.7 368.5h0M418.1 432h0M378.9 399h0M376.3 425.5h0M405.3 391.1h0M375.9 417.8h0M378.9 387h0M417.5 414.7h0M387.4 422.1h0M367.8 428.5h0M408.7 365.1h0M406.1 333.2h0M418.2 366.7h0M433.6 401.5h0M437 383h0M384.2 372h0M360.4 336.3h0M379.5 427.9h0M399.6 379.9h0M355.3 400.5h0M365.3 434.1h0M392.7 345.8h0M366.7 376.7h0M352 420.3h0M370.1 398.3h0M364.9 400.7h0M424.7 415.4h0M341.2 384.9h0M349.8 349.3h0M396.8 404.8h0M343.5 389.7h0M354.2 399.4h0M409.9 433.9h0M384.9 376.6h0M337.3 392.7h0M408.2 315.7h0M422.7 346.8h0M413.8 356.6h0M386.1 397.3h0M392.9 366.5h0M422.6 405h0M419.6 365.6h0M407.8 388.9h0M399.7 371.1h0M401.7 360.6h0M355.8 386.2h0M415.2 416.2h0M386.2 358.9h0M393.3 400.2h0M369.1 377.2h0M374.5 369.7h0M396.9 332.7h0M417.9 354.6h0M411.1 411.6h0M392.7 352.9h0M372.7 339.1h0M404.6 339.7h0M395.4 403.4h0M341.4 419.6h0M404.9 406.6h0M399.8 310.9h0M370.8 379.6h0M372.1 415.7h0M369 401.3h0M351.3 376.1h0M354.6 385.1h0M395.5 364.5h0M367.4 381.7h0M391.9 365.3h0M423.4 381.4h0M409.1 385.2h0M440.1 384h0M438.1 415.1h0M383.4 381.5h0M371.3 445.7h0M367.1 351.9h0M356.7 360.1h0M444.9 392.9h0M393.3 414.9h0M439.1 369.7h0M446.2 362.5h0M404.3 350.9h0M380.8 336.4h0M393.2 398.1h0M417.9 377.3h0M355.5 376h0M349.9 390.1h0M415 340.5h0M355.8 351.7h0M416 326.9h0M402.6 427.8h0M406.4 379h0M361.2 417.2h0M426.3 317.5h0M371.8 340.1h0M424.3 366.9h0M356.3 371.9h0M374.7 364.5h0M423.8 360.5h0M377.4 344.3h0M432.7 326.5h0M406.8 392.3h0M386.6 353.8h0M437.1 379.6h0M364 410h0M366.3 366.9h0M393.2 376.6h0M445.3 376.5h0M395 336.4h0M414.7 345.8h0M366.2 397.1h0M371.4 390.7h0M360.9 346.6h0M375 385.4h0M417 407.3h0M401.7 384.2h0M355.9 373.3h0M347.1 372h0M447.1 355.3h0M405.3 346.3h0M371.4 416.4h0M357.3 405.6h0M413.6 372.1h0M375.4 353.2h0M377.9 342.4h0M456 374.1h0M380.4 348.8h0M396.9 347.2h0M449.8 364.4h0M338.8 402.4h0M341.7 367.1h0M381.7 424.8h0M443.5 395.9h0M402.9 412.5h0M386.5 360.4h0M384.3 331.4h0M428.9 340.8h0M379.1 402.1h0M385.9 387h0M426.8 325.7h0M450.3 379.2h0M401.2 369.9h0M341.2 366.3h0M419 376.5h0M389 412.4h0M373.2 374h0M354.4 343.2h0M343.1 402.7h0M425.1 370.2h0M422.9 339h0M370.8 392.4h0M358 392.9h0M448.9 391.1h0M359.4 379.8h0M368.2 393.2h0M374.1 374.1h0M437.1 336.7h0M382 410.4h0M420.3 370.3h0M377.7 418.4h0M368.2 363.3h0M380.5 397.2h0M385.5 366.9h0M393.4 358.9h0M365 404.9h0M371.3 396.8h0M389.2 352.3h0M406.2 417.5h0M390.7 387.3h0M374.4 401.1h0M396.4 381.1h0M350.5 342.8h0M394 413.3h0M357.5 394.3h0M360.3 398.3h0M361.3 381.6h0M392.8 386.6h0M400.7 415.3h0M372.5 386.6h0M349.8 396.4h0M392.5 415.9h0M406.3 385.5h0M350.8 399.4h0M341.2 353.1h0M344.8 346.1h0" style="fill:none;stroke:#ff0000;stroke-opacity:0.615;stroke-width:1.66;stroke-linecap:round"/><path d="M162.1 427h0M145.6 380.8h0" style="fill:none;stroke:#d4d4ff;stroke-opacity:0.685;stroke-width:1.66;stroke-linecap:round"/><path d="M188.4 406.7h0M222.3 415.6h0M177.2 280.4h0M161.7 317.3h0M165.5 279.1h0M170.8 386.6h0M230.6 443.4h0M209.5 454.3h0M283.7 222.2h0M262.6 393.2h0M222.8 445.9h0M267.1 376.5h0M302.6 316.2h0M262 239.1h0M290.1 245.5h0M303.8 298.3h0M213.6 453.9h0M224.3 453.9h0" style="fill:none;stroke:#aaaaff;stroke-opacity:0.685;stroke-width:1.66;stroke-linecap:round"/><path d="M223.6 404.9h0M306.8 261.1h0M305.6 270.6h0M221.2 256.7h0M169.7 373.2h0M174.7 346.8h0M167.3 364.3h0M190.1 392h0M179.3 399.7h0M178.2 304.1h0M188.2 348.5h0M169.6 321.1h0M199.6 414h0M236 407.7h0M214.5 428.7h0M293.1 243.2h0M196.7 267.6h0M278.3 357.9h0M298.3 293.1h0M177.4 374.4h0M226.5 245.8h0M253.1 419.7h0M183.8 297.7h0M227.5 443h0M184.8 315.8h0M189.6 407.6h0M235.1 231.7h0M209.9 254.1h0M252.5 220.2h0M181 336.6h0M296.9 293.3h0M236.9 247.6h0M313.7 258.4h0M248.6 234.4h0M175 298.4h0M201.7 261.9h0M149.6 374.1h0M204.2 426.6h0M144.8 398h0M268 353.7h0M251.5 417.9h0M203.6 239.6h0M197.3 239.4h0M202.3 423.7h0M196.6 249.9h0M294.9 259.5h0M165.5 439.5h0M243.6 239h0M173.9 282.2h0M259.2 221.7h0M277.2 276.4h0M193.2 239.9h0M195.5 234.3h0M185.8 417.7h0M219.5 396.6h0M269.5 403.6h0M184.5 407h0M274.3 238.8h0M174.3 392.5h0M204.8 417.8h0M154.1 374.5h0M234.8 384.6h0M288.2 316.6h0M269.4 243.1h0M147.5 388.7h0M209 227.2h0M184.2 276.6h0M242.6 405h0M195.9 414.9h0M286 307.2h0M180.8 288.7h0M191.9 414.3h0M228.2 232h0M162 399.3h0M231.8 238.1h0M237.9 232.3h0M223.8 406.6h0M219.8 410.5h0M245.2 239.7h0M205.6 275.6h0M265.8 347.2h0M159.8 395.3h0M180.6 429.9h0M260.7 371.7h0M274.7 285.8h0M212.4 235.9h0" style="fill:none;stroke:#8080ff;stroke-opacity:0.685;stroke-width:1.66;stroke-linecap:round"/><path d="M267 376.8h0M207.9 411.1h0M198.2 397.1h0M186.4 330.6h0M229.5 410.4h0M181.3 340.4h0M237.4 262.3h0M237.5 431.4h0M231.7 251.5h0M196.2 378h0M248.4 421.7h0M190.3 363.5h0M235.7 385.9h0M194.9 330.4h0M207.3 309.8h0M191.6 284h0M185.2 327.3h0M232.6 251.1h0M195.6 375.4h0M208.2 389h0M242.3 415.6h0M254.4 243.2h0M186.7 375.2h0M190.3 391.4h0M232.8 298.6h0M248.4 278.2h0M275.5 328.2h0M228.4 375.2h0M190.1 328h0M253 261.5h0M219.5 403.5h0M208.9 300.2h0M230.6 274.6h0M248.9 293.1h0M168.6 371.2h0M216.6 260.8h0M254.9 297.3h0M211 297.4h0M212.1 411h0M157.5 322.1h0M230.6 395.4h0M176 383h0M229.9 341.9h0M239.5 398.8h0M224.5 319.1h0M242.7 325.1h0M171.6 368h0M191.8 288.6h0M233.2 359.5h0M166.3 386.8h0M209.4 308.1h0M182.1 322.7h0M176.5 397.1h0M192.2 379.3h0M200.3 389.6h0M283.9 313.3h0M185.8 397.9h0M170.4 326.4h0M196.9 360.1h0M234.5 316.9h0M211.2 373.1h0M231.1 264.3h0M246.7 262.1h0M192.8 359.7h0M255.9 350.6h0M211.5 316.8h0M194.8 303h0M241.9 265h0M233.3 369.3h0M259.3 293.3h0M253.4 319.2h0M217.5 277h0M176.9 300.8h0M222.4 367.2h0M271.7 338.1h0M174.8 334.7h0M201.8 393h0M207.9 390.5h0M173.5 273.7h0M182.6 334.6h0M260.3 336.5h0M191.6 381.6h0M220.6 406.2h0M194.5 379.6h0M206.4 301.4h0M169 375h0M189.8 362.4h0M177.3 319.8h0M200.6 400.2h0M289.9 310.8h0M180.1 341.8h0M171.7 367h0M233.2 356.5h0M216.8 308.4h0M272.4 280.8h0M251.1 289.2h0M195.6 263.8h0M223.6 374.7h0M227.4 271.1h0M246.6 402.3h0M201.3 355.1h0" style="fill:none;stroke:#5555ff;stroke-opacity:0.685;stroke-width:1.66;stroke-linecap:round"/><path d="M219.4 285.6h0M213.8 386.6h0M303.9 298.5h0M238.1 361.7h0M208.1 301.7h0M201 382.1h0M193.5 327.7h0M263 257.1h0M227.6 274.1h0M239 255.7h0M265.8 256.8h0M244.5 264.2h0M275 399.1h0M202.3 308.7h0M275.2 381.9h0M219.7 322.8h0M213.9 342.2h0M199.1 373.9h0M280.3 399.2h0M195.2 322.9h0M211.9 316.8h0M225.9 304h0M235.3 405.3h0M219.8 386.3h0M278.9 394h0M214.8 330h0M207.3 373h0M219.4 390.1h0M293.6 299.1h0M269.6 258.6h0M307.6 303.5h0M227 388.4h0M224.5 380.4h0M205.5 305.8h0M200.7 354h0M262.1 310.5h0M221.8 376h0M214.1 322.4h0M204.6 373.8h0M248.1 307.4h0M244.5 296.4h0M264.5 282.5h0M261.1 355.9h0M194 354.2h0M205.7 379.5h0M184.3 317h0M188.3 297.4h0M263.2 364.4h0M257.7 309.4h0M217.7 333.4h0M247.7 329h0M204.1 342.7h0M224.1 356.5h0M269 354.6h0M221.5 380.8h0M240.2 283.8h0M232 356.7h0M236.3 318.9h0M221.8 283.4h0M203.5 307.6h0M268.2 291.3h0M189.5 339.9h0M211.4 314.3h0M207 350.6h0M200.4 373.7h0M211.9 284.9h0M208.9 347.4h0M215.6 301.6h0M201.5 301h0M258.5 303.7h0M212.1 316.6h0M226 317.7h0M201.8 368.7h0M182.5 336.5h0M209.1 336.7h0M261.9 287.9h0M211.3 324.7h0M246.1 354.3h0M271 348.7h0M237.5 329.4h0M229.6 381.7h0M237.4 304.8h0M225.6 281.6h0M193.7 306.7h0M234.3 322.8h0M236.3 297.5h0M240.3 363.8h0M238.2 374.3h0M201.3 328h0" style="fill:none;stroke:#2a2aff;stroke-opacity:0.685;stroke-width:1.66;stroke-linecap:round"/><path d="M293.1 308.3h0M263.4 360.3h0M256 370.6h0M271.1 337.9h0M255.9 271.7h0M265.8 385.8h0M267.9 302.9h0M270.2 279.1h0M244.9 334.5h0M254.3 329.8h0M225.9 363.5h0M282.4 349.1h0M259.2 337.2h0M256.7 357.3h0M265 374.4h0M280.9 293.4h0M225.8 401.1h0M278.8 378.5h0M275.2 317.4h0M232.1 304.6h0M296.5 300.3h0M195.9 340.4h0M264.6 385.4h0M222.5 339.1h0M229.7 355.4h0M221.5 317.5h0M273.3 377.9h0M235.3 339.8h0M225.5 383.3h0M256 405.2h0M265.2 367.5h0M219.2 282.4h0M265.7 299.3h0M267.5 333.6h0M215.6 330.1h0M258.1 307.2h0M239.1 328.8h0M243.4 297.8h0M253.1 315.3h0M235.4 343.8h0M211.5 322.8h0M223.8 372.6h0M233.9 309.5h0M241.9 407h0M255.5 353.8h0M281 288.5h0M227.1 377.9h0M241.7 300.6h0M297.3 325.5h0M252.6 291.7h0M227.3 367.4h0M290.7 340.2h0M276.7 327.4h0M229.8 280.8h0M293.4 285.6h0M247.2 310.9h0M228.1 359.2h0M210.4 366.5h0M259.3 360.3h0M273.7 311.7h0M275.1 305h0M249 381.3h0M228.5 344.7h0M301.7 297.7h0M266.7 338.9h0M259.2 307h0M254.1 333h0M256 327.8h0M298.7 330.2h0M266.3 305.3h0M233.8 365.1h0M249 290.5h0M276.4 372.7h0M232.5 352.1h0M258.7 299h0M219.4 350.6h0M252.6 363.7h0M222.8 350.7h0M256.2 352.5h0M288.7 313.6h0M286.2 326h0M225 360.4h0M252.9 317.7h0M257.8 318h0M261 326.1h0M282.3 303h0M276 364.4h0M236.3 284h0M221.2 317.6h0M251 343.3h0M235.3 384.4h0M231.9 334.2h0M221 352.8h0M245.2 346.7h0M282.7 346.7h0M285.2 370.5h0M251.8 298.6h0M283.5 347.1h0M239.1 300.1h0M288.4 332h0M205.9 364.9h0M238.3 396.4h0M226.7 313.6h0M282.3 361.2h0M221 358.8h0M258.5 360.8h0M241.9 351.9h0M275.7 383.1h0M296.3 340.6h0M248.7 290.5h0M223 311.7h0M258.8 358.6h0M274.5 337h0M240.6 333.9h0M253 330.5h0M262.9 336.5h0M256.2 354.8h0M273 322.6h0M248.3 314.9h0M240.6 347.4h0M282.3 340.5h0M281.5 318.6h0M261.3 318.4h0M242.7 320.3h0M244.1 327.2h0M273.8 358.2h0M277.6 377.4h0M231.6 334.5h0M272.6 322.5h0M251.7 316.7h0M284.5 340.9h0M227.9 351.4h0M278.5 270.2h0M266.7 350.7h0M245.5 342.5h0M254.8 303.2h0M268.9 361.7h0M241.1 294.2h0M250.8 323.4h0M255.3 328.5h0M245.2 320.6h0M272.2 348.8h0M260.5 306.4h0M220.3 333.5h0M244.7 286.9h0M261.6 359.7h0M268.9 314.3h0M261.6 317.5h0M242.4 347.7h0M266.3 368.8h0M234.7 277.9h0M247.2 280.6h0M263.8 349.4h0M249.5 375h0M252.5 305.8h0M287.3 318.4h0M242.8 286.4h0M290.4 337.7h0M228.5 387.8h0M256.3 307.4h0M228.5 363.1h0M246.6 379h0M264 370.5h0M215.7 392.6h0M274.9 360.9h0M279.3 337.7h0M226 314.4h0M233.2 321.4h0M292 287.2h0M270 345.1h0M268.3 313h0M243.1 333.1h0M249.3 342.1h0M280.3 358.4h0M250.8 359.7h0M269.1 307.9h0M236.1 352.8h0M264.6 331.8h0M249.4 383.2h0M250.6 352.1h0M258.2 332.2h0M269.4 335.2h0M252 305.2h0M264.9 341h0M265.9 380.1h0M244.6 375.7h0M240.7 293.1h0M276 291.1h0M274.8 335.2h0M260 339.6h0M241.8 360h0M218.2 377h0M279.5 319.7h0M276.8 273.2h0M256.6 333.5h0M261.1 344.9h0M258.2 334.8h0M279.4 341.6h0M215.7 359.9h0M243.3 369.1h0M241.1 336.7h0M246 321.3h0M231.9 356.6h0M246.2 348.6h0M247.9 330.3h0M252.5 321.1h0M247.3 329.3h0M296.9 364h0M228.3 342.9h0M257.8 347.7h0M238.6 358.6h0M235.2 305.8h0M282.6 275.2h0M248.7 334.4h0M221.2 390.5h0M279.4 300.1h0M243.2 269h0M231.3 354.9h0M235.4 327.3h0M247.1 359.9h0M257.3 330.2h0M266.9 369.6h0M246.5 326.4h0M242.4 378.3h0M229 304.3h0M280.9 296.4h0M254.9 387.8h0M269.5 307.3h0M275.6 326.5h0M247.7 308.7h0M241 281.3h0M269.9 315h0M287.5 355.7h0M248 331.4h0M254.1 274h0M266.6 308.5h0M289.8 291.4h0M260.1 299h0M256.6 318.1h0M268.8 311.4h0M254.4 338.5h0M280.4 313.4h0M244.3 343.1h0M268.8 349.2h0M254.9 337.2h0M258 281.8h0M222.4 370h0M277.9 358.6h0M233.5 349.4h0M263.5 273.1h0M266.3 348.5h0M301.7 329.7h0M260.5 341.6h0M243.8 342.6h0M212.1 341.8h0M227 293.3h0M246.8 367.8h0M231 322.1h0M241.8 339.4h0M235.2 368.1h0M241.9 362.2h0M256.7 308.7h0M234.6 341.7h0M234.7 326.9h0M245.8 297.2h0M257.8 352.2h0M213.5 338.7h0M218.7 343.6h0M244 308h0M247.1 374.3h0M257.3 309.1h0M228.2 328.4h0" style="fill:none;stroke:#0000ff;stroke-opacity:0.685;stroke-width:1.66;stroke-linecap:round"/><path d="M492.8 232h0M304.6 356.7h0M331.3 259.2h0M288.4 490h0M265.9 506.6h0M379 232h0M291.7 497.7h0" style="fill:none;stroke:#ffd4d4;stroke-opacity:0.685;stroke-width:1.66;stroke-linecap:round"/><path d="M293.5 418.3h0M449.6 259.4h0M441.6 259.8h0M347 504.9h0M316.6 508h0M398.3 510.3h0M371.7 243.9h0M412.2 237.1h0M377.8 248.5h0M383.9 232.8h0M306.6 477.9h0M296.6 392.1h0M399.5 518.8h0M347.3 255.2h0M330.8 502.7h0M293.7 457.9h0M445.4 248.2h0M320.3 493.4h0M303.7 477.5h0M300.2 454.6h0M483.7 239.5h0M361.8 274.8h0M412.8 224.2h0M307.1 388.7h0M469.7 243.7h0M425.8 222.5h0M443.8 232.4h0M438.4 243.3h0M312.4 474.5h0M488.8 233.6h0M335.2 509.7h0M476.6 257.1h0M372.8 532.1h0M308.6 518.3h0M325.7 491.7h0M396 244h0M345.8 529.8h0M310.9 419.9h0M308.4 444.2h0M302.3 453.3h0M454.1 237.2h0M298.4 414.1h0M367 249h0M351.4 530.1h0M475.4 248.2h0" style="fill:none;stroke:#ffaaaa;stroke-opacity:0.685;stroke-width:1.66;stroke-linecap:round"/><path d="M404.8 489.5h0M411.6 471.8h0M371.6 500h0M392.7 494h0M355.7 491h0M424.4 468.2h0M316.1 474.2h0M345 486.4h0M364.9 258.1h0M466.6 302.4h0M342 484.6h0M465.2 317.5h0M359.8 486.6h0M394.6 496.1h0M378.4 492.6h0M427.8 467.3h0M429.5 269.7h0M474.4 280.3h0M358.4 510.4h0M435.1 253.7h0M410.2 260.7h0M380.8 508.7h0M364.7 507.6h0M367.6 514.1h0M307.3 425.8h0M421.5 265.8h0M366.2 495.2h0M312.3 426h0M421.3 266.3h0M427.3 254.2h0M410.4 522.2h0M419.7 260h0M403.1 262.5h0M324.5 470.6h0M391.2 522.6h0M360.7 284.8h0M457.8 278.3h0M384 499h0M317 339.1h0M313 419.3h0M324.5 468.9h0M357.4 513.9h0M324.2 464h0M388.4 519h0M319.9 453.4h0M445 273.3h0M359.2 516.4h0M321 336.3h0M462.4 274.6h0M455 272.5h0M370.3 267.7h0M349.4 503h0M403.8 504h0M334.6 497.3h0M360.1 488.7h0M404.8 499h0M446.4 264.2h0" style="fill:none;stroke:#ff8080;stroke-opacity:0.685;stroke-width:1.66;stroke-linecap:round"/><path d="M456.7 322.1h0M340.1 478.6h0M371.8 486.7h0M424.1 274.4h0M461.9 328.4h0M317.3 324.8h0M377.3 473.8h0M349.4 482h0M398.4 471.4h0M426.4 466h0M415.1 273.9h0M342.4 281.1h0M366.9 478.9h0M452.8 317.2h0M402.4 263.5h0M329.2 305.4h0M421.7 467.7h0M386.6 256.9h0M410.7 263h0M395.5 264.2h0M441.4 293.7h0M365 292h0M323.4 420.4h0M382.2 473.7h0M435.5 276h0M326.6 419.9h0M316.9 369.4h0M324.9 441.9h0M419.2 484.2h0M381.5 494.7h0M402 473.3h0M399.3 282.8h0M321.6 436.5h0M430.3 291.3h0M348.1 476.8h0M476.5 310.4h0M436.4 272.5h0M340.9 461.2h0M359.3 479.1h0M324.1 357.3h0M388.4 488.4h0M397.3 275.3h0M431.3 291.2h0M409.3 484h0M444.2 288.1h0M467.7 304.1h0M422.6 286h0M448.5 291.8h0M464.3 312.9h0M335 467.6h0M411.1 475.1h0M383.6 475.8h0M415.9 286.8h0M466.9 314.9h0M336.1 457.2h0M423.1 479.5h0M398 488.3h0M411.7 285.1h0M444.9 276.8h0M435.2 292.6h0M391.4 481.6h0M448.1 289.9h0M402.1 279.4h0M409.1 284.6h0M328.8 337.8h0M422.5 279.1h0M393.9 483.1h0M368.4 286.4h0M322.5 418.8h0M404.3 496.1h0M345.8 479.4h0M320.4 411.5h0M368.8 294.1h0M379.7 277.6h0M319.3 406.1h0M379 475.6h0M391.6 485h0M471.4 312.6h0M342.3 459.3h0" style="fill:none;stroke:#ff5555;stroke-opacity:0.685;stroke-width:1.66;stroke-linecap:round"/><path d="M435.6 303.6h0M318.5 452.8h0M318.6 344h0M315.4 349.1h0M410.7 281.5h0M342.8 293.5h0M449.8 364.8h0M363.4 273.9h0M335.7 300.6h0M333 304.9h0M321 450.9h0M316.6 344.7h0M358.6 465.1h0M303.2 379.4h0M309 441h0M439.2 427.6h0M358.8 278.7h0M367.9 475.8h0M442.8 318.8h0M402.2 459.2h0M438.5 425.9h0M423.8 433.7h0M432.7 441h0M431.3 440.4h0M352.5 281.4h0M441.5 318h0M316.1 328.5h0M339.1 463.5h0M433.9 299.8h0M377 467.6h0M316.5 446.9h0M320.2 326.4h0M429.4 300h0M404.9 449.7h0M457.7 333.4h0M438.6 311.6h0M378 302.8h0M445.2 322.4h0M385.1 454.4h0M412.8 448.6h0M320.6 398.9h0M436.2 440.9h0M412.2 464.2h0M372.7 306.4h0M360.6 449.1h0M402.3 462.3h0M401.3 462h0M401.8 454.2h0M334.9 342.9h0M337.4 342.4h0M410.8 450.3h0M462.8 335.7h0M369.9 456.5h0M442.1 316.3h0M353.5 322.5h0M452.2 342.2h0M442.6 313.9h0M439.3 431.3h0M450.3 319.3h0M415.8 304.9h0M341.8 434.5h0M432 439.7h0M328.7 389.9h0M348.9 455.7h0M330.8 413.2h0M458.4 319h0M398 293.6h0M378.3 458.1h0M350.7 443.8h0M385.6 297.9h0M348.8 442.4h0M341.2 442.2h0M453.3 338.8h0M449.3 306.8h0M348.6 323.9h0M340.9 436.1h0M321.2 383.5h0M376.2 459.3h0M414.2 464.1h0M455.8 332.9h0M327.2 398.2h0M434 305.6h0M449.2 305.8h0M416.6 450.4h0M326.5 400.2h0M354.9 463.3h0M400.4 292h0M364.4 456.5h0M359.6 446.3h0M333.3 433.3h0M432 309.7h0M413.7 464.3h0M456.7 320.6h0M380.6 464.1h0" style="fill:none;stroke:#ff2a2a;stroke-opacity:0.685;stroke-width:1.66;stroke-linecap:round"/><path d="M334.9 368.9h0M375.1 319.5h0M368.1 345.7h0M352.1 403.4h0M404.1 296.3h0M396.3 361.7h0M317.6 381.6h0M373.6 355.7h0M323.5 354.1h0M339.6 388.2h0M375.6 369.1h0M378.7 311.1h0M357.9 376.4h0M391.1 373.8h0M403.8 369h0M409.3 361h0M416 402.7h0M344.8 332.3h0M437.9 383h0M384.5 389h0M338.8 351.9h0M342 386.2h0M366.5 387h0M433 341.4h0M378.1 410.5h0M343.8 409.7h0M368.2 343.1h0M392 412.6h0M362.4 375h0M341.9 367.2h0M351.1 367.6h0M322 447.5h0M363.7 428.2h0M379 288.1h0M411.9 397.3h0M373.3 365.8h0M346.9 409.8h0M366.7 326.3h0M413.7 420.8h0M338.8 417.7h0M362.9 439.7h0M345.2 391.2h0M375.2 371.2h0M337.3 376.3h0M354.9 379h0M360.3 338.6h0M366.3 365.9h0M325.4 406.4h0M382.2 405.3h0M343.3 433.4h0M392.6 407.4h0M342 386.5h0M352.1 356h0M386.9 357.8h0M395.4 357.8h0M347.4 350.9h0M340.5 417.8h0M346.9 404.5h0M365.9 438.5h0M341.8 340.5h0M414.7 414.3h0M363.6 331.9h0M384.1 345.9h0M379.2 426h0M391.6 420.8h0M340.1 368.6h0M378.6 412.8h0M359.8 424.8h0M357.2 320.4h0M347 378.9h0M391.9 323.7h0M380.7 452.2h0M393.5 356.2h0M376.2 401.5h0M376.6 389.1h0M411 374.1h0M362.4 322.1h0M387.8 389.2h0M342 351.7h0M380.7 377.5h0M423.7 393.6h0M386.3 391.6h0M341.5 352h0M350.1 379.6h0M364.8 321.6h0M392.3 383.8h0M363.7 411.2h0M344 323.1h0M368.7 432.1h0M415.2 345.7h0M404.1 329.8h0M359.2 398.3h0M359.4 357.5h0M400.8 443.8h0M403.4 321.6h0M341.5 361.9h0M362 327.4h0M365.4 334.7h0M328.5 365.4h0M365.1 358.5h0M376.6 403.2h0M344 384.5h0M341.9 374.5h0M348.4 383.1h0M328.2 351.7h0M373.9 405.4h0M365.2 361.9h0M361.5 411.5h0M358.1 291.9h0M379 372.2h0M322 333.1h0M376.3 380.6h0M333.8 384.7h0M418 376.4h0M340.7 427.8h0M327 337.1h0M384.6 322.5h0M356.8 374.9h0M393.7 380h0M421.9 381.3h0M346.3 363.7h0M326.2 383.7h0M330.6 396.1h0M416.7 361h0M372.7 402.2h0M424.2 315.2h0M373 346h0M385.2 343.4h0M364.1 319.3h0M380.1 409h0M343.9 388.8h0M370.3 359.2h0M418 416.7h0M405.8 329.2h0M372.2 431.2h0M393 370h0M394.2 350.9h0M383.2 385.1h0M321.5 375.7h0M410.7 374.1h0M369.3 356.6h0M364.9 355.4h0M350.8 363.3h0M410.9 359.7h0M320.7 405.5h0M336 367.3h0M351.5 378.9h0M411.7 364.3h0M353.5 337.4h0M389.3 292.6h0M410.8 373.7h0M367.4 434.6h0M396.4 383.1h0M308.1 380.6h0M380.1 344.7h0M432.9 352.4h0M363.5 340.8h0M364.7 329.9h0M360.9 393.3h0M358.5 410.6h0M347.2 346.5h0M428.3 343h0M405.9 333.8h0M369.4 337.1h0M388.1 399.7h0M353.6 339.6h0M358.7 382.7h0M389.6 339.2h0M380.9 315.5h0M330.6 354.2h0M433.6 335.7h0M343.7 360.4h0M416.8 362.4h0M353.1 352.5h0M346.8 395.8h0M329.4 390.3h0M358.9 396.4h0M338.5 310.8h0M339 404h0M355.4 352h0M347.7 448.9h0M346.3 370h0M407.9 354.3h0M429.1 318.1h0M329.4 364h0M364.5 401h0M393.9 368.6h0M357.1 319.7h0M379.9 355h0M394.9 380.1h0M390 335.2h0M358.7 362.3h0M357 359.8h0M341.9 323h0M398.2 370.4h0M398 356.8h0M383.3 303.8h0M367.1 350.2h0M330.8 353.2h0M360.6 404.2h0M361.7 309.8h0M333.5 440.4h0M412.5 410.8h0M361.9 343h0M404.7 436.9h0M396.2 419h0M341.5 422.8h0M440.1 391h0M342.2 375.2h0M358 333.9h0M360.4 337.9h0M378.6 351.2h0M352.7 379.8h0M327.1 349.7h0M383.5 367.7h0M342.1 357.4h0M395.4 342.2h0M349.6 373.7h0M397.4 446h0M323.4 396.8h0M413.3 341.2h0M339 394.3h0M412.6 341.1h0M334.4 356.2h0M315.1 361.9h0M399.1 349.1h0M348.2 304.6h0M414.4 371h0M425 375.2h0M385.3 319.3h0M337.7 389.2h0M379.2 370.9h0M390.5 379h0M367 391.4h0M375 360.7h0M421 331.1h0M402.9 396.1h0M359.7 342.1h0M330.5 385.5h0M393.4 306.8h0M382.4 355.1h0M337.3 370.4h0M401.1 374.7h0M360.3 386.9h0M350.5 378h0M348 356.3h0M409 368.7h0M339.1 397.3h0M349.3 379h0M373.8 363.9h0M395.8 279h0M372.9 312.3h0M413.8 410h0M339 357.1h0M360.7 377.4h0M413 336.4h0M401 357.2h0M432 387.2h0M339.9 409.5h0M356.4 338.3h0M384.2 323.3h0M356 326.4h0M354.1 351.2h0M399.1 330.7h0M342.2 407h0M374.5 384.4h0M376.1 344.2h0M379.8 427.8h0M355.1 378h0M336.7 413.3h0M407 354.1h0M358.8 414.7h0M363 416h0M320.8 386.7h0M355.2 354.7h0M381.8 356.2h0M387.5 338.2h0M411.3 331h0M408.3 304.7h0M400.5 316.6h0M393 302.8h0M328.7 375.4h0M352.2 306.8h0M425.5 409h0M341.3 365h0M342.1 371.3h0M334.7 374.3h0M368.4 386.9h0M371.7 293.6h0M356.5 418.4h0M348.9 413.2h0M371.8 401h0M357.6 367.8h0M376.9 409.1h0M375.7 389.9h0M326 419.8h0M413.7 393.5h0M384.7 389.6h0M356.7 394.8h0M351 357.6h0M373.9 405.6h0M418.9 361h0M402.3 418.8h0M391.4 319.1h0M356.4 426.1h0M325.2 375.2h0M355.5 350.8h0M391.2 336.6h0M351.6 368.9h0M321.3 375h0M344.3 424.1h0M369.6 371.2h0M334.1 353.7h0M349.3 350.3h0M381.3 399.2h0M362.6 375.8h0M378.1 399.1h0M370.5 373.1h0M388 372.1h0M444.6 391.8h0M372.3 372.3h0M359.6 304.6h0M375.7 376.9h0M340.8 362h0M333.8 390.2h0M337.1 399.4h0M358.4 342.7h0M363.6 345.7h0M316.8 380.1h0M363.3 355.4h0M370.7 430.3h0M345.4 397.9h0M336.8 384h0M372.4 357.9h0M322 382.8h0M437 326.2h0M390.9 403.4h0M393.4 420.5h0M376.1 330.9h0M387.1 369.3h0M413.9 431h0M329.6 389h0M363.4 454.6h0M387.9 301.8h0M320 362.2h0M367.4 386.3h0M347.5 329.1h0M352.1 349.4h0M408.6 365.8h0M373.8 333.4h0M372.3 347.9h0M352.6 418.1h0M340.9 350.4h0M377.8 398h0M311.6 372.2h0M373.8 390.9h0M375.6 357.3h0M361.7 401h0M367.6 418h0M384.7 430.3h0M363.9 376.8h0M359.1 356.7h0M377.1 384h0M336.5 396.9h0M404 403.7h0M351.5 391.3h0M356.7 371.3h0M354.1 412.8h0M413.8 384.5h0M397.8 397.8h0M363.1 399.9h0M322.4 349.4h0M369.5 398.5h0M401.4 283.2h0M390.5 342.9h0M339.4 380.4h0M338.2 407.5h0M418.2 433.8h0M349.4 309.2h0M371.6 327.5h0M384 350.6h0M334.7 355.5h0M425.8 366.3h0M330.9 414.1h0M409.4 352.8h0M342.5 380.2h0M416.5 399.1h0M388.8 379.5h0M416.3 381.6h0M382.1 342.8h0M408.4 364.7h0M376.2 406.5h0M365.9 368h0M359.1 373.1h0M324.8 416.3h0M356.9 363.8h0M389.2 373.4h0M335.7 387.4h0M420.3 318.6h0M412.6 403h0M371.4 350.2h0M390.7 353.7h0M354.5 416.3h0M331.8 345.5h0M321.8 359h0M328.7 388h0M356.3 460.7h0M375.2 439.8h0M418.2 327h0M326.6 406.2h0M355.4 392.9h0M370.6 339.9h0M381.9 372.6h0M446 355.2h0M368.5 364h0M365.9 386.3h0M331.9 440.3h0M363.4 393h0M405 425.3h0M397.9 382.5h0M342.8 352.1h0M321 347.5h0M343.2 336.4h0M422.1 338.6h0M321.9 395.8h0M439.5 358h0M447.1 352.4h0M407.4 415h0M344.7 343.9h0M343.3 389.5h0M342.2 345.4h0M340.5 340.9h0M353.4 390.4h0M368.6 346.6h0M390.4 283.1h0M364.3 374.5h0M337.3 406.1h0M380.1 398.4h0M334.4 391.7h0M336 355.4h0M377.5 397.8h0M372.3 337.4h0M348.4 338.1h0M356.8 408.5h0M356.3 338.9h0M391.5 428.4h0M364.7 397.7h0M378.3 334.7h0M397.3 370h0M359.1 372.5h0M352.8 352.6h0M397.8 354.8h0M430.4 366.2h0M352.4 331.2h0M349.6 374.6h0M379.3 328.3h0M357.3 329.1h0M361.8 372.8h0M329.3 456.9h0M387.2 379.9h0M370.4 379.8h0M318.5 418h0M423.3 357.1h0M350.1 333.1h0M380 321.4h0M354.9 333.4h0M330.3 387.1h0M355.6 394.1h0M369.5 372.6h0M372.8 345.2h0M387.4 376h0M308.9 400.9h0M370.9 462.3h0M305.3 405.4h0M314.1 423h0M422.5 372.5h0M331.5 374.7h0M395.3 338.4h0M433.5 368.4h0M377.4 344.1h0M436.1 336.6h0M314.3 394.2h0M327.4 367.4h0M389.7 291.6h0M437.3 354.7h0M371.4 332.9h0M382.4 364.7h0M386.3 391h0M372.7 345.3h0M398.6 394.9h0M343.5 383.3h0M363.5 350.9h0M409.6 335h0M338 386.5h0M374.5 321.7h0M330.5 388.2h0M403.3 405.5h0M365.6 395.7h0M409.1 375.9h0M367.3 377.4h0M347.7 391.3h0M406.9 334h0M396.9 335.7h0M336.5 386.4h0M331.5 354.9h0M393.8 434.3h0M419.2 383h0M345.7 365.8h0M380 347.1h0M324.7 379.4h0M356.5 333h0M396.6 356h0M358.8 394.2h0M363.9 391h0M335.5 341h0M391.8 364.5h0M334.5 380h0M383.3 393.8h0M408.9 385.2h0M366 344.5h0M385.8 444.2h0M328 368.7h0M384.2 393.8h0M388.2 401.3h0M403.5 294.3h0M364 369.5h0M369.1 411h0M375.8 350.9h0M342.2 364.9h0M393.2 345.8h0M371.8 339h0M336.3 378.9h0M383.6 454h0M414.4 324.6h0M333.9 380.7h0M364.1 347.9h0M408 283.3h0M369.8 337h0M331.3 366h0M357.6 395.2h0M392.8 321.4h0M387.7 374.6h0M403 382.5h0M324.6 374.5h0M339.7 334.4h0M368.6 356.5h0M348.9 403.4h0M371.1 328.8h0M369.7 358.3h0M376.7 401.4h0M371.1 383.1h0M346.3 405.8h0M348.4 360h0M408 397.4h0M339.3 426.2h0M407 372h0M411.5 361.4h0M426.7 320.6h0M319 377.3h0M353.1 315.6h0M378 378.5h0M347.3 356.7h0M377.7 440.9h0M432.8 307.3h0M381.2 429.9h0M373.4 354.5h0M419.5 401.7h0M359.5 344.1h0M337.3 365.2h0M346 392h0M333.7 338.6h0M349.9 388.6h0M380.6 399h0M380.3 369.2h0M385.9 300.5h0M417.7 420.2h0M390.8 453.2h0M328.7 351.9h0M347.8 340.6h0M378.8 394.2h0M362 339.8h0M346.9 358h0M359.3 427.3h0M384.5 314h0M414.7 428.3h0M407.1 352.8h0M316.2 372.6h0M376.7 311h0M345.2 352.3h0M350.7 398.5h0M347.8 366.6h0M389.6 308.9h0M356.2 384.8h0M332 353h0M402.6 372h0M343.5 353.1h0M339.8 348.9h0M352.1 415.4h0M410.7 332.9h0M388.7 326h0M371 316.3h0M357.1 351.1h0M432.4 338.2h0M351.8 418.6h0M383.6 339.6h0M342.4 302.2h0M332.8 361.8h0M362.2 407h0M362 328.1h0M364.6 374.6h0M405 347.2h0M350.5 326.3h0M386.3 334.9h0M352.7 405h0M324.7 368.1h0M360.4 336h0M371.7 354.6h0M378.3 370h0M360.1 365.9h0M318.5 421.3h0M342.2 359.8h0M374.4 308.3h0M331.5 386.9h0M377.4 357.5h0M343.9 353.3h0M341.7 385.4h0M342.3 429h0M337 364.7h0M357 375.9h0M353.6 366.2h0M357.3 328.4h0M353.9 378.1h0M382.2 337.7h0M350.2 402.1h0M346.8 399.6h0M344.8 369.7h0M414.4 317.6h0M354.8 328.8h0M356.7 340.8h0M382.7 337.5h0M367 345.8h0M381.6 333.9h0M375.7 352.7h0M388.2 403.6h0M365 369.7h0M409.3 330.1h0M385.1 381.1h0M381.9 401.9h0M321.2 360h0M338.3 398.8h0M382.8 349.5h0M339.4 420.7h0M333.4 336.9h0M350.7 384.3h0M357.9 370.5h0M339.9 369.6h0M383.7 364.5h0M338.3 424.3h0M366.6 414.7h0M406.5 395.4h0M344.1 358.4h0M323 371.8h0M345.9 383.2h0M344 327h0M370.6 374.6h0M363.8 372.7h0M379 461h0M314 396.7h0M316.5 412.7h0M369.2 344.2h0M338.7 380.5h0M342.9 400.5h0M315.1 415.8h0M382.6 362h0M398.2 318.1h0M388.1 276.6h0M374.4 392.1h0M407.4 359.5h0M345.8 305.8h0M354.5 416.3h0M348.2 425.5h0M373.4 343.2h0M379.7 393.9h0M322.8 345.2h0M378.7 314.4h0M355.2 426.6h0M359.2 391.4h0M386.4 376.5h0M345.5 397.8h0M355.2 330.3h0M373.1 358.4h0M355.9 389.2h0M381.5 372.5h0M336.4 377.9h0M335.7 354.7h0M345 440.6h0M361.5 426.1h0M334.7 355h0M375.2 385.4h0M400.1 412.3h0M386.7 369.2h0M406.7 334h0M356.8 362.9h0M311.7 393.7h0M410.4 355.7h0M360.1 377.6h0M344 374.2h0M361.1 319.3h0M360.5 349.3h0M319.9 332.2h0M347.4 319.9h0M328.6 392.4h0M336.5 367.7h0M413.7 367.8h0M361.4 403.2h0M384 308.6h0M352.7 354.7h0M398 280.8h0M333 354.4h0M372.5 332.1h0M411.2 324.1h0M396 349.7h0M381.4 353.6h0M409.4 343h0M344.6 418.3h0M394.9 401.3h0M362.7 466h0M357.3 356h0M436.5 379.1h0M380.6 361.3h0M360.7 393.9h0M394 365h0M335.4 380.1h0M386.7 375.2h0M394.3 431.8h0M391.4 407.7h0M331 351.1h0M353.2 384.6h0M386 372.6h0M378.2 377h0M395.8 339.5h0M365 381.5h0M331.7 373.2h0M418.9 421.7h0M404.7 364.9h0M376.4 373.2h0M373.4 368.4h0M352.7 369.8h0M350.7 339.4h0M390.4 418.4h0M382.2 346.2h0M403.1 379.6h0M364 365.5h0M349.1 364.6h0M383.7 374.2h0M321.7 366h0M352.7 390.3h0M430.5 381.3h0M340.9 317.9h0M392.3 420.5h0M414.9 383.6h0M340.2 378.1h0M320.3 396.7h0M382.4 393.5h0M396.5 379.9h0M419.5 337.1h0M408 319.9h0M342.1 355.8h0M333.9 372.7h0M368.3 419.8h0M372.5 360.3h0M375.3 325.6h0M332.9 352.6h0M357.7 328.1h0M370.6 434h0M389.1 349h0M431.1 332h0M375.3 372.8h0M444.2 346.8h0M320.6 377.3h0M382 375.6h0M333.6 388.7h0M366 378.3h0M392.6 295h0M360.6 377.4h0M338.4 351.2h0M367.6 331.7h0M403 433.2h0M416.6 306.8h0M332 407.2h0M419.9 370.2h0M369 330.9h0M350.9 370.2h0M352.5 390.6h0M378.3 374.8h0M402.3 440.1h0M337.3 435.8h0M343.6 351.3h0M360.4 413.1h0M375.6 346.9h0M400.9 414.7h0M397.1 373.2h0M410.5 423.9h0M358.4 300.5h0M404.3 354.3h0M349.7 362.7h0M378 318.4h0M327.3 351.8h0M333.3 365.8h0M379.6 446.9h0M412.3 371.2h0M365.2 383.3h0M386.4 386.7h0M351.1 309.2h0M350.7 293.4h0M377.1 393.3h0M313.9 377.5h0M382.1 354.7h0M389.2 390.3h0M379.8 417.1h0M363.3 381.3h0M401.6 365.1h0M328.1 356.2h0M405.7 353.6h0M329.9 347.1h0M348.3 407h0M388.2 372.6h0M365.5 377.6h0M344.9 354.2h0M367.3 362.3h0M364.6 314h0M394.4 439h0M321 401.1h0M346.5 380.1h0M327.5 370.7h0M406.4 376.4h0M332.6 376.2h0M340.7 364.2h0M359.7 337.4h0M346 294.3h0M362.9 377.4h0M340.9 334.7h0M372.9 380.5h0M378.6 313.1h0M339.1 381.1h0M418.2 344.7h0M349.1 398.7h0M343.6 416.5h0M374.1 358h0M392.9 365.3h0M358.8 407.3h0M346.2 394.1h0M367.1 407.4h0M389 416.3h0M334.3 342.6h0M376.5 366.3h0M415.3 419.4h0M333.8 351h0M326.2 435.3h0M312.6 378.5h0M347.3 352.6h0M343.1 333.4h0M385.4 314h0M346.9 392.2h0M372.8 387.5h0M361.1 355.7h0M382.9 344.9h0M317.2 412.7h0M379 382.9h0M365.9 351.7h0M348.8 345.4h0M407.8 296.6h0M381 317h0M349 348.3h0M391 410.2h0M401.1 341.9h0M356.2 380.3h0M323.8 360.2h0M365.1 363.9h0M383 381h0M345.2 344.4h0M309 369.9h0M325.3 343.5h0M332.5 352.8h0M344.6 400.2h0M355.2 427.9h0M373.8 368.8h0M393.6 371.5h0M340.3 371.1h0M376.2 378.5h0M372 411.8h0M442 324.7h0M376.2 365.8h0M386.9 302h0M372.1 455.3h0M410.3 371.5h0M390.5 284h0M430.5 399.6h0M331.7 318.8h0M391.7 380.3h0M339.2 382.7h0M351.6 407.8h0M412.5 350.4h0M353.8 411.6h0M377.3 428.4h0M364.1 404.2h0M410.7 402.8h0M405.2 407h0M371 405.2h0M393.7 301.1h0M366.2 324.3h0M343.7 345.3h0M363.9 324.5h0M393.1 413.2h0M382.6 350.9h0M362.2 350.4h0M396.7 331.7h0M365.5 339.9h0M362.9 356.6h0M410.6 437.9h0M377.4 442h0M345 377.4h0M344.1 339.6h0M357.3 445.3h0M338.3 386.3h0M349.8 362.5h0M333.3 348.7h0M385.1 359.9h0M380.1 423.6h0M407.9 363.3h0M399.1 405.7h0M354.7 330.6h0M402.2 383.9h0M382.8 327.3h0M386.6 311.7h0M331.6 389.8h0M414.2 374.5h0M394.9 390.5h0M345.3 351h0M340.7 421.5h0M344 386.1h0M335.6 382.8h0M367.9 400.1h0M371.6 429.1h0M347.1 398.4h0M385.3 365.5h0M344.4 416.5h0M391.3 316.2h0M330.5 411.4h0M334.6 375.5h0M363.7 345.1h0M358.8 392.9h0M422.7 400.9h0M338.2 357.2h0M359 329.7h0M350.1 395.9h0M376.1 412.6h0M369.2 415.7h0M321.4 337.6h0M381.7 370.3h0M411.3 337.4h0M384.3 351.6h0M343.2 346.9h0M317.1 414.7h0M369.7 370.8h0M437.1 415.1h0M330.5 403.8h0M401.5 368.9h0M375.1 316.5h0M331.9 363.8h0M401.3 358.2h0M318.8 400.6h0M356.6 373.1h0M387.5 337.1h0M449.8 365.1h0M383.1 423.8h0M393.5 416.3h0M349.6 388.7h0M341.4 364h0M434.9 364.4h0M362.5 430.4h0M376.9 318h0M360.5 354.7h0M354.7 323.6h0M342.1 447.8h0M362.2 368.6h0M360.5 377.7h0M324 415.1h0M407.6 298.3h0M330.5 390.9h0M378.1 313.3h0M369.7 390.6h0M339.3 385.7h0M357.2 351.3h0M378.1 355.7h0M379.5 399.4h0M370.1 439.3h0M425.8 370h0M388.1 297.5h0M418.8 368.6h0M348.5 344.7h0M385.9 375.5h0M394.9 322.8h0M393.2 316.2h0M357.1 377.8h0M380.6 402.9h0M370.6 295.3h0M407.4 341.4h0M378.1 308.8h0M378.6 450h0M341.9 338.3h0M332.9 353.9h0M354.2 355h0M397.9 431.9h0M315.8 399.8h0M338.5 299.7h0M369.6 403.9h0M329.7 391.7h0M397 361.1h0M414.3 398.8h0M329.5 358.1h0M388 290.1h0M352.5 411.1h0M359.6 390.3h0M317 384.4h0M330.1 395.7h0M403.8 315.6h0M406.6 418.4h0M427.4 310h0M409.1 330.7h0M387.1 337.7h0M383.5 336.8h0M358.5 390.2h0M421.9 432h0M365.1 377.9h0M353.3 383.4h0M344.6 344.8h0M340.4 373.2h0M363.3 380.5h0M392.2 381.3h0M353.4 288.5h0M379.5 367.9h0M358.6 347.5h0M369.7 341.4h0M331.7 365.5h0M352.4 393.8h0M380.6 310h0M366.7 451.2h0M338.8 375.3h0M329.7 387.5h0M362.3 309.1h0M360.6 408.1h0M335.2 375.4h0M377.4 355.7h0M391.2 291.9h0M388.4 374.2h0M325 450h0M340.5 349.9h0M358.3 362.8h0M381.5 340.2h0M375.1 355.8h0M372 372h0M406.2 393.4h0M442.4 361.4h0M330 335.6h0M365.8 322.7h0M351.3 339.8h0M394.5 368.3h0M386.4 306.9h0M327.7 341.7h0M442 331.5h0M363.6 398h0M327.3 357.7h0M373.5 383.3h0M362.5 395.9h0M352 358.2h0M347 387.4h0M363.4 393.3h0M418.3 381.7h0M337.2 371.6h0M367.3 362.6h0M368.2 340.5h0M383.9 420.3h0M390.7 344.5h0M342.6 382.8h0M353.7 418.7h0M349.3 393.7h0M352.9 443.5h0M352.7 350.6h0M402.6 356.3h0M349.8 322.2h0M400.7 373.1h0M352.5 367.6h0M371.3 374h0M364.4 459.7h0M346 308.2h0M341.8 349.7h0M338.3 385.3h0M315.5 428.3h0M384.4 356.9h0M347.8 347.1h0M422.2 388.6h0M364.8 403.9h0M361.5 365.4h0M401.5 388.3h0M433.4 409.5h0M317 382.6h0M367.6 319.1h0M344.3 389h0M403.2 348.8h0M329.9 360.3h0M368.2 376.6h0M366.2 356.2h0M357.9 386.3h0M369.4 349h0M409.3 413.1h0M339.2 388.2h0M376.6 385.8h0M408.6 387.5h0M335 425.7h0M390.2 279.6h0M355.1 282.9h0M352.5 376.1h0M334.6 430.5h0M373.5 342.1h0M321.4 406.7h0M400.9 347.9h0M369 417.7h0M349.6 397.5h0M380.9 360.1h0M355.9 313.1h0M441.2 338.3h0M425 390.9h0M418.3 413.5h0M398.5 362.5h0M389 433.2h0M382.9 365h0M352.6 335.5h0M361.9 375.7h0M387.6 376.5h0M319.4 358.4h0M353.4 348.6h0M401.5 397.2h0M393.2 290.7h0M339.3 450.6h0M343.8 365.7h0M325.7 407.5h0M383.3 347.7h0M329.6 324.4h0M398.2 375.1h0M402.9 398.5h0M392.1 366.3h0M361.2 389.6h0M370.1 445.8h0M357.7 407.5h0M443.5 370.6h0M405.3 384.1h0M369.9 319.4h0M352.8 385.1h0M434 339.1h0M325.3 364h0M366.9 369.6h0M346.7 323.7h0M316.8 374.8h0M347.7 407.3h0M391.4 345.2h0M371.5 344.5h0M347.1 368.5h0M342.5 322h0M401.3 375.8h0M426.7 324.4h0M379.9 435.1h0M340.2 412.5h0M366.2 379.6h0M333.4 359.8h0M382.9 446.2h0M422 314.1h0M377.9 371h0M324 370.3h0M364.7 344h0M358.6 344.4h0M334.7 379.8h0M331.7 399h0M356.5 397.9h0M373.2 415.7h0M337.4 317.5h0M386.1 312h0M373 405.4h0M430.5 412.6h0M409.2 402.1h0M370 376.5h0M393.3 437.1h0M430.2 382.5h0M397.1 377.3h0M378.6 326.3h0M367.7 446.2h0M391 307.9h0M333.5 382.3h0M424.7 374.9h0M391.1 406.8h0M409.6 407.5h0M340.2 375.8h0M415.5 368.3h0M434.2 413.8h0M373 411.5h0M383.7 320.5h0M390.2 340.4h0M347.4 347.7h0M343.8 360.7h0M369.8 448.8h0M398.8 433h0M353.6 369.1h0M363.5 367.6h0M400.7 404.1h0M409.2 382.8h0M404.3 360.1h0M365.7 351.6h0M406.9 434.1h0M391 421.7h0M375.8 371.1h0M376 330.7h0M419.8 380h0M360.5 432.1h0M375 442.7h0M386.8 417h0M357.6 402.8h0M383.8 392.9h0M395.3 415.3h0M394.6 446.3h0M388.1 358.6h0M365.7 392.3h0M404.5 354h0M369.5 337.6h0M374.9 411.5h0M419.5 360.9h0M383.7 325.2h0M379.5 352.3h0M356.1 398.4h0M407.9 423.9h0M400.3 378.5h0M393.1 405.9h0M407.4 386.3h0M416.9 401.5h0M439.9 356.1h0M408.2 343.3h0M363.7 424.5h0M395.1 378.3h0M361.2 415.1h0M369.2 389.3h0M361 368.2h0M375.6 353.8h0M390.9 355.1h0M376.4 368.9h0M379.1 317.7h0M371.5 343.6h0M371.7 394.7h0M421.8 310.5h0M354.6 438.4h0M371.6 371.9h0M353.7 332h0M379.8 431.2h0M425.6 385.8h0M389.7 404.5h0M387.4 339.9h0M359.1 390.7h0M389.1 400.5h0M409.2 373.4h0M374.2 358.6h0M389.7 386.7h0M432 328.2h0M441.6 339.7h0M331.4 390.2h0M384.9 422.6h0M369.8 339.4h0M335.7 411.4h0M441.4 382.2h0M364.2 401.1h0M383 425.2h0M365.1 424.3h0M382.3 344.7h0M397.6 342.6h0M338.3 357.7h0M370.2 396.7h0M415.1 324.8h0M424.8 401h0M446.4 343.7h0M399.9 335.6h0M416.8 339.4h0M400.8 394.6h0M343.4 413.4h0M360.3 368.5h0M415.8 356.1h0M411.2 421.5h0M399.4 365.4h0M385.3 405.8h0M414.4 352.1h0M438.8 409.1h0M399.2 418.2h0M355.7 328.2h0M400.7 368.5h0M382.4 350.1h0M397.3 331.7h0M417.9 385.8h0M440.2 398.6h0M441.8 374.1h0M417.5 345.6h0M339.5 369.9h0M374.3 416.5h0M412.1 407.3h0M420.3 322h0M350.7 385.4h0M432.1 392h0M400.4 334.1h0M387.9 409.7h0M411.7 416.1h0M388.6 419.5h0M328.7 383.1h0M348.3 347.8h0M381.9 306.9h0M353.7 334.9h0M384.7 426.7h0M356.6 406h0M378 362h0M424.9 331.4h0M359.4 363.9h0M408.4 333.9h0M397.1 388.7h0M410.3 400.7h0M365.6 402.7h0M396.6 345.1h0M360.2 433.1h0M347.2 384.3h0M367.1 395.6h0M434.7 341.2h0M416.7 430.6h0M411.5 337.4h0M414.9 361.2h0M397.1 347.3h0M381.9 451.7h0M442.8 326h0M354.5 410.3h0M388.6 384.8h0M397.3 433h0M438.6 336h0M357.3 352.5h0M381.3 408.7h0M381 390.3h0M404.6 391.1h0M447.9 372.7h0M329.4 394h0M398.1 361h0M380.6 351.4h0M443.1 354.7h0M359.4 393h0M363.7 356.6h0M357.9 337.3h0M369.6 323.2h0M380.3 382.2h0M359.6 360.2h0M381.1 421.8h0M402.3 339h0M351.6 414h0M412.8 311.9h0M401 355.3h0M415 402.3h0M353.1 355.3h0M427.9 351h0M384.7 402.2h0M355 380.2h0M441.2 367.7h0M382.7 339.6h0M393.2 312.6h0M397 371.9h0M387.2 353.5h0M394.3 433.5h0M392.5 377.2h0M394.3 356.2h0M376.6 444.5h0M432.8 370.5h0M421.5 371.5h0M352.9 392.2h0M371.5 342.1h0M387.4 443.6h0M369.4 417.5h0M400.9 380.1h0M371 362.5h0M347.9 329.2h0M426.1 363.5h0M395 365.4h0M342.2 418h0M395.7 384.1h0M381.8 342.5h0M391.2 358.5h0M402 392.5h0M373.6 423.8h0M408.7 371.8h0M368.4 355.7h0M408.5 382.8h0M427.6 390.9h0M446.7 346.2h0M394.9 373.9h0M429.4 395.2h0M369.3 334.6h0M339.2 406.8h0M433.9 318h0M353.3 368h0M397 357.3h0M371.7 396.4h0M374.6 439.9h0M407.9 412.7h0M456.6 351.9h0M423.2 389.2h0M402.8 419.3h0M422.8 347.1h0M338 374.4h0M399.2 359.7h0M410.9 395.9h0M382 333.5h0M353.1 333.4h0M386.8 419.8h0M445.6 352.1h0M373.9 424.1h0M398.6 385.6h0M343.5 367h0M384.9 417.9h0M447.6 361h0M405.7 434.9h0M388.1 440.7h0M363.2 360h0M402.9 372.3h0M334.9 392.1h0M420.9 319.8h0M400.7 346.3h0M361.4 382.6h0M399.5 369.9h0M358.2 414.9h0M377 418.4h0M393.2 390.1h0M359.8 377.8h0M399.6 373h0M416.7 363.9h0M378.9 431.5h0M444.3 411.9h0M377.9 395.1h0M373 365.4h0M370.3 327h0M360.5 372.4h0M372.9 337h0M354.7 359.6h0M398.9 387.4h0M409.2 396.5h0M365.3 420.8h0M349.5 369.3h0M393.6 374.9h0M368.4 402.4h0M329.8 399.4h0M390.4 404.5h0M396.4 394h0M361.1 328.9h0M438.3 428.9h0M413.2 400.7h0M387.3 388.7h0M415.9 431.7h0M347.3 342.8h0M367.2 391.6h0M428.3 366.3h0M356.9 439h0M379.5 355.8h0M360 411.3h0M371.2 380.1h0M382.2 320.6h0M381.1 424.6h0M421.8 357.8h0M350.8 338.1h0M376.7 383h0M403.1 323.4h0M384.7 344.9h0M384.5 378.2h0M381 362.6h0M375.6 368.1h0M450.2 370.9h0M414.5 353.8h0M407.5 369.6h0M379.9 325.2h0M405.2 305.8h0M412.9 362.1h0M401.7 384h0M337.1 389.2h0M378.2 405.2h0M417.6 332.7h0M435.9 348.8h0M365.5 378h0M372.2 323.7h0M371.9 382.9h0M400.6 310.1h0M410.9 339.4h0M362.6 367.1h0M353.3 370.5h0M400.5 352.2h0M362 359.6h0M363.5 321.2h0M397.7 408.1h0M360.3 367.3h0M355.3 409.8h0M380.4 453.1h0M370.3 409.6h0M387.6 348.6h0M440.6 340.6h0M419 338.1h0M358.3 350h0M387.9 346.4h0M402.5 375.2h0M350 401h0M395.8 325.4h0M367.5 433.5h0M439.9 358.4h0M412.2 394h0M344.9 404.6h0M386.9 401.8h0M377.1 364.4h0M427.8 384.5h0M429.2 404.6h0M359.1 418.3h0M386 391.7h0M388.6 370.6h0M382.9 404.4h0M407.7 395.8h0M407 339.8h0M430.9 322h0M333.1 364.8h0M430.9 432.8h0M436.1 392.9h0M392.1 371.1h0M422 315.3h0M369.4 388.6h0M392.9 334.9h0M365.1 326.4h0M388.1 398.7h0M376.1 426.4h0M442.7 403.2h0M402.4 386.5h0M424.7 422.5h0M365.5 397.7h0M413.2 417.1h0M407.7 402.8h0M401 401.7h0M390.3 399.2h0M345.2 352.2h0M395 422.6h0M403.3 370h0M447.7 373.6h0" style="fill:none;stroke:#ff0000;stroke-opacity:0.685;stroke-width:1.66;stroke-linecap:round"/><path d="M268.3 325.9h0M287.3 265.8h0M274.4 316.5h0" style="fill:none;stroke:#d4d4ff;stroke-opacity:0.755;stroke-width:1.66;stroke-linecap:round"/><path d="M203 340.5h0M206.3 377.7h0M170 347.2h0M209.4 267.9h0M263 267.5h0M200.8 353.3h0M173.8 269.8h0M176.3 363.7h0M213.8 291.7h0M185.7 283.9h0M221.2 306h0M255.4 254.4h0M160 259.3h0M221.9 299.4h0M252.8 324.4h0M226.9 270.7h0M269.4 321.9h0M253.9 270.5h0M272.7 279.7h0M156.3 264.3h0M183.7 259.3h0M213.2 406.8h0M176.3 288.4h0M241 263.1h0M199.7 311.6h0M219.8 405.6h0" style="fill:none;stroke:#aaaaff;stroke-opacity:0.755;stroke-width:1.66;stroke-linecap:round"/><path d="M190.3 352.1h0M201.6 295.3h0M219.3 366h0M208.5 339.1h0M193.8 305.3h0M191.8 334.5h0M208.6 323.8h0M239.6 325.5h0M195.7 326.2h0M264 264.4h0M239.3 314.1h0M249.7 306.7h0M274 320.9h0M215 261.6h0M172.1 286.8h0M233.7 244.4h0M198.6 333.4h0M239.6 285h0M233.9 287.8h0M210.8 289.1h0M189.5 289.3h0M246.1 345h0M178.1 262.3h0M232.8 255.2h0M240.6 255.8h0M156.2 339.7h0M224.9 276.4h0M182.6 330.8h0M161.5 286.6h0M208.1 350.5h0M223.3 261.6h0M140.2 326h0M183.6 356.4h0M215.1 292.8h0M223.2 380.2h0M252.2 288.6h0M204.9 267.8h0M183.4 259.3h0M244.4 332.3h0M181.5 316.5h0M248.4 277.1h0M184.2 295.5h0M162.6 327.6h0" style="fill:none;stroke:#8080ff;stroke-opacity:0.755;stroke-width:1.66;stroke-linecap:round"/><path d="M238.3 317.2h0M264.8 366.9h0M214.2 369.6h0M243.2 339.9h0M264.3 351.8h0M223.2 332.4h0M279.5 320.2h0M228.3 347.1h0M258.4 288.9h0M218.5 320.2h0M220.2 360h0M258.3 331.8h0M237.3 386.2h0M273.8 291.9h0M276.8 292.4h0M238.2 306.7h0M233.8 297h0M221.1 305.1h0" style="fill:none;stroke:#5555ff;stroke-opacity:0.755;stroke-width:1.66;stroke-linecap:round"/><path d="M225.9 337.2h0M219.6 358.6h0M234.9 313.6h0M242 351.9h0M215.5 342.9h0M241.3 349h0" style="fill:none;stroke:#2a2aff;stroke-opacity:0.755;stroke-width:1.66;stroke-linecap:round"/><path d="M244.5 326.2h0M247.5 319h0" style="fill:none;stroke:#0000ff;stroke-opacity:0.755;stroke-width:1.66;stroke-linecap:round"/><path d="M289.4 493.6h0M296.7 483h0M382.7 526.9h0M277.9 480.3h0M282 459.4h0M288.3 487.8h0M305.9 319.2h0" style="fill:none;stroke:#ffd4d4;stroke-opacity:0.755;stroke-width:1.66;stroke-linecap:round"/><path d="M318.1 292.8h0M282.1 422.7h0M331.9 499.3h0M287.6 407.2h0M372.5 505.7h0M294.2 362.3h0M311.8 476.9h0M333.7 500.4h0M364.5 546.4h0M374.2 257.5h0M370.8 537.1h0M362.9 539.4h0M317.1 498.8h0M297.8 467.1h0M302.5 449.2h0M366.2 531.3h0M371.5 524.1h0M315.3 478.9h0M354.8 528.3h0M314.6 502.6h0M317.6 311.6h0M332.5 515.5h0" style="fill:none;stroke:#ffaaaa;stroke-opacity:0.755;stroke-width:1.66;stroke-linecap:round"/><path d="M402 481.6h0M300.1 426.6h0M456.8 290.3h0M404.9 462h0M387.9 484.4h0M424.6 281.4h0M390.4 254.7h0M341.5 482.9h0M367.1 489.7h0M324.5 473.3h0M385.2 467.6h0M322.8 289.5h0M387.2 477.6h0M370.5 462.7h0M413.7 242.7h0M368.1 484.1h0M308.6 386.4h0M346.1 294.1h0M338.1 305.3h0M353.4 278.2h0M341.1 485.4h0M342.6 309.1h0M320.1 471.8h0M376.2 503.2h0M425.1 264.5h0M380.3 261.1h0M327.7 476h0M369 278h0M317.3 464.5h0M387.6 504.5h0M451.8 264.4h0M343.9 482.8h0M442.3 257.3h0M322.1 483.6h0M326.4 325.7h0M390.5 490.8h0M340.1 496.3h0M391 496.5h0M340.5 472.1h0" style="fill:none;stroke:#ff8080;stroke-opacity:0.755;stroke-width:1.66;stroke-linecap:round"/><path d="M444.3 318.5h0M366.9 474h0M396.1 275.3h0M308.2 331.1h0M440.1 295.7h0M319 452.3h0M439.7 323.6h0M345.3 279.3h0M449.9 325.4h0M416.1 298.4h0M431.4 313.5h0M378.7 468.6h0M380.3 444.5h0M408.8 449.3h0M300.7 398.5h0M404.1 429.7h0M363.8 276.9h0M416.5 444.7h0M317.2 428.3h0M420 283.6h0M422.1 294.4h0M320.3 344.3h0M359.3 483h0M314.5 419.8h0M336.7 450.8h0M367.3 474.2h0M350.1 471h0M351.2 459.1h0M355.2 449.9h0M324.4 450.9h0M341 454.2h0M334.8 446.6h0M437.3 279.8h0M326.4 341.7h0M359.7 293.1h0M352.8 301.6h0M453.4 287h0M356.6 308.8h0M401.7 462.8h0M388.7 280.9h0M328.5 417.8h0M449 299.8h0M394.6 277.1h0M326 353.2h0M334.4 446.1h0M357.6 463.3h0M402.4 279.7h0M328 451.6h0M339.4 330.9h0M354.8 469.5h0M425.3 284.3h0M388.9 478.4h0M337.6 429.7h0M383.1 465h0M407.7 294h0M359.4 302.6h0M389.2 462.8h0M440.9 296h0M330.8 435.3h0M332.9 350.8h0M331.8 438.1h0M319.9 411.2h0M351.6 474.7h0M371 296.9h0M322 407.4h0M359.2 304h0M407.7 278.4h0M384.9 461.3h0M322.5 421.2h0M349 466.3h0M316.6 432.8h0M361 486.8h0M362.9 465.4h0M403.6 472.6h0M444.7 304.9h0M334.7 341.7h0M344.6 303.8h0M426.6 306.1h0M325.3 431.3h0M435.2 294.3h0" style="fill:none;stroke:#ff5555;stroke-opacity:0.755;stroke-width:1.66;stroke-linecap:round"/><path d="M414.8 422.7h0M348 290.8h0M310.9 372.6h0M324.2 451.2h0M410.2 444.8h0M416.1 304.4h0M430.6 343.4h0M369.9 441.7h0M330 432.6h0M314.4 427.7h0M433 334.4h0M379 286.4h0M321.6 320.8h0M343.6 286.3h0M328.3 426.8h0M381.7 272.3h0M354.3 461h0M423.2 315.3h0M412.6 416.9h0M433.8 307.6h0M423.4 380h0M372.7 446.9h0M435.6 318.2h0M396.6 295.1h0M315.5 353h0M436.3 349.3h0M394.7 456h0M430 306.6h0M431 328.2h0M344.7 419.3h0M437.6 317h0M371.6 452.2h0M414.6 446.5h0M360.4 439h0M371.4 311.4h0M327.5 413h0M413.3 308.1h0M399.9 305.2h0M407.1 312h0M415.7 440.5h0M356.2 340.6h0M393 314.3h0M390.1 458h0M366.9 447h0M404.7 460.8h0M332.9 401.3h0M332.6 364.8h0M384.4 314.1h0M405.7 451.8h0M392.6 299.9h0M376.1 307.4h0M401.5 297.5h0M403.2 300h0M358.6 333.6h0M448.5 316.6h0M367.5 305.2h0M336.2 360.1h0M365.9 436.5h0M397.7 438.7h0M451.5 334.9h0M341.6 430.7h0M333.6 357.1h0M346.9 398.1h0M375 314.2h0M389.9 298.2h0M363.9 322.5h0M403.7 442.6h0M428.2 304.7h0M449.7 337.6h0M351.6 452.1h0M441.6 321.4h0M379.4 442.4h0M381.3 453.2h0M344.9 334.4h0M418.2 306.3h0M421.1 299.3h0M339.9 429h0M394.8 458.3h0M438 334.6h0M439.5 325.1h0M324 419.8h0M412.5 295.7h0M341.9 427.5h0M334.1 352.6h0M349.4 323.6h0M426.8 314.3h0M331.9 396h0M370 433.1h0M408.6 425.8h0M406.8 435.6h0M408.5 455.4h0M338.2 339.5h0M351.9 337h0M385.2 454.4h0M438 336.3h0M391 465.9h0M395.4 449.3h0M360.8 442.7h0M361.4 449.1h0M382.4 431.1h0M432.2 318.8h0" style="fill:none;stroke:#ff2a2a;stroke-opacity:0.755;stroke-width:1.66;stroke-linecap:round"/><path d="M327.7 353.7h0M372.6 384h0M392 344.5h0M340.5 449.5h0M348.5 314h0M350.5 314.2h0M338.6 384.4h0M365.5 362.7h0M374.9 373.6h0M379.4 292.1h0M327.3 412h0M373.6 402.6h0M361.2 400.2h0M385.6 378h0M379.3 369.3h0M368.9 381.4h0M327.1 315h0M393.9 393.5h0M335.3 339.2h0M406.4 338.3h0M383.1 287.1h0M323.7 389.4h0M351.7 414h0M417.1 338.7h0M417.9 344.1h0M362.4 363.6h0M344.1 310.9h0M311.4 405.6h0M385.4 366.5h0M356.8 402.4h0M374.8 311.6h0M377.7 385.7h0M367.4 384.9h0M395 397.9h0M363.2 343.7h0M371.1 402.2h0M321.1 383.1h0M372.8 361h0M362.7 366.7h0M386.9 377.5h0M390.2 388.9h0M356.9 378.2h0M397.4 289.1h0M326 351.1h0M360.7 434.2h0M401.6 322.7h0M399.4 356.8h0M353.5 389.3h0M331.7 362.4h0M383.7 325.1h0M370 321.8h0M318.9 323.9h0M355.6 347h0M348.4 413h0M407.6 363.1h0M371.2 356.1h0M376.9 359.6h0M309.1 379.6h0M423.2 360.8h0M351.7 398h0M411.4 407.9h0M373.1 352.6h0M424.2 398.3h0M348.3 362.6h0M377.4 318.5h0M358.6 369.3h0M343.6 296h0M391.6 330.8h0M370.4 410.5h0M419.2 345.7h0M412.5 320.1h0M368.6 372.6h0M385.8 392.9h0M337.5 322.2h0M376.9 329.6h0M345.1 362.7h0M364.7 412.8h0M385.2 338.6h0M388 391.5h0M386.3 362.7h0M406.8 414.3h0M365.5 412.3h0M370.2 351.4h0M365.1 339.3h0M374.2 332.9h0M388.5 329.8h0M410 414.2h0M392.9 411.2h0M351.9 332.8h0M430.4 337.1h0M403.8 319.3h0M372.3 314.6h0M359 336.6h0M413.4 350.8h0M397.9 320.9h0M340 406.8h0M341.6 323.3h0M389.2 393.1h0M319.3 356.1h0M341.3 396.3h0M418.8 401h0M367.8 357.7h0M345.9 416.2h0M369.2 319h0M335.4 321.5h0M406.8 314.3h0M365.8 282.6h0M391.6 391.4h0M386 332.7h0M349.2 334.9h0M425.9 394h0M366.9 416.4h0M396.8 421h0M360.8 384.7h0M404.4 417.1h0M406.6 377.4h0M330.7 348h0M399.3 291.7h0M327.4 347h0M359.1 314.7h0M339.2 388.3h0M343.6 331h0M353.9 342.7h0M420 325.5h0M322.4 375.4h0M364 385.2h0M395.9 352.8h0M416.6 346.3h0M398.1 320.3h0M412.3 322.3h0M338.6 365.6h0M368.9 397.6h0M361 340.9h0M321 364.1h0M378.5 364.9h0M353.6 382.5h0M382.3 318.3h0M335.8 356.3h0M393.5 324.7h0M336.1 350.6h0M326.1 344.8h0M415.7 372h0M346.9 362.4h0M396.6 315.7h0M399.5 348.8h0M336.2 380h0M418.6 364.6h0M376.3 399.8h0M340.3 382.9h0M418.1 347h0M368.7 408.5h0M396 385.9h0M354.8 407h0M351.7 409.9h0M360.2 397.7h0M384.8 281.7h0M381.4 397.6h0M327.4 408.3h0M359.4 338.5h0M381.9 426.7h0M391.3 290.3h0M309.2 388.5h0M393.1 416.4h0M397.7 313.7h0M384.1 375.2h0M415.1 400.6h0M350.3 322.2h0M378.3 299.9h0M363.5 378.9h0M328.8 390.5h0M391.6 330.9h0M409.8 379.5h0M365.4 339.2h0M331.1 367.2h0M397.1 396.6h0M330.8 387.1h0M409.5 319.6h0M324.6 420.4h0M356 304.1h0M346.1 389.1h0M399 358.8h0M341.5 341.7h0M335.6 359.3h0M378.3 353.7h0M368.4 316.7h0M344.9 367.7h0M342.1 332h0M420 325.6h0M389.4 407.6h0M396.4 428.4h0M387.2 423.8h0M360.9 385.9h0M395.4 291.6h0M394 411.6h0M413.8 396.5h0M431.1 376.6h0M376.2 338.3h0M388.6 370.1h0M416.8 377.9h0M364.7 338.1h0M367.5 400.7h0M330.2 343.8h0M390.6 347.6h0M406.1 388h0M381.1 329.4h0M347.2 402.7h0M322.6 381.2h0M341.6 391.8h0M381.7 291h0M399.8 369.5h0M359.2 366.2h0M375.2 361.3h0M373.3 339.5h0M385.2 426.3h0M403.5 406.2h0M327.1 326.1h0M332.1 427.5h0M324.8 360.6h0M360.1 342.3h0M382.3 288.5h0M330.7 385.7h0M361 379.6h0M338.2 377h0M391.7 356.9h0M340.8 355.1h0M395.3 352h0M381.5 336h0M375.4 352.7h0M327.5 419.2h0M323.2 347.6h0M371.9 391.5h0M405.6 424.2h0M349.8 405.2h0M350.3 346.5h0M329.5 325.1h0M425.8 368.2h0M388.6 302.4h0M303.7 388.8h0M342.2 369.9h0M344.1 390h0M407.1 340.2h0M362.9 393.4h0M392.8 355.2h0M394.4 402.8h0M362.1 365.6h0M384.9 374h0M375.9 348.6h0M322.5 358.1h0M328.1 423.7h0M432.3 380.9h0M410.1 337.5h0M373.3 414.6h0M393.8 369.7h0M367.7 380.1h0M349 380.9h0M343.9 448.2h0M416.4 338h0M351 356.8h0M364.3 311.6h0M370.8 350.5h0M342.3 348.3h0M360.8 359h0M360.1 380.7h0M359.2 374.8h0M372.5 376.8h0M325.1 404.5h0M348.9 334.3h0M355.7 363.8h0M379.8 342.3h0M359.2 323.5h0M363.3 335.3h0M335.8 329.4h0M379.1 364.6h0M355.9 359.7h0M330.4 357.3h0M388.2 380.7h0M418.4 396h0M403 399.6h0M361.4 328.1h0M358.8 376.5h0M327 353.1h0M398.3 344.4h0M350 391h0M434.5 369.5h0M396 409h0M335.7 367.6h0M336 363.4h0M362.1 313.7h0M366.6 366.3h0M392.6 308.8h0M341.1 344.9h0M379.6 384.4h0M383.9 343.9h0M391.4 350.3h0M320.6 376.1h0M403.2 352.3h0M316.5 418.5h0M358.6 397.1h0M379 345h0M340.7 375.6h0M351.3 398.6h0M323.8 330.2h0M323.2 367.3h0M361.8 345.5h0M427.7 340h0M409 315.2h0M382.5 385.4h0M354.9 377.5h0M341.6 425.8h0M366.2 318.7h0M366.2 320.2h0M365.3 364.6h0M346.8 317.9h0M396.7 305.2h0M324 409.2h0M360.4 347.4h0M373.9 318.6h0M357.2 437.9h0M365 357.6h0M356.2 394.7h0M310 394.2h0M399.8 396.6h0M348.4 356.6h0M342.9 388.6h0M343.1 420.6h0M340.4 373.2h0M371.2 393.5h0M370 359.2h0M357.9 365h0M376.2 436.2h0M369.3 355.6h0M422.2 337.7h0M340.5 401.2h0M366.7 431.5h0M360.9 422.9h0M411.4 355.3h0M333.6 362.8h0M329.4 405.5h0M401.3 386.1h0M313.4 392.9h0M363.3 376.4h0M350.3 372.8h0M381.1 447.3h0M312.1 366.4h0M374.8 391.8h0M371.1 380.4h0M401.9 408.9h0M395 331.4h0M346.5 344.4h0M388.7 330.3h0M369.1 359.6h0M314.9 374.1h0M384.4 370.7h0M353.6 319.4h0M335.1 410h0M350 392h0M374.7 338h0M319.5 365h0M400 317h0M339.2 432h0M354.2 426.6h0M339.3 395.6h0M368.4 354.3h0M335.4 339.1h0M360.5 355.4h0M383 394.9h0M346 359.2h0M381.7 338.1h0M386.5 393.8h0M336.7 355.3h0M336 337.8h0M371.7 357.3h0M391.2 333.3h0M336.2 350.2h0M352.5 343h0M416.7 315.4h0M377.4 397.9h0M332.9 380.2h0M420.8 346.7h0M322.7 331.7h0M384 337.8h0M356.2 373.2h0M437.5 353.9h0M333.6 342.8h0M376.2 289.3h0M361.1 373.7h0M331.8 373.3h0M344.1 349.5h0M358.1 317.7h0M348.4 387.5h0M416.8 340.1h0M348.4 378.4h0M373.5 356.7h0M380 311.6h0M328 382.2h0M360.6 398h0M358.8 353.9h0M324.2 395.9h0M421.2 380h0M317.7 367.3h0M381.8 352.2h0M376.3 429.4h0M358.3 382.8h0M366.1 416.6h0M336.4 434.9h0M356.7 381.7h0M397.8 341.4h0M384.8 397.9h0M383.5 435.3h0M361.8 339.6h0M332 385.7h0M351.1 322.6h0M396.3 369.5h0M379.3 347.6h0M344.3 338.5h0M345 356.8h0M345 339.7h0M334.3 396.3h0M350.3 378.4h0M314.3 368.8h0M364.9 405.5h0M398.1 392.1h0M376.3 382.8h0M385.2 370.2h0M329.8 404.7h0M415.5 351.2h0M399.3 389.9h0M379.4 361.9h0M352.5 410.9h0M335 358.4h0M313.6 377.6h0M378.8 333.1h0M365.1 297.5h0M414.1 358.7h0M371.3 378.6h0M347.3 339.2h0M373.1 339.5h0M332.5 361.1h0M353.7 348.9h0M346.1 372h0M373.1 352.9h0M374.4 341.4h0M342.9 384.6h0M361.4 383.8h0M333.8 373.7h0M313.5 363.3h0M365.9 357.3h0M343.3 370.9h0M335 317.8h0M404.9 408h0M371.3 383.1h0M342.3 372.2h0M385.6 389.1h0M401.3 384.8h0M324.2 338.9h0M373.6 403.7h0M311.5 412h0M382.6 409.8h0M366.6 346.5h0M395.9 319.6h0M319.4 374.5h0M305.3 388.6h0M343.6 347h0M403.9 352.9h0M330.8 388.9h0M355.5 403.7h0M363.4 337.2h0M333.2 385.5h0M357.3 324.9h0M385.7 395.3h0M372.9 395.5h0M421.5 435.5h0M375.5 343.8h0M392.3 324.4h0M398.6 374h0M356 338.3h0M375.7 332.8h0M355 391.9h0M399.6 331.3h0M341.3 355.1h0M409.8 437.8h0M415.8 408.6h0M431.6 338.3h0M392.9 421.4h0M363.3 349.7h0M399.3 351.4h0M386.9 335.3h0M392.5 334.9h0M340.1 413.1h0M369 420.6h0M389.2 385h0M410.5 426.3h0M348.4 400.1h0M421 406.9h0M416.9 338.8h0M366.2 351.5h0M407.2 360.8h0M417.1 420.7h0M416.9 320.6h0M410.5 365.9h0M395.5 359.7h0M387.9 406.5h0M376.4 318.5h0M396.1 367.2h0M355.8 349.6h0M390.7 383.6h0M372.6 427.1h0M380.6 431.3h0M392.6 359.1h0M365.5 410.1h0M384.8 340.8h0M401.8 376.5h0M378.8 431.5h0M363.1 373.6h0M366.6 399.3h0M410.4 403.6h0M363.5 370.7h0M416.5 380.3h0M348.8 399.7h0M375.8 343.4h0M417.3 352.9h0M402.1 352.2h0M410.8 403.7h0M435.7 363h0M385.5 332.8h0M372 347.9h0M386.8 414.6h0M374 365.1h0M381.5 371.9h0M384.5 318.5h0M376.7 423.4h0M383.5 412.1h0M396.2 360.3h0M416.9 393.5h0M392.6 335.6h0M346.8 386.8h0M371 402.9h0M411.4 393.3h0M354.9 371.3h0M390 433h0M364 392.3h0M363.2 403h0M416.6 414.2h0M384.2 335h0M430.4 357.9h0M415.4 375.9h0M359.7 330.3h0M365.4 340.5h0M399.7 434.4h0M422.9 367h0M392.6 344.5h0M429.5 337.1h0M387.9 344.7h0M418.6 311.2h0M358.1 371.3h0M367.3 348.1h0M351.5 424.8h0M414.1 438.9h0M432.1 351h0M374.8 400.6h0M404.2 362.8h0M414 363.5h0M361.1 388.1h0M418.5 397.9h0M401.9 375.5h0M334.4 358.7h0M404.9 396.1h0M379.8 396.9h0M362.7 338.3h0M383.6 333.1h0M340.2 400.8h0M377.3 420.1h0M408.6 337.3h0M372.4 321.5h0M354.5 371.9h0M431.2 389.6h0M429 353.3h0M366.2 418.6h0M410.4 357.4h0M416.4 400.3h0M364.9 381.3h0M347.6 415h0M419.8 381.9h0M423.1 379.9h0M398.5 425.7h0M405.6 358.1h0M380.7 348.2h0M385.6 313.5h0M413.9 334.2h0M355.9 387.3h0M407.8 415.4h0M401.8 387.2h0M385.2 362.1h0M415.8 359.1h0M358.6 400.1h0M363.1 370.7h0M422.5 383.3h0M369.9 423.4h0M393.2 314.3h0M369.5 389.7h0M396.2 325.5h0M394.5 313.5h0M382.4 361.4h0M366.1 359.1h0M381.1 430.2h0M395.3 365.2h0M345.9 364.1h0M387.5 347.4h0M437.1 370.8h0M370.9 370.6h0M348.1 356.6h0M384.2 353.7h0M390.5 345.3h0M366.9 370h0M351.3 358.9h0M400.6 415h0M409.3 364.9h0M386.8 319.4h0M354.3 356h0M346.1 381h0M403.6 367.3h0M370.4 325.1h0M412.4 409.2h0M354.1 355h0M351.8 378.7h0M389.4 442.2h0M402.7 323h0M382.6 389.3h0M359.9 380.9h0M412.6 393.8h0M398.3 368.2h0M388.5 434.2h0M397.4 314.3h0M391.3 378h0M414.8 436.5h0M398.1 388.9h0M372.5 374.1h0M357.5 331.9h0M349.6 339.5h0M354.7 324.5h0M367.4 378.5h0M408.8 411.2h0M400.4 400.5h0M397.6 386.4h0M388.6 418.5h0M349.3 388.7h0M418.9 346.6h0M407.9 374.5h0M383.3 326.2h0M398.3 334.8h0M398 399.7h0M365.9 387.5h0M344.6 364.6h0M375.2 343.4h0M378.6 355.3h0M395.7 326.7h0M393.8 374.9h0M371 351.6h0M365.6 345.2h0M416.6 374.2h0M365.3 360.7h0M366.2 374.4h0M420.3 372.9h0M394.9 349.2h0" style="fill:none;stroke:#ff0000;stroke-opacity:0.755;stroke-width:1.66;stroke-linecap:round"/><path d="M222.2 301.7h0M262 263.3h0M214.8 296.9h0M191.9 291.1h0M256.8 266.1h0M203.6 299.7h0M253.4 291.1h0M230.4 265.4h0" style="fill:none;stroke:#d4d4ff;stroke-opacity:0.825;stroke-width:1.66;stroke-linecap:round"/><path d="M137.5 260.8h0M199.8 322.6h0M192.8 314.1h0M236.1 276.8h0M183.4 298.8h0M151.7 259.6h0M144.8 263.4h0" style="fill:none;stroke:#aaaaff;stroke-opacity:0.825;stroke-width:1.66;stroke-linecap:round"/><path d="M284.3 371.7h0M371.2 523.5h0" style="fill:none;stroke:#ffd4d4;stroke-opacity:0.825;stroke-width:1.66;stroke-linecap:round"/><path d="M384.1 492.7h0M385.9 478h0M302.3 407.5h0M344.6 480.1h0M378.3 486.3h0M329.7 485h0M412.9 278.4h0M320.6 301.1h0M288.3 443.3h0M296.2 430.6h0M393.9 269.8h0M323.4 279.1h0M353.7 521.3h0M354.3 495.1h0M283.1 432.3h0M362 509.6h0M342 267.3h0" style="fill:none;stroke:#ffaaaa;stroke-opacity:0.825;stroke-width:1.66;stroke-linecap:round"/><path d="M416.4 284.4h0M305.8 378.4h0M303.6 437h0M326.9 384.6h0M315.8 378.3h0M371.1 433h0M427.8 302.8h0M350.2 445.4h0M330.9 291.7h0M346.3 281.4h0M365.1 434.7h0M329.8 427.2h0M340.2 469.8h0M369 266h0M351.8 432h0M412.5 289h0M349.2 435.1h0M306.4 321.7h0M401.3 263.6h0M372 426h0M393.1 431.3h0M304.9 408.9h0M304.1 424.7h0M427.8 299.2h0M370.8 444.5h0M379.5 459.2h0M396.7 400.7h0M338.1 481.1h0M354.9 300.4h0M377.3 285.5h0M320.3 431.9h0M438.4 286.4h0M326.1 330.5h0M355.7 488.6h0M384.4 484.7h0M313.7 390.5h0M378.3 473.7h0M299.2 391h0M407.2 278h0M354.6 480.7h0M314.4 441.9h0M315 404.5h0M354.2 302.6h0M319.1 379.2h0M383.8 292h0M317.1 420.2h0M348.8 470.9h0M347.6 492.2h0M356.6 464.6h0M331.1 311.6h0M387 288h0M319.8 402h0M374.2 480.6h0M381.3 280.9h0M333.3 307.7h0M395.6 272h0M320.5 430.1h0M330.4 409.6h0M356.6 491h0M404 281.2h0M327.5 441.5h0M360.2 283.8h0M430.1 278.5h0M360.9 484h0M324.8 324.7h0M347.4 304.5h0M330.3 341.1h0" style="fill:none;stroke:#ff8080;stroke-opacity:0.825;stroke-width:1.66;stroke-linecap:round"/><path d="M407.4 327.6h0M387.5 310.1h0M362.8 334.4h0M318.6 400.4h0M307.1 349.9h0M345.5 414.3h0M318.2 324.8h0M319.1 367.9h0M328.3 414.4h0M316.5 401.2h0M408.9 399.7h0M313 375.2h0M398.5 376.8h0M325 375.8h0M407.9 305.8h0M325.3 395.3h0M347.4 376.7h0M361.6 436.5h0M359.8 341.2h0M351.8 302.7h0M353.7 356.2h0M385.3 325h0M330 420.7h0M414.7 349.7h0M423 347.9h0M338.9 392.9h0M379.3 414.2h0M386.2 346.4h0M431.6 305.4h0M350.9 351.3h0M305.5 373.5h0M390.3 311.1h0M398.4 391.8h0M381.8 445.8h0M381.4 424.8h0M375.2 420.3h0M404.4 339.9h0M336 371.7h0M337.2 380.4h0M364.5 395.7h0M348 325.8h0M362.9 457.4h0M430.1 310.1h0M391.6 296.4h0M343.6 336.4h0M395.3 332.8h0M386 338.7h0M416.3 293.4h0M364.1 416.4h0M375.2 353.4h0M348.9 450.6h0M367.1 306.4h0M382.1 336.9h0M413.9 287h0M366.1 348.1h0M332.4 359.3h0M379.9 304.2h0M356.7 313.7h0M359.4 417.8h0M394.4 443.1h0M387.4 300.8h0M351.9 398.1h0M339.3 410h0M395.6 414h0M385.6 430.3h0M384.7 416.9h0M341.9 348.6h0M420.3 316.8h0M354.3 345.3h0M371.1 441.9h0M389.8 469.8h0M371.4 409.7h0M380.4 331.3h0M416.2 338.2h0M369.2 316.7h0M396.2 455.1h0M342.4 445.6h0M367.7 436h0M357.4 323.4h0M329.2 370.8h0M363.5 441.8h0M373.7 330.8h0M402.1 319.2h0M393.9 326h0M336.4 361.4h0M381 462.7h0M342.7 441.6h0M365.7 342.1h0M340.3 420.9h0M374.3 465.3h0M386.2 425.3h0M344 425h0M412.5 326.1h0M344.9 398h0M362.6 416.3h0M411.7 353h0M360.7 442h0M379 312.6h0M354.1 316.5h0M337.6 383.9h0M388.5 395.7h0M416 300.5h0M370.2 404.8h0" style="fill:none;stroke:#ff5555;stroke-opacity:0.825;stroke-width:1.66;stroke-linecap:round"/><path d="M350.1 382.4h0M336.1 315.7h0M337.4 328.5h0M411.9 317.5h0M391.2 375.8h0M375.9 354.9h0M318.4 378h0M325.7 334.3h0M362.6 392.4h0M359.1 400.5h0M367.3 389.8h0M382.3 347.9h0M421.9 333.5h0M362.2 305.6h0M383.5 418.3h0M344.8 404.7h0M361.3 323.1h0M386.4 402.4h0M341.8 338.5h0M368 335.4h0M345.2 362.6h0M379.3 351.6h0M391.3 312.4h0M378.7 367h0M333.7 347.9h0M397.6 406.4h0M375.3 352.3h0M381.6 428h0M410.5 399.4h0M376.1 424.2h0M329.6 377.1h0M364 341.8h0M390.1 422.2h0M389.5 322h0M422 319.1h0M405.7 407h0M356.6 403.6h0M366.4 342.5h0M416.6 358.4h0M417.2 360.6h0M355 397.3h0M371.4 386.9h0M378.7 418.5h0M386.5 317.2h0M421 341.7h0M390.2 410.3h0M364.3 401.9h0M364.6 371.3h0M406 401.3h0M420.6 332h0M369.4 381.3h0M408 324.6h0M407 349h0M397.6 396.7h0M362.7 390.8h0M423.9 347.6h0M336.5 361.3h0M393.2 400.7h0M335.1 399h0M419.3 349.3h0M384 343.9h0M340.5 390h0M359.6 336.5h0M376 336.7h0M419.4 335.5h0M377.8 352.3h0M368 380.1h0M365.9 378.6h0M363 354.8h0M390.1 395h0M375.6 412h0M382.4 425.1h0M410.5 336.3h0M397.1 359.6h0M364.5 417.1h0M389.8 420.5h0M406.2 355.6h0M364.9 385.3h0M378.2 424.6h0M381.5 419.6h0M392 373h0M417.7 363.7h0M370.2 366.3h0M364.9 380.2h0M348.3 394.1h0M391.2 328.6h0M376.8 364.5h0M383.7 386h0" style="fill:none;stroke:#ff2a2a;stroke-opacity:0.825;stroke-width:1.66;stroke-linecap:round"/><path d="M381.6 392.5h0M387.9 398.2h0M337 331.9h0M385.5 366.9h0M322.8 373.9h0M366.5 372.9h0M336.3 392.5h0M388.5 333.5h0M374.4 407.7h0M394.3 344.9h0M337.7 384.3h0M362.9 400h0M391.9 398.1h0M362.5 359.4h0M392 353.1h0M350.5 329.8h0M351.3 368.6h0M397.4 396.6h0M360.8 352h0M338.1 409.3h0M336.1 382.7h0M344.1 380.1h0M388.3 333.3h0M371 323.1h0M362.8 396.9h0M350.7 378h0M347.1 383.6h0M357.8 355.3h0M374.6 335.1h0M363.3 367.8h0M326.5 374.9h0M359.7 407.4h0M341 373.5h0M380.1 390.1h0M347.2 367.2h0M336.9 339.2h0M346.5 351.8h0M372.3 349.7h0M330 390.9h0M337.1 328.5h0M333.7 398h0M373.1 356.8h0M332.5 352.5h0M386.5 342.4h0M381.9 346.6h0M343.9 348.1h0M348.1 323h0M344.5 328.1h0M380.9 352.1h0M407.1 378.6h0M390 408.5h0M382.1 374.5h0M387.9 399.5h0M396.6 394.6h0M405 395h0M400 381.5h0M377.2 378.1h0M379.6 363h0M390.3 340h0M378 415.7h0M385.8 375.2h0M369 366.5h0M365.5 396.7h0M397.2 369.2h0M379.4 376.2h0M382.3 402.3h0M375.8 359.6h0" style="fill:none;stroke:#ff0000;stroke-opacity:0.825;stroke-width:1.66;stroke-linecap:round"/><path d="M308.5 314.3h0M311.2 306.5h0M304.7 320.2h0" style="fill:none;stroke:#ffd4d4;stroke-opacity:0.895;stroke-width:1.66;stroke-linecap:round"/><path d="M317.9 414h0M339.4 404.4h0M356.7 370.3h0M404.1 321.6h0M340.4 424.1h0M410.1 295h0M346.1 422.1h0M379.4 337.2h0M314.7 397.1h0M312.1 323h0M335.2 346.8h0M317.4 371.8h0M297.9 340.3h0M312.5 330.1h0M317.5 305.3h0M326.4 365.9h0M313.3 355h0M302.8 410.4h0M292.8 388h0M381.8 304.5h0M355.9 282.5h0" style="fill:none;stroke:#ffaaaa;stroke-opacity:0.895;stroke-width:1.66;stroke-linecap:round"/><path d="M340.1 360.4h0M369.4 345.3h0M385.3 407h0M391.1 342h0M388.7 417.5h0M407.4 346.7h0M355.1 309.5h0M402.7 350.2h0M360.1 336.7h0M336.6 433.5h0M325.3 373h0M375.5 442.9h0M384.8 335.3h0M368.5 389.5h0M354.9 382.8h0M359.5 446.1h0M414.3 313.8h0M364 470.7h0M349.3 345.3h0M354 372h0M369.5 469.6h0M342.2 365.2h0M334.2 390.1h0M361.1 338.2h0M395.6 291.9h0M393 341.5h0M347.4 340.5h0M354.4 439.1h0M356.1 361h0M353.2 320h0M411.8 310.2h0M364.8 343.1h0M341 437.2h0M390.5 301.6h0M407.1 323.5h0M393.4 287.6h0M409.6 297.2h0M357.7 370h0M348.7 336.9h0M328.5 431.3h0M366.5 396.9h0M343.6 323.2h0M367.5 403.9h0M336.2 361.1h0" style="fill:none;stroke:#ff8080;stroke-opacity:0.895;stroke-width:1.66;stroke-linecap:round"/><path d="M368.1 344.4h0M376.3 358.9h0M381.4 408.9h0M402.7 334.8h0M393.3 366.4h0M369.5 324.5h0M395.8 392.6h0M357.9 362.4h0M381.3 366.1h0M379.3 355.4h0M378.5 369.2h0M370.9 406.3h0M393.9 393.5h0M391.5 389.3h0M380.5 367.3h0M360 398.6h0M356.3 390.8h0M359.9 385h0M355.4 345.5h0M373.9 379.1h0" style="fill:none;stroke:#ff5555;stroke-opacity:0.895;stroke-width:1.66;stroke-linecap:round"/><path d="M305.5 303.7h0M381.3 352.2h0M360.2 410h0" style="fill:none;stroke:#ffd4d4;stroke-opacity:0.965;stroke-width:1.66;stroke-linecap:round"/><path d="M370.2 345.5h0M365.3 312.9h0M375.7 343.3h0M315.6 319.2h0M371.3 322.8h0M367.2 309.1h0M360.2 328.5h0M350.6 315h0M371 324.4h0M360 373.1h0M371.3 331.8h0M353.6 374.2h0M379.4 358.1h0M383.4 321.8h0" style="fill:none;stroke:#ffaaaa;stroke-opacity:0.965;stroke-width:1.66;stroke-linecap:round"/><path d="M366.5 382h0M369 359.4h0M385.8 317.4h0M387.6 355.8h0" style="fill:none;stroke:#ff8080;stroke-opacity:0.965;stroke-width:1.66;stroke-linecap:round"/></g><g><g><path d="M564.3 502.2L592 502.2L592 225L564.3 225Z" style="fill:#ffffff"/></g><defs><linearGradient id="m0cb0cb0cb" x1="0" y1="1" x2="0" y2="0"><stop offset="0" stop-color="#0000ff"/><stop offset="0.5" stop-color="#ffffff"/><stop offset="1" stop-color="#ff0000"/></linearGradient></defs><rect x="564.5" y="225.4" width="27.4" height="277.2" fill="url(#m0cb0cb0cb)"/><g/><g><g><g><defs><path id="m33c4ce201d" d="M0 0L3.5 0" style="stroke:#000000;stroke-width:0.8"/></defs><g><use href="#m33c4ce201d" x="592" y="467" style="stroke:#000000;stroke-width:0.8"/></g></g><g><text style="font-size:10px;font-family:'Liberation Sans',sans-serif;text-anchor:start" x="599" y="470.8" textLength="30.65" lengthAdjust="spacingAndGlyphs">−0.10</text></g></g><g><g><g><use href="#m33c4ce201d" x="592" y="415.3" style="stroke:#000000;stroke-width:0.8"/></g></g><g><text style="font-size:10px;font-family:'Liberation Sans',sans-serif;text-anchor:start" x="599" y="419.1" textLength="30.65" lengthAdjust="spacingAndGlyphs">−0.05</text></g></g><g><g><g><use href="#m33c4ce201d" x="592" y="363.6" style="stroke:#000000;stroke-width:0.8"/></g></g><g><text style="font-size:10px;font-family:'Liberation Sans',sans-serif;text-anchor:start" x="599" y="367.4" textLength="22.27" lengthAdjust="spacingAndGlyphs">0.00</text></g></g><g><g><g><use href="#m33c4ce201d" x="592" y="311.9" style="stroke:#000000;stroke-width:0.8"/></g></g><g><text style="font-size:10px;font-family:'Liberation Sans',sans-serif;text-anchor:start" x="599" y="315.7" textLength="22.27" lengthAdjust="spacingAndGlyphs">0.05</text></g></g><g><g><g><use href="#m33c4ce201d" x="592" y="260.2" style="stroke:#000000;stroke-width:0.8"/></g></g><g><text style="font-size:10px;font-family:'Liberation Sans',sans-serif;text-anchor:start" x="599" y="264" textLength="22.27" lengthAdjust="spacingAndGlyphs">0.10</text></g></g></g><g/><g><path d="M564.3 502.2L592 502.2L592 225L564.3 225L564.3 502.2Z" style="fill:none;stroke:#000000;stroke-width:0.8;stroke-linejoin:miter;stroke-linecap:square"/></g></g></g></svg></body></html>
